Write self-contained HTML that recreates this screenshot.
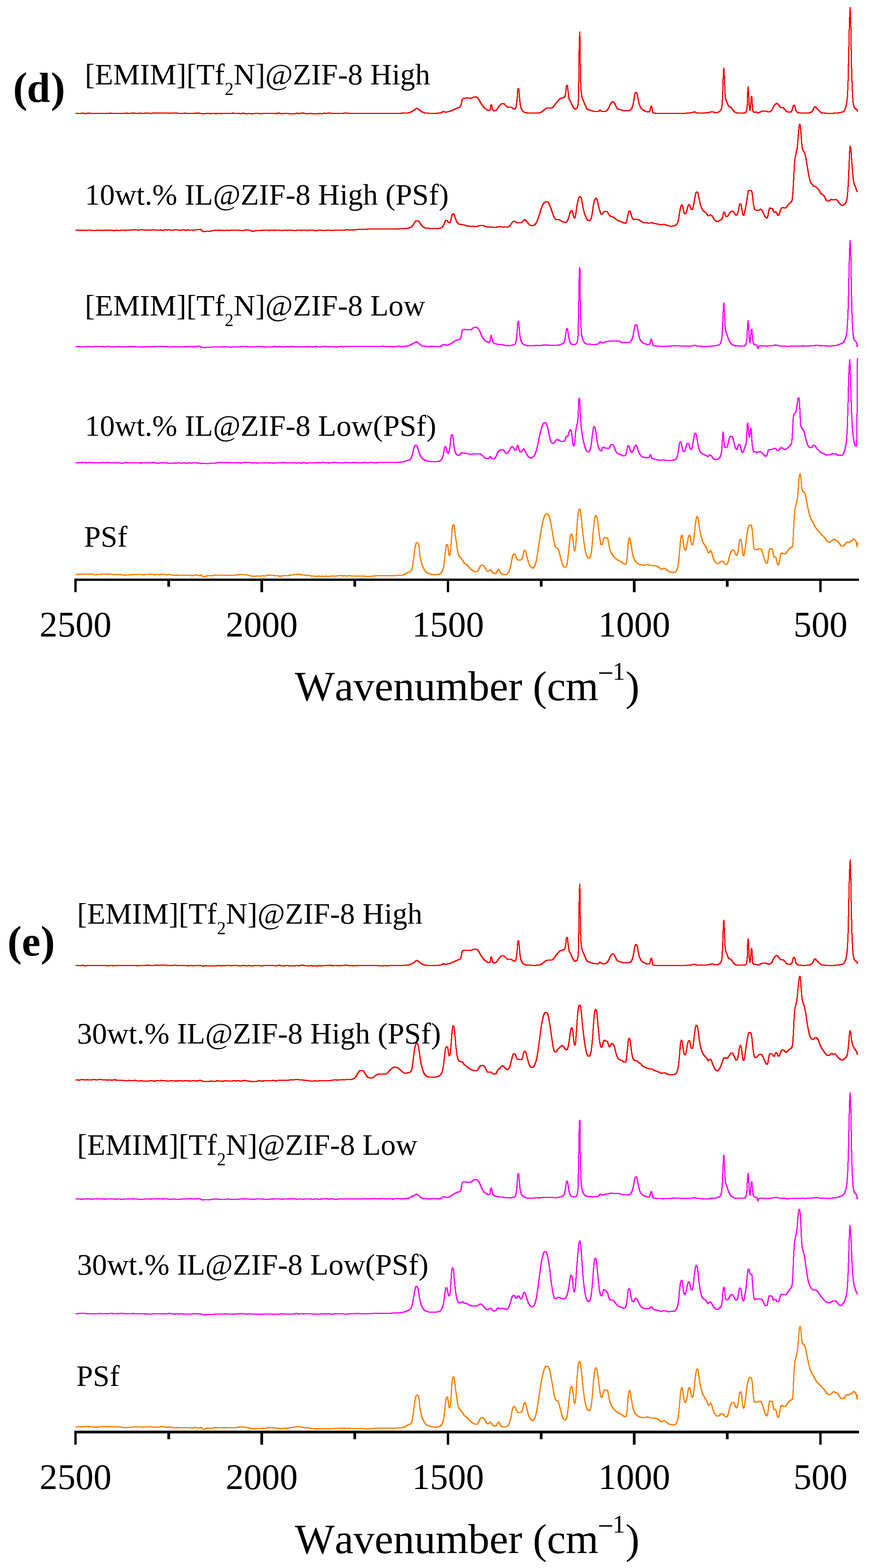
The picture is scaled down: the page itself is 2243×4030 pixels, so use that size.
<!DOCTYPE html>
<html><head><meta charset="utf-8"><title>Raman spectra</title>
<style>html,body{margin:0;padding:0;background:#fff;overflow:hidden}svg{display:block}text{font-family:"Liberation Serif",serif;fill:#000;font-kerning:none}
.r{stroke:#ff0000;filter:drop-shadow(1px 0 0 #ff0000) drop-shadow(-1px 0 0 #ff0000) drop-shadow(0 1px 0 #ff0000) drop-shadow(0 -1px 0 #ff0000)}
.m{stroke:#ff00ff;filter:drop-shadow(1px 0 0 #ff00ff) drop-shadow(-1px 0 0 #ff00ff) drop-shadow(0 1px 0 #ff00ff) drop-shadow(0 -1px 0 #ff00ff)}
.o{stroke:#ff8000;filter:drop-shadow(1px 0 0 #ff8000) drop-shadow(-1px 0 0 #ff8000) drop-shadow(0 1px 0 #ff8000) drop-shadow(0 -1px 0 #ff8000)}</style>
</head><body>
<svg width="2243" height="4030" viewBox="0 0 2243 4030">
<rect width="2243" height="4030" fill="#fff"/>
<g fill="none" stroke-width="1" stroke-linejoin="round" shape-rendering="crispEdges">
<path d="M195,291.8l1,-0.1 1,-0.1 1,0 1,-0.2 1,0 1,0 1,0 1,-0.1 1,0 1,0 1,0.1 1,0 1,0 1,-0.1 1,-0.2 1,-0.3 1,-0.1 1,0.2 1,0.2 1,0.3 1,0.3 1,0.3 1,0 1,0.1 1,0 1,-0.2 1,-0.2 1,-0.3 1,-0.2 1,-0.2 1,-0.1 1,-0.1 1,0.1 1,0.1 1,0 1,0.2 1,0.2 1,0.1 1,0.1 1,0.1 1,0.1 1,-0.1 1,-0.1 1,0.1 1,-0.1 1,-0.1 1,-0.1 1,0 1,-0.1 1,-0.1 1,-0.1 1,0 1,0 1,-0.1 1,0.1 1,0.1 1,0 1,0.1 1,0.1 1,0 1,0.1 1,0.1 1,0 1,0 1,0.1 1,-0.1 1,-0.1 1,-0.1 1,-0.1 1,-0.1 1,-0.1 1,0.1 1,0 1,-0.1 1,0.1 1,0.2 1,0.1 1,0.1 1,0.2 1,0.1 1,0 1,0 1,-0.1 1,-0.2 1,-0.2 1,-0.2 1,-0.2 1,0 1,0 1,0 1,0.2 1,0.3 1,0.2 1,0.1 1,0 1,0 1,-0.1 1,-0.2 1,-0.1 1,0.1 1,-0.1 1,0.1 1,0.1 1,0 1,0 1,-0.1 1,0 1,0 1,0 1,-0.2 1,0 1,0.1 1,-0.2 1,0 1,0.2 1,0 1,-0.2 1,0 1,0.1 1,-0.2 1,0 1,0.1 1,0.1 1,-0.1 1,0 1,-0.1 1,-0.1 1,-0.2 1,0 1,0.1 1,0 1,0.2 1,0.2 1,0.1 1,0.1 1,0 1,-0.1 1,0 1,-0.1 1,-0.1 1,-0.1 1,-0.1 1,-0.1 1,0 1,0 1,0 1,0.1 1,-0.1 1,0 1,-0.1 1,0.1 1,0.2 1,0.1 1,0.2 1,0.3 1,0.1 1,0 1,0.1 1,-0.2 1,-0.2 1,-0.2 1,-0.2 1,-0.1 1,0 1,-0.1 1,-0.1 1,0.1 1,0.1 1,0.1 1,0.2 1,0.3 1,0.1 1,0 1,0 1,0 1,-0.3 1,-0.4 1,-0.2 1,0 1,-0.1 1,0 1,0.2 1,0 1,-0.1 1,-0.2 1,0.1 1,0 1,0.2 1,0.3 1,0.2 1,0.1 1,0.1 1,-0.1 1,-0.3 1,0 1,-0.2 1,-0.2 1,0 1,0.1 1,0 1,-0.1 1,0 1,-0.1 1,-0.1 1,-0.1 1,0 1,-0.1 1,0.1 1,0.1 1,0.1 1,0.1 1,0.1 1,0 1,-0.1 1,-0.1 1,-0.1 1,-0.2 1,0 1,0.1 1,0 1,0.1 1,0 1,0.1 1,-0.1 1,0 1,0.1 1,-0.1 1,0 1,0.1 1,0 1,-0.1 1,0.1 1,0.1 1,0 1,0 1,0.2 1,-0.1 1,-0.1 1,0.1 1,0.1 1,0 1,0.1 1,0 1,-0.1 1,0 1,0 1,0 1,0 1,0 1,0 1,-0.1 1,-0.1 1,-0.1 1,-0.2 1,0 1,0.1 1,0.1 1,0.1 1,0.2 1,0 1,0 1,0.1 1,0 1,0 1,0.3 1,-0.1 1,0 1,0 1,0 1,-0.2 1,0.2 1,0.1 1,-0.1 1,0 1,0.1 1,-0.2 1,0 1,-0.2 1,0 1,-0.1 1,0.2 1,0.1 1,0.3 1,0.1 1,0.1 1,0.1 1,0 1,0 1,0 1,0 1,-0.2 1,-0.2 1,-0.1 1,-0.1 1,0.1 1,0.1 1,0.2 1,0.2 1,0.2 1,0 1,0 1,-0.2 1,-0.1 1,-0.3 1,-0.2 1,-0.2 1,-0.1 1,0 1,0.1 1,0 1,0.2 1,-0.1 1,0 1,-0.2 1,0 1,-0.1 1,0 1,0.2 1,0.2 1,0.3 1,0.2 1,0.1 1,0 1,0.1 1,0.3 1,0.4 1,0.3 1,0.1 1,-0.1 1,-0.3 1,-0.4 1,-0.3 1,-0.1 1,-0.2 1,0.1 1,0.1 1,0.1 1,0 1,-0.1 1,0 1,0 1,0 1,0 1,0.2 1,0.1 1,0 1,-0.1 1,0 1,-0.1 1,0 1,0 1,0 1,0.1 1,0 1,-0.1 1,0.1 1,0 1,0.1 1,-0.1 1,0 1,0.1 1,-0.1 1,-0.4 1,0 1,-0.1 1,-0.2 1,0 1,0.3 1,0.1 1,0.1 1,0.2 1,0.1 1,0 1,-0.2 1,0 1,-0.1 1,-0.1 1,0 1,0.1 1,0 1,0 1,0 1,-0.1 1,-0.2 1,-0.2 1,-0.1 1,-0.1 1,0 1,0 1,0 1,0.1 1,0 1,0 1,0.2 1,0.2 1,0.1 1,0.1 1,0 1,-0.1 1,-0.2 1,-0.3 1,-0.3 1,0 1,0 1,0.1 1,0.2 1,0.4 1,0 1,0.1 1,0 1,0 1,-0.1 1,0 1,0.1 1,0 1,0 1,0 1,0.1 1,0 1,0.1 1,0.1 1,0.1 1,-0.1 1,0.1 1,-0.2 1,-0.2 1,-0.3 1,-0.1 1,-0.2 1,-0.2 1,0.1 1,0.2 1,0.3 1,0.3 1,0.2 1,0.1 1,0 1,0.1 1,0 1,0.1 1,0 1,-0.2 1,-0.2 1,-0.3 1,-0.1 1,-0.1 1,0.2 1,0.3 1,0.3 1,0.2 1,0.3 1,0 1,-0.2 1,-0.1 1,-0.2 1,-0.3 1,-0.2 1,-0.1 1,-0.1 1,-0.1 1,0 1,-0.1 1,-0.1 1,0 1,0 1,0.2 1,0.1 1,0.1 1,0.1 1,0 1,0 1,0.1 1,0.2 1,0.3 1,0.1 1,0.2 1,-0.1 1,-0.2 1,-0.3 1,-0.3 1,-0.2 1,-0.1 1,0.1 1,0.1 1,0 1,-0.1 1,-0.1 1,-0.2 1,-0.1 1,0 1,0 1,0 1,0.1 1,-0.1 1,-0.1 1,0.1 1,0.2 1,0 1,0.2 1,0.1 1,-0.1 1,-0.2 1,0 1,0 1,-0.1 1,0.1 1,0.2 1,0.1 1,0.1 1,0 1,0 1,0.1 1,0.1 1,0 1,0.2 1,0.1 1,-0.4 1,-0.2 1,-0.3 1,-0.5 1,-0.2 1,0 1,0.1 1,0.2 1,0.4 1,0.3 1,0.3 1,0.3 1,0.2 1,0 1,0 1,-0.1 1,-0.1 1,-0.2 1,-0.1 1,0 1,0 1,-0.1 1,-0.1 1,-0.1 1,-0.1 1,-0.3 1,0 1,0.2 1,0.1 1,0.3 1,0.3 1,0 1,0 1,0 1,0 1,-0.1 1,0.1 1,0.1 1,0 1,0 1,-0.1 1,-0.1 1,0.1 1,-0.1 1,0.1 1,0.2 1,0 1,-0.2 1,-0.2 1,-0.4 1,-0.4 1,-0.1 1,0 1,0.3 1,0.3 1,0.3 1,0.1 1,0.1 1,-0.3 1,-0.3 1,-0.2 1,-0.3 1,-0.4 1,0 1,0 1,-0.2 1,0.2 1,0.1 1,0.1 1,0.3 1,0.2 1,0.2 1,0.2 1,0.1 1,0.1 1,0.2 1,0.3 1,0.2 1,0.1 1,0 1,-0.1 1,-0.3 1,-0.3 1,-0.1 1,-0.1 1,0 1,-0.1 1,0 1,0.1 1,0.2 1,0.1 1,0.3 1,0.2 1,0.2 1,-0.1 1,0 1,-0.2 1,-0.3 1,-0.1 1,0.1 1,0.1 1,0.2 1,0.4 1,0 1,-0.3 1,-0.2 1,-0.2 1,-0.4 1,-0.1 1,0 1,0 1,0 1,0.2 1,0.1 1,0.2 1,0.1 1,-0.1 1,-0.2 1,-0.3 1,-0.4 1,-0.3 1,-0.1 1,0 1,0.2 1,0.2 1,0.1 1,0 1,-0.1 1,-0.2 1,0 1,-0.1 1,0 1,0 1,0 1,-0.2 1,0 1,-0.1 1,0.1 1,0.2 1,0.3 1,0.3 1,0.3 1,0 1,0 1,-0.2 1,-0.3 1,-0.1 1,0 1,0 1,0.2 1,0.1 1,0 1,0.1 1,-0.1 1,0 1,0 1,0.1 1,0 1,0.2 1,0 1,-0.1 1,-0.3 1,-0.1 1,-0.2 1,-0.1 1,0.1 1,0.3 1,0.1 1,0.1 1,-0.1 1,-0.2 1,-0.3 1,-0.2 1,-0.3 1,-0.1 1,-0.1 1,-0.1 1,0 1,0.1 1,0.1 1,0.2 1,0.2 1,0.2 1,0.2 1,0.2 1,0.2 1,0.1 1,0.1 1,-0.1 1,-0.2 1,-0.1 1,-0.1 1,0.1 1,0.2 1,0.1 1,0.1 1,0 1,-0.1 1,-0.2 1,-0.2 1,-0.1 1,0.1 1,0.1 1,0.1 1,0.2 1,0 1,-0.1 1,-0.1 1,-0.1 1,-0.1 1,0 1,0 1,-0.1 1,0 1,-0.1 1,0.1 1,0 1,0.1 1,0.1 1,0.1 1,0.1 1,0 1,-0.1 1,-0.1 1,0 1,0 1,0.1 1,0 1,0 1,0 1,0 1,-0.1 1,0 1,0 1,0 1,0 1,0 1,0.1 1,0 1,0 1,0.1 1,0 1,0 1,0 1,0 1,0 1,-0.1 1,0 1,-0.1 1,0 1,-0.1 1,0 1,0 1,0.1 1,0.1 1,0 1,0.1 1,0 1,0 1,0 1,0 1,0 1,0.1 1,0 1,0 1,0 1,0 1,0 1,0 1,0 1,0 1,0 1,0 1,0 1,-0.1 1,0 1,0 1,0 1,0 1,0.1 1,0 1,0 1,0 1,0 1,0 1,-0.1 1,0 1,0 1,0 1,0 1,0 1,0 1,0 1,0 1,-0.1 1,0 1,0 1,0 1,0 1,0 1,-0.1 1,0 1,0 1,0 1,0 1,-0.1 1,0 1,0 1,0 1,0 1,-0.1 1,0 1,0 1,0 1,-0.1 1,0 1,0 1,-0.1 1,0 1,0 1,-0.1 1,0 1,0 1,-0.1 1,0 1,0 1,-0.1 1,0 1,-0.1 1,0 1,-0.1 1,0 1,-0.1 1,-0.1 1,-0.1 1,-0.1 1,-0.1 1,-0.1 1,-0.1 1,-0.2 1,-0.2 1,-0.4 1,-0.4 1,-0.5 1,-0.4 1,-0.6 1,-0.5 1,-0.5 1,-0.5 1,-0.6 1,-0.7 1,-0.7 1,-0.6 1,-0.7 1,-0.7 1,-0.8 1,-1 1,-0.8 1,-0.7 0.9,-0.2 1.1,0.3 1,0.6 1,0.9 1,0.8 1,0.9 1,0.7 1,0.7 1,0.8 1,0.8 1,0.8 1,0.7 1,0.6 1,0.5 1,0.4 1,0.5 1,0.4 1,0.5 1,0.3 1,0.4 1,0.3 1,0.2 1,0.2 1,0.1 1,0 1,0.1 1,0.1 1,0.1 1,0 1,0.1 1,0 1,0.1 1,0.1 1,0 1,0 1,0.1 1,0 1,0 1,0.1 1,0 1,0 1,0 1,0 1,0 1,0 1,0 1,0 1,0 1,-0.1 1,0 1,-0.1 1,0 1,-0.1 1,-0.1 1,0 1,-0.1 1,-0.1 1,-0.1 1,-0.1 1,-0.2 1,-0.1 1,-0.1 1,-0.2 1,-0.3 1,-0.6 1,-0.8 1,-0.9 1,-0.6 1,-0.4 1,0.2 1,0.5 1,0.6 1,0.4 1,0.1 1,0 1,-0.1 1,-0.1 1,-0.2 1,-0.2 1,-0.1 1,-0.2 1,-0.2 1,-0.2 1,-0.3 1,-0.3 1,-0.3 1,-0.4 1,-0.4 1,-0.4 1,-0.4 1,-0.5 1,-0.4 1,-0.4 1,-0.5 1,-0.4 1,-0.4 1,-0.5 1,-0.4 1,-0.5 1,-0.4 1,-0.5 1,-0.5 1,-0.4 1,-0.5 1,-0.4 1,-0.4 1,-0.4 1,-0.3 1,-0.3 1,-0.4 1,-0.4 1,-0.6 1,-1.3 1,-2.3 1,-3 1,-5.3 1,-6.2 1,-2.1 1,-0.9 1,-0.7 1,-0.5 1,-0.2 1,-0.1 1,-0.1 1,0 1,-0.1 1,-0.1 1,0 1,-0.1 1,0 1,0 1,0 1,0 1,0.1 1,0.1 1,0.1 1,0.1 1,0.1 1,0.1 1,-0.1 1,-0.2 1,-0.4 1,-0.4 1,-0.5 1,-0.5 1,-0.4 1,-0.2 1,-0.2 1,-0.2 1,-0.2 1,-0.2 1,0 1,0 1,0.3 1,0.5 1,0.7 1,0.8 1,1 1,1.5 1,1.6 1,1.7 1,1.7 1,1.7 1,1.9 1,1.9 1,1.7 1,1.6 1,1.5 1,1.3 1,1.4 1,1.2 1,1.2 1,1.2 1,1 1,1 1,0.8 1,0.8 1,0.9 1,0.8 1,0.7 1,0.7 1,0.6 1,0.5 1,0.2 0.8,0.1 1.2,0 1,-0.2 1,-0.2 1,-0.4 1,-3.7 1,-7.8 1,-1.7 1,0 1,5.1 1,6.4 1,1.6 1,1.1 1,0.8 1,0.4 0.5,0.1 0.5,0 1,-0.2 1,-0.4 1,-0.4 1,-0.6 1,-0.6 1,-0.7 1,-1.1 1,-1.5 1,-1.7 1,-1.7 1,-1.6 1,-1.4 1,-1.1 1,-1.1 1,-1.1 1,-1 1,-0.9 1,-0.7 1,-0.5 1,-0.2 1,0 1,0 1,0 1,0 1,0.2 1,0.9 1,1.2 1,1.3 1,1 1,1 1,1 1,0.9 1,0.8 1,0.4 1,0.1 1,0 1,0 1,0 1,0 1,0 1,0 1,0 1,0.2 1,0.4 1,0.6 1,0.6 1,0.7 1,0.6 1,0.6 1,0.7 1,0.6 1.2,0.3 0.8,-0.4 1,-1.3 1,-1.9 1,-2.7 1,-5.8 1,-8.2 1,-9.7 1,-14.9 1,-7.8 1,0 1,0.7 1,10.8 1,11.8 1,10.3 1,8.7 1,4.5 1,3.3 1,2.5 1,1.8 1,1.5 1,1.3 1,1.2 1,0.9 1,0.8 1,0.5 1,0.3 1,0.3 1,0.3 1,0.3 1,0.2 1,0.2 1,0.1 1,0.2 1,0.1 1,0 1,0.1 1,0 1,0 1,0.1 1,0 1,0 1,0 1,0 1,0.1 1,0 1,0 1,0 1,0 1,0 1,0 1,0 1,0 1,0 1,0 1,0 1,0 1,-0.1 1,0 1,-0.1 1,-0.1 1,-0.1 1,-0.1 1,-0.1 1,-0.2 1,-0.1 1,-0.3 1,-0.5 1,-0.5 1,-0.7 1,-0.7 1,-0.8 1,-0.7 1,-0.7 1,-0.7 1,-0.8 1,-0.9 1,-0.9 1,-0.9 1,-0.9 1,-0.7 1,-0.6 1,-0.3 1,-0.2 1,-0.1 1,-0.2 1,0 1,-0.1 1,-0.1 1,0 1,-0.1 1,0 1,-0.1 1,-0.1 1,-0.1 1,-0.1 1,-0.1 1,-0.2 1,-0.5 1,-0.8 1,-1.2 1,-1.4 1,-1.6 1,-1.5 1,-1.4 1,-1.2 1,-1.2 1,-1.2 1,-1.3 1,-1.2 1,-1.2 1,-1.1 1,-1.1 1,-1.2 1,-1.2 1,-1.1 1,-1 1,-0.8 1,-0.4 1,-0.4 1,-0.3 1,-0.2 1,-0.2 1,-0.2 1,-0.3 1,-0.4 1,-0.4 1,-0.5 1,-0.6 1,-1 1,-2.4 1,-5.4 1,-7 1,-10.7 1,-3.7 1,-0.4 0.4,0 0.6,2.2 1,9.1 1,8.2 1,8.4 1,6 1,2.7 1,1.8 1,1.6 1,1.8 1,2.2 1,2.5 1,2.5 1,2.4 1,2.1 1,1.6 1,1.5 1,1.5 1,1.3 1,1.1 1,0.6 0.6,0.1 0.4,0 1,-0.2 1,-0.5 1,-0.6 1,-0.8 1,-1.5 1,-3 1,-4.6 1,-11.7 1,-47.1 1,-81.6 1.3,-46.1 0.7,12.9 1,71.7 1,45.9 1,19.6 1,9.5 1,5.9 1,3.8 1,2.9 1,2.3 1,2.2 1,2.4 1,2.4 1,2.4 1,2.3 1,2.2 1,2.3 1,2.4 1,2.1 1,1.6 1,0.8 1,0.6 1,0.5 1,0.5 1,0.4 1,0.3 1,0.4 1,0.3 1,0.3 1,0.3 1,0.3 1,0.3 1,0.3 1,0.3 1,0.3 1,0.3 1,0.2 1,0.2 1,0.2 1,0.1 1,0.2 1,0.1 1,0.1 1,0 1,0.1 1,0.1 1,0.1 1,0 1,0 1,-0.1 1,-1.1 1,-1.7 1,-1.3 0.5,-0.2 0.5,0.2 1,0.9 1,1.1 1,0.8 1,0.4 1,0.3 1,0.3 1,0.2 1,0.2 1,0 1,0 1,-0.2 1,-0.3 1,-0.4 1,-0.4 1,-0.6 1,-0.5 1,-0.7 1,-0.7 1,-1.2 1,-1.6 1,-1.8 1,-1.8 1,-2 1,-2.4 1,-2.4 1,-2.3 1,-1.7 1,-1.2 1,-1.1 1,-1 1,-0.8 1,-0.5 0.9,-0.1 1.1,0.5 1,1 1,1.4 1,1.4 1,1.8 1,2.2 1,2.3 1,1.9 1,1.6 1,1.6 1,1.4 1,1 1,0.6 1,0.5 1,0.4 1,0.3 1,0.3 1,0.3 1,0.3 1,0.2 1,0.3 1,0.3 1,0.3 1,0.3 1,0.3 1,0.3 1,0.2 1,0.2 1,0.1 1,0.1 1,0 1,0 1,0 1,0 1,0 1,0 1,0 1,0 1,0 1,-0.1 1,-0.3 1,-0.4 1,-0.5 1,-0.6 1,-0.7 1,-0.8 1,-1.1 1,-1.6 1,-2.1 1,-2.6 1,-3.2 1,-4.9 1,-5.6 1,-5.6 1,-6.5 1,-5.3 1,-2.6 1,-1.9 1.3,-1.1 0.7,0.4 1,1.4 1,2.1 1,3.5 1,6.2 1,6.1 1,4.7 1,4.2 1,3.4 1,2.6 1,2.3 1,1.9 1,1.6 1,1.2 1,1.1 1,0.9 1,0.9 1,0.7 1,0.7 1,0.6 1,0.5 1,0.5 1,0.5 1,0.5 1,0.4 1,0.4 1,0.4 1,0.3 1,0.2 1,0.2 1,0 1,-0.1 1,-0.3 1,-0.5 1,-0.7 1,-1.9 1,-5.4 1,-3.9 1,-2 0.6,-0.4 0.4,0.6 1,3.9 1,5.1 1,6.2 1,1.8 1,0.3 1,0.2 1,0.1 1,0.2 1,0.1 1,0.1 1,0.1 1,0.1 1,0 1,0.1 1,0 1,0.1 1,0 1,0 1,0 1,0 1,0.1 1,0 1,0 1,0 1,0 1,0 1,0.1 1,0 1,0 1,0 1,0 1,0 1,0 1,0 1,0.1 1,0 1,0 1,0 1,0 1,0 1,0 1,0 1,0 1,0 1,0 1,0 1,0 1,0 1,0 1,0 1,0 1,0 1,0 1,0 1,0 1,0 1,0 1,0 1,0 1,0 1,0 1,-0.1 1,0 1,0 1,0 1,0 1,0 1,0 1,0 1,-0.1 1,0 1,0 1,0 1,0 1,0 1,-0.1 1,0 1,0 1,0 1,0 1,-0.1 1,0 1,0 1,-0.1 1,0 1,-0.1 1,0 1,-0.1 1,0 1,-0.1 1,-0.1 1,0 1,-0.1 1,-0.1 1,-0.1 1,-0.1 1,-0.1 1,-0.1 1,0 1,-0.1 1,-0.2 1,-0.1 1,-0.2 1,-0.3 1,-0.3 1,-0.3 1,-0.2 1,-0.3 1,-0.2 1,-0.1 1,0 1,0.2 1,0.4 1,0.5 1,0.5 1,0.4 1,0.4 1,0.2 1,0 1,0 1,0 1,0 1,0 1,0 1,0 1,0 1,0 1,-0.1 1,0 1,0 1,0 1,-0.1 1,0 1,0 1,-0.1 1,0 1,0 1,-0.1 1,0 1,-0.1 1,0 1,-0.1 1,0 1,-0.1 1,-0.1 1,-0.1 1,-0.2 1,-0.3 1,-0.3 1,-0.4 1,-0.3 1,-0.3 1,-0.2 1,-0.2 1,-0.1 1,0 1,0.2 1,0.2 1,0.3 1,0.3 1,0.3 1,0.4 1,0.3 1,0.2 1,0.2 1.2,0.1 0.8,-0.1 1,-0.1 1,-0.3 1,-0.3 1,-0.5 1,-0.5 1,-0.6 1,-0.6 1,-0.7 1,-0.8 1,-1 1,-1.4 1,-2 1,-2.7 1,-7.3 1,-14.4 1,-21.5 1,-32.4 1,-21.3 0.6,-5.8 0.4,2 1,17 1,25.9 1,21.4 1,10.1 1,4.2 1,2.5 1,2 1,2.1 1,2.7 1,2.9 1,2.6 1,1.9 1,0.8 1,0.4 1,0.2 1,0.3 1,0.3 1,0.8 1,1.2 1,1.5 1,1.6 1,1.4 1,1.3 1,1.4 1,1.3 1,1.2 1,1 1,0.7 1,0.5 1,0.4 1,0.4 1,0.3 1,0.2 1,0.2 1,0.2 1,0 1,0 1,0 1,0 1,0 1,0 1,0 1,0 1,0 1,0 1,0 1,0 1,0 1,0 1,0 1,0 1,-0.1 1,-0.1 1,-0.4 1,-0.5 1,-0.7 1,-0.9 1,-1.8 1,-5.8 1,-10.5 1,-33 1.3,-13.5 0.7,6.6 1,19.7 1,23 1,8.8 1,2.4 1,-6.5 1,-12.2 1,-14.4 1.3,-2.7 0.7,4.9 1,16.2 1,14.6 1,2.7 1,1.8 1,0.8 0.5,0 0.5,0 1,-0.1 1,-0.3 1,-0.2 1,-0.2 1,-0.1 1,0.4 1,0.7 1,0.7 1,0.6 1,0.1 1,-0.2 1,-0.4 1,-0.6 1,-0.6 1,-0.6 1,-0.5 1,-0.4 1,-0.5 1,-0.4 1,-0.5 1,-0.3 1,-0.2 1,-0.1 1,0 1,0.1 1,0 1,0 1,0.1 1,0.1 1,0 1,0.2 1,0.3 1,0.6 1,0.6 1,0.5 1,0.3 0.5,0 0.5,0 1,-0.1 1,-0.3 1,-0.4 1,-0.6 1,-0.6 1,-0.7 1,-0.8 1,-1.1 1,-1.9 1,-2.3 1,-2.4 1,-1.9 1,-1.7 1,-1.7 1,-1.5 1,-1.3 1,-0.8 1,-0.8 1,-0.6 1,-0.5 1.2,-0.2 0.8,0.2 1,0.9 1,1.2 1,1.3 1,1.2 1,1.4 1,1.5 1,1.4 1,0.9 1,0.3 1,0.1 1,0.1 1,0 1,0.1 1,0.1 1,0.2 1,0.7 1,1.1 1,1.3 1,1.2 1,1 1,1.3 1,1.2 1,1.2 1,0.9 1,0.7 1,0.2 1,0.2 1,0.2 1,0.1 1,0.2 1,0 1,0.1 1,0 1,-0.1 1,-0.6 1,-1 1,-1.2 1,-1.5 1,-3.4 1,-4.3 1,-2.9 1,-1.7 1.3,-1.2 0.7,0.5 1,2 1,2.7 1,4.3 1,4.5 1,1.9 1,1.1 1,0.8 1,0.7 1,0.5 1,0.3 1,0.2 1,0.2 1,0.1 1,0.2 1,0.1 1,0.1 1,0.1 1,0.1 1,0.1 1,0.1 1,0 1,0.1 1,0 1,0 1,0 1,0 1,0 1,0 1,-0.1 1,0 1,-0.1 1,0 1,-0.1 1,-0.1 1,0 1,-0.1 1,-0.1 1,-0.1 1,-0.3 1,-0.3 1,-0.4 1,-0.5 1,-0.5 1,-0.7 1,-0.8 1,-0.8 1,-1.2 1,-2.2 1,-2.6 1,-2.2 1,-1.5 1,-1.5 1.1,-0.6 0.9,0.3 1,0.9 1,1.2 1,1.2 1,1.1 1,1.1 1,1.1 1,1.1 1,1 1,0.8 1,0.9 1,0.9 1,1 1,1 1,0.9 1,0.6 1,0.5 1,0.4 1,0.2 1,0.2 1,0.1 1,0 1,-0.1 1,0 1,0 1,0 1,0.1 1,0.3 1,0.2 1,0.2 1,0.2 1,0.2 1,-0.1 1,-0.1 1,-0.1 1,-0.2 1,-0.1 1,0.2 1,0.1 1,0.2 1,0 1,0 1,-0.1 1,-0.2 1,-0.1 1,0 1,-0.2 1,-0.1 1,0 1,-0.1 1,-0.1 1,0 1,0 1,-0.2 1,0 1,0 1,0 1,-0.2 1,0 1,-0.2 1,-0.2 1,-0.2 1,0 1,-0.2 1,-0.2 1,-0.3 1,-0.3 1,-0.3 1,-0.2 1,-0.3 1,-0.3 1,-0.3 1,-0.4 1,-1 1,-1.2 1,-1.8 1,-2.2 1,-2.4 1,-2.9 1,-4.2 1,-5.5 1,-7 1,-10 1,-16.2 1,-23.4 1,-42.8 1,-45 1,-44.1 1,-32.4 1.3,-25 0.7,11.3 1,36.2 1,59.4 1,47.3 1,35.5 1,24.6 1,18.2 1,10.1 1,6.8 1,4 1,2.4 1,1.8 1,1.2 1,1 1,0.8 1,0.3 1,0.5 1,1.2 1,2.8 0.2,0.8" stroke="#ff0000" stroke-width="3"/><g class="r"><path d="M195,291.8l1,-0.1 1,-0.1 1,0 1,-0.2 1,0 1,0 1,0 1,-0.1 1,0 1,0 1,0.1 1,0 1,0 1,-0.1 1,-0.2 1,-0.3 1,-0.1 1,0.2 1,0.2 1,0.3 1,0.3 1,0.3 1,0 1,0.1 1,0 1,-0.2 1,-0.2 1,-0.3 1,-0.2 1,-0.2 1,-0.1 1,-0.1 1,0.1 1,0.1 1,0 1,0.2 1,0.2 1,0.1 1,0.1 1,0.1 1,0.1 1,-0.1 1,-0.1 1,0.1 1,-0.1 1,-0.1 1,-0.1 1,0 1,-0.1 1,-0.1 1,-0.1 1,0 1,0 1,-0.1 1,0.1 1,0.1 1,0 1,0.1 1,0.1 1,0 1,0.1 1,0.1 1,0 1,0 1,0.1 1,-0.1 1,-0.1 1,-0.1 1,-0.1 1,-0.1 1,-0.1 1,0.1 1,0 1,-0.1 1,0.1 1,0.2 1,0.1 1,0.1 1,0.2 1,0.1 1,0 1,0 1,-0.1 1,-0.2 1,-0.2 1,-0.2 1,-0.2 1,0 1,0 1,0 1,0.2 1,0.3 1,0.2 1,0.1 1,0 1,0 1,-0.1 1,-0.2 1,-0.1 1,0.1 1,-0.1 1,0.1 1,0.1 1,0 1,0 1,-0.1 1,0 1,0 1,0 1,-0.2 1,0 1,0.1 1,-0.2 1,0 1,0.2 1,0 1,-0.2 1,0 1,0.1 1,-0.2 1,0 1,0.1 1,0.1 1,-0.1 1,0 1,-0.1 1,-0.1 1,-0.2 1,0 1,0.1 1,0 1,0.2 1,0.2 1,0.1 1,0.1 1,0 1,-0.1 1,0 1,-0.1 1,-0.1 1,-0.1 1,-0.1 1,-0.1 1,0 1,0 1,0 1,0.1 1,-0.1 1,0 1,-0.1 1,0.1 1,0.2 1,0.1 1,0.2 1,0.3 1,0.1 1,0 1,0.1 1,-0.2 1,-0.2 1,-0.2 1,-0.2 1,-0.1 1,0 1,-0.1 1,-0.1 1,0.1 1,0.1 1,0.1 1,0.2 1,0.3 1,0.1 1,0 1,0 1,0 1,-0.3 1,-0.4 1,-0.2 1,0 1,-0.1 1,0 1,0.2 1,0 1,-0.1 1,-0.2 1,0.1 1,0 1,0.2 1,0.3 1,0.2 1,0.1 1,0.1 1,-0.1 1,-0.3 1,0 1,-0.2 1,-0.2 1,0 1,0.1 1,0 1,-0.1 1,0 1,-0.1 1,-0.1 1,-0.1 1,0 1,-0.1 1,0.1 1,0.1 1,0.1 1,0.1 1,0.1 1,0 1,-0.1 1,-0.1 1,-0.1 1,-0.2 1,0 1,0.1 1,0 1,0.1 1,0 1,0.1 1,-0.1 1,0 1,0.1 1,-0.1 1,0 1,0.1 1,0 1,-0.1 1,0.1 1,0.1 1,0 1,0 1,0.2 1,-0.1 1,-0.1 1,0.1 1,0.1 1,0 1,0.1 1,0 1,-0.1 1,0 1,0 1,0 1,0 1,0 1,0 1,-0.1 1,-0.1 1,-0.1 1,-0.2 1,0 1,0.1 1,0.1 1,0.1 1,0.2 1,0 1,0 1,0.1 1,0 1,0 1,0.3 1,-0.1 1,0 1,0 1,0 1,-0.2 1,0.2 1,0.1 1,-0.1 1,0 1,0.1 1,-0.2 1,0 1,-0.2 1,0 1,-0.1 1,0.2 1,0.1 1,0.3 1,0.1 1,0.1 1,0.1 1,0 1,0 1,0 1,0 1,-0.2 1,-0.2 1,-0.1 1,-0.1 1,0.1 1,0.1 1,0.2 1,0.2 1,0.2 1,0 1,0 1,-0.2 1,-0.1 1,-0.3 1,-0.2 1,-0.2 1,-0.1 1,0 1,0.1 1,0 1,0.2 1,-0.1 1,0 1,-0.2 1,0 1,-0.1 1,0 1,0.2 1,0.2 1,0.3 1,0.2 1,0.1 1,0 1,0.1 1,0.3 1,0.4 1,0.3 1,0.1 1,-0.1 1,-0.3 1,-0.4 1,-0.3 1,-0.1 1,-0.2 1,0.1 1,0.1 1,0.1 1,0 1,-0.1 1,0 1,0 1,0 1,0 1,0.2 1,0.1 1,0 1,-0.1 1,0 1,-0.1 1,0 1,0 1,0 1,0.1 1,0 1,-0.1 1,0.1 1,0 1,0.1 1,-0.1 1,0 1,0.1 1,-0.1 1,-0.4 1,0 1,-0.1 1,-0.2 1,0 1,0.3 1,0.1 1,0.1 1,0.2 1,0.1 1,0 1,-0.2 1,0 1,-0.1 1,-0.1 1,0 1,0.1 1,0 1,0 1,0 1,-0.1 1,-0.2 1,-0.2 1,-0.1 1,-0.1 1,0 1,0 1,0 1,0.1 1,0 1,0 1,0.2 1,0.2 1,0.1 1,0.1 1,0 1,-0.1 1,-0.2 1,-0.3 1,-0.3 1,0 1,0 1,0.1 1,0.2 1,0.4 1,0 1,0.1 1,0 1,0 1,-0.1 1,0 1,0.1 1,0 1,0 1,0 1,0.1 1,0 1,0.1 1,0.1 1,0.1 1,-0.1 1,0.1 1,-0.2 1,-0.2 1,-0.3 1,-0.1 1,-0.2 1,-0.2 1,0.1 1,0.2 1,0.3 1,0.3 1,0.2 1,0.1 1,0 1,0.1 1,0 1,0.1 1,0 1,-0.2 1,-0.2 1,-0.3 1,-0.1 1,-0.1 1,0.2 1,0.3 1,0.3 1,0.2 1,0.3 1,0 1,-0.2 1,-0.1 1,-0.2 1,-0.3 1,-0.2 1,-0.1 1,-0.1 1,-0.1 1,0 1,-0.1 1,-0.1 1,0 1,0 1,0.2 1,0.1 1,0.1 1,0.1 1,0 1,0 1,0.1 1,0.2 1,0.3 1,0.1 1,0.2 1,-0.1 1,-0.2 1,-0.3 1,-0.3 1,-0.2 1,-0.1 1,0.1 1,0.1 1,0 1,-0.1 1,-0.1 1,-0.2 1,-0.1 1,0 1,0 1,0 1,0.1 1,-0.1 1,-0.1 1,0.1 1,0.2 1,0 1,0.2 1,0.1 1,-0.1 1,-0.2 1,0 1,0 1,-0.1 1,0.1 1,0.2 1,0.1 1,0.1 1,0 1,0 1,0.1 1,0.1 1,0 1,0.2 1,0.1 1,-0.4 1,-0.2 1,-0.3 1,-0.5 1,-0.2 1,0 1,0.1 1,0.2 1,0.4 1,0.3 1,0.3 1,0.3 1,0.2 1,0 1,0 1,-0.1 1,-0.1 1,-0.2 1,-0.1 1,0 1,0 1,-0.1 1,-0.1 1,-0.1 1,-0.1 1,-0.3 1,0 1,0.2 1,0.1 1,0.3 1,0.3 1,0 1,0 1,0 1,0 1,-0.1 1,0.1 1,0.1 1,0 1,0 1,-0.1 1,-0.1 1,0.1 1,-0.1 1,0.1 1,0.2 1,0 1,-0.2 1,-0.2 1,-0.4 1,-0.4 1,-0.1 1,0 1,0.3 1,0.3 1,0.3 1,0.1 1,0.1 1,-0.3 1,-0.3 1,-0.2 1,-0.3 1,-0.4 1,0 1,0 1,-0.2 1,0.2 1,0.1 1,0.1 1,0.3 1,0.2 1,0.2 1,0.2 1,0.1 1,0.1 1,0.2 1,0.3 1,0.2 1,0.1 1,0 1,-0.1 1,-0.3 1,-0.3 1,-0.1 1,-0.1 1,0 1,-0.1 1,0 1,0.1 1,0.2 1,0.1 1,0.3 1,0.2 1,0.2 1,-0.1 1,0 1,-0.2 1,-0.3 1,-0.1 1,0.1 1,0.1 1,0.2 1,0.4 1,0 1,-0.3 1,-0.2 1,-0.2 1,-0.4 1,-0.1 1,0 1,0 1,0 1,0.2 1,0.1 1,0.2 1,0.1 1,-0.1 1,-0.2 1,-0.3 1,-0.4 1,-0.3 1,-0.1 1,0 1,0.2 1,0.2 1,0.1 1,0 1,-0.1 1,-0.2 1,0 1,-0.1 1,0 1,0 1,0 1,-0.2 1,0 1,-0.1 1,0.1 1,0.2 1,0.3 1,0.3 1,0.3 1,0 1,0 1,-0.2 1,-0.3 1,-0.1 1,0 1,0 1,0.2 1,0.1 1,0 1,0.1 1,-0.1 1,0 1,0 1,0.1 1,0 1,0.2 1,0 1,-0.1 1,-0.3 1,-0.1 1,-0.2 1,-0.1 1,0.1 1,0.3 1,0.1 1,0.1 1,-0.1 1,-0.2 1,-0.3 1,-0.2 1,-0.3 1,-0.1 1,-0.1 1,-0.1 1,0 1,0.1 1,0.1 1,0.2 1,0.2 1,0.2 1,0.2 1,0.2 1,0.2 1,0.1 1,0.1 1,-0.1 1,-0.2 1,-0.1 1,-0.1 1,0.1 1,0.2 1,0.1 1,0.1 1,0 1,-0.1 1,-0.2 1,-0.2 1,-0.1 1,0.1 1,0.1 1,0.1 1,0.2 1,0 1,-0.1 1,-0.1 1,-0.1 1,-0.1 1,0 1,0 1,-0.1 1,0 1,-0.1 1,0.1 1,0 1,0.1 1,0.1 1,0.1 1,0.1 1,0 1,-0.1 1,-0.1 1,0 1,0 1,0.1 1,0 1,0 1,0 1,0 1,-0.1 1,0 1,0 1,0 1,0 1,0 1,0.1 1,0 1,0 1,0.1 1,0 1,0 1,0 1,0 1,0 1,-0.1 1,0 1,-0.1 1,0 1,-0.1 1,0 1,0 1,0.1 1,0.1 1,0 1,0.1 1,0 1,0 1,0 1,0 1,0 1,0.1 1,0 1,0 1,0 1,0 1,0 1,0 1,0 1,0 1,0 1,0 1,0 1,-0.1 1,0 1,0 1,0 1,0 1,0.1 1,0 1,0 1,0 1,0 1,0 1,-0.1 1,0 1,0 1,0 1,0 1,0 1,0 1,0 1,0 1,-0.1 1,0 1,0 1,0 1,0 1,0 1,-0.1 1,0 1,0 1,0 1,0 1,-0.1 1,0 1,0 1,0 1,0 1,-0.1 1,0 1,0 1,0 1,-0.1 1,0 1,0 1,-0.1 1,0 1,0 1,-0.1 1,0 1,0 1,-0.1 1,0 1,0 1,-0.1 1,0 1,-0.1 1,0 1,-0.1 1,0 1,-0.1 1,-0.1 1,-0.1 1,-0.1 1,-0.1 1,-0.1 1,-0.1 1,-0.2 1,-0.2 1,-0.4 1,-0.4 1,-0.5 1,-0.4 1,-0.6 1,-0.5 1,-0.5 1,-0.5 1,-0.6 1,-0.7 1,-0.7 1,-0.6 1,-0.7 1,-0.7 1,-0.8 1,-1 1,-0.8 1,-0.7 0.9,-0.2 1.1,0.3 1,0.6 1,0.9 1,0.8 1,0.9 1,0.7 1,0.7 1,0.8 1,0.8 1,0.8 1,0.7 1,0.6 1,0.5 1,0.4 1,0.5 1,0.4 1,0.5 1,0.3 1,0.4 1,0.3 1,0.2 1,0.2 1,0.1 1,0 1,0.1 1,0.1 1,0.1 1,0 1,0.1 1,0 1,0.1 1,0.1 1,0 1,0 1,0.1 1,0 1,0 1,0.1 1,0 1,0 1,0 1,0 1,0 1,0 1,0 1,0 1,0 1,-0.1 1,0 1,-0.1 1,0 1,-0.1 1,-0.1 1,0 1,-0.1 1,-0.1 1,-0.1 1,-0.1 1,-0.2 1,-0.1 1,-0.1 1,-0.2 1,-0.3 1,-0.6 1,-0.8 1,-0.9 1,-0.6 1,-0.4 1,0.2 1,0.5 1,0.6 1,0.4 1,0.1 1,0 1,-0.1 1,-0.1 1,-0.2 1,-0.2 1,-0.1 1,-0.2 1,-0.2 1,-0.2 1,-0.3 1,-0.3 1,-0.3 1,-0.4 1,-0.4 1,-0.4 1,-0.4 1,-0.5 1,-0.4 1,-0.4 1,-0.5 1,-0.4 1,-0.4 1,-0.5 1,-0.4 1,-0.5 1,-0.4 1,-0.5 1,-0.5 1,-0.4 1,-0.5 1,-0.4 1,-0.4 1,-0.4 1,-0.3 1,-0.3 1,-0.4 1,-0.4 1,-0.6 1,-1.3 1,-2.3 1,-3 1,-5.3 1,-6.2 1,-2.1 1,-0.9 1,-0.7 1,-0.5 1,-0.2 1,-0.1 1,-0.1 1,0 1,-0.1 1,-0.1 1,0 1,-0.1 1,0 1,0 1,0 1,0 1,0.1 1,0.1 1,0.1 1,0.1 1,0.1 1,0.1 1,-0.1 1,-0.2 1,-0.4 1,-0.4 1,-0.5 1,-0.5 1,-0.4 1,-0.2 1,-0.2 1,-0.2 1,-0.2 1,-0.2 1,0 1,0 1,0.3 1,0.5 1,0.7 1,0.8 1,1 1,1.5 1,1.6 1,1.7 1,1.7 1,1.7 1,1.9 1,1.9 1,1.7 1,1.6 1,1.5 1,1.3 1,1.4 1,1.2 1,1.2 1,1.2 1,1 1,1 1,0.8 1,0.8 1,0.9 1,0.8 1,0.7 1,0.7 1,0.6 1,0.5 1,0.2 0.8,0.1 1.2,0 1,-0.2 1,-0.2 1,-0.4 1,-3.7 1,-7.8 1,-1.7 1,0 1,5.1 1,6.4 1,1.6 1,1.1 1,0.8 1,0.4 0.5,0.1 0.5,0 1,-0.2 1,-0.4 1,-0.4 1,-0.6 1,-0.6 1,-0.7 1,-1.1 1,-1.5 1,-1.7 1,-1.7 1,-1.6 1,-1.4 1,-1.1 1,-1.1 1,-1.1 1,-1 1,-0.9 1,-0.7 1,-0.5 1,-0.2 1,0 1,0 1,0 1,0 1,0.2 1,0.9 1,1.2 1,1.3 1,1 1,1 1,1 1,0.9 1,0.8 1,0.4 1,0.1 1,0 1,0 1,0 1,0 1,0 1,0 1,0 1,0.2 1,0.4 1,0.6 1,0.6 1,0.7 1,0.6 1,0.6 1,0.7 1,0.6 1.2,0.3 0.8,-0.4 1,-1.3 1,-1.9 1,-2.7 1,-5.8 1,-8.2 1,-9.7 1,-14.9 1,-7.8 1,0 1,0.7 1,10.8 1,11.8 1,10.3 1,8.7 1,4.5 1,3.3 1,2.5 1,1.8 1,1.5 1,1.3 1,1.2 1,0.9 1,0.8 1,0.5 1,0.3 1,0.3 1,0.3 1,0.3 1,0.2 1,0.2 1,0.1 1,0.2 1,0.1 1,0 1,0.1 1,0 1,0 1,0.1 1,0 1,0 1,0 1,0 1,0.1 1,0 1,0 1,0 1,0 1,0 1,0 1,0 1,0 1,0 1,0 1,0 1,0 1,-0.1 1,0 1,-0.1 1,-0.1 1,-0.1 1,-0.1 1,-0.1 1,-0.2 1,-0.1 1,-0.3 1,-0.5 1,-0.5 1,-0.7 1,-0.7 1,-0.8 1,-0.7 1,-0.7 1,-0.7 1,-0.8 1,-0.9 1,-0.9 1,-0.9 1,-0.9 1,-0.7 1,-0.6 1,-0.3 1,-0.2 1,-0.1 1,-0.2 1,0 1,-0.1 1,-0.1 1,0 1,-0.1 1,0 1,-0.1 1,-0.1 1,-0.1 1,-0.1 1,-0.1 1,-0.2 1,-0.5 1,-0.8 1,-1.2 1,-1.4 1,-1.6 1,-1.5 1,-1.4 1,-1.2 1,-1.2 1,-1.2 1,-1.3 1,-1.2 1,-1.2 1,-1.1 1,-1.1 1,-1.2 1,-1.2 1,-1.1 1,-1 1,-0.8 1,-0.4 1,-0.4 1,-0.3 1,-0.2 1,-0.2 1,-0.2 1,-0.3 1,-0.4 1,-0.4 1,-0.5 1,-0.6 1,-1 1,-2.4 1,-5.4 1,-7 1,-10.7 1,-3.7 1,-0.4 0.4,0 0.6,2.2 1,9.1 1,8.2 1,8.4 1,6 1,2.7 1,1.8 1,1.6 1,1.8 1,2.2 1,2.5 1,2.5 1,2.4 1,2.1 1,1.6 1,1.5 1,1.5 1,1.3 1,1.1 1,0.6 0.6,0.1 0.4,0 1,-0.2 1,-0.5 1,-0.6 1,-0.8 1,-1.5 1,-3 1,-4.6 1,-11.7 1,-47.1 1,-81.6 1.3,-46.1 0.7,12.9 1,71.7 1,45.9 1,19.6 1,9.5 1,5.9 1,3.8 1,2.9 1,2.3 1,2.2 1,2.4 1,2.4 1,2.4 1,2.3 1,2.2 1,2.3 1,2.4 1,2.1 1,1.6 1,0.8 1,0.6 1,0.5 1,0.5 1,0.4 1,0.3 1,0.4 1,0.3 1,0.3 1,0.3 1,0.3 1,0.3 1,0.3 1,0.3 1,0.3 1,0.3 1,0.2 1,0.2 1,0.2 1,0.1 1,0.2 1,0.1 1,0.1 1,0 1,0.1 1,0.1 1,0.1 1,0 1,0 1,-0.1 1,-1.1 1,-1.7 1,-1.3 0.5,-0.2 0.5,0.2 1,0.9 1,1.1 1,0.8 1,0.4 1,0.3 1,0.3 1,0.2 1,0.2 1,0 1,0 1,-0.2 1,-0.3 1,-0.4 1,-0.4 1,-0.6 1,-0.5 1,-0.7 1,-0.7 1,-1.2 1,-1.6 1,-1.8 1,-1.8 1,-2 1,-2.4 1,-2.4 1,-2.3 1,-1.7 1,-1.2 1,-1.1 1,-1 1,-0.8 1,-0.5 0.9,-0.1 1.1,0.5 1,1 1,1.4 1,1.4 1,1.8 1,2.2 1,2.3 1,1.9 1,1.6 1,1.6 1,1.4 1,1 1,0.6 1,0.5 1,0.4 1,0.3 1,0.3 1,0.3 1,0.3 1,0.2 1,0.3 1,0.3 1,0.3 1,0.3 1,0.3 1,0.3 1,0.2 1,0.2 1,0.1 1,0.1 1,0 1,0 1,0 1,0 1,0 1,0 1,0 1,0 1,0 1,-0.1 1,-0.3 1,-0.4 1,-0.5 1,-0.6 1,-0.7 1,-0.8 1,-1.1 1,-1.6 1,-2.1 1,-2.6 1,-3.2 1,-4.9 1,-5.6 1,-5.6 1,-6.5 1,-5.3 1,-2.6 1,-1.9 1.3,-1.1 0.7,0.4 1,1.4 1,2.1 1,3.5 1,6.2 1,6.1 1,4.7 1,4.2 1,3.4 1,2.6 1,2.3 1,1.9 1,1.6 1,1.2 1,1.1 1,0.9 1,0.9 1,0.7 1,0.7 1,0.6 1,0.5 1,0.5 1,0.5 1,0.5 1,0.4 1,0.4 1,0.4 1,0.3 1,0.2 1,0.2 1,0 1,-0.1 1,-0.3 1,-0.5 1,-0.7 1,-1.9 1,-5.4 1,-3.9 1,-2 0.6,-0.4 0.4,0.6 1,3.9 1,5.1 1,6.2 1,1.8 1,0.3 1,0.2 1,0.1 1,0.2 1,0.1 1,0.1 1,0.1 1,0.1 1,0 1,0.1 1,0 1,0.1 1,0 1,0 1,0 1,0 1,0.1 1,0 1,0 1,0 1,0 1,0 1,0.1 1,0 1,0 1,0 1,0 1,0 1,0 1,0 1,0.1 1,0 1,0 1,0 1,0 1,0 1,0 1,0 1,0 1,0 1,0 1,0 1,0 1,0 1,0 1,0 1,0 1,0 1,0 1,0 1,0 1,0 1,0 1,0 1,0 1,0 1,0 1,-0.1 1,0 1,0 1,0 1,0 1,0 1,0 1,0 1,-0.1 1,0 1,0 1,0 1,0 1,0 1,-0.1 1,0 1,0 1,0 1,0 1,-0.1 1,0 1,0 1,-0.1 1,0 1,-0.1 1,0 1,-0.1 1,0 1,-0.1 1,-0.1 1,0 1,-0.1 1,-0.1 1,-0.1 1,-0.1 1,-0.1 1,-0.1 1,0 1,-0.1 1,-0.2 1,-0.1 1,-0.2 1,-0.3 1,-0.3 1,-0.3 1,-0.2 1,-0.3 1,-0.2 1,-0.1 1,0 1,0.2 1,0.4 1,0.5 1,0.5 1,0.4 1,0.4 1,0.2 1,0 1,0 1,0 1,0 1,0 1,0 1,0 1,0 1,0 1,-0.1 1,0 1,0 1,0 1,-0.1 1,0 1,0 1,-0.1 1,0 1,0 1,-0.1 1,0 1,-0.1 1,0 1,-0.1 1,0 1,-0.1 1,-0.1 1,-0.1 1,-0.2 1,-0.3 1,-0.3 1,-0.4 1,-0.3 1,-0.3 1,-0.2 1,-0.2 1,-0.1 1,0 1,0.2 1,0.2 1,0.3 1,0.3 1,0.3 1,0.4 1,0.3 1,0.2 1,0.2 1.2,0.1 0.8,-0.1 1,-0.1 1,-0.3 1,-0.3 1,-0.5 1,-0.5 1,-0.6 1,-0.6 1,-0.7 1,-0.8 1,-1 1,-1.4 1,-2 1,-2.7 1,-7.3 1,-14.4 1,-21.5 1,-32.4 1,-21.3 0.6,-5.8 0.4,2 1,17 1,25.9 1,21.4 1,10.1 1,4.2 1,2.5 1,2 1,2.1 1,2.7 1,2.9 1,2.6 1,1.9 1,0.8 1,0.4 1,0.2 1,0.3 1,0.3 1,0.8 1,1.2 1,1.5 1,1.6 1,1.4 1,1.3 1,1.4 1,1.3 1,1.2 1,1 1,0.7 1,0.5 1,0.4 1,0.4 1,0.3 1,0.2 1,0.2 1,0.2 1,0 1,0 1,0 1,0 1,0 1,0 1,0 1,0 1,0 1,0 1,0 1,0 1,0 1,0 1,0 1,0 1,-0.1 1,-0.1 1,-0.4 1,-0.5 1,-0.7 1,-0.9 1,-1.8 1,-5.8 1,-10.5 1,-33 1.3,-13.5 0.7,6.6 1,19.7 1,23 1,8.8 1,2.4 1,-6.5 1,-12.2 1,-14.4 1.3,-2.7 0.7,4.9 1,16.2 1,14.6 1,2.7 1,1.8 1,0.8 0.5,0 0.5,0 1,-0.1 1,-0.3 1,-0.2 1,-0.2 1,-0.1 1,0.4 1,0.7 1,0.7 1,0.6 1,0.1 1,-0.2 1,-0.4 1,-0.6 1,-0.6 1,-0.6 1,-0.5 1,-0.4 1,-0.5 1,-0.4 1,-0.5 1,-0.3 1,-0.2 1,-0.1 1,0 1,0.1 1,0 1,0 1,0.1 1,0.1 1,0 1,0.2 1,0.3 1,0.6 1,0.6 1,0.5 1,0.3 0.5,0 0.5,0 1,-0.1 1,-0.3 1,-0.4 1,-0.6 1,-0.6 1,-0.7 1,-0.8 1,-1.1 1,-1.9 1,-2.3 1,-2.4 1,-1.9 1,-1.7 1,-1.7 1,-1.5 1,-1.3 1,-0.8 1,-0.8 1,-0.6 1,-0.5 1.2,-0.2 0.8,0.2 1,0.9 1,1.2 1,1.3 1,1.2 1,1.4 1,1.5 1,1.4 1,0.9 1,0.3 1,0.1 1,0.1 1,0 1,0.1 1,0.1 1,0.2 1,0.7 1,1.1 1,1.3 1,1.2 1,1 1,1.3 1,1.2 1,1.2 1,0.9 1,0.7 1,0.2 1,0.2 1,0.2 1,0.1 1,0.2 1,0 1,0.1 1,0 1,-0.1 1,-0.6 1,-1 1,-1.2 1,-1.5 1,-3.4 1,-4.3 1,-2.9 1,-1.7 1.3,-1.2 0.7,0.5 1,2 1,2.7 1,4.3 1,4.5 1,1.9 1,1.1 1,0.8 1,0.7 1,0.5 1,0.3 1,0.2 1,0.2 1,0.1 1,0.2 1,0.1 1,0.1 1,0.1 1,0.1 1,0.1 1,0.1 1,0 1,0.1 1,0 1,0 1,0 1,0 1,0 1,0 1,-0.1 1,0 1,-0.1 1,0 1,-0.1 1,-0.1 1,0 1,-0.1 1,-0.1 1,-0.1 1,-0.3 1,-0.3 1,-0.4 1,-0.5 1,-0.5 1,-0.7 1,-0.8 1,-0.8 1,-1.2 1,-2.2 1,-2.6 1,-2.2 1,-1.5 1,-1.5 1.1,-0.6 0.9,0.3 1,0.9 1,1.2 1,1.2 1,1.1 1,1.1 1,1.1 1,1.1 1,1 1,0.8 1,0.9 1,0.9 1,1 1,1 1,0.9 1,0.6 1,0.5 1,0.4 1,0.2 1,0.2 1,0.1 1,0 1,-0.1 1,0 1,0 1,0 1,0.1 1,0.3 1,0.2 1,0.2 1,0.2 1,0.2 1,-0.1 1,-0.1 1,-0.1 1,-0.2 1,-0.1 1,0.2 1,0.1 1,0.2 1,0 1,0 1,-0.1 1,-0.2 1,-0.1 1,0 1,-0.2 1,-0.1 1,0 1,-0.1 1,-0.1 1,0 1,0 1,-0.2 1,0 1,0 1,0 1,-0.2 1,0 1,-0.2 1,-0.2 1,-0.2 1,0 1,-0.2 1,-0.2 1,-0.3 1,-0.3 1,-0.3 1,-0.2 1,-0.3 1,-0.3 1,-0.3 1,-0.4 1,-1 1,-1.2 1,-1.8 1,-2.2 1,-2.4 1,-2.9 1,-4.2 1,-5.5 1,-7 1,-10 1,-16.2 1,-23.4 1,-42.8 1,-45 1,-44.1 1,-32.4 1.3,-25 0.7,11.3 1,36.2 1,59.4 1,47.3 1,35.5 1,24.6 1,18.2 1,10.1 1,6.8 1,4 1,2.4 1,1.8 1,1.2 1,1 1,0.8 1,0.3 1,0.5 1,1.2 1,2.8 0.2,0.8"/></g>
<path d="M195,591.9l1,-0.2 1,-0.1 1,-0.1 1,0 1,-0.1 1,0.1 1,0 1,0.1 1,0 1,0 1,0.1 1,0.1 1,0 1,0.2 1,0 1,-0.1 1,-0.2 1,-0.1 1,-0.3 1,-0.1 1,0.1 1,0.3 1,0.3 1,0.3 1,0.1 1,0 1,-0.2 1,-0.1 1,-0.1 1,-0.1 1,0 1,0 1,0.1 1,-0.2 1,0.1 1,0 1,0.1 1,0 1,0.1 1,0 1,0.1 1,0 1,0 1,0.2 1,0.3 1,0.1 1,0.1 1,0.1 1,-0.3 1,-0.3 1,-0.2 1,-0.1 1,-0.2 1,0 1,-0.2 1,-0.2 1,-0.2 1,0 1,0.1 1,0.4 1,0.2 1,0.3 1,-0.1 1,-0.1 1,-0.1 1,-0.1 1,0 1,0.1 1,0.3 1,0 1,0 1,-0.1 1,-0.1 1,-0.1 1,-0.1 1,-0.1 1,0.1 1,0 1,0.2 1,0.1 1,0 1,0 1,-0.1 1,-0.1 1,-0.2 1,-0.1 1,-0.1 1,-0.1 1,-0.2 1,0 1,0 1,0.2 1,0.4 1,0.4 1,0.4 1,0.3 1,0.2 1,-0.2 1,-0.2 1,-0.1 1,-0.4 1,-0.2 1,-0.2 1,-0.1 1,-0.1 1,0.3 1,0.1 1,0.1 1,0.2 1,0 1,-0.2 1,0 1,0 1,-0.1 1,-0.1 1,-0.1 1,-0.2 1,-0.2 1,-0.2 1,0 1,0.1 1,0.3 1,0.2 1,0.2 1,0 1,0.1 1,0 1,-0.1 1,-0.2 1,-0.2 1,-0.2 1,-0.2 1,-0.2 1,0 1,0 1,0.1 1,0.2 1,0 1,0.1 1,0 1,-0.1 1,-0.3 1,-0.1 1,-0.2 1,0.1 1,0.1 1,0.2 1,0 1,0.1 1,-0.2 1,-0.3 1,-0.2 1,-0.2 1,-0.1 1,0.1 1,0.3 1,0.3 1,0.1 1,0.2 1,0.1 1,-0.2 1,0 1,0 1,-0.1 1,-0.1 1,0 1,-0.1 1,-0.1 1,0 1,0 1,0.1 1,0 1,0.1 1,0 1,0.2 1,0.1 1,0.1 1,0 1,0 1,-0.2 1,-0.2 1,0.1 1,0.1 1,0.2 1,0 1,0.3 1,0 1,-0.2 1,-0.2 1,0 1,-0.2 1,0 1,0.1 1,0.1 1,-0.1 1,-0.1 1,-0.2 1,-0.1 1,-0.1 1,0.2 1,0.3 1,0.2 1,0.2 1,0 1,0.1 1,0 1,0 1,0 1,0.3 1,0 1,-0.1 1,0 1,-0.1 1,-0.3 1,-0.3 1,0 1,-0.1 1,-0.1 1,0.2 1,0.4 1,0.3 1,0.3 1,0.4 1,0 1,-0.3 1,-0.4 1,-0.4 1,-0.6 1,-0.2 1,-0.1 1,0 1,0.2 1,0.4 1,0.1 1,0 1,-0.1 1,-0.2 1,-0.1 1,0 1,0.1 1,0.2 1,0.1 1,-0.1 1,0 1,0 1,0 1,0.1 1,0.3 1,-0.1 1,-0.1 1,-0.2 1,-0.1 1,-0.2 1,-0.1 1,-0.1 1,-0.1 1,-0.1 1,-0.1 1,-0.1 1,0.1 1,0.2 1,0.4 1,0.3 1,0.4 1,0.3 1,0.1 1,0 1,0 1,-0.1 1,0 1,-0.3 1,-0.2 1,-0.2 1,-0.3 1,-0.5 1,-0.1 1,-0.1 1,0 1,0.3 1,0.5 1,0.4 1,0.4 1,0.4 1,-0.1 1,-0.2 1,-0.4 1,-0.4 1,-0.2 1,0 1,0.2 1,0.3 1,0.3 1,0.2 1,0.1 1,-0.1 1,-0.1 1,-0.1 1,-0.2 1,0 1,-0.1 1,0.1 1,-0.1 1,0 1,-0.2 1,-0.3 1,-0.4 1,-0.1 1,-0.1 1,0.1 1,0.2 1,0.2 1,-0.1 1,-0.2 1,-0.2 1,-0.3 1,-0.3 1,0 1,-0.1 1,-0.2 1,-0.1 1,0.4 1,0.9 1,1.2 1,1.4 1,1.1 1,0.5 1,0.1 1,0.1 1,0.1 1,0.1 1,-0.2 1,0 1,-0.3 1,-0.2 1,-0.2 1,0.2 1,0.1 1,0.2 1,0.1 1,0.1 1,-0.2 1,-0.3 1,-0.1 1,-0.1 1,-0.2 1,0 1,-0.1 1,-0.2 1,-0.4 1,-0.3 1,-0.4 1,-0.2 1,0 1,-0.1 1,0 1,0 1,-0.2 1,-0.4 1,-0.2 1,-0.3 1,-0.2 1,0.1 1,0.1 1,0.2 1,0.2 1,0.2 1,0.2 1,0 1,0 1,0 1,-0.2 1,-0.1 1,-0.1 1,0.1 1,0.1 1,0.2 1,0.2 1,0.2 1,0.1 1,0.1 1,0.1 1,0 1,-0.2 1,-0.1 1,-0.3 1,-0.3 1,-0.2 1,-0.1 1,0.1 1,0.3 1,0.1 1,0.1 1,0.1 1,-0.1 1,-0.3 1,-0.2 1,-0.1 1,-0.3 1,-0.2 1,0.1 1,0.1 1,0 1,0.3 1,0.2 1,-0.1 1,0.1 1,0 1,-0.1 1,0.1 1,0 1,-0.1 1,0 1,-0.1 1,-0.2 1,-0.1 1,0 1,0.2 1,0.2 1,0.3 1,0.2 1,0.3 1,-0.1 1,-0.1 1,0 1,0.1 1,0 1,0.1 1,0 1,0.1 1,0 1,-0.1 1,-0.1 1,-0.2 1,-0.4 1,-0.4 1,-0.4 1,-0.2 1,-0.1 1,0.2 1,0.1 1,0.3 1,0.1 1,0 1,-0.2 1,-0.1 1,0 1,0.2 1,0.4 1,0.8 1,0.8 1,0.6 1,0.4 1,0.3 1,-0.1 1,-0.1 1,-0.2 1,-0.4 1,-0.2 1,-0.3 1,-0.2 1,-0.1 1,0 1,-0.1 1,0 1,-0.1 1,-0.2 1,-0.2 1,-0.2 1,-0.1 1,0 1,0 1,0.2 1,0.1 1,0.1 1,0 1,-0.1 1,-0.3 1,-0.2 1,-0.3 1,-0.1 1,0 1,0.1 1,-0.1 1,0 1,0.1 1,-0.1 1,-0.2 1,0 1,-0.1 1,-0.2 1,0.1 1,0.2 1,0.1 1,0.2 1,0.3 1,0.3 1,0 1,0.1 1,0 1,-0.2 1,-0.2 1,-0.1 1,-0.2 1,-0.1 1,0.2 1,0.1 1,0.1 1,0.1 1,0.1 1,-0.1 1,-0.1 1,-0.2 1,-0.1 1,0.1 1,0 1,0.1 1,0.1 1,0 1,-0.1 1,-0.1 1,0 1,0 1,0.1 1,0.2 1,0.4 1,0.2 1,0.1 1,0.1 1,0 1,-0.2 1,-0.1 1,-0.2 1,-0.3 1,-0.3 1,-0.2 1,-0.2 1,-0.2 1,-0.1 1,0.1 1,0.2 1,0.4 1,0.2 1,0.3 1,0 1,-0.1 1,-0.2 1,-0.1 1,-0.2 1,-0.1 1,-0.1 1,-0.1 1,-0.2 1,0 1,0.1 1,0.2 1,0.3 1,0.3 1,0.2 1,0.2 1,0.2 1,0.1 1,0.2 1,0 1,0 1,-0.1 1,-0.3 1,-0.4 1,-0.3 1,-0.3 1,-0.2 1,0 1,0.1 1,0.2 1,0.2 1,0 1,0.1 1,0.1 1,0 1,0.1 1,0.1 1,-0.1 1,-0.2 1,-0.1 1,-0.2 1,-0.2 1,0.1 1,0.2 1,0 1,0.1 1,0.2 1,-0.1 1,0.2 1,0.2 1,0 1,0.1 1,0 1,-0.4 1,-0.1 1,-0.1 1,-0.2 1,-0.1 1,0.2 1,0 1,-0.2 1,0.1 1,0.1 1,-0.1 1,0.1 1,0.1 1,0.1 1,0.1 1,0.2 1,0.2 1,0.4 1,0.1 1,0.2 1,0 1,-0.3 1,-0.5 1,-0.1 1,-0.3 1,-0.2 1,0 1,0 1,-0.2 1,-0.2 1,0 1,0 1,0 1,0.1 1,0.2 1,0.2 1,0.1 1,0.2 1,0.1 1,-0.1 1,0 1,0 1,0 1,0 1,0 1,-0.1 1,-0.1 1,-0.1 1,-0.1 1,-0.1 1,0 1,0 1,0 1,0.1 1,0.1 1,0 1,0 1,0.2 1,0 1,0 1,0.2 1,0.2 1,-0.1 1,-0.1 1,-0.2 1,-0.4 1,-0.2 1,-0.1 1,-0.1 1,0.1 1,0.3 1,0.2 1,0 1,0 1,-0.1 1,-0.2 1,-0.1 1,0 1,0.1 1,0.1 1,0.1 1,0.1 1,0.2 1,-0.1 1,0 1,0 1,-0.1 1,-0.2 1,-0.2 1,-0.2 1,-0.2 1,0 1,0 1,0.2 1,0 1,0.1 1,0 1,-0.2 1,-0.3 1,-0.1 1,-0.2 1,-0.1 1,0.1 1,0.2 1,0.2 1,0.2 1,0.2 1,0.1 1,-0.1 1,0 1,-0.2 1,-0.2 1,-0.1 1,0 1,0.1 1,0.1 1,0.1 1,0.1 1,-0.1 1,-0.1 1,-0.4 1,-0.2 1,-0.1 1,-0.2 1,-0.1 1,0 1,-0.1 1,0 1,-0.1 1,0 1,-0.1 1,0 1,0 1,-0.1 1,-0.1 1,-0.1 1,-0.1 1,0.1 1,0 1,0.1 1,0.1 1,0 1,0 1,-0.1 1,0 1,-0.1 1,0 1,0 1,-0.1 1,-0.1 1,-0.1 1,-0.1 1,-0.1 1,0 1,0.1 1,-0.1 1,0 1,-0.1 1,-0.2 1,-0.1 1,0 1,0 1,0.1 1,0.1 1,0 1,0 1,0 1,-0.1 1,-0.1 1,0 1,0 1,-0.1 1,0.1 1,0 1,0.1 1,0 1,0 1,-0.1 1,0 1,-0.1 1,0 1,0 1,0 1,0 1,0 1,0 1,0 1,0 1,0 1,0 1,0 1,0 1,0 1,0 1,0 1,0.1 1,0 1,0 1,0 1,0 1,0 1,0 1,0 1,0 1,0 1,0 1,0 1,0 1,0 1,0 1,0 1,0 1,0 1,0 1,0 1,-0.1 1,0 1,0 1,0 1,0 1,0 1,0 1,-0.1 1,0 1,0 1,0 1,-0.1 1,0 1,0 1,0 1,-0.1 1,0 1,0 1,-0.1 1,0 1,0 1,-0.1 1,0 1,0 1,-0.1 1,0 1,0 1,-0.1 1,0 1,-0.1 1,0 1,-0.1 1,-0.1 1,0 1,-0.1 1,-0.1 1,-0.1 1,-0.1 1,-0.1 1,-0.1 1,-0.2 1,-0.2 1,-0.2 1,-0.2 1,-0.3 1,-0.3 1,-0.3 1,-0.3 1,-0.4 1,-0.5 1,-0.6 1,-0.9 1,-1.1 1,-1.2 1,-1.2 1,-1.3 1,-1.7 1,-1.9 1,-1.8 1,-1.4 1,-1.2 1,-1.2 1,-0.8 1,-0.2 1,0 1,0 1,0 1,0 1,0.5 1,1 1,1.3 1,1.2 1,1.5 1,1.7 1,1.6 1,1.4 1,1.3 1,1.2 1,1.1 1,1 1,0.8 1,0.6 1,0.5 1,0.4 1,0.5 1,0.3 1,0.4 1,0.3 1,0.2 1,0.2 1,0.1 1,0.1 1,0.1 1,0.1 1,0.1 1,0 1,0.1 1,0.1 1,0 1,0.1 1,0 1,0.1 1,0 1,0 1,0 1,0 1,0 1,0 1,0 1,0 1,0 1,0 1,-0.1 1,0 1,0 1,0 1,-0.1 1,0 1,0 1,-0.1 1,0 1,-0.2 1,-0.2 1,-0.2 1,-0.3 1,-0.3 1,-0.4 1,-0.4 1,-0.5 1,-0.7 1,-1.1 1,-1.3 1,-1.5 1,-1.7 1,-2.2 1,-2.9 1,-2.6 1,-1.8 1,-1.6 1,-1 1,-0.1 1,0.3 1,0.6 1,0.9 1,2 1,1.7 1,0.7 1,0.5 1.2,0.3 0.8,-0.7 1,-2.3 1,-3 1,-4 1,-5.3 1,-4.1 1,-2.2 1,-1.7 1,-0.7 1,0.4 1,1.1 1,1.5 1,2.5 1,3.4 1,3.1 1,2.7 1,2.6 1,2.4 1,1.8 1,1.4 1,1.2 1,1 1,0.9 1,0.7 1,0.5 1,0.2 1,0.2 1,0.2 1,0.1 1,0.1 1,0.1 1,0.1 1,0.1 1,0.1 1,0.2 1,0.2 1,0.3 1,0.3 1,0.3 1,0.4 1,0.3 1,0.3 1,0.3 1,0.3 1,0.1 1,0.2 1,0.2 1,0.1 1,0.2 1,0.1 1,0.2 1,0.1 1,0.1 1,0.1 1,0 1,0.1 1,0 1,0 1,0.1 1,0 1,0 1,0 1,0.1 1,0 1,0 1,0 1,0 1,0 1,0 1,0 1,0 1,-0.2 1,-0.4 1,-0.4 1,-0.5 1,-0.4 1,-0.3 1,-0.1 1,0 1,0 1,0 1,0 1,0 1,0 1,0 1,0.1 1,0.2 1,0.3 1,0.4 1,0.5 1,0.4 1,0.3 1,0.3 1,0.2 1,0.3 1,0.3 1,0.2 1,0.2 1,0.1 1,0 1,0 1,0 1,0 1,0 1,0 1,0 1,0 1,0 1,0 1,0.2 1,0.2 1,0.3 1,0.3 1,0.2 1,0.2 1,0.1 1,-0.1 1,-0.2 1,-0.3 1,-0.2 1,-0.3 1,-0.4 1,-0.4 1,-0.3 1,-0.3 1,-0.2 1,0.1 1,0 1,0.1 1,0.2 1,0.1 1,0.1 1,0.2 1,0.1 1,0 1,0.1 1,0 1,0 1,0.1 1,0 1,0 1,0 1,0 1,0.1 1,0 1,0 1,0 1,0 1,0 1,0 1,-0.3 1,-0.6 1,-0.7 1,-0.9 1,-0.9 1,-0.9 1,-1.4 1,-1.5 1,-1.6 1,-1.4 1,-1.2 1,-1.2 1,-1 1,-0.8 1,-0.2 1,0 1,0.2 1,0.2 1,0.3 1,0.7 1,0.9 1,0.8 1,0.4 1,0 1,0 1,0 1,0 1,0 1,0 1,0 1,0 1,0 1,0 1,0 1,0 1,-0.6 1,-1.2 1,-1.3 1,-1.2 1,-1.1 1,-1.2 1,-0.9 0.9,-0.4 1.1,0.3 1,0.9 1,1 1,0.9 1,1.2 1,1.3 1,1.3 1,1.1 1,1.2 1,1.1 1,1.2 1,1 1,0.8 1,0.6 1,0.5 1,0.5 1,0.4 1,0.3 1,0.2 1,0 1,-0.2 1,-0.3 1,-0.4 1,-0.6 1,-0.6 1,-0.7 1,-0.8 1,-1.1 1,-1.4 1,-1.8 1,-2 1,-2.2 1,-2.2 1,-2.6 1,-2.9 1,-3.2 1,-3.3 1,-3.2 1,-3 1,-3.2 1,-3.3 1,-3.2 1,-3 1,-2.6 1,-2.3 1,-2.2 1,-2 1,-1.9 1,-1.5 1,-1.2 1,-0.8 1,-0.7 1,-0.7 1,-0.5 1,-0.3 1,-0.2 1,0.1 1,0.3 1,0.6 1,0.6 1,0.9 1,1.5 1,2.2 1,2.6 1,2.5 1,2.4 1,2.7 1,2.8 1,2.9 1,2.9 1,2.7 1,2.9 1,3 1,2.9 1,2.6 1,1.9 1,1.5 1,1.4 1,1.1 1,0.8 1,0.2 1,0.1 1,0 1,0 1,0.1 1,0 1,0.1 1,0.1 1,0.3 1,0.5 1,0.6 1,0.6 1,0.6 1,0.7 1,0.5 1,0.5 1,0.4 1,0.5 1,0.5 1,0.4 1,0.5 1,0.3 1,0.2 1,0.1 1,-0.1 1,-0.4 1,-0.6 1,-0.8 1,-0.9 1,-1.4 1,-2.4 1,-2.9 1,-3.1 1,-3 1,-3.6 1,-3.8 1,-3.2 1,-2.1 1,-1.2 1,-1 0.8,-0.3 1.2,1.5 1,2.7 1,3.1 1,4.5 1,4.7 1,2.1 1,0.8 0.7,0.3 1.3,-3.4 1,-5 1,-6.1 1,-7.8 1,-7 1,-5.8 1,-5.5 1,-4.5 1,-3.3 1,-2.9 1,-2.4 1.3,-1.4 0.7,0.1 1,0.2 1,0.4 1,1.7 1,4.3 1,5 1,4.8 1,5.2 1,5.4 1,5 1,4.1 1,3.8 1,3.5 1,3.1 1,2.7 1,2.4 1,2.3 1,2.2 1,1.8 1,1.3 1,0.8 1,0.6 1,0.5 1,0.3 1,0.2 0.8,0.1 1.2,-0.7 1,-1.4 1,-1.9 1,-2.3 1,-3.9 1,-5.2 1,-5.8 1,-7.5 1,-7.4 1,-5.6 1,-4.9 1,-4.2 1,-2.8 1,-2 1,-1.6 1.2,-0.8 0.8,0.5 1,1.5 1,2.1 1,2.9 1,4.4 1,4.8 1,4.2 1,4.1 1,3.9 1,3.6 1,3 1,2.7 1,2.3 1,1 1,-0.1 1,-0.4 1,-0.4 1,-1.2 1,-1.7 1,-1.8 1,-1 1,-0.1 1,0 1,0 1,0 1,0 1,0 1,0 1,0.1 1,1.1 1,1.8 1,2 1,1.7 1,1.4 1,1.4 1,1.2 1,1 1,0.6 1,0.4 1,0.4 1,0.3 1,0.3 1,0.3 1,0.3 1,0.5 1,0.5 1,0.7 1,0.8 1,0.8 1,0.8 1,0.8 1,0.7 1,0.6 1,0.7 1,0.6 1,0.7 1,0.6 1,0.5 1,0.5 1,0.5 1,0.3 1,0.4 1,0.3 1,0.3 1,0.3 1,0.3 1,0.3 1,0.4 1,0.4 1,0.5 1,0.5 1,0.5 1,0.5 1,0.3 1,0.2 0.5,0 0.5,-0.1 1,-1 1,-1.8 1,-2.2 1,-3.3 1,-5.5 1,-5.6 1,-4.4 1,-4.1 1,-2.6 1,-0.6 1.2,-0.4 0.8,0.8 1,2.5 1,3.1 1,3.4 1,4.1 1,3 1,1.7 1,1.5 1,1.2 1,0.6 1,0.1 1,-0.1 1,-0.2 1,-0.1 1,-0.1 1,-0.1 1,0 1,0.1 1,0.1 1,0.2 1,0.2 1,0.2 1,0.3 1,0.5 1,0.6 1,0.7 1,0.7 1,0.8 1,0.6 1,0.6 1,0.5 1,0.6 1,0.6 1,0.6 1,0.4 1,0.3 1,0.2 1,0.1 1,0.1 1,0.1 1,0 1,0.1 1,0 1,0.1 1,0 1,0.1 1,0.1 1,0.2 1,0.1 1,0.1 1,0 1,0 1,-0.4 1,-0.4 1,-0.5 1,-0.1 1,0.2 1,0.5 1,0.5 1,0.5 1,0.2 1,0.2 1,0.2 1,0.2 1,0.1 1,0.2 1,0.1 1,0.1 1,0.2 1,0.2 1,0.2 1,0.2 1,0.3 1,0.2 1,0.2 1,0.2 1,0.2 1,0.2 1,0.1 1,0 1,0.1 1,-0.1 1,-0.1 1,-0.1 1,-0.1 1,-0.1 1,-0.1 1,0 1,0.1 1,0.2 1,0.3 1,0.4 1,0.5 1,0.4 1,0.4 1,0.4 1,0.2 1,0.2 1,0.2 1,0.2 1,0.2 1,0.2 1,0.2 1,0.1 1,0.1 1,0 1,0.1 1,0 1,-0.1 1,-0.1 1,-0.2 1,-0.1 1,-0.3 1,-0.2 1,-0.2 1,-0.3 1,-0.4 1,-0.5 1,-0.7 1,-0.8 1,-1.1 1,-1.3 1,-2.4 1,-3.6 1,-4.2 1,-4.9 1,-6.4 1,-6.3 1,-5.7 1,-5.6 1,-4.1 1,-2.5 1,-1.9 1.1,-0.9 0.9,1.3 1,3.1 1,3.6 1,4.8 1,5.4 1,3 1,1.1 1,0.6 0.8,0.2 1.2,-1.2 1,-2.3 1,-2.8 1,-3.4 1,-4.3 1,-4 1,-2.5 1,-2 1,-1.3 0.5,-0.2 0.5,0.3 1,1.9 1,2.6 1,2.6 1,3.3 1,2.3 0.4,0.2 0.6,0 1,-0.3 1,-0.4 1,-1.6 1,-4.5 1,-5.3 1,-5.1 1,-5.7 1,-5.6 1,-5.1 1,-4.8 1,-4.4 1,-2 1,-0.4 1,-0.2 0.6,0 0.4,0.3 1,2.5 1,4 1,4 1,5.1 1,5.6 1,5 1,3.8 1,3.4 1,3 1,2.7 1,2.2 1,2 1,1.8 1,1.5 1,1.3 1,1 1,0.9 1,0.7 1,0.7 1,0.7 1,0.8 1,0.9 1,1.3 1,1.6 1,1.7 1,1.5 1,1.1 1.1,0.5 0.9,-0.3 1,-0.6 1,-0.8 1,-0.7 1,-0.4 1,0.1 1,0.5 1,0.9 1,0.9 1,1.1 1,1.7 1,1.9 1,1.9 1,1.5 1,1.3 1,1.2 1,1.1 1,0.9 1,0.7 1,0.5 1,0.5 1,0.4 1,0.2 1,-0.1 1,-0.3 1,-0.5 1,-0.6 1,-0.7 1,-0.7 1,-0.5 1,-0.5 1,-0.5 1,-0.6 1,-0.8 1,-1 1,-2.3 1,-3.6 1,-4.8 1,-5.8 1,-0.5 1,0 1,0.2 1,4.2 1,4 1,1.5 1,1.1 1,0.4 1,-0.2 1,-0.8 1,-0.9 1,-1.1 1,-1.3 1,-1.7 1,-1.9 1,-1.7 1,-1.2 1,-1.2 1,-1.1 1,-0.9 1,-0.5 1,0.1 1,0.3 1,0.5 1,0.6 1,1 1,1.5 1,1.7 1,1.4 1,1.2 1,1.2 1,0.9 1.1,0.4 0.9,-0.6 1,-1.5 1,-2.2 1,-3.2 1,-4.9 1,-5.1 1,-4.7 1,-4.8 1,-2.3 1,0 1,0 1,1 1,5.7 1,6.2 1,7.5 1,5.5 1,2 1,1.2 0.6,0.2 0.4,-0.3 1,-3 1,-4.1 1,-4.2 1,-5 1,-5.3 1,-5.6 1,-6.1 1,-6.5 1,-6.4 1,-6.4 1,-7 1,-3.4 1,-0.5 1,-0.3 1,-0.1 1,0 1,0.1 1,0.3 1,0.5 1,0.7 1,2.6 1,7.2 1,7.9 1,9.8 1,7.7 1,5.3 1,4.2 1,2.5 1,1 1,0.8 1,0.3 1,0 1,0 1,0 1,0 1,0 1,0 1,0 1,0 1,-0.3 1,-0.6 1,-0.7 1,-0.5 1,0.1 1,0.6 1,1 1,1.2 1,1.5 1,2.2 1,2.4 1,2.3 1,2.1 1,2.1 1,2 1,1.6 1,1.1 1,0.8 1,0.7 1,0.5 0.5,0 0.5,-0.3 1,-2 1,-2.9 1,-5.3 1,-6.5 1,-4 1,-3.1 0.9,-1.2 1.1,0 1,0.2 1,0.2 1,0.3 1,0.5 1,0.6 1,0.9 1,1.7 1,3.3 1,2.7 0.4,0.4 0.6,0 1,-0.2 1,-0.3 1,-0.3 1,-0.1 1,0.5 1,1.5 1,1.7 1,1.9 1,2.2 1.3,1.4 0.7,-0.4 1,-1.8 1,-2.2 1,-2.6 1,-3.3 1,-3.2 1,-2.1 1,-1.9 1,-1.5 1,-0.9 1,-0.1 1,0 1,0 1,0.1 1,0.1 1,0.1 1,0.2 1,0.3 1,0.1 1,-0.5 1,-1 1,-1.3 1,-1.3 1,-1.2 1,-1.4 1,-1.5 1,-1.4 1,-1.2 1,-0.9 1,-0.9 1,-0.7 1,-0.9 1,-0.9 1,-0.9 1,-1.1 1,-2.2 1,-7.9 1,-11.1 1,-15.2 1,-18.1 1,-21.2 1,-16.2 1,-13 1,-8 1,-5.1 1,-4.3 1,-4.6 1,-4.3 1,-4.8 1,-7.3 1,-13.2 1,-13.7 1,-13.1 1,-8.4 1,-5.1 0.9,-1.7 1.1,4.1 1,7.4 1,12.3 1,14.1 1,12.5 1,9 1,4.1 1,2.9 1,2.2 1,1.7 1,1.2 1,1.5 1,2.7 1,4 1,4.6 1,5.2 1,6.1 1,6.3 1,6.1 1,6.2 1,6 1,5.5 1,5.3 1,4.8 1,4.3 1,4 1,3.4 1,2.3 1,1.6 1,1.3 1,1.1 1,1.2 1,1.4 1,1.6 1,1.1 1,0.2 1,0.1 1,0.2 1,0.1 1,0.3 1,0.6 1,1.1 1,1.2 1,1.2 1,1 1,0.9 1,0.9 1,1 1,1.1 1,1.5 1,2.1 1,2.3 1,2 1,1.4 1,0.8 1,0.6 1,0.6 1,0.6 1,0.6 1,0.8 1,0.8 1,1 1,1.3 1,1.6 1,2.4 1,2.3 1,2.1 1,1.4 1,1.1 1,0.8 1,0.4 1,0.2 1,0 1,0 1,0.1 1,-0.4 1,-1.1 1,-1.4 1,-1.2 1,-0.7 1,0.2 1,0.6 1,0.4 1,0.4 1,0.1 1,-0.1 1,0 1,-0.2 1,-0.2 1,-0.2 1,-0.3 1,-0.3 1,0 1,0.4 1,0.7 1,1.1 1,1.1 1,1.2 1,1.4 1,1.6 1,1.4 1,1.3 1,1 1,1.1 1,1 1,0.7 1,0.5 1,0.6 1,0.3 1,0.1 1,-0.2 1,-0.8 1,-1 1,-1.1 1,-0.6 1,-0.8 1,-1 1,-1.3 1,-1.8 1,-3 1,-4.4 1,-6.8 1,-11.2 1,-14.3 1,-18.3 1,-22.8 1,-24.2 1,-24.2 1,-11.9 0.6,-2.7 0.4,0.9 1,6.5 1,10.8 1,14.6 1,12.9 1,12.5 1,12.6 1,11.4 1,7 1,5.2 1,3.6 1,2.4 1,1.8 1,2.2 1,3.4 1,3.4 1,2.5 1,1.9 1,1.6 0.2,0.4" stroke="#ff0000" stroke-width="3"/><g class="r"><path d="M195,591.9l1,-0.2 1,-0.1 1,-0.1 1,0 1,-0.1 1,0.1 1,0 1,0.1 1,0 1,0 1,0.1 1,0.1 1,0 1,0.2 1,0 1,-0.1 1,-0.2 1,-0.1 1,-0.3 1,-0.1 1,0.1 1,0.3 1,0.3 1,0.3 1,0.1 1,0 1,-0.2 1,-0.1 1,-0.1 1,-0.1 1,0 1,0 1,0.1 1,-0.2 1,0.1 1,0 1,0.1 1,0 1,0.1 1,0 1,0.1 1,0 1,0 1,0.2 1,0.3 1,0.1 1,0.1 1,0.1 1,-0.3 1,-0.3 1,-0.2 1,-0.1 1,-0.2 1,0 1,-0.2 1,-0.2 1,-0.2 1,0 1,0.1 1,0.4 1,0.2 1,0.3 1,-0.1 1,-0.1 1,-0.1 1,-0.1 1,0 1,0.1 1,0.3 1,0 1,0 1,-0.1 1,-0.1 1,-0.1 1,-0.1 1,-0.1 1,0.1 1,0 1,0.2 1,0.1 1,0 1,0 1,-0.1 1,-0.1 1,-0.2 1,-0.1 1,-0.1 1,-0.1 1,-0.2 1,0 1,0 1,0.2 1,0.4 1,0.4 1,0.4 1,0.3 1,0.2 1,-0.2 1,-0.2 1,-0.1 1,-0.4 1,-0.2 1,-0.2 1,-0.1 1,-0.1 1,0.3 1,0.1 1,0.1 1,0.2 1,0 1,-0.2 1,0 1,0 1,-0.1 1,-0.1 1,-0.1 1,-0.2 1,-0.2 1,-0.2 1,0 1,0.1 1,0.3 1,0.2 1,0.2 1,0 1,0.1 1,0 1,-0.1 1,-0.2 1,-0.2 1,-0.2 1,-0.2 1,-0.2 1,0 1,0 1,0.1 1,0.2 1,0 1,0.1 1,0 1,-0.1 1,-0.3 1,-0.1 1,-0.2 1,0.1 1,0.1 1,0.2 1,0 1,0.1 1,-0.2 1,-0.3 1,-0.2 1,-0.2 1,-0.1 1,0.1 1,0.3 1,0.3 1,0.1 1,0.2 1,0.1 1,-0.2 1,0 1,0 1,-0.1 1,-0.1 1,0 1,-0.1 1,-0.1 1,0 1,0 1,0.1 1,0 1,0.1 1,0 1,0.2 1,0.1 1,0.1 1,0 1,0 1,-0.2 1,-0.2 1,0.1 1,0.1 1,0.2 1,0 1,0.3 1,0 1,-0.2 1,-0.2 1,0 1,-0.2 1,0 1,0.1 1,0.1 1,-0.1 1,-0.1 1,-0.2 1,-0.1 1,-0.1 1,0.2 1,0.3 1,0.2 1,0.2 1,0 1,0.1 1,0 1,0 1,0 1,0.3 1,0 1,-0.1 1,0 1,-0.1 1,-0.3 1,-0.3 1,0 1,-0.1 1,-0.1 1,0.2 1,0.4 1,0.3 1,0.3 1,0.4 1,0 1,-0.3 1,-0.4 1,-0.4 1,-0.6 1,-0.2 1,-0.1 1,0 1,0.2 1,0.4 1,0.1 1,0 1,-0.1 1,-0.2 1,-0.1 1,0 1,0.1 1,0.2 1,0.1 1,-0.1 1,0 1,0 1,0 1,0.1 1,0.3 1,-0.1 1,-0.1 1,-0.2 1,-0.1 1,-0.2 1,-0.1 1,-0.1 1,-0.1 1,-0.1 1,-0.1 1,-0.1 1,0.1 1,0.2 1,0.4 1,0.3 1,0.4 1,0.3 1,0.1 1,0 1,0 1,-0.1 1,0 1,-0.3 1,-0.2 1,-0.2 1,-0.3 1,-0.5 1,-0.1 1,-0.1 1,0 1,0.3 1,0.5 1,0.4 1,0.4 1,0.4 1,-0.1 1,-0.2 1,-0.4 1,-0.4 1,-0.2 1,0 1,0.2 1,0.3 1,0.3 1,0.2 1,0.1 1,-0.1 1,-0.1 1,-0.1 1,-0.2 1,0 1,-0.1 1,0.1 1,-0.1 1,0 1,-0.2 1,-0.3 1,-0.4 1,-0.1 1,-0.1 1,0.1 1,0.2 1,0.2 1,-0.1 1,-0.2 1,-0.2 1,-0.3 1,-0.3 1,0 1,-0.1 1,-0.2 1,-0.1 1,0.4 1,0.9 1,1.2 1,1.4 1,1.1 1,0.5 1,0.1 1,0.1 1,0.1 1,0.1 1,-0.2 1,0 1,-0.3 1,-0.2 1,-0.2 1,0.2 1,0.1 1,0.2 1,0.1 1,0.1 1,-0.2 1,-0.3 1,-0.1 1,-0.1 1,-0.2 1,0 1,-0.1 1,-0.2 1,-0.4 1,-0.3 1,-0.4 1,-0.2 1,0 1,-0.1 1,0 1,0 1,-0.2 1,-0.4 1,-0.2 1,-0.3 1,-0.2 1,0.1 1,0.1 1,0.2 1,0.2 1,0.2 1,0.2 1,0 1,0 1,0 1,-0.2 1,-0.1 1,-0.1 1,0.1 1,0.1 1,0.2 1,0.2 1,0.2 1,0.1 1,0.1 1,0.1 1,0 1,-0.2 1,-0.1 1,-0.3 1,-0.3 1,-0.2 1,-0.1 1,0.1 1,0.3 1,0.1 1,0.1 1,0.1 1,-0.1 1,-0.3 1,-0.2 1,-0.1 1,-0.3 1,-0.2 1,0.1 1,0.1 1,0 1,0.3 1,0.2 1,-0.1 1,0.1 1,0 1,-0.1 1,0.1 1,0 1,-0.1 1,0 1,-0.1 1,-0.2 1,-0.1 1,0 1,0.2 1,0.2 1,0.3 1,0.2 1,0.3 1,-0.1 1,-0.1 1,0 1,0.1 1,0 1,0.1 1,0 1,0.1 1,0 1,-0.1 1,-0.1 1,-0.2 1,-0.4 1,-0.4 1,-0.4 1,-0.2 1,-0.1 1,0.2 1,0.1 1,0.3 1,0.1 1,0 1,-0.2 1,-0.1 1,0 1,0.2 1,0.4 1,0.8 1,0.8 1,0.6 1,0.4 1,0.3 1,-0.1 1,-0.1 1,-0.2 1,-0.4 1,-0.2 1,-0.3 1,-0.2 1,-0.1 1,0 1,-0.1 1,0 1,-0.1 1,-0.2 1,-0.2 1,-0.2 1,-0.1 1,0 1,0 1,0.2 1,0.1 1,0.1 1,0 1,-0.1 1,-0.3 1,-0.2 1,-0.3 1,-0.1 1,0 1,0.1 1,-0.1 1,0 1,0.1 1,-0.1 1,-0.2 1,0 1,-0.1 1,-0.2 1,0.1 1,0.2 1,0.1 1,0.2 1,0.3 1,0.3 1,0 1,0.1 1,0 1,-0.2 1,-0.2 1,-0.1 1,-0.2 1,-0.1 1,0.2 1,0.1 1,0.1 1,0.1 1,0.1 1,-0.1 1,-0.1 1,-0.2 1,-0.1 1,0.1 1,0 1,0.1 1,0.1 1,0 1,-0.1 1,-0.1 1,0 1,0 1,0.1 1,0.2 1,0.4 1,0.2 1,0.1 1,0.1 1,0 1,-0.2 1,-0.1 1,-0.2 1,-0.3 1,-0.3 1,-0.2 1,-0.2 1,-0.2 1,-0.1 1,0.1 1,0.2 1,0.4 1,0.2 1,0.3 1,0 1,-0.1 1,-0.2 1,-0.1 1,-0.2 1,-0.1 1,-0.1 1,-0.1 1,-0.2 1,0 1,0.1 1,0.2 1,0.3 1,0.3 1,0.2 1,0.2 1,0.2 1,0.1 1,0.2 1,0 1,0 1,-0.1 1,-0.3 1,-0.4 1,-0.3 1,-0.3 1,-0.2 1,0 1,0.1 1,0.2 1,0.2 1,0 1,0.1 1,0.1 1,0 1,0.1 1,0.1 1,-0.1 1,-0.2 1,-0.1 1,-0.2 1,-0.2 1,0.1 1,0.2 1,0 1,0.1 1,0.2 1,-0.1 1,0.2 1,0.2 1,0 1,0.1 1,0 1,-0.4 1,-0.1 1,-0.1 1,-0.2 1,-0.1 1,0.2 1,0 1,-0.2 1,0.1 1,0.1 1,-0.1 1,0.1 1,0.1 1,0.1 1,0.1 1,0.2 1,0.2 1,0.4 1,0.1 1,0.2 1,0 1,-0.3 1,-0.5 1,-0.1 1,-0.3 1,-0.2 1,0 1,0 1,-0.2 1,-0.2 1,0 1,0 1,0 1,0.1 1,0.2 1,0.2 1,0.1 1,0.2 1,0.1 1,-0.1 1,0 1,0 1,0 1,0 1,0 1,-0.1 1,-0.1 1,-0.1 1,-0.1 1,-0.1 1,0 1,0 1,0 1,0.1 1,0.1 1,0 1,0 1,0.2 1,0 1,0 1,0.2 1,0.2 1,-0.1 1,-0.1 1,-0.2 1,-0.4 1,-0.2 1,-0.1 1,-0.1 1,0.1 1,0.3 1,0.2 1,0 1,0 1,-0.1 1,-0.2 1,-0.1 1,0 1,0.1 1,0.1 1,0.1 1,0.1 1,0.2 1,-0.1 1,0 1,0 1,-0.1 1,-0.2 1,-0.2 1,-0.2 1,-0.2 1,0 1,0 1,0.2 1,0 1,0.1 1,0 1,-0.2 1,-0.3 1,-0.1 1,-0.2 1,-0.1 1,0.1 1,0.2 1,0.2 1,0.2 1,0.2 1,0.1 1,-0.1 1,0 1,-0.2 1,-0.2 1,-0.1 1,0 1,0.1 1,0.1 1,0.1 1,0.1 1,-0.1 1,-0.1 1,-0.4 1,-0.2 1,-0.1 1,-0.2 1,-0.1 1,0 1,-0.1 1,0 1,-0.1 1,0 1,-0.1 1,0 1,0 1,-0.1 1,-0.1 1,-0.1 1,-0.1 1,0.1 1,0 1,0.1 1,0.1 1,0 1,0 1,-0.1 1,0 1,-0.1 1,0 1,0 1,-0.1 1,-0.1 1,-0.1 1,-0.1 1,-0.1 1,0 1,0.1 1,-0.1 1,0 1,-0.1 1,-0.2 1,-0.1 1,0 1,0 1,0.1 1,0.1 1,0 1,0 1,0 1,-0.1 1,-0.1 1,0 1,0 1,-0.1 1,0.1 1,0 1,0.1 1,0 1,0 1,-0.1 1,0 1,-0.1 1,0 1,0 1,0 1,0 1,0 1,0 1,0 1,0 1,0 1,0 1,0 1,0 1,0 1,0 1,0 1,0.1 1,0 1,0 1,0 1,0 1,0 1,0 1,0 1,0 1,0 1,0 1,0 1,0 1,0 1,0 1,0 1,0 1,0 1,0 1,0 1,-0.1 1,0 1,0 1,0 1,0 1,0 1,0 1,-0.1 1,0 1,0 1,0 1,-0.1 1,0 1,0 1,0 1,-0.1 1,0 1,0 1,-0.1 1,0 1,0 1,-0.1 1,0 1,0 1,-0.1 1,0 1,0 1,-0.1 1,0 1,-0.1 1,0 1,-0.1 1,-0.1 1,0 1,-0.1 1,-0.1 1,-0.1 1,-0.1 1,-0.1 1,-0.1 1,-0.2 1,-0.2 1,-0.2 1,-0.2 1,-0.3 1,-0.3 1,-0.3 1,-0.3 1,-0.4 1,-0.5 1,-0.6 1,-0.9 1,-1.1 1,-1.2 1,-1.2 1,-1.3 1,-1.7 1,-1.9 1,-1.8 1,-1.4 1,-1.2 1,-1.2 1,-0.8 1,-0.2 1,0 1,0 1,0 1,0 1,0.5 1,1 1,1.3 1,1.2 1,1.5 1,1.7 1,1.6 1,1.4 1,1.3 1,1.2 1,1.1 1,1 1,0.8 1,0.6 1,0.5 1,0.4 1,0.5 1,0.3 1,0.4 1,0.3 1,0.2 1,0.2 1,0.1 1,0.1 1,0.1 1,0.1 1,0.1 1,0 1,0.1 1,0.1 1,0 1,0.1 1,0 1,0.1 1,0 1,0 1,0 1,0 1,0 1,0 1,0 1,0 1,0 1,0 1,-0.1 1,0 1,0 1,0 1,-0.1 1,0 1,0 1,-0.1 1,0 1,-0.2 1,-0.2 1,-0.2 1,-0.3 1,-0.3 1,-0.4 1,-0.4 1,-0.5 1,-0.7 1,-1.1 1,-1.3 1,-1.5 1,-1.7 1,-2.2 1,-2.9 1,-2.6 1,-1.8 1,-1.6 1,-1 1,-0.1 1,0.3 1,0.6 1,0.9 1,2 1,1.7 1,0.7 1,0.5 1.2,0.3 0.8,-0.7 1,-2.3 1,-3 1,-4 1,-5.3 1,-4.1 1,-2.2 1,-1.7 1,-0.7 1,0.4 1,1.1 1,1.5 1,2.5 1,3.4 1,3.1 1,2.7 1,2.6 1,2.4 1,1.8 1,1.4 1,1.2 1,1 1,0.9 1,0.7 1,0.5 1,0.2 1,0.2 1,0.2 1,0.1 1,0.1 1,0.1 1,0.1 1,0.1 1,0.1 1,0.2 1,0.2 1,0.3 1,0.3 1,0.3 1,0.4 1,0.3 1,0.3 1,0.3 1,0.3 1,0.1 1,0.2 1,0.2 1,0.1 1,0.2 1,0.1 1,0.2 1,0.1 1,0.1 1,0.1 1,0 1,0.1 1,0 1,0 1,0.1 1,0 1,0 1,0 1,0.1 1,0 1,0 1,0 1,0 1,0 1,0 1,0 1,0 1,-0.2 1,-0.4 1,-0.4 1,-0.5 1,-0.4 1,-0.3 1,-0.1 1,0 1,0 1,0 1,0 1,0 1,0 1,0 1,0.1 1,0.2 1,0.3 1,0.4 1,0.5 1,0.4 1,0.3 1,0.3 1,0.2 1,0.3 1,0.3 1,0.2 1,0.2 1,0.1 1,0 1,0 1,0 1,0 1,0 1,0 1,0 1,0 1,0 1,0 1,0.2 1,0.2 1,0.3 1,0.3 1,0.2 1,0.2 1,0.1 1,-0.1 1,-0.2 1,-0.3 1,-0.2 1,-0.3 1,-0.4 1,-0.4 1,-0.3 1,-0.3 1,-0.2 1,0.1 1,0 1,0.1 1,0.2 1,0.1 1,0.1 1,0.2 1,0.1 1,0 1,0.1 1,0 1,0 1,0.1 1,0 1,0 1,0 1,0 1,0.1 1,0 1,0 1,0 1,0 1,0 1,0 1,-0.3 1,-0.6 1,-0.7 1,-0.9 1,-0.9 1,-0.9 1,-1.4 1,-1.5 1,-1.6 1,-1.4 1,-1.2 1,-1.2 1,-1 1,-0.8 1,-0.2 1,0 1,0.2 1,0.2 1,0.3 1,0.7 1,0.9 1,0.8 1,0.4 1,0 1,0 1,0 1,0 1,0 1,0 1,0 1,0 1,0 1,0 1,0 1,0 1,-0.6 1,-1.2 1,-1.3 1,-1.2 1,-1.1 1,-1.2 1,-0.9 0.9,-0.4 1.1,0.3 1,0.9 1,1 1,0.9 1,1.2 1,1.3 1,1.3 1,1.1 1,1.2 1,1.1 1,1.2 1,1 1,0.8 1,0.6 1,0.5 1,0.5 1,0.4 1,0.3 1,0.2 1,0 1,-0.2 1,-0.3 1,-0.4 1,-0.6 1,-0.6 1,-0.7 1,-0.8 1,-1.1 1,-1.4 1,-1.8 1,-2 1,-2.2 1,-2.2 1,-2.6 1,-2.9 1,-3.2 1,-3.3 1,-3.2 1,-3 1,-3.2 1,-3.3 1,-3.2 1,-3 1,-2.6 1,-2.3 1,-2.2 1,-2 1,-1.9 1,-1.5 1,-1.2 1,-0.8 1,-0.7 1,-0.7 1,-0.5 1,-0.3 1,-0.2 1,0.1 1,0.3 1,0.6 1,0.6 1,0.9 1,1.5 1,2.2 1,2.6 1,2.5 1,2.4 1,2.7 1,2.8 1,2.9 1,2.9 1,2.7 1,2.9 1,3 1,2.9 1,2.6 1,1.9 1,1.5 1,1.4 1,1.1 1,0.8 1,0.2 1,0.1 1,0 1,0 1,0.1 1,0 1,0.1 1,0.1 1,0.3 1,0.5 1,0.6 1,0.6 1,0.6 1,0.7 1,0.5 1,0.5 1,0.4 1,0.5 1,0.5 1,0.4 1,0.5 1,0.3 1,0.2 1,0.1 1,-0.1 1,-0.4 1,-0.6 1,-0.8 1,-0.9 1,-1.4 1,-2.4 1,-2.9 1,-3.1 1,-3 1,-3.6 1,-3.8 1,-3.2 1,-2.1 1,-1.2 1,-1 0.8,-0.3 1.2,1.5 1,2.7 1,3.1 1,4.5 1,4.7 1,2.1 1,0.8 0.7,0.3 1.3,-3.4 1,-5 1,-6.1 1,-7.8 1,-7 1,-5.8 1,-5.5 1,-4.5 1,-3.3 1,-2.9 1,-2.4 1.3,-1.4 0.7,0.1 1,0.2 1,0.4 1,1.7 1,4.3 1,5 1,4.8 1,5.2 1,5.4 1,5 1,4.1 1,3.8 1,3.5 1,3.1 1,2.7 1,2.4 1,2.3 1,2.2 1,1.8 1,1.3 1,0.8 1,0.6 1,0.5 1,0.3 1,0.2 0.8,0.1 1.2,-0.7 1,-1.4 1,-1.9 1,-2.3 1,-3.9 1,-5.2 1,-5.8 1,-7.5 1,-7.4 1,-5.6 1,-4.9 1,-4.2 1,-2.8 1,-2 1,-1.6 1.2,-0.8 0.8,0.5 1,1.5 1,2.1 1,2.9 1,4.4 1,4.8 1,4.2 1,4.1 1,3.9 1,3.6 1,3 1,2.7 1,2.3 1,1 1,-0.1 1,-0.4 1,-0.4 1,-1.2 1,-1.7 1,-1.8 1,-1 1,-0.1 1,0 1,0 1,0 1,0 1,0 1,0 1,0.1 1,1.1 1,1.8 1,2 1,1.7 1,1.4 1,1.4 1,1.2 1,1 1,0.6 1,0.4 1,0.4 1,0.3 1,0.3 1,0.3 1,0.3 1,0.5 1,0.5 1,0.7 1,0.8 1,0.8 1,0.8 1,0.8 1,0.7 1,0.6 1,0.7 1,0.6 1,0.7 1,0.6 1,0.5 1,0.5 1,0.5 1,0.3 1,0.4 1,0.3 1,0.3 1,0.3 1,0.3 1,0.3 1,0.4 1,0.4 1,0.5 1,0.5 1,0.5 1,0.5 1,0.3 1,0.2 0.5,0 0.5,-0.1 1,-1 1,-1.8 1,-2.2 1,-3.3 1,-5.5 1,-5.6 1,-4.4 1,-4.1 1,-2.6 1,-0.6 1.2,-0.4 0.8,0.8 1,2.5 1,3.1 1,3.4 1,4.1 1,3 1,1.7 1,1.5 1,1.2 1,0.6 1,0.1 1,-0.1 1,-0.2 1,-0.1 1,-0.1 1,-0.1 1,0 1,0.1 1,0.1 1,0.2 1,0.2 1,0.2 1,0.3 1,0.5 1,0.6 1,0.7 1,0.7 1,0.8 1,0.6 1,0.6 1,0.5 1,0.6 1,0.6 1,0.6 1,0.4 1,0.3 1,0.2 1,0.1 1,0.1 1,0.1 1,0 1,0.1 1,0 1,0.1 1,0 1,0.1 1,0.1 1,0.2 1,0.1 1,0.1 1,0 1,0 1,-0.4 1,-0.4 1,-0.5 1,-0.1 1,0.2 1,0.5 1,0.5 1,0.5 1,0.2 1,0.2 1,0.2 1,0.2 1,0.1 1,0.2 1,0.1 1,0.1 1,0.2 1,0.2 1,0.2 1,0.2 1,0.3 1,0.2 1,0.2 1,0.2 1,0.2 1,0.2 1,0.1 1,0 1,0.1 1,-0.1 1,-0.1 1,-0.1 1,-0.1 1,-0.1 1,-0.1 1,0 1,0.1 1,0.2 1,0.3 1,0.4 1,0.5 1,0.4 1,0.4 1,0.4 1,0.2 1,0.2 1,0.2 1,0.2 1,0.2 1,0.2 1,0.2 1,0.1 1,0.1 1,0 1,0.1 1,0 1,-0.1 1,-0.1 1,-0.2 1,-0.1 1,-0.3 1,-0.2 1,-0.2 1,-0.3 1,-0.4 1,-0.5 1,-0.7 1,-0.8 1,-1.1 1,-1.3 1,-2.4 1,-3.6 1,-4.2 1,-4.9 1,-6.4 1,-6.3 1,-5.7 1,-5.6 1,-4.1 1,-2.5 1,-1.9 1.1,-0.9 0.9,1.3 1,3.1 1,3.6 1,4.8 1,5.4 1,3 1,1.1 1,0.6 0.8,0.2 1.2,-1.2 1,-2.3 1,-2.8 1,-3.4 1,-4.3 1,-4 1,-2.5 1,-2 1,-1.3 0.5,-0.2 0.5,0.3 1,1.9 1,2.6 1,2.6 1,3.3 1,2.3 0.4,0.2 0.6,0 1,-0.3 1,-0.4 1,-1.6 1,-4.5 1,-5.3 1,-5.1 1,-5.7 1,-5.6 1,-5.1 1,-4.8 1,-4.4 1,-2 1,-0.4 1,-0.2 0.6,0 0.4,0.3 1,2.5 1,4 1,4 1,5.1 1,5.6 1,5 1,3.8 1,3.4 1,3 1,2.7 1,2.2 1,2 1,1.8 1,1.5 1,1.3 1,1 1,0.9 1,0.7 1,0.7 1,0.7 1,0.8 1,0.9 1,1.3 1,1.6 1,1.7 1,1.5 1,1.1 1.1,0.5 0.9,-0.3 1,-0.6 1,-0.8 1,-0.7 1,-0.4 1,0.1 1,0.5 1,0.9 1,0.9 1,1.1 1,1.7 1,1.9 1,1.9 1,1.5 1,1.3 1,1.2 1,1.1 1,0.9 1,0.7 1,0.5 1,0.5 1,0.4 1,0.2 1,-0.1 1,-0.3 1,-0.5 1,-0.6 1,-0.7 1,-0.7 1,-0.5 1,-0.5 1,-0.5 1,-0.6 1,-0.8 1,-1 1,-2.3 1,-3.6 1,-4.8 1,-5.8 1,-0.5 1,0 1,0.2 1,4.2 1,4 1,1.5 1,1.1 1,0.4 1,-0.2 1,-0.8 1,-0.9 1,-1.1 1,-1.3 1,-1.7 1,-1.9 1,-1.7 1,-1.2 1,-1.2 1,-1.1 1,-0.9 1,-0.5 1,0.1 1,0.3 1,0.5 1,0.6 1,1 1,1.5 1,1.7 1,1.4 1,1.2 1,1.2 1,0.9 1.1,0.4 0.9,-0.6 1,-1.5 1,-2.2 1,-3.2 1,-4.9 1,-5.1 1,-4.7 1,-4.8 1,-2.3 1,0 1,0 1,1 1,5.7 1,6.2 1,7.5 1,5.5 1,2 1,1.2 0.6,0.2 0.4,-0.3 1,-3 1,-4.1 1,-4.2 1,-5 1,-5.3 1,-5.6 1,-6.1 1,-6.5 1,-6.4 1,-6.4 1,-7 1,-3.4 1,-0.5 1,-0.3 1,-0.1 1,0 1,0.1 1,0.3 1,0.5 1,0.7 1,2.6 1,7.2 1,7.9 1,9.8 1,7.7 1,5.3 1,4.2 1,2.5 1,1 1,0.8 1,0.3 1,0 1,0 1,0 1,0 1,0 1,0 1,0 1,0 1,-0.3 1,-0.6 1,-0.7 1,-0.5 1,0.1 1,0.6 1,1 1,1.2 1,1.5 1,2.2 1,2.4 1,2.3 1,2.1 1,2.1 1,2 1,1.6 1,1.1 1,0.8 1,0.7 1,0.5 0.5,0 0.5,-0.3 1,-2 1,-2.9 1,-5.3 1,-6.5 1,-4 1,-3.1 0.9,-1.2 1.1,0 1,0.2 1,0.2 1,0.3 1,0.5 1,0.6 1,0.9 1,1.7 1,3.3 1,2.7 0.4,0.4 0.6,0 1,-0.2 1,-0.3 1,-0.3 1,-0.1 1,0.5 1,1.5 1,1.7 1,1.9 1,2.2 1.3,1.4 0.7,-0.4 1,-1.8 1,-2.2 1,-2.6 1,-3.3 1,-3.2 1,-2.1 1,-1.9 1,-1.5 1,-0.9 1,-0.1 1,0 1,0 1,0.1 1,0.1 1,0.1 1,0.2 1,0.3 1,0.1 1,-0.5 1,-1 1,-1.3 1,-1.3 1,-1.2 1,-1.4 1,-1.5 1,-1.4 1,-1.2 1,-0.9 1,-0.9 1,-0.7 1,-0.9 1,-0.9 1,-0.9 1,-1.1 1,-2.2 1,-7.9 1,-11.1 1,-15.2 1,-18.1 1,-21.2 1,-16.2 1,-13 1,-8 1,-5.1 1,-4.3 1,-4.6 1,-4.3 1,-4.8 1,-7.3 1,-13.2 1,-13.7 1,-13.1 1,-8.4 1,-5.1 0.9,-1.7 1.1,4.1 1,7.4 1,12.3 1,14.1 1,12.5 1,9 1,4.1 1,2.9 1,2.2 1,1.7 1,1.2 1,1.5 1,2.7 1,4 1,4.6 1,5.2 1,6.1 1,6.3 1,6.1 1,6.2 1,6 1,5.5 1,5.3 1,4.8 1,4.3 1,4 1,3.4 1,2.3 1,1.6 1,1.3 1,1.1 1,1.2 1,1.4 1,1.6 1,1.1 1,0.2 1,0.1 1,0.2 1,0.1 1,0.3 1,0.6 1,1.1 1,1.2 1,1.2 1,1 1,0.9 1,0.9 1,1 1,1.1 1,1.5 1,2.1 1,2.3 1,2 1,1.4 1,0.8 1,0.6 1,0.6 1,0.6 1,0.6 1,0.8 1,0.8 1,1 1,1.3 1,1.6 1,2.4 1,2.3 1,2.1 1,1.4 1,1.1 1,0.8 1,0.4 1,0.2 1,0 1,0 1,0.1 1,-0.4 1,-1.1 1,-1.4 1,-1.2 1,-0.7 1,0.2 1,0.6 1,0.4 1,0.4 1,0.1 1,-0.1 1,0 1,-0.2 1,-0.2 1,-0.2 1,-0.3 1,-0.3 1,0 1,0.4 1,0.7 1,1.1 1,1.1 1,1.2 1,1.4 1,1.6 1,1.4 1,1.3 1,1 1,1.1 1,1 1,0.7 1,0.5 1,0.6 1,0.3 1,0.1 1,-0.2 1,-0.8 1,-1 1,-1.1 1,-0.6 1,-0.8 1,-1 1,-1.3 1,-1.8 1,-3 1,-4.4 1,-6.8 1,-11.2 1,-14.3 1,-18.3 1,-22.8 1,-24.2 1,-24.2 1,-11.9 0.6,-2.7 0.4,0.9 1,6.5 1,10.8 1,14.6 1,12.9 1,12.5 1,12.6 1,11.4 1,7 1,5.2 1,3.6 1,2.4 1,1.8 1,2.2 1,3.4 1,3.4 1,2.5 1,1.9 1,1.6 0.2,0.4"/></g>
<path d="M195,891l1,0.3 1,-0.1 1,-0.1 1,-0.2 1,-0.2 1,-0.1 1,0.1 1,0.2 1,0.2 1,0.2 1,0.1 1,0 1,0.1 1,0 1,-0.1 1,0 1,0.1 1,0 1,-0.2 1,0 1,0 1,-0.2 1,0.1 1,0 1,-0.1 1,-0.1 1,-0.2 1,-0.3 1,0 1,-0.1 1,0 1,0.1 1,0.2 1,0 1,0.2 1,0.2 1,0.2 1,0.2 1,0 1,0 1,0 1,-0.2 1,-0.2 1,0 1,-0.2 1,-0.2 1,-0.1 1,-0.1 1,-0.1 1,0.1 1,0 1,-0.1 1,0 1,0 1,0.1 1,-0.1 1,0.1 1,0.1 1,0 1,0 1,0.1 1,0.1 1,0 1,0.1 1,0.1 1,0 1,-0.1 1,0.1 1,0 1,0 1,0.2 1,0.3 1,0 1,0.1 1,-0.1 1,-0.2 1,-0.3 1,-0.2 1,-0.2 1,0 1,0 1,0 1,0 1,0 1,0 1,0 1,0.1 1,0.2 1,0.2 1,0.1 1,0.1 1,0 1,-0.1 1,-0.1 1,0 1,-0.1 1,0.2 1,0.2 1,0.3 1,0.2 1,0.1 1,-0.1 1,-0.3 1,-0.5 1,-0.3 1,-0.2 1,0 1,-0.1 1,0.2 1,0 1,-0.1 1,0.1 1,0.2 1,0.2 1,0.2 1,0.4 1,0.1 1,0.1 1,0 1,0 1,-0.2 1,-0.2 1,-0.2 1,-0.1 1,-0.1 1,0.1 1,-0.1 1,0 1,-0.1 1,0 1,0 1,0.1 1,0.1 1,0 1,-0.2 1,-0.2 1,-0.1 1,0 1,0.1 1,0.2 1,0.1 1,0 1,-0.1 1,-0.2 1,-0.3 1,0 1,-0.1 1,0 1,0.1 1,0.1 1,0.2 1,0.1 1,0.2 1,0.1 1,0.2 1,0 1,-0.1 1,-0.2 1,0.1 1,0 1,0.2 1,0.2 1,0.2 1,0 1,0 1,-0.1 1,-0.1 1,-0.1 1,0.2 1,0.1 1,0.2 1,0 1,0 1,-0.3 1,-0.2 1,-0.2 1,0 1,-0.1 1,0.1 1,0 1,0 1,-0.2 1,-0.1 1,-0.3 1,-0.1 1,-0.1 1,0.2 1,0.2 1,0.4 1,0.2 1,0.1 1,0 1,-0.2 1,-0.3 1,-0.2 1,-0.3 1,0.1 1,0 1,0.2 1,0.1 1,0.1 1,-0.1 1,0 1,-0.1 1,-0.1 1,-0.1 1,0 1,-0.1 1,-0.1 1,-0.2 1,0 1,0 1,0.1 1,0.1 1,0.3 1,0 1,-0.1 1,0 1,-0.1 1,-0.1 1,0 1,-0.1 1,-0.1 1,0.1 1,0.2 1,0 1,0.1 1,0.1 1,0 1,-0.1 1,0.1 1,0.1 1,0 1,0.1 1,0.1 1,-0.1 1,0.1 1,0.1 1,0.2 1,0.1 1,0.1 1,0 1,0 1,0.1 1,-0.2 1,0 1,-0.1 1,0 1,-0.2 1,0 1,-0.2 1,0 1,-0.1 1,0.2 1,0.2 1,0.2 1,0.2 1,0.1 1,0 1,-0.1 1,0 1,0 1,-0.1 1,0 1,0.1 1,-0.1 1,0 1,0 1,0 1,-0.2 1,-0.1 1,-0.1 1,-0.1 1,-0.1 1,0.2 1,0.1 1,0 1,0 1,-0.1 1,-0.2 1,-0.1 1,0 1,0.1 1,0.2 1,0.2 1,0 1,-0.1 1,-0.2 1,-0.3 1,-0.4 1,-0.1 1,0 1,-0.2 1,0 1,0.2 1,0 1,0 1,0.3 1,0.4 1,0.1 1,0.1 1,0 1,-0.1 1,-0.2 1,-0.1 1,0.1 1,0.1 1,0 1,0.1 1,-0.2 1,-0.3 1,-0.3 1,-0.3 1,-0.3 1,-0.1 1,0 1,0.3 1,0.3 1,0.5 1,0.3 1,0.5 1,0.6 1,0.6 1,0.5 1,0.3 1,-0.2 1,-0.1 1,-0.2 1,-0.2 1,0.1 1,0.1 1,0 1,0 1,0 1,0 1,-0.1 1,0 1,0.1 1,-0.1 1,-0.1 1,0 1,0 1,-0.1 1,0.1 1,0 1,0 1,-0.3 1,-0.2 1,0 1,-0.2 1,0 1,-0.2 1,-0.1 1,-0.3 1,-0.2 1,-0.2 1,-0.1 1,0.1 1,0 1,0 1,0.1 1,0.1 1,0 1,0.1 1,0.2 1,0.2 1,0.1 1,0 1,0 1,-0.1 1,-0.1 1,-0.1 1,0 1,0.1 1,0.2 1,0.2 1,0 1,-0.1 1,-0.2 1,-0.2 1,-0.2 1,0 1,0 1,0 1,0 1,0 1,-0.1 1,-0.1 1,0 1,0 1,0 1,0 1,0.2 1,0.2 1,0.2 1,0.1 1,0.3 1,0.1 1,0 1,0 1,-0.1 1,-0.1 1,-0.1 1,-0.2 1,0 1,0 1,-0.1 1,-0.2 1,0.1 1,0 1,-0.1 1,0 1,0.1 1,0 1,-0.1 1,0.1 1,0.1 1,0 1,-0.1 1,-0.1 1,-0.2 1,-0.2 1,-0.3 1,-0.2 1,0 1,-0.1 1,0.1 1,0.2 1,0 1,-0.1 1,0 1,-0.2 1,0 1,-0.1 1,0 1,0.1 1,0.1 1,0.1 1,0.2 1,0.1 1,0.1 1,0 1,0 1,0 1,0.1 1,0.1 1,0.2 1,0.1 1,0.1 1,-0.1 1,0 1,-0.1 1,-0.1 1,-0.1 1,0 1,0.1 1,0.1 1,0.2 1,0.1 1,-0.1 1,-0.3 1,-0.3 1,-0.3 1,-0.2 1,-0.1 1,0 1,0 1,0.1 1,0.1 1,0 1,0 1,0.1 1,0 1,-0.1 1,-0.1 1,0 1,-0.1 1,0.1 1,0.2 1,0.2 1,0.2 1,0.4 1,0.3 1,0.2 1,0.2 1,-0.1 1,-0.1 1,-0.2 1,-0.2 1,-0.2 1,0 1,0 1,0.2 1,0 1,0 1,0 1,-0.1 1,-0.2 1,-0.1 1,-0.1 1,0 1,0 1,0.1 1,0.1 1,0 1,-0.1 1,-0.2 1,-0.1 1,-0.1 1,-0.2 1,0 1,0.1 1,0 1,0.1 1,0.1 1,0.1 1,0.2 1,0.1 1,-0.1 1,-0.1 1,-0.1 1,-0.2 1,-0.1 1,0 1,0.1 1,0.1 1,0.2 1,0.2 1,0.1 1,-0.1 1,0 1,0 1,-0.1 1,-0.1 1,0.1 1,0 1,0 1,-0.1 1,-0.1 1,-0.1 1,-0.1 1,-0.2 1,0 1,0 1,0.1 1,0.2 1,0.1 1,0.2 1,0.1 1,-0.1 1,-0.2 1,-0.2 1,-0.3 1,-0.5 1,-0.1 1,0.1 1,0.2 1,0.2 1,0.3 1,0.2 1,0.1 1,0.1 1,0.1 1,0 1,0 1,0.1 1,0.1 1,-0.1 1,0 1,-0.1 1,-0.2 1,-0.2 1,0.1 1,0 1,0.1 1,0.1 1,0 1,-0.1 1,0.1 1,-0.1 1,0.2 1,0.1 1,0.1 1,0 1,0 1,-0.1 1,-0.1 1,0 1,-0.1 1,0 1,-0.1 1,-0.1 1,-0.2 1,0 1,0.1 1,0.1 1,0 1,0.1 1,0 1,-0.2 1,-0.1 1,0.1 1,0.1 1,0.1 1,0.4 1,0.4 1,0.1 1,0 1,0 1,-0.3 1,-0.4 1,-0.3 1,-0.3 1,-0.2 1,-0.1 1,0.2 1,0.1 1,0.1 1,0.1 1,0.2 1,0 1,0.1 1,0.2 1,0.1 1,0 1,0 1,0 1,-0.1 1,0 1,-0.2 1,-0.1 1,-0.2 1,0 1,-0.1 1,0 1,0.1 1,0 1,-0.1 1,-0.1 1,-0.1 1,-0.3 1,-0.1 1,0.1 1,0 1,0.2 1,0.3 1,0.3 1,0.2 1,0.3 1,0 1,-0.2 1,-0.4 1,-0.4 1,-0.3 1,-0.1 1,0.1 1,0.3 1,0.4 1,0.2 1,0.1 1,-0.1 1,0 1,0 1,0.2 1,0.2 1,0.3 1,0.2 1,0.1 1,-0.1 1,-0.1 1,-0.3 1,-0.2 1,-0.2 1,-0.2 1,-0.2 1,-0.1 1,-0.1 1,-0.1 1,0.1 1,0 1,0.1 1,0 1,0.2 1,0 1,0.1 1,0 1,-0.1 1,-0.1 1,-0.1 1,-0.1 1,-0.1 1,0.1 1,0.1 1,0 1,0.1 1,0 1,-0.2 1,-0.2 1,-0.1 1,0 1,-0.1 1,0.1 1,0.1 1,0 1,-0.1 1,0.1 1,0.1 1,-0.1 1,0.1 1,0.2 1,0 1,0 1,0 1,-0.1 1,-0.1 1,0 1,-0.1 1,0 1,-0.1 1,0 1,0 1,0.1 1,0.1 1,0.1 1,0 1,0 1,-0.1 1,0 1,0 1,0.1 1,0 1,0 1,0 1,-0.1 1,0.1 1,-0.1 1,0 1,0 1,-0.2 1,-0.2 1,-0.2 1,0 1,0 1,0.2 1,0.3 1,0.2 1,0.2 1,0 1,-0.1 1,-0.2 1,-0.1 1,-0.2 1,0 1,0.3 1,0.2 1,0 1,0 1,-0.1 1,-0.2 1,-0.2 1,0 1,0 1,0.1 1,0.1 1,-0.1 1,-0.1 1,-0.1 1,0 1,0 1,0.1 1,0.1 1,0 1,0.1 1,-0.1 1,-0.1 1,0.1 1,0.1 1,-0.1 1,0.1 1,0.1 1,0 1,0 1,-0.1 1,-0.2 1,-0.2 1,-0.3 1,-0.3 1,-0.1 1,0.1 1,0.2 1,0.3 1,0.4 1,0.1 1,0.1 1,0.1 1,0.1 1,0 1,0.1 1,0.1 1,-0.1 1,-0.1 1,-0.2 1,-0.1 1,-0.2 1,-0.2 1,-0.1 1,0.1 1,0.1 1,0.2 1,0.2 1,0.3 1,0.3 1,0.2 1,0 1,0 1,-0.2 1,-0.3 1,-0.2 1,-0.2 1,-0.2 1,-0.3 1,0 1,0 1,0.1 1,0 1,0.1 1,-0.1 1,-0.2 1,-0.1 1,-0.1 1,0 1,0.1 1,0.3 1,0.2 1,0.2 1,0.3 1,0.2 1,0.1 1,-0.1 1,-0.1 1,-0.3 1,-0.2 1,-0.2 1,-0.1 1,-0.2 1,-0.1 1,-0.1 1,-0.1 1,-0.2 1,-0.1 1,-0.1 1,-0.1 1,-0.1 1,-0.1 1,-0.2 1,-0.3 1,-0.5 1,-0.6 1,-0.6 1,-0.4 1,-0.6 1,-0.5 1,-0.5 1,-0.5 1,-0.6 1,-0.5 1,-0.5 1,-0.4 1,-0.6 1,-0.4 1,-0.6 1,-0.6 1,-0.7 1,-0.6 1,-0.3 1,0.1 1,0.5 1,0.7 1,0.8 1,0.7 1,1 1,0.9 1,1.2 1,1.1 1,1 1,0.6 1,0.8 1,0.5 1,0.6 1,0.3 1,0.4 1,0.1 1,0 1,-0.1 1,-0.1 1,0 1,0 1,0.2 1,0.2 1,0.1 1,0.2 1,0.2 1,0 1,0.1 1,0.1 1,0.2 1,0 1,0.2 1,0.1 1,-0.1 1,-0.3 1,-0.3 1,-0.4 1,-0.3 1,0 1,0.1 1,0.1 1,0.3 1,0 1,0 1,0 1,0 1,-0.1 1,0.1 1,0.1 1,0.2 1,0.1 1,0.2 1,0.1 1,0.1 1,-0.1 1,0.1 1,-0.2 1,-0.1 1,-0.2 1,-0.3 1,-0.5 1,-0.4 1,-0.5 1,-0.5 1,-0.8 1,-0.9 1,-0.8 1,-0.5 1,-0.1 1,0.1 1,0.1 1,0.2 1,0.4 1,0.6 1,0.4 1,0.2 1,0 1,0 1,-0.2 1,-0.3 1,-0.3 1,-0.4 1,-0.3 1,-0.4 1,-0.5 1,-0.5 1,-0.6 1,-0.8 1,-0.6 1,-0.8 1,-0.6 1,-0.6 1,-0.8 1,-0.7 1,-0.6 1,-0.8 1,-0.6 1,-0.4 1,-0.4 1,-0.5 1,-0.4 1,-0.5 1,-0.5 1,-0.5 1,-0.3 1,-0.3 1,-0.1 1,-0.2 1,0 1,-0.4 1,-0.7 1,-1.3 1,-2.7 1,-3.6 1,-5.9 1,-6.7 1,-2.1 1,-1.1 1,-0.7 1,-0.5 1,-0.1 1,0 1,0 1,0.1 1,0.1 1,0.1 1,0.3 1,0.2 1,0.2 1,0.1 1,-0.1 1,-0.1 1,-0.1 1,-0.1 1,0 1,0.1 1,0 1,0.1 1,0 1,-0.3 1,-1.1 1,-1.4 1,-1 1,-0.7 1,-0.6 1,-0.4 1,-0.3 1,-0.3 1,-0.1 1,-0.2 1,-0.3 1,-0.1 1,-0.1 1,0.3 1,0.7 1,1 1,1 1,1.2 1,1.4 1,1.7 1,1.8 1,1.9 1,2.1 1,2.5 1,2.6 1,2.6 1,2.2 1,1.8 1,1.7 1,1.6 1,1.5 1,1.4 1,1.4 1,1.1 1,0.8 1,0.8 1,0.6 1,0.4 1,0.4 1,0.3 1,0.5 1,0.5 1,0.6 1,0.5 1,0.4 1,-0.1 1,-0.7 1,-2.1 1,-8.4 1,-4.5 1,-1.5 0.4,-0.2 0.6,1.4 1,5.8 1,4.5 1,3.8 1,1.8 1,1.2 1,0.7 1,0.6 1,0.5 1,0.3 1,0.2 1,0.2 1,0.3 1,0.1 1,0.3 1,0.3 1,0.2 1,0.3 1,0.3 1,0.2 1,0.1 1,0.1 1,0 1,-0.1 1,0 1,0.1 1,-0.1 1,0 1,0.2 1,0.2 1,0.1 1,0.3 1,0.4 1,0.2 1,0.2 1,0.3 1,0.3 1,0.1 1,0.1 1,0 1,-0.1 1,-0.1 1,-0.1 1,0.1 1,0.2 1,0.1 1,0.1 1,-0.1 1,-0.1 1,-0.2 1,-0.3 1,-0.1 1,-0.2 1,-0.2 1,-0.2 1,-0.2 1,-0.3 1,-0.2 1,-0.2 1,-0.3 1,-0.9 1,-1.7 1,-2.5 1,-3.5 1,-7.1 1,-9.7 1,-11.4 1,-16.4 1,-5.8 1,-0.6 0.4,-0.3 0.6,2.9 1,13.1 1,11 1,9.6 1,6.7 1,4.2 1,3.4 1,2.3 1,1.5 1,1.3 1,1.1 1,1 1,0.9 1,0.7 1,0.6 1,0.4 1,0.4 1,0.2 1,0.3 1,0.3 1,0.4 1,0.3 1,0.1 1,0.1 1,0.1 1,-0.2 1,0 1,0.1 1,0 1,0 1,0.1 1,0 1,-0.1 1,0 1,-0.1 1,-0.1 1,0 1,0.1 1,0 1,0 1,-0.1 1,-0.2 1,-0.2 1,-0.3 1,-0.2 1,-0.1 1,0 1,0.2 1,0.2 1,0.3 1,0.1 1,0.2 1,-0.1 1,-0.1 1,-0.1 1,-0.2 1,-0.2 1,-0.1 1,-0.1 1,-0.1 1,-0.1 1,-0.1 1,-0.1 1,-0.2 1,-0.2 1,-0.1 1,0.1 1,-0.1 1,0.2 1,0.1 1,0 1,0 1,-0.1 1,-0.1 1,0 1,0.1 1,0.1 1,0.1 1,0 1,0.1 1,-0.1 1,0 1,0.1 1,0.1 1,-0.1 1,-0.1 1,0 1,0 1,0 1,0 1,0.1 1,0.1 1,0.1 1,0.1 1,0.1 1,0 1,0 1,0 1,0 1,-0.2 1,-0.2 1,-0.3 1,-0.3 1,-0.3 1,-0.1 1,-0.1 1,-0.1 1,-0.2 1,-0.3 1,-0.4 1,-0.4 1,-0.6 1,-0.4 1,-0.4 1,-0.8 1,-1.2 1,-1.5 1,-2 1,-3.8 1,-5.2 1,-5.7 1,-7.6 1,-6.2 1,-3.3 1.1,-1.6 0.9,2.1 1,4.8 1,6.3 1,7.7 1,5.1 1,4.1 1,3.5 1,2.4 1,1.6 1,1.5 1,1 1,0.6 1,0.2 1,0 1,0 1,0 1,0.2 1,0.1 1,0 1,0.1 1,-0.3 1,-0.7 1,-0.8 1,-1.1 1,-1.3 1,-2.6 1,-5.2 1,-8.9 1,-35.2 1,-53.5 1,-60.1 0.7,-27.1 1.3,2.7 1,80.2 1,44.7 1,25.9 1,13.8 1,7.3 1,4.6 1,3.5 1,2.7 1,2.2 1,1.5 1,1.5 1,1.3 1,1 1,0.6 1,0.6 1,0.5 1,0.4 1,0.3 1,0.3 1,0 1,0 1,0 1,0 1,0 1,0.1 1,0 1,0.2 1,0.1 1,0.1 1,0.1 1,0.2 1,0.1 1,0 1,0 1,0 1,-0.2 1,0 1,-0.1 1,0 1,0 1,0 1,-0.1 1,-0.1 1,-0.2 1,-0.2 1,-0.2 1,-0.4 1,-0.7 1,-1.1 1,-1.1 1,-1.5 1,-1.4 1,0.2 1,1.1 1,0.9 1,0.5 1,0.4 1,0.2 1,-0.1 1,-0.4 1,-0.4 1,-0.5 1,-0.5 1,-0.4 1,-0.2 1,-0.2 1,-0.2 1,-0.2 1,-0.2 1,-0.2 1,-0.1 1,-0.1 1,-0.1 1,-0.2 1,-0.3 1,-0.2 1,-0.3 1,-0.2 1,-0.2 1,-0.1 1,0 1,0.1 1,0.1 1,0 1,0.2 1,0 1,0.1 1,0.1 1,0 1,0 1,0 1,0 1,0.1 1,0 1,0 1,0.1 1,0 1,-0.1 1,0 1,0 1,0 1,0.2 1,0.5 1,0.7 1,0.8 1,0.6 1,0.5 1,0 1,0 1,0 1,0.1 1,0 1,-0.1 1,-0.4 1,-0.2 1,0 1,0.1 1,0.2 1,0.3 1,0.3 1,0.2 1,0 1,0 1,-0.1 1,-0.3 1,-0.2 1,-0.2 1,-0.3 1,-0.4 1,-1 1,-1.4 1,-1.8 1,-1.9 1,-2.2 1,-2.8 1,-3.2 1,-4.5 1,-5.9 1,-5.7 1,-5 1,-4.7 1,-2.9 1,-1.2 1.3,-0.8 0.7,0.5 1,1.6 1,2.6 1,5.1 1,6.4 1,5 1,4.8 1,4.3 1,3.6 1,2.7 1,2.3 1,1.9 1,1.5 1,1.2 1,1 1,1 1,1 1,0.9 1,0.7 1,0.4 1,0.4 1,0.3 1,0.2 1,0.3 1,0.4 1,0.4 1,0.3 1,0.4 1,0.2 1,0.2 1,0.1 1,0.2 1,-0.1 1,-0.7 1,-1.4 1,-1.8 1,-3.6 1,-4.4 1,-1.8 0.8,-0.6 1.2,4.4 1,4.5 1,4.2 1,2.7 1,0.6 1,0.3 1,0.4 1,0.2 1,0.2 1,0.2 1,0 1,0.1 1,0.1 1,0 1,-0.1 1,0.1 1,0 1,-0.1 1,0.2 1,0.2 1,0 1,0.1 1,0.1 1,0 1,0 1,0 1,0.2 1,0.1 1,0 1,0.1 1,0 1,-0.1 1,0 1,0.1 1,-0.1 1,-0.1 1,-0.1 1,-0.2 1,-0.1 1,0 1,0 1,0.1 1,0.1 1,0 1,-0.1 1,-0.1 1,-0.1 1,-0.2 1,-0.1 1,0.1 1,-0.2 1,-0.2 1,-0.2 1,-0.3 1,-0.2 1,-0.1 1,0 1,0.2 1,0.2 1,0.3 1,0.1 1,0 1,-0.1 1,-0.1 1,-0.1 1,-0.1 1,0.1 1,0 1,0 1,0 1,0 1,0 1,0.2 1,0.2 1,0 1,0.2 1,0.2 1,0.1 1,0.2 1,0.1 1,-0.1 1,-0.1 1,-0.3 1,-0.2 1,-0.1 1,0 1,0.2 1,0.3 1,0.1 1,-0.1 1,0 1,-0.2 1,-0.1 1,-0.1 1,0 1,0.1 1,0.1 1,0 1,0 1,-0.1 1,-0.2 1,-0.1 1,-0.1 1,0 1,0 1,-0.1 1,-0.4 1,-0.5 1,-0.4 1,-0.3 1,0 1,0.3 1,0.6 1,0.4 1,0.3 1,0.1 1,0.1 1,0 1,0.2 1,0.1 1,0 1,0 1,0 1,0 1,0.1 1,0.2 1,0.1 1,0.3 1,0.1 1,0.1 1,0.2 1,0.1 1,0.2 1,0.1 1,0.1 1,0 1,-0.1 1,-0.1 1,-0.1 1,0 1,0.1 1,0 1,0.1 1,0 1,-0.1 1,-0.3 1,-0.1 1,-0.3 1,-0.2 1,-0.3 1,-0.2 1,-0.2 1,0 1,0 1,0.1 1,0 1,0 1,-0.2 1,-0.1 1,-0.1 1,0 1,0 1,-0.1 1,0 1,-0.3 1,-0.3 1,-0.3 1,-0.3 1,-0.3 1,-0.2 1,-0.1 1,-0.2 1,-0.3 1,-0.4 1,-0.9 1,-1.1 1,-1.4 1,-2.2 1,-3.5 1,-4.8 1,-8.5 1,-13.6 1,-23.4 1,-25.4 1,-18.7 0.6,-4.5 0.4,2.3 1,16.7 1,22.3 1,18.7 1,10.1 1,4.3 1,2.7 1,2.3 1,2.9 1,3.1 1,3.2 1,2.8 1,2.5 1,2.3 1,2.2 1,1.9 1,1.6 1,1.5 1,1.2 1,1 1,0.8 1,0.8 1,0.5 1,0.5 1,0.7 1,0.5 1,0.5 1,0.5 1,0.3 1,0.2 1,0 1,0 1,-0.1 1,-0.1 1,-0.1 1,0 1,0.1 1,0 1,0.2 1,0.1 1,0 1,0.1 1,0.1 1,-0.1 1,-0.1 1,0 1,0 1,-0.1 1,0 1,0 1,0 1,0 1,0 1,-0.5 1,-0.7 1,-1.1 1,-1.4 1,-2.5 1,-4.7 1,-7.4 1,-21.1 1,-15.3 1.3,-9.5 0.7,6.2 1,18 1,20.2 1,8.9 1,2.9 1,-7.5 1,-12 1,-12 1,-2.3 0.6,-0.4 0.4,1.7 1,11.7 1,12.4 1,7.1 1,2.9 1,1.9 1,1.2 1,0.5 1,0.1 1,0.1 1,0.1 1,0.2 1,0.2 1,1.1 1,4 1,2.7 0.7,0.9 1.3,-4.6 1,-0.7 1,-0.5 1,-0.4 1,-0.3 1,-0.3 1,-0.2 1,0 1,0.1 1,0.1 1,0.3 1,0.2 1,0.1 1,-0.1 1,0 1,-0.2 1,-0.2 1,0 1,0.2 1,0.1 1,0.3 1,0.3 1,0.2 1,0 1,-0.1 1,-0.2 1,-0.2 1,-0.4 1,-0.2 1,0 1,-0.2 1,0 1,0 1,-0.1 1,-0.2 1,-0.1 1,-0.1 1,-0.1 1,-0.1 1,-0.1 1,-0.3 1,-0.2 1,-0.3 1,-0.2 1,-0.1 1,0.1 1,0.1 1,0.2 1,0.3 1,0.3 1,0.3 1,0.3 1,0.4 1,0.1 1,0.2 1,0.1 1,-0.1 1,0 1,0 1,-0.1 1,0 1,0.2 1,0.1 1,0 1,0.1 1,0 1,-0.1 1,-0.1 1,0.1 1,0.1 1,0.3 1,0.3 1,0.3 1,0.2 1,0.1 1,0 1,0 1,-0.2 1,-0.3 1,-0.3 1,-0.2 1,-0.1 1,-0.1 1,0 1,0 1,0 1,0.1 1,0 1,0 1,-0.1 1,-0.1 1,-0.1 1,0 1,-0.1 1,0 1,0.1 1,0.2 1,0.1 1,0.1 1,0.2 1,0 1,-0.2 1,-0.2 1,-0.2 1,-0.1 1,0 1,0.1 1,0.2 1,0 1,-0.1 1,0 1,-0.1 1,-0.1 1,-0.2 1,0.1 1,-0.1 1,0.2 1,0.1 1,0.3 1,0.1 1,0.1 1,-0.1 1,-0.2 1,-0.1 1,-0.1 1,-0.1 1,0 1,0.1 1,0 1,-0.1 1,-0.1 1,0 1,-0.1 1,-0.1 1,-0.1 1,0 1,-0.1 1,0 1,-0.1 1,-0.1 1,-0.1 1,0 1,0 1,-0.1 1,0 1,-0.1 1,-0.2 1,-0.3 1,-0.2 1,-0.2 1,-0.1 1,0 1,0.3 1,0.3 1,0.3 1,0.3 1,0.4 1,0.1 1,0.2 1,0 1,0 1,-0.3 1,-0.2 1,-0.1 1,0 1,0 1,0.1 1,0.2 1,0.1 1,-0.1 1,0 1,-0.1 1,0 1,0 1,0.1 1,0.2 1,0.2 1,0.2 1,0.2 1,0.1 1,0 1,0.1 1,0 1,0 1,-0.1 1,-0.1 1,-0.3 1,-0.1 1,-0.4 1,-0.1 1,-0.2 1,-0.1 1,-0.2 1,0 1,-0.1 1,0 1,0.1 1,0.1 1,-0.1 1,0.1 1,-0.1 1,-0.4 1,-0.4 1,-0.4 1,-0.5 1,-0.4 1,-0.3 1,-0.4 1,-0.2 1,-0.3 1,-0.5 1,-0.4 1,-0.5 1,-0.6 1,-0.5 1,-0.6 1,-0.6 1,-0.6 1,-0.7 1,-1.2 1,-1.4 1,-1.9 1,-2.3 1,-2.7 1,-3 1,-4 1,-5.3 1,-7.8 1,-12.4 1,-16.4 1,-25 1,-33.8 1,-46.1 1,-44.3 1,-33 1.3,-21.1 0.7,9 1,30 1,59.1 1,50.1 1,39.2 1,24.6 1,17.7 1,11.3 1,8.4 1,4.3 1,1.9 1,1.1 1,0.9 1,1.1 1,1.1 1,1.3 1,2.2 1.2,9.1 0.8,-1.9 0.2,-1.1" stroke="#ff00ff" stroke-width="3"/><g class="m"><path d="M195,891l1,0.3 1,-0.1 1,-0.1 1,-0.2 1,-0.2 1,-0.1 1,0.1 1,0.2 1,0.2 1,0.2 1,0.1 1,0 1,0.1 1,0 1,-0.1 1,0 1,0.1 1,0 1,-0.2 1,0 1,0 1,-0.2 1,0.1 1,0 1,-0.1 1,-0.1 1,-0.2 1,-0.3 1,0 1,-0.1 1,0 1,0.1 1,0.2 1,0 1,0.2 1,0.2 1,0.2 1,0.2 1,0 1,0 1,0 1,-0.2 1,-0.2 1,0 1,-0.2 1,-0.2 1,-0.1 1,-0.1 1,-0.1 1,0.1 1,0 1,-0.1 1,0 1,0 1,0.1 1,-0.1 1,0.1 1,0.1 1,0 1,0 1,0.1 1,0.1 1,0 1,0.1 1,0.1 1,0 1,-0.1 1,0.1 1,0 1,0 1,0.2 1,0.3 1,0 1,0.1 1,-0.1 1,-0.2 1,-0.3 1,-0.2 1,-0.2 1,0 1,0 1,0 1,0 1,0 1,0 1,0 1,0.1 1,0.2 1,0.2 1,0.1 1,0.1 1,0 1,-0.1 1,-0.1 1,0 1,-0.1 1,0.2 1,0.2 1,0.3 1,0.2 1,0.1 1,-0.1 1,-0.3 1,-0.5 1,-0.3 1,-0.2 1,0 1,-0.1 1,0.2 1,0 1,-0.1 1,0.1 1,0.2 1,0.2 1,0.2 1,0.4 1,0.1 1,0.1 1,0 1,0 1,-0.2 1,-0.2 1,-0.2 1,-0.1 1,-0.1 1,0.1 1,-0.1 1,0 1,-0.1 1,0 1,0 1,0.1 1,0.1 1,0 1,-0.2 1,-0.2 1,-0.1 1,0 1,0.1 1,0.2 1,0.1 1,0 1,-0.1 1,-0.2 1,-0.3 1,0 1,-0.1 1,0 1,0.1 1,0.1 1,0.2 1,0.1 1,0.2 1,0.1 1,0.2 1,0 1,-0.1 1,-0.2 1,0.1 1,0 1,0.2 1,0.2 1,0.2 1,0 1,0 1,-0.1 1,-0.1 1,-0.1 1,0.2 1,0.1 1,0.2 1,0 1,0 1,-0.3 1,-0.2 1,-0.2 1,0 1,-0.1 1,0.1 1,0 1,0 1,-0.2 1,-0.1 1,-0.3 1,-0.1 1,-0.1 1,0.2 1,0.2 1,0.4 1,0.2 1,0.1 1,0 1,-0.2 1,-0.3 1,-0.2 1,-0.3 1,0.1 1,0 1,0.2 1,0.1 1,0.1 1,-0.1 1,0 1,-0.1 1,-0.1 1,-0.1 1,0 1,-0.1 1,-0.1 1,-0.2 1,0 1,0 1,0.1 1,0.1 1,0.3 1,0 1,-0.1 1,0 1,-0.1 1,-0.1 1,0 1,-0.1 1,-0.1 1,0.1 1,0.2 1,0 1,0.1 1,0.1 1,0 1,-0.1 1,0.1 1,0.1 1,0 1,0.1 1,0.1 1,-0.1 1,0.1 1,0.1 1,0.2 1,0.1 1,0.1 1,0 1,0 1,0.1 1,-0.2 1,0 1,-0.1 1,0 1,-0.2 1,0 1,-0.2 1,0 1,-0.1 1,0.2 1,0.2 1,0.2 1,0.2 1,0.1 1,0 1,-0.1 1,0 1,0 1,-0.1 1,0 1,0.1 1,-0.1 1,0 1,0 1,0 1,-0.2 1,-0.1 1,-0.1 1,-0.1 1,-0.1 1,0.2 1,0.1 1,0 1,0 1,-0.1 1,-0.2 1,-0.1 1,0 1,0.1 1,0.2 1,0.2 1,0 1,-0.1 1,-0.2 1,-0.3 1,-0.4 1,-0.1 1,0 1,-0.2 1,0 1,0.2 1,0 1,0 1,0.3 1,0.4 1,0.1 1,0.1 1,0 1,-0.1 1,-0.2 1,-0.1 1,0.1 1,0.1 1,0 1,0.1 1,-0.2 1,-0.3 1,-0.3 1,-0.3 1,-0.3 1,-0.1 1,0 1,0.3 1,0.3 1,0.5 1,0.3 1,0.5 1,0.6 1,0.6 1,0.5 1,0.3 1,-0.2 1,-0.1 1,-0.2 1,-0.2 1,0.1 1,0.1 1,0 1,0 1,0 1,0 1,-0.1 1,0 1,0.1 1,-0.1 1,-0.1 1,0 1,0 1,-0.1 1,0.1 1,0 1,0 1,-0.3 1,-0.2 1,0 1,-0.2 1,0 1,-0.2 1,-0.1 1,-0.3 1,-0.2 1,-0.2 1,-0.1 1,0.1 1,0 1,0 1,0.1 1,0.1 1,0 1,0.1 1,0.2 1,0.2 1,0.1 1,0 1,0 1,-0.1 1,-0.1 1,-0.1 1,0 1,0.1 1,0.2 1,0.2 1,0 1,-0.1 1,-0.2 1,-0.2 1,-0.2 1,0 1,0 1,0 1,0 1,0 1,-0.1 1,-0.1 1,0 1,0 1,0 1,0 1,0.2 1,0.2 1,0.2 1,0.1 1,0.3 1,0.1 1,0 1,0 1,-0.1 1,-0.1 1,-0.1 1,-0.2 1,0 1,0 1,-0.1 1,-0.2 1,0.1 1,0 1,-0.1 1,0 1,0.1 1,0 1,-0.1 1,0.1 1,0.1 1,0 1,-0.1 1,-0.1 1,-0.2 1,-0.2 1,-0.3 1,-0.2 1,0 1,-0.1 1,0.1 1,0.2 1,0 1,-0.1 1,0 1,-0.2 1,0 1,-0.1 1,0 1,0.1 1,0.1 1,0.1 1,0.2 1,0.1 1,0.1 1,0 1,0 1,0 1,0.1 1,0.1 1,0.2 1,0.1 1,0.1 1,-0.1 1,0 1,-0.1 1,-0.1 1,-0.1 1,0 1,0.1 1,0.1 1,0.2 1,0.1 1,-0.1 1,-0.3 1,-0.3 1,-0.3 1,-0.2 1,-0.1 1,0 1,0 1,0.1 1,0.1 1,0 1,0 1,0.1 1,0 1,-0.1 1,-0.1 1,0 1,-0.1 1,0.1 1,0.2 1,0.2 1,0.2 1,0.4 1,0.3 1,0.2 1,0.2 1,-0.1 1,-0.1 1,-0.2 1,-0.2 1,-0.2 1,0 1,0 1,0.2 1,0 1,0 1,0 1,-0.1 1,-0.2 1,-0.1 1,-0.1 1,0 1,0 1,0.1 1,0.1 1,0 1,-0.1 1,-0.2 1,-0.1 1,-0.1 1,-0.2 1,0 1,0.1 1,0 1,0.1 1,0.1 1,0.1 1,0.2 1,0.1 1,-0.1 1,-0.1 1,-0.1 1,-0.2 1,-0.1 1,0 1,0.1 1,0.1 1,0.2 1,0.2 1,0.1 1,-0.1 1,0 1,0 1,-0.1 1,-0.1 1,0.1 1,0 1,0 1,-0.1 1,-0.1 1,-0.1 1,-0.1 1,-0.2 1,0 1,0 1,0.1 1,0.2 1,0.1 1,0.2 1,0.1 1,-0.1 1,-0.2 1,-0.2 1,-0.3 1,-0.5 1,-0.1 1,0.1 1,0.2 1,0.2 1,0.3 1,0.2 1,0.1 1,0.1 1,0.1 1,0 1,0 1,0.1 1,0.1 1,-0.1 1,0 1,-0.1 1,-0.2 1,-0.2 1,0.1 1,0 1,0.1 1,0.1 1,0 1,-0.1 1,0.1 1,-0.1 1,0.2 1,0.1 1,0.1 1,0 1,0 1,-0.1 1,-0.1 1,0 1,-0.1 1,0 1,-0.1 1,-0.1 1,-0.2 1,0 1,0.1 1,0.1 1,0 1,0.1 1,0 1,-0.2 1,-0.1 1,0.1 1,0.1 1,0.1 1,0.4 1,0.4 1,0.1 1,0 1,0 1,-0.3 1,-0.4 1,-0.3 1,-0.3 1,-0.2 1,-0.1 1,0.2 1,0.1 1,0.1 1,0.1 1,0.2 1,0 1,0.1 1,0.2 1,0.1 1,0 1,0 1,0 1,-0.1 1,0 1,-0.2 1,-0.1 1,-0.2 1,0 1,-0.1 1,0 1,0.1 1,0 1,-0.1 1,-0.1 1,-0.1 1,-0.3 1,-0.1 1,0.1 1,0 1,0.2 1,0.3 1,0.3 1,0.2 1,0.3 1,0 1,-0.2 1,-0.4 1,-0.4 1,-0.3 1,-0.1 1,0.1 1,0.3 1,0.4 1,0.2 1,0.1 1,-0.1 1,0 1,0 1,0.2 1,0.2 1,0.3 1,0.2 1,0.1 1,-0.1 1,-0.1 1,-0.3 1,-0.2 1,-0.2 1,-0.2 1,-0.2 1,-0.1 1,-0.1 1,-0.1 1,0.1 1,0 1,0.1 1,0 1,0.2 1,0 1,0.1 1,0 1,-0.1 1,-0.1 1,-0.1 1,-0.1 1,-0.1 1,0.1 1,0.1 1,0 1,0.1 1,0 1,-0.2 1,-0.2 1,-0.1 1,0 1,-0.1 1,0.1 1,0.1 1,0 1,-0.1 1,0.1 1,0.1 1,-0.1 1,0.1 1,0.2 1,0 1,0 1,0 1,-0.1 1,-0.1 1,0 1,-0.1 1,0 1,-0.1 1,0 1,0 1,0.1 1,0.1 1,0.1 1,0 1,0 1,-0.1 1,0 1,0 1,0.1 1,0 1,0 1,0 1,-0.1 1,0.1 1,-0.1 1,0 1,0 1,-0.2 1,-0.2 1,-0.2 1,0 1,0 1,0.2 1,0.3 1,0.2 1,0.2 1,0 1,-0.1 1,-0.2 1,-0.1 1,-0.2 1,0 1,0.3 1,0.2 1,0 1,0 1,-0.1 1,-0.2 1,-0.2 1,0 1,0 1,0.1 1,0.1 1,-0.1 1,-0.1 1,-0.1 1,0 1,0 1,0.1 1,0.1 1,0 1,0.1 1,-0.1 1,-0.1 1,0.1 1,0.1 1,-0.1 1,0.1 1,0.1 1,0 1,0 1,-0.1 1,-0.2 1,-0.2 1,-0.3 1,-0.3 1,-0.1 1,0.1 1,0.2 1,0.3 1,0.4 1,0.1 1,0.1 1,0.1 1,0.1 1,0 1,0.1 1,0.1 1,-0.1 1,-0.1 1,-0.2 1,-0.1 1,-0.2 1,-0.2 1,-0.1 1,0.1 1,0.1 1,0.2 1,0.2 1,0.3 1,0.3 1,0.2 1,0 1,0 1,-0.2 1,-0.3 1,-0.2 1,-0.2 1,-0.2 1,-0.3 1,0 1,0 1,0.1 1,0 1,0.1 1,-0.1 1,-0.2 1,-0.1 1,-0.1 1,0 1,0.1 1,0.3 1,0.2 1,0.2 1,0.3 1,0.2 1,0.1 1,-0.1 1,-0.1 1,-0.3 1,-0.2 1,-0.2 1,-0.1 1,-0.2 1,-0.1 1,-0.1 1,-0.1 1,-0.2 1,-0.1 1,-0.1 1,-0.1 1,-0.1 1,-0.1 1,-0.2 1,-0.3 1,-0.5 1,-0.6 1,-0.6 1,-0.4 1,-0.6 1,-0.5 1,-0.5 1,-0.5 1,-0.6 1,-0.5 1,-0.5 1,-0.4 1,-0.6 1,-0.4 1,-0.6 1,-0.6 1,-0.7 1,-0.6 1,-0.3 1,0.1 1,0.5 1,0.7 1,0.8 1,0.7 1,1 1,0.9 1,1.2 1,1.1 1,1 1,0.6 1,0.8 1,0.5 1,0.6 1,0.3 1,0.4 1,0.1 1,0 1,-0.1 1,-0.1 1,0 1,0 1,0.2 1,0.2 1,0.1 1,0.2 1,0.2 1,0 1,0.1 1,0.1 1,0.2 1,0 1,0.2 1,0.1 1,-0.1 1,-0.3 1,-0.3 1,-0.4 1,-0.3 1,0 1,0.1 1,0.1 1,0.3 1,0 1,0 1,0 1,0 1,-0.1 1,0.1 1,0.1 1,0.2 1,0.1 1,0.2 1,0.1 1,0.1 1,-0.1 1,0.1 1,-0.2 1,-0.1 1,-0.2 1,-0.3 1,-0.5 1,-0.4 1,-0.5 1,-0.5 1,-0.8 1,-0.9 1,-0.8 1,-0.5 1,-0.1 1,0.1 1,0.1 1,0.2 1,0.4 1,0.6 1,0.4 1,0.2 1,0 1,0 1,-0.2 1,-0.3 1,-0.3 1,-0.4 1,-0.3 1,-0.4 1,-0.5 1,-0.5 1,-0.6 1,-0.8 1,-0.6 1,-0.8 1,-0.6 1,-0.6 1,-0.8 1,-0.7 1,-0.6 1,-0.8 1,-0.6 1,-0.4 1,-0.4 1,-0.5 1,-0.4 1,-0.5 1,-0.5 1,-0.5 1,-0.3 1,-0.3 1,-0.1 1,-0.2 1,0 1,-0.4 1,-0.7 1,-1.3 1,-2.7 1,-3.6 1,-5.9 1,-6.7 1,-2.1 1,-1.1 1,-0.7 1,-0.5 1,-0.1 1,0 1,0 1,0.1 1,0.1 1,0.1 1,0.3 1,0.2 1,0.2 1,0.1 1,-0.1 1,-0.1 1,-0.1 1,-0.1 1,0 1,0.1 1,0 1,0.1 1,0 1,-0.3 1,-1.1 1,-1.4 1,-1 1,-0.7 1,-0.6 1,-0.4 1,-0.3 1,-0.3 1,-0.1 1,-0.2 1,-0.3 1,-0.1 1,-0.1 1,0.3 1,0.7 1,1 1,1 1,1.2 1,1.4 1,1.7 1,1.8 1,1.9 1,2.1 1,2.5 1,2.6 1,2.6 1,2.2 1,1.8 1,1.7 1,1.6 1,1.5 1,1.4 1,1.4 1,1.1 1,0.8 1,0.8 1,0.6 1,0.4 1,0.4 1,0.3 1,0.5 1,0.5 1,0.6 1,0.5 1,0.4 1,-0.1 1,-0.7 1,-2.1 1,-8.4 1,-4.5 1,-1.5 0.4,-0.2 0.6,1.4 1,5.8 1,4.5 1,3.8 1,1.8 1,1.2 1,0.7 1,0.6 1,0.5 1,0.3 1,0.2 1,0.2 1,0.3 1,0.1 1,0.3 1,0.3 1,0.2 1,0.3 1,0.3 1,0.2 1,0.1 1,0.1 1,0 1,-0.1 1,0 1,0.1 1,-0.1 1,0 1,0.2 1,0.2 1,0.1 1,0.3 1,0.4 1,0.2 1,0.2 1,0.3 1,0.3 1,0.1 1,0.1 1,0 1,-0.1 1,-0.1 1,-0.1 1,0.1 1,0.2 1,0.1 1,0.1 1,-0.1 1,-0.1 1,-0.2 1,-0.3 1,-0.1 1,-0.2 1,-0.2 1,-0.2 1,-0.2 1,-0.3 1,-0.2 1,-0.2 1,-0.3 1,-0.9 1,-1.7 1,-2.5 1,-3.5 1,-7.1 1,-9.7 1,-11.4 1,-16.4 1,-5.8 1,-0.6 0.4,-0.3 0.6,2.9 1,13.1 1,11 1,9.6 1,6.7 1,4.2 1,3.4 1,2.3 1,1.5 1,1.3 1,1.1 1,1 1,0.9 1,0.7 1,0.6 1,0.4 1,0.4 1,0.2 1,0.3 1,0.3 1,0.4 1,0.3 1,0.1 1,0.1 1,0.1 1,-0.2 1,0 1,0.1 1,0 1,0 1,0.1 1,0 1,-0.1 1,0 1,-0.1 1,-0.1 1,0 1,0.1 1,0 1,0 1,-0.1 1,-0.2 1,-0.2 1,-0.3 1,-0.2 1,-0.1 1,0 1,0.2 1,0.2 1,0.3 1,0.1 1,0.2 1,-0.1 1,-0.1 1,-0.1 1,-0.2 1,-0.2 1,-0.1 1,-0.1 1,-0.1 1,-0.1 1,-0.1 1,-0.1 1,-0.2 1,-0.2 1,-0.1 1,0.1 1,-0.1 1,0.2 1,0.1 1,0 1,0 1,-0.1 1,-0.1 1,0 1,0.1 1,0.1 1,0.1 1,0 1,0.1 1,-0.1 1,0 1,0.1 1,0.1 1,-0.1 1,-0.1 1,0 1,0 1,0 1,0 1,0.1 1,0.1 1,0.1 1,0.1 1,0.1 1,0 1,0 1,0 1,0 1,-0.2 1,-0.2 1,-0.3 1,-0.3 1,-0.3 1,-0.1 1,-0.1 1,-0.1 1,-0.2 1,-0.3 1,-0.4 1,-0.4 1,-0.6 1,-0.4 1,-0.4 1,-0.8 1,-1.2 1,-1.5 1,-2 1,-3.8 1,-5.2 1,-5.7 1,-7.6 1,-6.2 1,-3.3 1.1,-1.6 0.9,2.1 1,4.8 1,6.3 1,7.7 1,5.1 1,4.1 1,3.5 1,2.4 1,1.6 1,1.5 1,1 1,0.6 1,0.2 1,0 1,0 1,0 1,0.2 1,0.1 1,0 1,0.1 1,-0.3 1,-0.7 1,-0.8 1,-1.1 1,-1.3 1,-2.6 1,-5.2 1,-8.9 1,-35.2 1,-53.5 1,-60.1 0.7,-27.1 1.3,2.7 1,80.2 1,44.7 1,25.9 1,13.8 1,7.3 1,4.6 1,3.5 1,2.7 1,2.2 1,1.5 1,1.5 1,1.3 1,1 1,0.6 1,0.6 1,0.5 1,0.4 1,0.3 1,0.3 1,0 1,0 1,0 1,0 1,0 1,0.1 1,0 1,0.2 1,0.1 1,0.1 1,0.1 1,0.2 1,0.1 1,0 1,0 1,0 1,-0.2 1,0 1,-0.1 1,0 1,0 1,0 1,-0.1 1,-0.1 1,-0.2 1,-0.2 1,-0.2 1,-0.4 1,-0.7 1,-1.1 1,-1.1 1,-1.5 1,-1.4 1,0.2 1,1.1 1,0.9 1,0.5 1,0.4 1,0.2 1,-0.1 1,-0.4 1,-0.4 1,-0.5 1,-0.5 1,-0.4 1,-0.2 1,-0.2 1,-0.2 1,-0.2 1,-0.2 1,-0.2 1,-0.1 1,-0.1 1,-0.1 1,-0.2 1,-0.3 1,-0.2 1,-0.3 1,-0.2 1,-0.2 1,-0.1 1,0 1,0.1 1,0.1 1,0 1,0.2 1,0 1,0.1 1,0.1 1,0 1,0 1,0 1,0 1,0.1 1,0 1,0 1,0.1 1,0 1,-0.1 1,0 1,0 1,0 1,0.2 1,0.5 1,0.7 1,0.8 1,0.6 1,0.5 1,0 1,0 1,0 1,0.1 1,0 1,-0.1 1,-0.4 1,-0.2 1,0 1,0.1 1,0.2 1,0.3 1,0.3 1,0.2 1,0 1,0 1,-0.1 1,-0.3 1,-0.2 1,-0.2 1,-0.3 1,-0.4 1,-1 1,-1.4 1,-1.8 1,-1.9 1,-2.2 1,-2.8 1,-3.2 1,-4.5 1,-5.9 1,-5.7 1,-5 1,-4.7 1,-2.9 1,-1.2 1.3,-0.8 0.7,0.5 1,1.6 1,2.6 1,5.1 1,6.4 1,5 1,4.8 1,4.3 1,3.6 1,2.7 1,2.3 1,1.9 1,1.5 1,1.2 1,1 1,1 1,1 1,0.9 1,0.7 1,0.4 1,0.4 1,0.3 1,0.2 1,0.3 1,0.4 1,0.4 1,0.3 1,0.4 1,0.2 1,0.2 1,0.1 1,0.2 1,-0.1 1,-0.7 1,-1.4 1,-1.8 1,-3.6 1,-4.4 1,-1.8 0.8,-0.6 1.2,4.4 1,4.5 1,4.2 1,2.7 1,0.6 1,0.3 1,0.4 1,0.2 1,0.2 1,0.2 1,0 1,0.1 1,0.1 1,0 1,-0.1 1,0.1 1,0 1,-0.1 1,0.2 1,0.2 1,0 1,0.1 1,0.1 1,0 1,0 1,0 1,0.2 1,0.1 1,0 1,0.1 1,0 1,-0.1 1,0 1,0.1 1,-0.1 1,-0.1 1,-0.1 1,-0.2 1,-0.1 1,0 1,0 1,0.1 1,0.1 1,0 1,-0.1 1,-0.1 1,-0.1 1,-0.2 1,-0.1 1,0.1 1,-0.2 1,-0.2 1,-0.2 1,-0.3 1,-0.2 1,-0.1 1,0 1,0.2 1,0.2 1,0.3 1,0.1 1,0 1,-0.1 1,-0.1 1,-0.1 1,-0.1 1,0.1 1,0 1,0 1,0 1,0 1,0 1,0.2 1,0.2 1,0 1,0.2 1,0.2 1,0.1 1,0.2 1,0.1 1,-0.1 1,-0.1 1,-0.3 1,-0.2 1,-0.1 1,0 1,0.2 1,0.3 1,0.1 1,-0.1 1,0 1,-0.2 1,-0.1 1,-0.1 1,0 1,0.1 1,0.1 1,0 1,0 1,-0.1 1,-0.2 1,-0.1 1,-0.1 1,0 1,0 1,-0.1 1,-0.4 1,-0.5 1,-0.4 1,-0.3 1,0 1,0.3 1,0.6 1,0.4 1,0.3 1,0.1 1,0.1 1,0 1,0.2 1,0.1 1,0 1,0 1,0 1,0 1,0.1 1,0.2 1,0.1 1,0.3 1,0.1 1,0.1 1,0.2 1,0.1 1,0.2 1,0.1 1,0.1 1,0 1,-0.1 1,-0.1 1,-0.1 1,0 1,0.1 1,0 1,0.1 1,0 1,-0.1 1,-0.3 1,-0.1 1,-0.3 1,-0.2 1,-0.3 1,-0.2 1,-0.2 1,0 1,0 1,0.1 1,0 1,0 1,-0.2 1,-0.1 1,-0.1 1,0 1,0 1,-0.1 1,0 1,-0.3 1,-0.3 1,-0.3 1,-0.3 1,-0.3 1,-0.2 1,-0.1 1,-0.2 1,-0.3 1,-0.4 1,-0.9 1,-1.1 1,-1.4 1,-2.2 1,-3.5 1,-4.8 1,-8.5 1,-13.6 1,-23.4 1,-25.4 1,-18.7 0.6,-4.5 0.4,2.3 1,16.7 1,22.3 1,18.7 1,10.1 1,4.3 1,2.7 1,2.3 1,2.9 1,3.1 1,3.2 1,2.8 1,2.5 1,2.3 1,2.2 1,1.9 1,1.6 1,1.5 1,1.2 1,1 1,0.8 1,0.8 1,0.5 1,0.5 1,0.7 1,0.5 1,0.5 1,0.5 1,0.3 1,0.2 1,0 1,0 1,-0.1 1,-0.1 1,-0.1 1,0 1,0.1 1,0 1,0.2 1,0.1 1,0 1,0.1 1,0.1 1,-0.1 1,-0.1 1,0 1,0 1,-0.1 1,0 1,0 1,0 1,0 1,0 1,-0.5 1,-0.7 1,-1.1 1,-1.4 1,-2.5 1,-4.7 1,-7.4 1,-21.1 1,-15.3 1.3,-9.5 0.7,6.2 1,18 1,20.2 1,8.9 1,2.9 1,-7.5 1,-12 1,-12 1,-2.3 0.6,-0.4 0.4,1.7 1,11.7 1,12.4 1,7.1 1,2.9 1,1.9 1,1.2 1,0.5 1,0.1 1,0.1 1,0.1 1,0.2 1,0.2 1,1.1 1,4 1,2.7 0.7,0.9 1.3,-4.6 1,-0.7 1,-0.5 1,-0.4 1,-0.3 1,-0.3 1,-0.2 1,0 1,0.1 1,0.1 1,0.3 1,0.2 1,0.1 1,-0.1 1,0 1,-0.2 1,-0.2 1,0 1,0.2 1,0.1 1,0.3 1,0.3 1,0.2 1,0 1,-0.1 1,-0.2 1,-0.2 1,-0.4 1,-0.2 1,0 1,-0.2 1,0 1,0 1,-0.1 1,-0.2 1,-0.1 1,-0.1 1,-0.1 1,-0.1 1,-0.1 1,-0.3 1,-0.2 1,-0.3 1,-0.2 1,-0.1 1,0.1 1,0.1 1,0.2 1,0.3 1,0.3 1,0.3 1,0.3 1,0.4 1,0.1 1,0.2 1,0.1 1,-0.1 1,0 1,0 1,-0.1 1,0 1,0.2 1,0.1 1,0 1,0.1 1,0 1,-0.1 1,-0.1 1,0.1 1,0.1 1,0.3 1,0.3 1,0.3 1,0.2 1,0.1 1,0 1,0 1,-0.2 1,-0.3 1,-0.3 1,-0.2 1,-0.1 1,-0.1 1,0 1,0 1,0 1,0.1 1,0 1,0 1,-0.1 1,-0.1 1,-0.1 1,0 1,-0.1 1,0 1,0.1 1,0.2 1,0.1 1,0.1 1,0.2 1,0 1,-0.2 1,-0.2 1,-0.2 1,-0.1 1,0 1,0.1 1,0.2 1,0 1,-0.1 1,0 1,-0.1 1,-0.1 1,-0.2 1,0.1 1,-0.1 1,0.2 1,0.1 1,0.3 1,0.1 1,0.1 1,-0.1 1,-0.2 1,-0.1 1,-0.1 1,-0.1 1,0 1,0.1 1,0 1,-0.1 1,-0.1 1,0 1,-0.1 1,-0.1 1,-0.1 1,0 1,-0.1 1,0 1,-0.1 1,-0.1 1,-0.1 1,0 1,0 1,-0.1 1,0 1,-0.1 1,-0.2 1,-0.3 1,-0.2 1,-0.2 1,-0.1 1,0 1,0.3 1,0.3 1,0.3 1,0.3 1,0.4 1,0.1 1,0.2 1,0 1,0 1,-0.3 1,-0.2 1,-0.1 1,0 1,0 1,0.1 1,0.2 1,0.1 1,-0.1 1,0 1,-0.1 1,0 1,0 1,0.1 1,0.2 1,0.2 1,0.2 1,0.2 1,0.1 1,0 1,0.1 1,0 1,0 1,-0.1 1,-0.1 1,-0.3 1,-0.1 1,-0.4 1,-0.1 1,-0.2 1,-0.1 1,-0.2 1,0 1,-0.1 1,0 1,0.1 1,0.1 1,-0.1 1,0.1 1,-0.1 1,-0.4 1,-0.4 1,-0.4 1,-0.5 1,-0.4 1,-0.3 1,-0.4 1,-0.2 1,-0.3 1,-0.5 1,-0.4 1,-0.5 1,-0.6 1,-0.5 1,-0.6 1,-0.6 1,-0.6 1,-0.7 1,-1.2 1,-1.4 1,-1.9 1,-2.3 1,-2.7 1,-3 1,-4 1,-5.3 1,-7.8 1,-12.4 1,-16.4 1,-25 1,-33.8 1,-46.1 1,-44.3 1,-33 1.3,-21.1 0.7,9 1,30 1,59.1 1,50.1 1,39.2 1,24.6 1,17.7 1,11.3 1,8.4 1,4.3 1,1.9 1,1.1 1,0.9 1,1.1 1,1.1 1,1.3 1,2.2 1.2,9.1 0.8,-1.9 0.2,-1.1"/></g>
<path d="M195,1188.9l1,0.3 1,0.2 1,0.2 1,0 1,0 1,-0.2 1,0 1,-0.3 1,-0.1 1,-0.1 1,-0.1 1,0 1,0.1 1,0.1 1,0 1,0.1 1,-0.2 1,-0.1 1,-0.1 1,-0.1 1,-0.1 1,0.1 1,0.2 1,0.2 1,0.3 1,0.1 1,0.1 1,-0.1 1,-0.1 1,-0.1 1,0 1,-0.1 1,0 1,-0.2 1,-0.1 1,0 1,0.1 1,0.1 1,0.3 1,0.1 1,-0.1 1,-0.1 1,0 1,-0.2 1,0 1,0.1 1,0.1 1,0 1,0.3 1,0 1,0.2 1,0.1 1,0 1,-0.1 1,0 1,-0.2 1,-0.2 1,-0.1 1,0 1,-0.1 1,0.1 1,0.2 1,0 1,0 1,0.1 1,-0.1 1,-0.3 1,-0.4 1,-0.2 1,-0.3 1,0.1 1,0.3 1,0.4 1,0.4 1,0.2 1,-0.1 1,-0.2 1,-0.4 1,-0.3 1,-0.4 1,-0.1 1,0.1 1,0.2 1,0.3 1,0.3 1,0.4 1,0.2 1,0.1 1,0 1,0 1,-0.1 1,0 1,0.1 1,0 1,0 1,0 1,-0.1 1,-0.2 1,0 1,-0.1 1,0.1 1,0 1,0.1 1,0 1,0 1,-0.1 1,0 1,-0.1 1,-0.2 1,0 1,0.1 1,0.4 1,0.2 1,0.3 1,0.3 1,0.2 1,-0.2 1,0 1,-0.1 1,-0.1 1,-0.2 1,0 1,-0.1 1,-0.2 1,-0.3 1,-0.3 1,-0.4 1,-0.2 1,-0.1 1,0.3 1,0.3 1,0.3 1,0.3 1,0 1,-0.1 1,-0.2 1,-0.1 1,-0.1 1,0 1,0.2 1,0.1 1,0 1,0 1,0 1,-0.1 1,-0.1 1,0 1,0 1,-0.1 1,0.1 1,-0.1 1,0.1 1,0.2 1,0.1 1,-0.1 1,0.1 1,-0.2 1,-0.2 1,0 1,0.1 1,0.1 1,0.1 1,0.3 1,0.2 1,0.2 1,0 1,0.1 1,-0.1 1,-0.2 1,-0.2 1,0 1,-0.2 1,-0.1 1,0 1,-0.1 1,-0.1 1,0.2 1,0 1,0 1,-0.1 1,0 1,-0.2 1,-0.1 1,0 1,0.1 1,0.1 1,0.3 1,0.2 1,0.1 1,0.1 1,-0.1 1,0 1,-0.1 1,-0.2 1,-0.2 1,-0.1 1,-0.3 1,-0.1 1,0 1,0 1,0.1 1,0.3 1,0.3 1,0.2 1,0.2 1,0.1 1,0.1 1,0 1,0.2 1,0.2 1,0.1 1,0 1,-0.1 1,-0.3 1,-0.4 1,-0.4 1,-0.2 1,0 1,0.1 1,0 1,0 1,0.1 1,-0.1 1,0.2 1,0.2 1,0 1,-0.1 1,0.1 1,-0.2 1,-0.1 1,0 1,0.2 1,0.2 1,0.2 1,0.1 1,0.1 1,-0.1 1,0 1,-0.1 1,0.1 1,0.1 1,0.2 1,0.1 1,0.1 1,-0.1 1,-0.1 1,-0.1 1,0 1,0 1,0.1 1,-0.1 1,-0.2 1,-0.1 1,-0.1 1,0 1,0.1 1,0.1 1,0.1 1,-0.2 1,-0.1 1,-0.2 1,-0.2 1,-0.1 1,0.2 1,0.1 1,0.2 1,0.1 1,0.1 1,-0.1 1,0 1,0 1,0.1 1,0.1 1,0 1,-0.1 1,-0.1 1,-0.1 1,-0.3 1,0 1,0.1 1,0.3 1,0.4 1,0.4 1,0.3 1,0 1,-0.3 1,-0.4 1,-0.3 1,-0.4 1,-0.2 1,0.1 1,0 1,0.1 1,0.2 1,0.3 1,0 1,-0.1 1,0 1,-0.2 1,-0.1 1,-0.1 1,-0.1 1,-0.1 1,0 1,-0.1 1,0 1,0 1,0.1 1,0.1 1,0.3 1,0.1 1,0.3 1,0.2 1,0.1 1,0 1,0.1 1,0.1 1,0 1,0.1 1,0.1 1,0 1,0 1,0 1,-0.1 1,-0.1 1,0 1,0 1,0 1,0.1 1,0.1 1,0 1,0.2 1,0.2 1,0.1 1,0 1,0.2 1,0 1,-0.1 1,0 1,-0.1 1,-0.2 1,-0.2 1,-0.1 1,-0.1 1,-0.2 1,-0.1 1,-0.1 1,-0.2 1,-0.1 1,0.1 1,-0.1 1,0 1,-0.1 1,0 1,-0.1 1,0 1,0.1 1,0 1,-0.1 1,-0.2 1,-0.2 1,-0.3 1,-0.2 1,0 1,0 1,0 1,-0.1 1,-0.1 1,-0.1 1,-0.2 1,0 1,0.2 1,0.1 1,0 1,0.1 1,-0.1 1,-0.4 1,-0.2 1,-0.1 1,0 1,0.1 1,0.4 1,0.3 1,0.3 1,0 1,0 1,0 1,-0.1 1,-0.2 1,-0.1 1,-0.1 1,0.1 1,0.2 1,0.3 1,0.2 1,0 1,0 1,-0.2 1,0 1,0 1,0.2 1,0.1 1,0 1,-0.1 1,-0.1 1,-0.1 1,0.1 1,-0.1 1,0.1 1,0.1 1,0 1,-0.2 1,-0.2 1,-0.2 1,0 1,-0.1 1,0.1 1,0.3 1,0.1 1,0.1 1,0.3 1,0.2 1,0 1,0 1,0 1,-0.3 1,-0.2 1,-0.2 1,-0.2 1,-0.1 1,-0.1 1,-0.1 1,-0.1 1,-0.1 1,0 1,0.1 1,0 1,0 1,0 1,-0.1 1,-0.2 1,0 1,-0.1 1,0 1,-0.1 1,0.2 1,0.1 1,0.3 1,0.2 1,0.2 1,0.1 1,0.3 1,0.1 1,0.1 1,0.2 1,0 1,-0.1 1,-0.2 1,-0.1 1,-0.1 1,0 1,0.1 1,0.2 1,0.3 1,0.1 1,0.1 1,0.1 1,-0.1 1,-0.3 1,-0.1 1,-0.3 1,-0.3 1,0 1,0.1 1,0.2 1,0.1 1,0.1 1,-0.1 1,0 1,-0.2 1,-0.1 1,-0.1 1,-0.1 1,-0.1 1,-0.1 1,0.1 1,0.1 1,0.1 1,0 1,0.1 1,-0.1 1,-0.1 1,0.1 1,0.2 1,0.2 1,0.3 1,0.1 1,0.1 1,0 1,-0.2 1,-0.2 1,-0.2 1,-0.1 1,0 1,0.2 1,0.2 1,0.4 1,0.3 1,0.2 1,-0.2 1,-0.2 1,-0.3 1,-0.3 1,-0.3 1,0 1,-0.1 1,0 1,0.1 1,-0.1 1,-0.1 1,-0.1 1,-0.1 1,0 1,0.1 1,0.1 1,0.1 1,0 1,-0.1 1,-0.1 1,-0.1 1,-0.2 1,0 1,-0.1 1,0.2 1,0 1,0.1 1,0 1,0.2 1,0.1 1,0.1 1,0 1,0 1,0 1,0 1,-0.1 1,-0.1 1,0.1 1,-0.1 1,-0.1 1,0.1 1,0 1,0 1,0.2 1,0.2 1,0.1 1,-0.1 1,0 1,-0.1 1,0 1,0 1,0 1,0 1,0.2 1,0 1,0.2 1,0 1,0.1 1,-0.1 1,-0.1 1,-0.3 1,-0.1 1,-0.1 1,-0.1 1,0 1,0.2 1,0.3 1,0.4 1,0.1 1,0.1 1,-0.2 1,-0.4 1,-0.4 1,-0.3 1,-0.2 1,0 1,0 1,0.2 1,0.1 1,0.3 1,0.4 1,0.3 1,0.1 1,0.3 1,-0.2 1,-0.2 1,-0.2 1,-0.2 1,-0.3 1,0 1,0 1,-0.1 1,0 1,0 1,-0.1 1,0 1,-0.2 1,0 1,-0.1 1,0.1 1,0.1 1,0.2 1,0.3 1,0.1 1,0.1 1,0 1,0.1 1,-0.1 1,0 1,-0.1 1,-0.1 1,-0.4 1,-0.2 1,-0.1 1,-0.2 1,0.2 1,0.1 1,0.2 1,-0.1 1,0 1,-0.2 1,-0.1 1,-0.1 1,0 1,0 1,0 1,-0.1 1,0.1 1,0.1 1,0.1 1,0.2 1,0.2 1,0.1 1,-0.1 1,0 1,-0.1 1,0.1 1,0.2 1,0.2 1,0.2 1,0 1,-0.1 1,-0.1 1,0 1,-0.1 1,0 1,0.1 1,-0.2 1,-0.2 1,-0.3 1,-0.3 1,-0.3 1,0 1,0.1 1,0.1 1,0.1 1,0.1 1,-0.1 1,-0.1 1,0.2 1,0.1 1,0.2 1,0.3 1,0.4 1,0 1,0.1 1,-0.1 1,-0.2 1,-0.2 1,-0.1 1,-0.1 1,-0.1 1,0.1 1,0.1 1,0.1 1,0 1,0 1,-0.1 1,-0.1 1,-0.2 1,-0.2 1,-0.2 1,-0.1 1,-0.2 1,0.1 1,0.3 1,0.3 1,0.3 1,0.3 1,0.2 1,0.1 1,-0.2 1,-0.1 1,-0.1 1,-0.2 1,-0.1 1,0 1,0 1,0 1,0 1,-0.1 1,0 1,-0.2 1,-0.1 1,-0.1 1,0 1,0 1,0.1 1,0.2 1,0.1 1,0 1,0.1 1,0 1,0 1,0 1,0 1,-0.1 1,0 1,-0.1 1,-0.1 1,0 1,0 1,0 1,0.2 1,0 1,0 1,0 1,0 1,-0.2 1,-0.1 1,-0.1 1,-0.1 1,0 1,0.1 1,0.1 1,0.1 1,0 1,0.1 1,0 1,-0.1 1,0 1,0 1,0.1 1,-0.1 1,0 1,0 1,-0.1 1,0 1,-0.1 1,0 1,0 1,0.1 1,0 1,0.1 1,0 1,0 1,0.1 1,-0.1 1,0 1,0 1,0 1,0.1 1,0 1,0 1,0 1,-0.1 1,-0.1 1,0 1,-0.1 1,0 1,0 1,0 1,0 1,0 1,0 1,0 1,0 1,0 1,0 1,0 1,0 1,0 1,0 1,0 1,0 1,0 1,0 1,0 1,0 1,0 1,0 1,0 1,0 1,0 1,0 1,-0.1 1,0 1,0 1,0 1,0 1,0 1,0 1,0 1,-0.1 1,0 1,0 1,0 1,-0.1 1,0 1,0 1,0 1,-0.1 1,0 1,0 1,-0.1 1,0 1,0 1,-0.1 1,0 1,-0.1 1,0 1,-0.1 1,-0.1 1,-0.1 1,-0.1 1,-0.1 1,-0.1 1,-0.1 1,-0.2 1,-0.1 1,-0.2 1,-0.1 1,-0.2 1,-0.2 1,-0.2 1,-0.3 1,-0.3 1,-0.3 1,-0.4 1,-0.4 1,-0.3 1,-0.4 1,-0.4 1,-0.3 1,-0.3 1,-0.2 1,-0.3 1,-0.4 1,-0.4 1,-0.5 1,-1 1,-1.9 1,-2.5 1,-2.8 1,-3 1,-3.9 1,-4.5 1,-4.4 1,-3.5 1,-3 1,-2.8 1,-2.1 1,-0.9 1,-0.3 1,-0.1 0.7,-0.1 1.3,1.7 1,2.7 1,2.9 1,2.8 1,3.1 1,3.3 1,3 1,2.5 1,2.3 1,2.1 1,1.9 1,1.6 1,1.4 1,1.3 1,1.2 1,1 1,0.9 1,0.7 1,0.6 1,0.6 1,0.5 1,0.5 1,0.4 1,0.3 1,0.4 1,0.3 1,0.2 1,0.3 1,0.2 1,0.3 1,0.2 1,0.2 1,0.2 1,0.1 1,0.2 1,0.1 1,0.1 1,0.1 1,0 1,0.1 1,0 1,0 1,0.1 1,0 1,0 1,0.1 1,0 1,0 1,0 1,0 1,0 1,-0.1 1,-0.1 1,-0.1 1,-0.2 1,-0.2 1,-0.3 1,-0.2 1,-0.3 1,-0.5 1,-0.6 1,-0.9 1,-1.1 1,-1.2 1,-1.3 1,-1.9 1,-2.5 1,-3.1 1,-3.4 1,-5 1,-6.5 1,-4.9 1,-2.7 1,-1.7 0.4,-0.2 0.6,0.6 1,2.6 1,3.1 1,4.3 1,3.1 1,2.3 1,1.4 0.4,0.2 0.6,-0.4 1,-1.9 1,-2.8 1,-4.9 1,-6.8 1,-9.7 1,-10.5 1,-6.2 1,-4.4 0.5,-0.7 0.5,0 1,0.5 1,1.6 1,6.5 1,7.6 1,8.8 1,7.5 1,5.6 1,4.5 1,3.1 1,2.1 1,1.7 1,1.3 1,0.9 1,0.5 1,0.4 1,0.4 1,0.3 1,0.2 1,0.1 1,-0.6 1,-1.6 1,-1.6 1,-1.2 1,-1.2 1,-0.6 1,0.1 1,0 1,0.1 1,0.1 1,0.1 1,0.1 1,0.1 1,0.1 1,0.2 1,0.1 1,0.2 1,0.3 1,0.2 1,0.2 1,0.2 1,0.3 1,0.2 1,0.4 1,0.3 1,0.3 1,0.2 1,0.1 1,-0.1 1,0 1,-0.1 1,-0.2 1,-0.1 1,-0.1 1,-0.1 1,-0.2 1,0 1,-0.1 1,-0.1 1,-0.1 1,-0.1 1,-0.1 1,0 1,-0.1 1,0 1,0 1,0 1,0.1 1,0 1,0.1 1,0.1 1,0.2 1,0.1 1,0.3 1,0.5 1,0.7 1,0.7 1,0.8 1,0.7 1,0.8 1,1 1,1 1,0.9 1,0.9 1,0.8 1,0.9 1,0.8 1,0.7 1,0.2 1,0 1,0 1,0 1,0 1,0 1,0 1,-0.8 1,-1.3 1,-1.1 1,-1.3 1,-0.8 1,1.1 1,2 1,1.3 1,1.2 1,0.6 1,0 1,0 1,0 1,0 1,-0.2 1,-0.8 1,-1.3 1,-1.6 1,-1.6 1,-2.2 1,-2.6 1,-2.7 1,-2.1 1,-1.5 1,-1.3 1,-1.1 1,-1 1,-0.8 1,-0.9 1,-0.8 1,-0.6 1,-0.4 1,-0.1 1,-0.1 1,0 1,0 1,0.1 1,0.6 1,1 1,1.2 1,1.1 1,1.3 1,1.4 1,1.4 1,0.8 1,0.4 1,0.2 1.1,0.1 0.9,-0.4 1,-1.2 1,-1.6 1,-1.8 1,-1.6 1,-1.9 1,-2 1,-1.8 1,-1.5 1,-1.4 1,-1.3 1,-0.8 0.7,-0.3 1.3,0.6 1,0.9 1,1.2 1,1.5 1,2.2 1,1.7 1,0.6 1,0.5 1.1,0.2 0.9,-1.6 1,-3.5 1,-2.8 1,-2.9 1.1,-1.5 0.9,1.3 1,3.2 1,3.5 1,4.5 1,2.4 1,1 1,0.7 1.3,0.4 0.7,-0.3 1,-1.2 1,-1.6 1,-1.5 1,-1.2 1,-1.3 1,-0.9 0.6,-0.2 0.4,0.1 1,1.3 1,2 1,1.8 1,2 1,2.2 1,2.1 1,1.8 1,1.7 1,1.6 1,1.5 1,1.2 1,0.9 1,1 1,0.8 1,0.7 1,0.5 1,0.2 1,0 1,-0.2 1,-0.3 1,-0.5 1,-0.5 1,-0.5 1,-0.7 1,-1.1 1,-1.4 1,-1.5 1,-1.8 1,-1.9 1,-2.3 1,-2.9 1,-3.2 1,-3.6 1,-3.8 1,-4.5 1,-5 1,-4.9 1,-4.8 1,-4.8 1,-4.8 1,-4.7 1,-4.4 1,-4.1 1,-4 1,-3.8 1,-3.2 1,-2.7 1,-2.5 1,-2.3 1,-1.7 1,-1 1,-0.6 1,-0.4 1,-0.3 1,0 1,0.8 1,1.4 1,1.8 1,2.1 1,3 1,3.6 1,3.9 1,4.3 1,5.3 1,5.5 1,4.6 1,4.1 1,3.9 1,3.2 1,2.1 1,1.2 1,1.1 1,0.8 1,0.5 0.5,0 0.5,0 1,-0.5 1,-0.7 1,-0.9 1,-0.9 1,-1.3 1,-1.6 1,-1.5 1,-1.2 1,-0.5 1,-0.4 1,-0.3 1,-0.1 1,0.4 1,0.7 1,0.9 1,0.8 1,0.7 1,0.4 1,0.4 1,0.4 1,0.3 1,0.2 1,0.1 1,-0.1 1,0 1,0 1,-0.1 1,-0.1 1,-0.5 1,-1.6 1,-2 1,-3.6 1,-3.8 1,-0.8 1,-0.4 1,-0.4 1,-0.8 1,-0.9 1,-1.3 1,-2.9 1,-4.3 1,-3.2 1,-1.7 1,-1.3 0.9,-0.4 1.1,1.8 1,3.4 1,6.5 1,8.6 1,7.9 1,7.6 1,3.7 1,1.7 0.7,0.4 1.3,-5.2 1,-7.2 1,-12 1,-11.6 1,-7.4 1,-6 1,-4.8 1,-2.8 1,-2.9 1,-9.8 1,-21.1 1,-25 1,-6.4 0.5,-0.8 0.5,2.9 1,14.3 1,23.3 1,17.7 1,12.7 1,9.4 1,7.7 1,6.5 1,5.8 1,5.2 1,4.7 1,4.3 1,4.3 1,3.9 1,3.4 1,2.8 1,2.4 1,2.1 1,1.8 1,1.3 1,0.6 1,0.6 1,0.5 1,0.2 0.8,0.1 1.2,-0.9 1,-1.9 1,-2.4 1,-3 1,-5 1,-6.3 1,-7.1 1,-9 1,-8.9 1,-7.4 1,-7 1,-4.3 1,-1.3 1,-0.7 0.4,-0.1 0.6,0.5 1,2.7 1,3.7 1,6.9 1,8.2 1,7.2 1,6.9 1,6.2 1,5 1,4.5 1,3.3 1,1.8 1,1.2 1,1.1 1,1.5 1,1.4 1,0.2 1,-0.7 1,-1.2 1,-3.5 1,-2.8 1,-1 1,-0.4 1,0.4 1,0.9 1,0.8 1,0.2 1,0 1,-0.1 1,-0.1 1,0 1,0.2 1,0.6 1,0.8 1,0.6 1,0 1,-0.9 1,-1.3 1,-1.5 1,-2.3 1,-2.1 1,-1.3 1,-1 1,-0.6 1,0 1,0.2 1,0.3 1,0.4 1,1.3 1,2.1 1,2.4 1,2.2 1,2.5 1,2.6 1,2.4 1,1.9 1,1.5 1,1.4 1,1.1 1,0.8 1,0.5 1,0.4 1,0.3 1,0.2 1,0.2 1,0.3 1,0.5 1,0.7 1,0.7 1,0.7 1,0.7 1,0.3 1,0.2 1,0.2 1,0.1 1,0.1 1,0 1,0.1 1,-0.5 1,-1.4 1,-1.9 1,-2.7 1,-5.4 1,-5.8 1,-3.9 1,-3.4 0.8,-1.1 1.2,0.6 1,1.2 1,2.2 1,3.6 1,3.1 1,2.1 1,2.1 1,1.6 1.2,0.8 0.8,-0.4 1,-1.1 1,-1.7 1,-1.8 1,-2.7 1,-3.4 1,-3.1 1,-1.9 1,-1.6 1,-1 0.4,-0.1 0.6,0.2 1,1.1 1,1.6 1,2.1 1,3.1 1,3.6 1,3.1 1,2.4 1,2.3 1,2 1,1.7 1,1.4 1,1.3 1,1.2 1,1.1 1,0.8 1,0.7 1,0.5 1,0.4 1,0.3 1,0.4 1,0.2 1,0.2 1,0.2 1,0.1 1,0 1,0.1 1,0 1,0.1 1,0 1,0 1,0 1,0 1,-0.1 1,-1.2 1,-1.7 1,-2 1,-2.6 0.5,-0.6 0.5,0.6 1,3.1 1,3.2 1,3 1,0.7 1,0.4 1,0.2 1,0.2 1,0.1 1,0.2 1,0.3 1,0.2 1,0.3 1,0.3 1,0.2 1,0.3 1,0.2 1,0.2 1,0.1 1,0.1 1,0.1 1,0.1 1,0.1 1,0.1 1,0 1,0.1 1,0 1,0 1,-0.1 1,0 1,-0.2 1,-0.1 1,-0.1 1,-0.1 1,0 1,0.1 1,0.2 1,0.3 1,0.4 1,0.3 1,0.3 1,0.2 1,0 1,0 1,0 1,0 1,0 1,0 1,0 1,0 1,0 1,-0.1 1,0 1,-0.1 1,-0.2 1,-0.2 1,-0.2 1,-0.2 1,-0.3 1,-0.2 1,-0.3 1,-0.2 1,-0.4 1,-0.4 1,-0.5 1,-0.7 1,-1.4 1,-2.3 1,-2.9 1,-3.5 1,-5.8 1,-6.8 1,-6.2 1,-6.6 1,-4.9 1,-1.9 1,-1.3 0.5,-0.2 0.5,0.3 1,1.8 1,2.7 1,4.8 1,5.8 1,3.9 1,3.2 1,2.2 0.4,0.2 0.6,0 1,-0.4 1,-0.5 1,-1 1,-3.2 1,-4.4 1,-3.6 1,-3.7 1,-2.9 1,-1.2 1,-0.6 1,-0.4 0.5,0 0.5,0.5 1,2.8 1,3.1 1,3.9 1,3.5 1,1.4 1,0.7 0.8,0.2 1.2,-1.7 1,-2.9 1,-3.7 1,-5.6 1,-6.2 1,-5.9 1,-6.4 1,-4.9 1,-2.5 1,-1.8 0.6,-0.3 0.4,0.1 1,1.5 1,2.3 1,4.3 1,6.3 1,6 1,6 1,5.9 1,5 1,3.5 1,2.8 1,2.5 1,1.9 1,1.3 1,1 1,0.9 1,0.7 1,0.6 1,0.6 1,0.6 1,0.5 1,0.5 1,0.4 1,0.4 1,0.4 1,0.4 1,0.5 1,0.5 1,0.6 1,0.7 1,0.6 1,0.5 1.2,0.3 0.8,-0.4 1,-1 1,-1.3 1,-1.1 1.1,-0.5 0.9,0.2 1,0.8 1,1.1 1,1.1 1,1.1 1,1.4 1,1.5 1,1.3 1,1.1 1,0.6 1,0.6 1,0.5 1,0.4 1,0.3 1,0 1,-0.1 1,-0.1 1,-0.2 1,-0.3 1,-0.3 1,-0.3 1,-0.5 1,-0.8 1,-1.1 1,-1.3 1,-1.5 1,-1.9 1,-2.8 1,-4.4 1,-6.2 1,-13.3 1,-16 1,-13.9 0.8,-5.1 1.2,10.3 1,13.6 1,10.5 1,2.8 1,1.3 1,0.1 1,0 1,0 1,0 1,-0.6 1,-2.6 1,-3.7 1,-3.7 1,-4 1,-4.8 1,-4.3 1,-2.5 1,-0.9 1,-0.8 1,-0.4 1,-0.1 1,0.4 1,0.8 1,1.1 1,2.4 1,3.7 1,4.2 1,3.9 1,4.1 1,4.4 1,3.6 1,2 1,1.6 1,1.1 1.3,0.7 0.7,-1 1,-3.2 1,-3.6 1,-2.1 1,-1.8 1,-1.2 0.5,-0.1 0.5,0.3 1,1.7 1,2.4 1,3.7 1,4.7 1,3.8 1,2.5 1,1.9 0.5,0.3 0.5,-0.2 1,-1.3 1,-1.9 1,-2.1 1,-2.6 1,-3.1 1,-3.3 1,-2.9 1,-2.8 1,-3.9 1,-9.5 1,-18.5 1,-20.9 1,-2.5 0.4,-0.2 0.6,4.7 1,14.3 1,10.4 1,4.6 1,1.5 1,-7.7 1,-9.4 1.1,-6 0.9,5 1,11.7 1,17.5 1,10.6 1,7.4 1,4.2 1,3.2 1,1.9 0.5,0.3 0.5,-0.1 1,-0.1 1,-0.3 1,-0.1 1,0.1 1,1.2 1,1.2 1,0.1 1,-0.8 1,-1 1,-0.8 1,-0.1 1,-0.1 1,-0.1 1,-0.1 1,0 1,0.2 1,0.5 1,0.7 1,0.7 1,0.8 1,1 1,1.2 1,1.3 1,1.2 1,1 1,1.2 1,1 1,0.8 1,0.2 1,-0.3 1,-0.6 1,-0.8 1,-2.5 1,-3.8 1,-3.7 1,-3.8 1,-1 1,-0.2 1,-0.1 1,-0.1 1,-0.1 1,-0.2 1,-0.2 1,-0.2 1,-0.3 1,-0.2 1,-0.4 1,-0.3 1,-0.6 1,-0.6 1,-0.5 1,-0.2 1,0.1 1,0.5 1,0.6 1,1.1 1,1.6 1,1.2 1,0.4 1,0.3 1,0.3 1.2,0 0.8,-0.5 1,-1.8 1,-2 1,-1.3 1,-0.8 1,-0.7 1,-0.5 1,0 1,0.3 1,0.7 1,0.7 1,0.6 1,0.9 1,0.8 1,0.8 1,0.4 1,-0.1 1,-0.4 1,-0.5 1,-0.6 1,-0.7 1,-0.7 1,-0.8 1,-1 1,-0.9 1,-0.9 1,-1 1,-0.9 1,-1 1,-1.1 1,-1.2 1,-1.3 1,-1.7 1,-2.8 1,-8.5 1,-15.6 1,-21 1,-15.7 1,-8.4 1,-4.6 1,-1.3 1,-0.6 1,-0.5 1,-1.4 1,-3.2 1,-4.2 1,-5.5 1,-7.4 1,-7.4 1,-8 1,-2.2 1,-0.3 0.7,-0.1 1.3,10 1,18.3 1,22.7 1,17.8 1,5.4 1,2.2 1,1.6 1,1.1 1,1.1 1,1.4 1,1.7 1,2.2 1,2.6 1,3.8 1,4.4 1,4.1 1,4 1,3.9 1,3.6 1,3.1 1,3 1,2.7 1,2.1 1,1.5 1,1.3 1,1.2 1,0.8 1,0.3 1,0 1,0 1,-0.1 1,-0.3 1,-0.3 1,-1 1,-1.6 1,-1.6 1,-1 0.4,-0.1 0.6,0.1 1,0.2 1,0.5 1,0.6 1,0.9 1,1.6 1,1.9 1,1.6 1,1.3 1,1.2 1,1.1 1,1 1,0.9 1,1 1,1 1,1 1,1 1,1 1,0.9 1,0.7 1,0.5 1,0.4 1,0.3 1,0.3 1,0.2 1,0.4 1,0.4 1,0.3 1,0.5 1,0.7 1,0.8 1,0.8 1,0.6 1,0.2 1,0 1,-0.3 1,-0.5 1,-0.5 1,-0.4 1,-0.2 1,0 1,0 1,0.1 1,0 1,-0.2 1,-0.2 1,-0.3 1,-0.8 1,-1 1,-0.1 1,0.4 1,0.4 1,0.3 1,0.1 1,0.1 1,-0.2 1,0 1,0.1 1,0.4 1,0.5 1,0.6 1,1.2 1,1.1 1,0.2 1,-0.4 1,-0.3 1,-0.4 1,-0.2 1,0.2 1,0.3 1,0.3 1,0.4 1,0.2 1,-0.6 1,-1.2 1,-1.6 1,-1.8 1,-1.9 1,-2.4 1,-3.1 1,-3.5 1,-4.2 1,-4.9 1,-6.3 1,-8.5 1,-14.3 1,-19.2 1,-28 1,-34.5 1,-42.1 1,-31.7 1,-21.4 1,-13.1 0.4,-1.6 0.6,9 1,28.3 1,35.6 1,34.3 1,29.8 1,20.1 1,15.6 1,12.1 1,9.7 1,7.7 1,6.5 1,4.8 1,3.9 1,2.9 1,0.8 1,0.3 1.1,0.3 0.9,-13.1 1,-68.3 1,-137.3 0.2,-7.1" stroke="#ff00ff" stroke-width="3"/><g class="m"><path d="M195,1188.9l1,0.3 1,0.2 1,0.2 1,0 1,0 1,-0.2 1,0 1,-0.3 1,-0.1 1,-0.1 1,-0.1 1,0 1,0.1 1,0.1 1,0 1,0.1 1,-0.2 1,-0.1 1,-0.1 1,-0.1 1,-0.1 1,0.1 1,0.2 1,0.2 1,0.3 1,0.1 1,0.1 1,-0.1 1,-0.1 1,-0.1 1,0 1,-0.1 1,0 1,-0.2 1,-0.1 1,0 1,0.1 1,0.1 1,0.3 1,0.1 1,-0.1 1,-0.1 1,0 1,-0.2 1,0 1,0.1 1,0.1 1,0 1,0.3 1,0 1,0.2 1,0.1 1,0 1,-0.1 1,0 1,-0.2 1,-0.2 1,-0.1 1,0 1,-0.1 1,0.1 1,0.2 1,0 1,0 1,0.1 1,-0.1 1,-0.3 1,-0.4 1,-0.2 1,-0.3 1,0.1 1,0.3 1,0.4 1,0.4 1,0.2 1,-0.1 1,-0.2 1,-0.4 1,-0.3 1,-0.4 1,-0.1 1,0.1 1,0.2 1,0.3 1,0.3 1,0.4 1,0.2 1,0.1 1,0 1,0 1,-0.1 1,0 1,0.1 1,0 1,0 1,0 1,-0.1 1,-0.2 1,0 1,-0.1 1,0.1 1,0 1,0.1 1,0 1,0 1,-0.1 1,0 1,-0.1 1,-0.2 1,0 1,0.1 1,0.4 1,0.2 1,0.3 1,0.3 1,0.2 1,-0.2 1,0 1,-0.1 1,-0.1 1,-0.2 1,0 1,-0.1 1,-0.2 1,-0.3 1,-0.3 1,-0.4 1,-0.2 1,-0.1 1,0.3 1,0.3 1,0.3 1,0.3 1,0 1,-0.1 1,-0.2 1,-0.1 1,-0.1 1,0 1,0.2 1,0.1 1,0 1,0 1,0 1,-0.1 1,-0.1 1,0 1,0 1,-0.1 1,0.1 1,-0.1 1,0.1 1,0.2 1,0.1 1,-0.1 1,0.1 1,-0.2 1,-0.2 1,0 1,0.1 1,0.1 1,0.1 1,0.3 1,0.2 1,0.2 1,0 1,0.1 1,-0.1 1,-0.2 1,-0.2 1,0 1,-0.2 1,-0.1 1,0 1,-0.1 1,-0.1 1,0.2 1,0 1,0 1,-0.1 1,0 1,-0.2 1,-0.1 1,0 1,0.1 1,0.1 1,0.3 1,0.2 1,0.1 1,0.1 1,-0.1 1,0 1,-0.1 1,-0.2 1,-0.2 1,-0.1 1,-0.3 1,-0.1 1,0 1,0 1,0.1 1,0.3 1,0.3 1,0.2 1,0.2 1,0.1 1,0.1 1,0 1,0.2 1,0.2 1,0.1 1,0 1,-0.1 1,-0.3 1,-0.4 1,-0.4 1,-0.2 1,0 1,0.1 1,0 1,0 1,0.1 1,-0.1 1,0.2 1,0.2 1,0 1,-0.1 1,0.1 1,-0.2 1,-0.1 1,0 1,0.2 1,0.2 1,0.2 1,0.1 1,0.1 1,-0.1 1,0 1,-0.1 1,0.1 1,0.1 1,0.2 1,0.1 1,0.1 1,-0.1 1,-0.1 1,-0.1 1,0 1,0 1,0.1 1,-0.1 1,-0.2 1,-0.1 1,-0.1 1,0 1,0.1 1,0.1 1,0.1 1,-0.2 1,-0.1 1,-0.2 1,-0.2 1,-0.1 1,0.2 1,0.1 1,0.2 1,0.1 1,0.1 1,-0.1 1,0 1,0 1,0.1 1,0.1 1,0 1,-0.1 1,-0.1 1,-0.1 1,-0.3 1,0 1,0.1 1,0.3 1,0.4 1,0.4 1,0.3 1,0 1,-0.3 1,-0.4 1,-0.3 1,-0.4 1,-0.2 1,0.1 1,0 1,0.1 1,0.2 1,0.3 1,0 1,-0.1 1,0 1,-0.2 1,-0.1 1,-0.1 1,-0.1 1,-0.1 1,0 1,-0.1 1,0 1,0 1,0.1 1,0.1 1,0.3 1,0.1 1,0.3 1,0.2 1,0.1 1,0 1,0.1 1,0.1 1,0 1,0.1 1,0.1 1,0 1,0 1,0 1,-0.1 1,-0.1 1,0 1,0 1,0 1,0.1 1,0.1 1,0 1,0.2 1,0.2 1,0.1 1,0 1,0.2 1,0 1,-0.1 1,0 1,-0.1 1,-0.2 1,-0.2 1,-0.1 1,-0.1 1,-0.2 1,-0.1 1,-0.1 1,-0.2 1,-0.1 1,0.1 1,-0.1 1,0 1,-0.1 1,0 1,-0.1 1,0 1,0.1 1,0 1,-0.1 1,-0.2 1,-0.2 1,-0.3 1,-0.2 1,0 1,0 1,0 1,-0.1 1,-0.1 1,-0.1 1,-0.2 1,0 1,0.2 1,0.1 1,0 1,0.1 1,-0.1 1,-0.4 1,-0.2 1,-0.1 1,0 1,0.1 1,0.4 1,0.3 1,0.3 1,0 1,0 1,0 1,-0.1 1,-0.2 1,-0.1 1,-0.1 1,0.1 1,0.2 1,0.3 1,0.2 1,0 1,0 1,-0.2 1,0 1,0 1,0.2 1,0.1 1,0 1,-0.1 1,-0.1 1,-0.1 1,0.1 1,-0.1 1,0.1 1,0.1 1,0 1,-0.2 1,-0.2 1,-0.2 1,0 1,-0.1 1,0.1 1,0.3 1,0.1 1,0.1 1,0.3 1,0.2 1,0 1,0 1,0 1,-0.3 1,-0.2 1,-0.2 1,-0.2 1,-0.1 1,-0.1 1,-0.1 1,-0.1 1,-0.1 1,0 1,0.1 1,0 1,0 1,0 1,-0.1 1,-0.2 1,0 1,-0.1 1,0 1,-0.1 1,0.2 1,0.1 1,0.3 1,0.2 1,0.2 1,0.1 1,0.3 1,0.1 1,0.1 1,0.2 1,0 1,-0.1 1,-0.2 1,-0.1 1,-0.1 1,0 1,0.1 1,0.2 1,0.3 1,0.1 1,0.1 1,0.1 1,-0.1 1,-0.3 1,-0.1 1,-0.3 1,-0.3 1,0 1,0.1 1,0.2 1,0.1 1,0.1 1,-0.1 1,0 1,-0.2 1,-0.1 1,-0.1 1,-0.1 1,-0.1 1,-0.1 1,0.1 1,0.1 1,0.1 1,0 1,0.1 1,-0.1 1,-0.1 1,0.1 1,0.2 1,0.2 1,0.3 1,0.1 1,0.1 1,0 1,-0.2 1,-0.2 1,-0.2 1,-0.1 1,0 1,0.2 1,0.2 1,0.4 1,0.3 1,0.2 1,-0.2 1,-0.2 1,-0.3 1,-0.3 1,-0.3 1,0 1,-0.1 1,0 1,0.1 1,-0.1 1,-0.1 1,-0.1 1,-0.1 1,0 1,0.1 1,0.1 1,0.1 1,0 1,-0.1 1,-0.1 1,-0.1 1,-0.2 1,0 1,-0.1 1,0.2 1,0 1,0.1 1,0 1,0.2 1,0.1 1,0.1 1,0 1,0 1,0 1,0 1,-0.1 1,-0.1 1,0.1 1,-0.1 1,-0.1 1,0.1 1,0 1,0 1,0.2 1,0.2 1,0.1 1,-0.1 1,0 1,-0.1 1,0 1,0 1,0 1,0 1,0.2 1,0 1,0.2 1,0 1,0.1 1,-0.1 1,-0.1 1,-0.3 1,-0.1 1,-0.1 1,-0.1 1,0 1,0.2 1,0.3 1,0.4 1,0.1 1,0.1 1,-0.2 1,-0.4 1,-0.4 1,-0.3 1,-0.2 1,0 1,0 1,0.2 1,0.1 1,0.3 1,0.4 1,0.3 1,0.1 1,0.3 1,-0.2 1,-0.2 1,-0.2 1,-0.2 1,-0.3 1,0 1,0 1,-0.1 1,0 1,0 1,-0.1 1,0 1,-0.2 1,0 1,-0.1 1,0.1 1,0.1 1,0.2 1,0.3 1,0.1 1,0.1 1,0 1,0.1 1,-0.1 1,0 1,-0.1 1,-0.1 1,-0.4 1,-0.2 1,-0.1 1,-0.2 1,0.2 1,0.1 1,0.2 1,-0.1 1,0 1,-0.2 1,-0.1 1,-0.1 1,0 1,0 1,0 1,-0.1 1,0.1 1,0.1 1,0.1 1,0.2 1,0.2 1,0.1 1,-0.1 1,0 1,-0.1 1,0.1 1,0.2 1,0.2 1,0.2 1,0 1,-0.1 1,-0.1 1,0 1,-0.1 1,0 1,0.1 1,-0.2 1,-0.2 1,-0.3 1,-0.3 1,-0.3 1,0 1,0.1 1,0.1 1,0.1 1,0.1 1,-0.1 1,-0.1 1,0.2 1,0.1 1,0.2 1,0.3 1,0.4 1,0 1,0.1 1,-0.1 1,-0.2 1,-0.2 1,-0.1 1,-0.1 1,-0.1 1,0.1 1,0.1 1,0.1 1,0 1,0 1,-0.1 1,-0.1 1,-0.2 1,-0.2 1,-0.2 1,-0.1 1,-0.2 1,0.1 1,0.3 1,0.3 1,0.3 1,0.3 1,0.2 1,0.1 1,-0.2 1,-0.1 1,-0.1 1,-0.2 1,-0.1 1,0 1,0 1,0 1,0 1,-0.1 1,0 1,-0.2 1,-0.1 1,-0.1 1,0 1,0 1,0.1 1,0.2 1,0.1 1,0 1,0.1 1,0 1,0 1,0 1,0 1,-0.1 1,0 1,-0.1 1,-0.1 1,0 1,0 1,0 1,0.2 1,0 1,0 1,0 1,0 1,-0.2 1,-0.1 1,-0.1 1,-0.1 1,0 1,0.1 1,0.1 1,0.1 1,0 1,0.1 1,0 1,-0.1 1,0 1,0 1,0.1 1,-0.1 1,0 1,0 1,-0.1 1,0 1,-0.1 1,0 1,0 1,0.1 1,0 1,0.1 1,0 1,0 1,0.1 1,-0.1 1,0 1,0 1,0 1,0.1 1,0 1,0 1,0 1,-0.1 1,-0.1 1,0 1,-0.1 1,0 1,0 1,0 1,0 1,0 1,0 1,0 1,0 1,0 1,0 1,0 1,0 1,0 1,0 1,0 1,0 1,0 1,0 1,0 1,0 1,0 1,0 1,0 1,0 1,0 1,0 1,-0.1 1,0 1,0 1,0 1,0 1,0 1,0 1,0 1,-0.1 1,0 1,0 1,0 1,-0.1 1,0 1,0 1,0 1,-0.1 1,0 1,0 1,-0.1 1,0 1,0 1,-0.1 1,0 1,-0.1 1,0 1,-0.1 1,-0.1 1,-0.1 1,-0.1 1,-0.1 1,-0.1 1,-0.1 1,-0.2 1,-0.1 1,-0.2 1,-0.1 1,-0.2 1,-0.2 1,-0.2 1,-0.3 1,-0.3 1,-0.3 1,-0.4 1,-0.4 1,-0.3 1,-0.4 1,-0.4 1,-0.3 1,-0.3 1,-0.2 1,-0.3 1,-0.4 1,-0.4 1,-0.5 1,-1 1,-1.9 1,-2.5 1,-2.8 1,-3 1,-3.9 1,-4.5 1,-4.4 1,-3.5 1,-3 1,-2.8 1,-2.1 1,-0.9 1,-0.3 1,-0.1 0.7,-0.1 1.3,1.7 1,2.7 1,2.9 1,2.8 1,3.1 1,3.3 1,3 1,2.5 1,2.3 1,2.1 1,1.9 1,1.6 1,1.4 1,1.3 1,1.2 1,1 1,0.9 1,0.7 1,0.6 1,0.6 1,0.5 1,0.5 1,0.4 1,0.3 1,0.4 1,0.3 1,0.2 1,0.3 1,0.2 1,0.3 1,0.2 1,0.2 1,0.2 1,0.1 1,0.2 1,0.1 1,0.1 1,0.1 1,0 1,0.1 1,0 1,0 1,0.1 1,0 1,0 1,0.1 1,0 1,0 1,0 1,0 1,0 1,-0.1 1,-0.1 1,-0.1 1,-0.2 1,-0.2 1,-0.3 1,-0.2 1,-0.3 1,-0.5 1,-0.6 1,-0.9 1,-1.1 1,-1.2 1,-1.3 1,-1.9 1,-2.5 1,-3.1 1,-3.4 1,-5 1,-6.5 1,-4.9 1,-2.7 1,-1.7 0.4,-0.2 0.6,0.6 1,2.6 1,3.1 1,4.3 1,3.1 1,2.3 1,1.4 0.4,0.2 0.6,-0.4 1,-1.9 1,-2.8 1,-4.9 1,-6.8 1,-9.7 1,-10.5 1,-6.2 1,-4.4 0.5,-0.7 0.5,0 1,0.5 1,1.6 1,6.5 1,7.6 1,8.8 1,7.5 1,5.6 1,4.5 1,3.1 1,2.1 1,1.7 1,1.3 1,0.9 1,0.5 1,0.4 1,0.4 1,0.3 1,0.2 1,0.1 1,-0.6 1,-1.6 1,-1.6 1,-1.2 1,-1.2 1,-0.6 1,0.1 1,0 1,0.1 1,0.1 1,0.1 1,0.1 1,0.1 1,0.1 1,0.2 1,0.1 1,0.2 1,0.3 1,0.2 1,0.2 1,0.2 1,0.3 1,0.2 1,0.4 1,0.3 1,0.3 1,0.2 1,0.1 1,-0.1 1,0 1,-0.1 1,-0.2 1,-0.1 1,-0.1 1,-0.1 1,-0.2 1,0 1,-0.1 1,-0.1 1,-0.1 1,-0.1 1,-0.1 1,0 1,-0.1 1,0 1,0 1,0 1,0.1 1,0 1,0.1 1,0.1 1,0.2 1,0.1 1,0.3 1,0.5 1,0.7 1,0.7 1,0.8 1,0.7 1,0.8 1,1 1,1 1,0.9 1,0.9 1,0.8 1,0.9 1,0.8 1,0.7 1,0.2 1,0 1,0 1,0 1,0 1,0 1,0 1,-0.8 1,-1.3 1,-1.1 1,-1.3 1,-0.8 1,1.1 1,2 1,1.3 1,1.2 1,0.6 1,0 1,0 1,0 1,0 1,-0.2 1,-0.8 1,-1.3 1,-1.6 1,-1.6 1,-2.2 1,-2.6 1,-2.7 1,-2.1 1,-1.5 1,-1.3 1,-1.1 1,-1 1,-0.8 1,-0.9 1,-0.8 1,-0.6 1,-0.4 1,-0.1 1,-0.1 1,0 1,0 1,0.1 1,0.6 1,1 1,1.2 1,1.1 1,1.3 1,1.4 1,1.4 1,0.8 1,0.4 1,0.2 1.1,0.1 0.9,-0.4 1,-1.2 1,-1.6 1,-1.8 1,-1.6 1,-1.9 1,-2 1,-1.8 1,-1.5 1,-1.4 1,-1.3 1,-0.8 0.7,-0.3 1.3,0.6 1,0.9 1,1.2 1,1.5 1,2.2 1,1.7 1,0.6 1,0.5 1.1,0.2 0.9,-1.6 1,-3.5 1,-2.8 1,-2.9 1.1,-1.5 0.9,1.3 1,3.2 1,3.5 1,4.5 1,2.4 1,1 1,0.7 1.3,0.4 0.7,-0.3 1,-1.2 1,-1.6 1,-1.5 1,-1.2 1,-1.3 1,-0.9 0.6,-0.2 0.4,0.1 1,1.3 1,2 1,1.8 1,2 1,2.2 1,2.1 1,1.8 1,1.7 1,1.6 1,1.5 1,1.2 1,0.9 1,1 1,0.8 1,0.7 1,0.5 1,0.2 1,0 1,-0.2 1,-0.3 1,-0.5 1,-0.5 1,-0.5 1,-0.7 1,-1.1 1,-1.4 1,-1.5 1,-1.8 1,-1.9 1,-2.3 1,-2.9 1,-3.2 1,-3.6 1,-3.8 1,-4.5 1,-5 1,-4.9 1,-4.8 1,-4.8 1,-4.8 1,-4.7 1,-4.4 1,-4.1 1,-4 1,-3.8 1,-3.2 1,-2.7 1,-2.5 1,-2.3 1,-1.7 1,-1 1,-0.6 1,-0.4 1,-0.3 1,0 1,0.8 1,1.4 1,1.8 1,2.1 1,3 1,3.6 1,3.9 1,4.3 1,5.3 1,5.5 1,4.6 1,4.1 1,3.9 1,3.2 1,2.1 1,1.2 1,1.1 1,0.8 1,0.5 0.5,0 0.5,0 1,-0.5 1,-0.7 1,-0.9 1,-0.9 1,-1.3 1,-1.6 1,-1.5 1,-1.2 1,-0.5 1,-0.4 1,-0.3 1,-0.1 1,0.4 1,0.7 1,0.9 1,0.8 1,0.7 1,0.4 1,0.4 1,0.4 1,0.3 1,0.2 1,0.1 1,-0.1 1,0 1,0 1,-0.1 1,-0.1 1,-0.5 1,-1.6 1,-2 1,-3.6 1,-3.8 1,-0.8 1,-0.4 1,-0.4 1,-0.8 1,-0.9 1,-1.3 1,-2.9 1,-4.3 1,-3.2 1,-1.7 1,-1.3 0.9,-0.4 1.1,1.8 1,3.4 1,6.5 1,8.6 1,7.9 1,7.6 1,3.7 1,1.7 0.7,0.4 1.3,-5.2 1,-7.2 1,-12 1,-11.6 1,-7.4 1,-6 1,-4.8 1,-2.8 1,-2.9 1,-9.8 1,-21.1 1,-25 1,-6.4 0.5,-0.8 0.5,2.9 1,14.3 1,23.3 1,17.7 1,12.7 1,9.4 1,7.7 1,6.5 1,5.8 1,5.2 1,4.7 1,4.3 1,4.3 1,3.9 1,3.4 1,2.8 1,2.4 1,2.1 1,1.8 1,1.3 1,0.6 1,0.6 1,0.5 1,0.2 0.8,0.1 1.2,-0.9 1,-1.9 1,-2.4 1,-3 1,-5 1,-6.3 1,-7.1 1,-9 1,-8.9 1,-7.4 1,-7 1,-4.3 1,-1.3 1,-0.7 0.4,-0.1 0.6,0.5 1,2.7 1,3.7 1,6.9 1,8.2 1,7.2 1,6.9 1,6.2 1,5 1,4.5 1,3.3 1,1.8 1,1.2 1,1.1 1,1.5 1,1.4 1,0.2 1,-0.7 1,-1.2 1,-3.5 1,-2.8 1,-1 1,-0.4 1,0.4 1,0.9 1,0.8 1,0.2 1,0 1,-0.1 1,-0.1 1,0 1,0.2 1,0.6 1,0.8 1,0.6 1,0 1,-0.9 1,-1.3 1,-1.5 1,-2.3 1,-2.1 1,-1.3 1,-1 1,-0.6 1,0 1,0.2 1,0.3 1,0.4 1,1.3 1,2.1 1,2.4 1,2.2 1,2.5 1,2.6 1,2.4 1,1.9 1,1.5 1,1.4 1,1.1 1,0.8 1,0.5 1,0.4 1,0.3 1,0.2 1,0.2 1,0.3 1,0.5 1,0.7 1,0.7 1,0.7 1,0.7 1,0.3 1,0.2 1,0.2 1,0.1 1,0.1 1,0 1,0.1 1,-0.5 1,-1.4 1,-1.9 1,-2.7 1,-5.4 1,-5.8 1,-3.9 1,-3.4 0.8,-1.1 1.2,0.6 1,1.2 1,2.2 1,3.6 1,3.1 1,2.1 1,2.1 1,1.6 1.2,0.8 0.8,-0.4 1,-1.1 1,-1.7 1,-1.8 1,-2.7 1,-3.4 1,-3.1 1,-1.9 1,-1.6 1,-1 0.4,-0.1 0.6,0.2 1,1.1 1,1.6 1,2.1 1,3.1 1,3.6 1,3.1 1,2.4 1,2.3 1,2 1,1.7 1,1.4 1,1.3 1,1.2 1,1.1 1,0.8 1,0.7 1,0.5 1,0.4 1,0.3 1,0.4 1,0.2 1,0.2 1,0.2 1,0.1 1,0 1,0.1 1,0 1,0.1 1,0 1,0 1,0 1,0 1,-0.1 1,-1.2 1,-1.7 1,-2 1,-2.6 0.5,-0.6 0.5,0.6 1,3.1 1,3.2 1,3 1,0.7 1,0.4 1,0.2 1,0.2 1,0.1 1,0.2 1,0.3 1,0.2 1,0.3 1,0.3 1,0.2 1,0.3 1,0.2 1,0.2 1,0.1 1,0.1 1,0.1 1,0.1 1,0.1 1,0.1 1,0 1,0.1 1,0 1,0 1,-0.1 1,0 1,-0.2 1,-0.1 1,-0.1 1,-0.1 1,0 1,0.1 1,0.2 1,0.3 1,0.4 1,0.3 1,0.3 1,0.2 1,0 1,0 1,0 1,0 1,0 1,0 1,0 1,0 1,0 1,-0.1 1,0 1,-0.1 1,-0.2 1,-0.2 1,-0.2 1,-0.2 1,-0.3 1,-0.2 1,-0.3 1,-0.2 1,-0.4 1,-0.4 1,-0.5 1,-0.7 1,-1.4 1,-2.3 1,-2.9 1,-3.5 1,-5.8 1,-6.8 1,-6.2 1,-6.6 1,-4.9 1,-1.9 1,-1.3 0.5,-0.2 0.5,0.3 1,1.8 1,2.7 1,4.8 1,5.8 1,3.9 1,3.2 1,2.2 0.4,0.2 0.6,0 1,-0.4 1,-0.5 1,-1 1,-3.2 1,-4.4 1,-3.6 1,-3.7 1,-2.9 1,-1.2 1,-0.6 1,-0.4 0.5,0 0.5,0.5 1,2.8 1,3.1 1,3.9 1,3.5 1,1.4 1,0.7 0.8,0.2 1.2,-1.7 1,-2.9 1,-3.7 1,-5.6 1,-6.2 1,-5.9 1,-6.4 1,-4.9 1,-2.5 1,-1.8 0.6,-0.3 0.4,0.1 1,1.5 1,2.3 1,4.3 1,6.3 1,6 1,6 1,5.9 1,5 1,3.5 1,2.8 1,2.5 1,1.9 1,1.3 1,1 1,0.9 1,0.7 1,0.6 1,0.6 1,0.6 1,0.5 1,0.5 1,0.4 1,0.4 1,0.4 1,0.4 1,0.5 1,0.5 1,0.6 1,0.7 1,0.6 1,0.5 1.2,0.3 0.8,-0.4 1,-1 1,-1.3 1,-1.1 1.1,-0.5 0.9,0.2 1,0.8 1,1.1 1,1.1 1,1.1 1,1.4 1,1.5 1,1.3 1,1.1 1,0.6 1,0.6 1,0.5 1,0.4 1,0.3 1,0 1,-0.1 1,-0.1 1,-0.2 1,-0.3 1,-0.3 1,-0.3 1,-0.5 1,-0.8 1,-1.1 1,-1.3 1,-1.5 1,-1.9 1,-2.8 1,-4.4 1,-6.2 1,-13.3 1,-16 1,-13.9 0.8,-5.1 1.2,10.3 1,13.6 1,10.5 1,2.8 1,1.3 1,0.1 1,0 1,0 1,0 1,-0.6 1,-2.6 1,-3.7 1,-3.7 1,-4 1,-4.8 1,-4.3 1,-2.5 1,-0.9 1,-0.8 1,-0.4 1,-0.1 1,0.4 1,0.8 1,1.1 1,2.4 1,3.7 1,4.2 1,3.9 1,4.1 1,4.4 1,3.6 1,2 1,1.6 1,1.1 1.3,0.7 0.7,-1 1,-3.2 1,-3.6 1,-2.1 1,-1.8 1,-1.2 0.5,-0.1 0.5,0.3 1,1.7 1,2.4 1,3.7 1,4.7 1,3.8 1,2.5 1,1.9 0.5,0.3 0.5,-0.2 1,-1.3 1,-1.9 1,-2.1 1,-2.6 1,-3.1 1,-3.3 1,-2.9 1,-2.8 1,-3.9 1,-9.5 1,-18.5 1,-20.9 1,-2.5 0.4,-0.2 0.6,4.7 1,14.3 1,10.4 1,4.6 1,1.5 1,-7.7 1,-9.4 1.1,-6 0.9,5 1,11.7 1,17.5 1,10.6 1,7.4 1,4.2 1,3.2 1,1.9 0.5,0.3 0.5,-0.1 1,-0.1 1,-0.3 1,-0.1 1,0.1 1,1.2 1,1.2 1,0.1 1,-0.8 1,-1 1,-0.8 1,-0.1 1,-0.1 1,-0.1 1,-0.1 1,0 1,0.2 1,0.5 1,0.7 1,0.7 1,0.8 1,1 1,1.2 1,1.3 1,1.2 1,1 1,1.2 1,1 1,0.8 1,0.2 1,-0.3 1,-0.6 1,-0.8 1,-2.5 1,-3.8 1,-3.7 1,-3.8 1,-1 1,-0.2 1,-0.1 1,-0.1 1,-0.1 1,-0.2 1,-0.2 1,-0.2 1,-0.3 1,-0.2 1,-0.4 1,-0.3 1,-0.6 1,-0.6 1,-0.5 1,-0.2 1,0.1 1,0.5 1,0.6 1,1.1 1,1.6 1,1.2 1,0.4 1,0.3 1,0.3 1.2,0 0.8,-0.5 1,-1.8 1,-2 1,-1.3 1,-0.8 1,-0.7 1,-0.5 1,0 1,0.3 1,0.7 1,0.7 1,0.6 1,0.9 1,0.8 1,0.8 1,0.4 1,-0.1 1,-0.4 1,-0.5 1,-0.6 1,-0.7 1,-0.7 1,-0.8 1,-1 1,-0.9 1,-0.9 1,-1 1,-0.9 1,-1 1,-1.1 1,-1.2 1,-1.3 1,-1.7 1,-2.8 1,-8.5 1,-15.6 1,-21 1,-15.7 1,-8.4 1,-4.6 1,-1.3 1,-0.6 1,-0.5 1,-1.4 1,-3.2 1,-4.2 1,-5.5 1,-7.4 1,-7.4 1,-8 1,-2.2 1,-0.3 0.7,-0.1 1.3,10 1,18.3 1,22.7 1,17.8 1,5.4 1,2.2 1,1.6 1,1.1 1,1.1 1,1.4 1,1.7 1,2.2 1,2.6 1,3.8 1,4.4 1,4.1 1,4 1,3.9 1,3.6 1,3.1 1,3 1,2.7 1,2.1 1,1.5 1,1.3 1,1.2 1,0.8 1,0.3 1,0 1,0 1,-0.1 1,-0.3 1,-0.3 1,-1 1,-1.6 1,-1.6 1,-1 0.4,-0.1 0.6,0.1 1,0.2 1,0.5 1,0.6 1,0.9 1,1.6 1,1.9 1,1.6 1,1.3 1,1.2 1,1.1 1,1 1,0.9 1,1 1,1 1,1 1,1 1,1 1,0.9 1,0.7 1,0.5 1,0.4 1,0.3 1,0.3 1,0.2 1,0.4 1,0.4 1,0.3 1,0.5 1,0.7 1,0.8 1,0.8 1,0.6 1,0.2 1,0 1,-0.3 1,-0.5 1,-0.5 1,-0.4 1,-0.2 1,0 1,0 1,0.1 1,0 1,-0.2 1,-0.2 1,-0.3 1,-0.8 1,-1 1,-0.1 1,0.4 1,0.4 1,0.3 1,0.1 1,0.1 1,-0.2 1,0 1,0.1 1,0.4 1,0.5 1,0.6 1,1.2 1,1.1 1,0.2 1,-0.4 1,-0.3 1,-0.4 1,-0.2 1,0.2 1,0.3 1,0.3 1,0.4 1,0.2 1,-0.6 1,-1.2 1,-1.6 1,-1.8 1,-1.9 1,-2.4 1,-3.1 1,-3.5 1,-4.2 1,-4.9 1,-6.3 1,-8.5 1,-14.3 1,-19.2 1,-28 1,-34.5 1,-42.1 1,-31.7 1,-21.4 1,-13.1 0.4,-1.6 0.6,9 1,28.3 1,35.6 1,34.3 1,29.8 1,20.1 1,15.6 1,12.1 1,9.7 1,7.7 1,6.5 1,4.8 1,3.9 1,2.9 1,0.8 1,0.3 1.1,0.3 0.9,-13.1 1,-68.3 1,-137.3 0.2,-7.1"/></g>
<path d="M195,1476.5l1,0 1,0 1,-0.2 1,-0.1 1,-0.1 1,-0.2 1,-0.2 1,0 1,-0.1 1,0 1,0.1 1,0.2 1,0.2 1,0.1 1,0 1,-0.1 1,-0.1 1,-0.2 1,-0.1 1,-0.1 1,0 1,0 1,0.1 1,0 1,-0.1 1,-0.1 1,0 1,0 1,0.1 1,0.2 1,0.1 1,0.1 1,0 1,-0.1 1,-0.1 1,-0.1 1,-0.1 1,0.1 1,0 1,0.1 1,0.1 1,0.1 1,-0.1 1,0.2 1,0 1,0.2 1,0.2 1,0.5 1,0.2 1,0.2 1,0 1,-0.1 1,-0.3 1,-0.2 1,-0.2 1,0 1,-0.1 1,0 1,0 1,-0.1 1,-0.1 1,0 1,0 1,-0.2 1,-0.2 1,0 1,-0.2 1,-0.1 1,0 1,0.1 1,0 1,-0.1 1,0 1,0 1,-0.1 1,0.1 1,0.1 1,0 1,0.2 1,0.2 1,0 1,0 1,0 1,-0.3 1,-0.2 1,0 1,0 1,0 1,0.2 1,0 1,0.1 1,0 1,0.1 1,0.2 1,0.1 1,0.3 1,0.2 1,-0.1 1,-0.1 1,0.1 1,-0.1 1,-0.2 1,-0.1 1,-0.1 1,-0.2 1,0 1,0 1,0.3 1,0.2 1,0.2 1,0.2 1,0 1,-0.2 1,-0.1 1,0 1,0 1,0.1 1,0.3 1,0.2 1,0.3 1,0.3 1,0.2 1,0.2 1,0.1 1,0.1 1,0.1 1,0 1,-0.2 1,-0.2 1,-0.2 1,-0.1 1,0 1,0 1,0.1 1,0.1 1,-0.1 1,0 1,0 1,-0.1 1,-0.3 1,-0.1 1,-0.2 1,-0.3 1,0 1,0.1 1,0 1,-0.1 1,0 1,0 1,0 1,-0.1 1,0.1 1,0.1 1,-0.2 1,-0.2 1,-0.2 1,-0.1 1,0 1,0 1,0.2 1,0.4 1,0 1,-0.1 1,-0.1 1,-0.1 1,-0.4 1,0 1,0 1,0.2 1,0.2 1,0.3 1,0.1 1,0.3 1,0 1,-0.2 1,-0.2 1,0 1,-0.3 1,-0.1 1,0.1 1,0 1,0 1,0.1 1,0 1,0 1,-0.1 1,0 1,-0.2 1,-0.3 1,-0.2 1,-0.1 1,-0.1 1,-0.1 1,0.2 1,0.2 1,0.2 1,0 1,0.3 1,0.1 1,0.1 1,0.2 1,0.3 1,0.1 1,-0.1 1,-0.2 1,-0.2 1,-0.3 1,-0.1 1,-0.1 1,0.2 1,0.3 1,0.3 1,0 1,0 1,-0.1 1,-0.3 1,-0.3 1,-0.4 1,-0.1 1,-0.1 1,-0.2 1,0.1 1,0.2 1,0.1 1,0.1 1,0.2 1,0.1 1,0.1 1,0.2 1,0.1 1,0.1 1,0.2 1,0.1 1,0 1,-0.1 1,-0.1 1,-0.1 1,-0.1 1,0 1,-0.1 1,0 1,0 1,0.2 1,0.1 1,0.2 1,0.3 1,0.3 1,0.3 1,0.2 1,0.2 1,0 1,-0.1 1,-0.2 1,0 1,0 1,-0.2 1,0.1 1,0 1,-0.1 1,-0.1 1,0.2 1,0.2 1,0.1 1,0.1 1,0.2 1,0 1,-0.1 1,-0.2 1,0 1,-0.1 1,0.1 1,0.1 1,0 1,0 1,0 1,-0.1 1,-0.1 1,0 1,0.1 1,0.1 1,0 1,0 1,0 1,0 1,0 1,0 1,0.1 1,0.1 1,0 1,0.1 1,0.1 1,-0.1 1,0.1 1,0 1,0 1,0.1 1,0.2 1,0.2 1,0 1,0 1,-0.2 1,-0.4 1,-0.5 1,-0.3 1,-0.3 1,-0.2 1,0 1,0 1,0.2 1,0.2 1,0.3 1,0.6 1,0.3 1,0.1 1,0.1 1,-0.1 1,-0.3 1,-0.4 1,-0.3 1,-0.2 1,-0.1 1,0.1 1,0.3 1,1.3 1,1.5 1,0.8 1,0.1 1,0.2 1,0.2 1,0 1,0 1,-0.2 1,-0.4 1,-0.6 1,-0.5 1,-0.5 1,-0.4 1,-0.3 1,-0.2 1,0 1,-0.1 1,0.1 1,0 1,-0.1 1,0 1,-0.1 1,0 1,0 1,0.1 1,0.1 1,0 1,-0.1 1,-0.1 1,-0.1 1,-0.3 1,-0.3 1,-0.3 1,-0.3 1,-0.1 1,0.1 1,0.3 1,0.4 1,0.2 1,0.1 1,0 1,-0.2 1,-0.2 1,0 1,0 1,0.1 1,0.1 1,0 1,-0.2 1,-0.1 1,-0.1 1,0.1 1,0.1 1,0.3 1,0.2 1,0.1 1,0 1,0 1,-0.1 1,-0.2 1,-0.1 1,-0.1 1,-0.2 1,0 1,-0.1 1,-0.1 1,0 1,0.3 1,0 1,0.1 1,0.3 1,0 1,-0.1 1,0.1 1,-0.1 1,0 1,0 1,0 1,0 1,0 1,-0.1 1,0 1,0 1,0 1,0 1,-0.1 1,-0.1 1,-0.3 1,-0.3 1,-0.4 1,-0.2 1,-0.1 1,-0.1 1,-0.1 1,0.2 1,-0.1 1,-0.1 1,-0.2 1,0 1,-0.1 1,-0.2 1,0 1,0.1 1,0 1,0.1 1,0.1 1,0.2 1,0.2 1,0.1 1,0.1 1,0 1,0 1,0 1,0.2 1,0.2 1,0.3 1,0.2 1,0.3 1,0.1 1,0.1 1,0.2 1,0.4 1,0.2 1,0.3 1,0.3 1,0.3 1,0 1,0.1 1,0.2 1,0.1 1,0.2 1,0.1 1,0.1 1,0 1,0 1,-0.2 1,-0.2 1,-0.1 1,-0.2 1,0.1 1,0.2 1,0.1 1,0 1,-0.1 1,-0.1 1,-0.2 1,-0.2 1,0 1,0 1,0.1 1,0.1 1,0.1 1,0 1,-0.1 1,-0.2 1,-0.2 1,-0.2 1,0 1,0.2 1,0.1 1,0.1 1,-0.1 1,-0.2 1,-0.4 1,-0.3 1,-0.4 1,-0.4 1,-0.3 1,-0.1 1,-0.1 1,-0.2 1,0.3 1,0.2 1,0.1 1,0.1 1,0.1 1,0 1,0.1 1,0 1,0 1,0 1,0.2 1,-0.1 1,0.1 1,0.2 1,0.2 1,0 1,0.1 1,0 1,-0.1 1,-0.1 1,0.1 1,0.1 1,0 1,0.3 1,0.3 1,0.4 1,0.4 1,0.4 1,0.1 1,0 1,-0.2 1,-0.3 1,-0.3 1,-0.2 1,-0.3 1,-0.2 1,-0.2 1,-0.1 1,0 1,0 1,0 1,0.2 1,0 1,0.2 1,0.1 1,0 1,0 1,-0.1 1,-0.1 1,-0.1 1,-0.1 1,-0.3 1,-0.3 1,-0.3 1,-0.4 1,-0.4 1,-0.2 1,-0.2 1,-0.2 1,-0.1 1,0 1,0.1 1,0 1,-0.1 1,-0.1 1,-0.2 1,-0.2 1,-0.1 1,-0.1 1,0 1,0 1,-0.2 1,-0.4 1,-0.2 1,-0.2 1,-0.2 1,-0.1 1,0.2 1,0.1 1,0.3 1,0.3 1,0.3 1,0.2 1,0.4 1,0.2 1,0.2 1,0.1 1,0.2 1,0 1,0.1 1,0.1 1,0.2 1,0.2 1,0.3 1,0.3 1,0.1 1,0.1 1,-0.1 1,-0.2 1,-0.2 1,-0.1 1,0 1,0.3 1,0.2 1,0.2 1,0.4 1,0.2 1,0.1 1,0.3 1,0.3 1,0.2 1,0.1 1,0 1,-0.3 1,-0.2 1,-0.3 1,0 1,0.2 1,0.3 1,0.4 1,0.4 1,0.2 1,0.1 1,-0.2 1,-0.1 1,-0.2 1,-0.3 1,-0.1 1,0.2 1,0 1,0 1,0.3 1,0.2 1,-0.2 1,0 1,0.1 1,-0.3 1,-0.1 1,0.2 1,0.2 1,0.1 1,0 1,0 1,-0.3 1,-0.4 1,-0.2 1,0.1 1,0 1,0.3 1,0.3 1,0.1 1,0 1,-0.1 1,0 1,0 1,-0.1 1,0 1,0 1,-0.3 1,-0.3 1,-0.1 1,-0.2 1,0 1,0.2 1,0 1,0 1,0 1,-0.1 1,0 1,0.1 1,0.1 1,0.1 1,0 1,-0.2 1,-0.1 1,-0.1 1,-0.3 1,-0.1 1,0 1,-0.1 1,-0.1 1,-0.2 1,-0.1 1,-0.2 1,-0.1 1,0.1 1,0.3 1,0.1 1,0.3 1,0.2 1,0.1 1,-0.1 1,-0.1 1,-0.1 1,0 1,0.1 1,0.2 1,0 1,0.2 1,0 1,-0.1 1,-0.1 1,-0.1 1,-0.3 1,0 1,0 1,0 1,0.1 1,0.1 1,0.1 1,0.1 1,0.1 1,0 1,-0.1 1,0.1 1,0 1,0.1 1,0 1,0 1,0 1,-0.1 1,0 1,0 1,0 1,0.1 1,0 1,0 1,0.1 1,0 1,0 1,0 1,0.1 1,0.1 1,0.1 1,0.1 1,0.1 1,0 1,0 1,-0.1 1,0 1,0 1,0 1,0 1,0 1,0.1 1,0.1 1,0 1,0.2 1,0 1,0.1 1,0 1,0 1,-0.1 1,0 1,0 1,0 1,0 1,-0.1 1,0.1 1,0 1,0 1,-0.1 1,0 1,-0.1 1,-0.1 1,0 1,0 1,-0.1 1,-0.1 1,-0.2 1,-0.1 1,-0.2 1,-0.2 1,-0.1 1,0 1,0 1,0 1,0 1,0 1,0 1,0 1,0 1,-0.1 1,-0.1 1,0 1,-0.1 1,0 1,0 1,0 1,0 1,0 1,0 1,-0.1 1,0 1,0 1,0 1,0 1,0 1,0 1,0 1,0 1,0 1,0 1,0 1,-0.1 1,0 1,0 1,0 1,0 1,0 1,0 1,-0.1 1,0 1,0 1,0 1,0 1,0 1,-0.1 1,0 1,0 1,0 1,-0.1 1,0 1,0 1,0 1,-0.1 1,0 1,0 1,0 1,-0.1 1,0 1,0 1,-0.1 1,0 1,-0.1 1,0 1,-0.1 1,0 1,-0.1 1,-0.1 1,-0.1 1,-0.1 1,-0.2 1,-0.1 1,-0.2 1,-0.3 1,-0.2 1,-0.3 1,-0.3 1,-0.3 1,-0.5 1,-0.7 1,-0.7 1,-0.7 1,-0.8 1,-0.7 1,-0.5 1,-0.4 1,-0.4 1,-0.3 1,-0.3 1,-0.4 1,-0.4 1,-0.6 1,-0.7 1,-1.1 1,-1.5 1,-1.9 1,-2.7 1,-5.5 1,-7.1 1,-7.2 1,-8.2 1,-8.3 1,-7.5 1,-7.3 1,-6 1,-4 1,-3.4 1.3,-2.1 0.7,0.1 1,0.1 1,0.3 1,0.9 1,2.4 1,3.7 1,5.2 1,12.2 1,8.3 1,5.1 1,4.4 1,4.5 1,4.7 1,4.2 1,3.3 1,2.4 1,2.1 1,1.9 1,1.6 1,1.7 1,1.7 1,1.6 1,1.4 1,1.3 1,0.9 1,0.7 1,0.7 1,0.5 1,0.5 1,0.4 1,0.4 1,0.3 1,0.4 1,0.3 1,0.3 1,0.4 1,0.3 1,0.2 1,0.3 1,0.2 1,0.1 1,0.1 1,0.1 1,0.1 1,0.1 1,0.1 1,0 1,0.1 1,0 1,0 1,0 1,-0.1 1,-0.1 1,-0.1 1,-0.2 1,-0.2 1,-0.2 1,-0.3 1,-0.3 1,-0.4 1,-0.6 1,-0.9 1,-1 1,-1.1 1,-1.3 1,-1.7 1,-2.3 1,-2.8 1,-3.5 1,-5.1 1,-7.4 1,-8 1,-9 1,-9.8 1,-8.1 1,-6.8 1,-4.8 1,-1.1 1,-0.4 0.4,0 0.6,1.5 1,6.1 1,6.9 1,8.2 1,3.6 1,1.8 0.5,0.3 0.5,-0.7 1,-4.8 1,-8 1,-15.3 1,-15.6 1,-16.1 1,-9.7 1,-6 1,-2.8 1,-0.5 1.1,-0.1 0.9,3.4 1,7.4 1,8.3 1,9.3 1,7.4 1,6 1,6.4 1,7.9 1,7.4 1,5.6 1,4.9 1,3.4 1,2.1 1,1.6 1,1.3 1,1.2 1,1.2 1,1.3 1,1.2 1,1.2 1,1.2 1,1.3 1,1.3 1,1.7 1,1.9 1,1.9 1,1.4 1,0.9 1,0.7 1,0.6 1,0.6 1,0.5 1,0.7 1,0.9 1,1.1 1,1.1 1,1.2 1,1.2 1,1.1 1,1 1,1 1,1 1,0.9 1,1 1,0.8 1,0.8 1,0.7 1,0.7 1,0.7 1,0.6 1,0.6 1,0.4 1,0.4 1,0.3 1,0.3 1,0.2 1,0.2 1,0.1 1,0 1,-0.4 1,-1.1 1,-1.4 1,-1.4 1,-1.9 1,-2.4 1,-2.4 1,-1.8 1,-1.6 1,-1.4 1,-1 1,-0.2 1,0 1,0 1,0 1,0 1,0.6 1,1.2 1,1.3 1,1.3 1,1.6 1,1.8 1,1.8 1,1.6 1,1.6 1,1.6 1,1 1,0.1 1,-0.3 1,-0.4 1,-0.6 1,-0.7 1,-1.1 1,-0.6 1,0.2 1,0.9 1,1 1,1.2 1,1.5 1,1.5 1,1 1,0.7 1,0.6 1,0.5 1,0.4 1,0.1 1,-0.1 1,-0.3 1,-0.4 1,-0.5 1,-1.1 1,-2.3 1,-2.2 1,-1.5 1,-1.2 1.2,-0.6 0.8,0.5 1,1.8 1,1.9 1,1.8 1,1.9 1,1.7 1,0.9 1,0.7 1,0.5 1,0.5 1,0.3 1,0 1,0 1,0 1,0 1,0 1,0 1,0 1,0 1,-0.1 1,-0.4 1,-0.8 1,-0.9 1,-1.1 1,-1.3 1,-1.5 1,-2.2 1,-2.7 1,-3 1,-3.4 1,-4.4 1,-5 1,-4.9 1,-5.5 1,-5.6 1,-4.3 1,-2.6 1,-2 1.1,-1 0.9,0.2 1,0.4 1,0.6 1,1.4 1,2.7 1,2.8 1,2.1 1,2 1,1.8 1,1.1 1,0.3 1,0.2 1,0.1 1,0.1 1,0 1,0 1,-0.1 1,-0.3 1,-0.4 1,-0.5 1,-1.6 1,-2.5 1,-3.1 1,-3.9 1,-5.4 1,-4.3 1,-1.9 1,-1.2 0.5,-0.2 0.5,0.2 1,1.9 1,2.6 1,3.6 1,4.6 1,4.5 1,3.9 1,3.6 1,3.5 1,3.1 1,2.7 1,2.4 1,2.3 1,1.9 1,1.4 1,1 1,1 1,0.8 1,0.6 1,0.3 0.5,0 0.5,0 1,-0.6 1,-1 1,-1.2 1,-1.5 1,-1.6 1,-2.4 1,-3.1 1,-3.5 1,-3.9 1,-5 1,-6.1 1,-6.6 1,-6.6 1,-6.4 1,-6.8 1,-6.8 1,-6.7 1,-6.4 1,-6.3 1,-6.1 1,-5.9 1,-5.6 1,-5.5 1,-5.4 1,-5.1 1,-4.4 1,-3.8 1,-3.6 1,-3.3 1,-2.6 1,-1.8 1,-1.4 1,-1.3 1,-0.9 1,-0.5 1,0.1 1,0.3 1,0.5 1,0.6 1,1.2 1,1.9 1,2.4 1,3.1 1,4.1 1,4.7 1,4.9 1,4.9 1,5.3 1,5.5 1,5.7 1,6.2 1,6.5 1,6.3 1,5.4 1,5 1,4.5 1,3.5 1,2.2 1,1.7 1,1.2 1,0.6 1,0.4 1,0.3 1,0.5 1,0.8 1,2.4 1,3.4 1,3.4 1,3.8 1,4.3 1,4.2 1,3.9 1,3.7 1,3.7 1,3.4 1,2.9 1,2.3 1,2.2 1,1.7 1,1.1 1,0.4 1,0.4 1,0.1 0.7,0.1 1.3,-1 1,-1.8 1,-2.4 1,-3.9 1,-6.9 1,-8.2 1,-8.1 1,-9.2 1,-9.3 1,-8.9 1,-9 1,-7.3 1,-4.7 1,-3.7 0.9,-1.4 1.1,0.9 1,2.1 1,4.1 1,7.6 1,8.4 1,10.4 1,7 1,2.4 1,1 1,-3.6 1,-8 1,-12.5 1,-16.8 1,-14.8 1,-14 1,-12.3 1,-10.7 1,-8.5 1,-3.6 1,-2.1 0.7,-0.6 1.3,1.2 1,2.2 1,4.4 1,9.7 1,10 1,10.2 1,10.2 1,9.5 1,8.8 1,8.4 1,7.7 1,7 1,6.8 1,6 1,4.9 1,4.3 1,3.9 1,3.3 1,2.4 1,1.6 1,1.4 1,1.2 1,0.7 0.8,0.2 1.2,-0.4 1,-0.8 1,-1 1,-1.6 1,-3.8 1,-5.5 1,-6.7 1,-9.7 1,-11.2 1,-11.4 1,-12.8 1,-12 1,-10 1,-9.2 1,-6.7 1,-3.6 1,-2.5 0.9,-1 1.1,1 1,2 1,3 1,5.9 1,7.3 1,7.4 1,8.3 1,8.1 1,7.7 1,7.4 1,6.1 1,5.2 1,4.4 1,1.8 1,-0.2 1,-0.5 1,-1.7 1,-4.5 1,-4.4 1,-4 1,-2.9 1,-0.3 1,0 1,0 1,0 1,0 1,0.2 1,0.2 1,0.5 1,0.5 1,2.8 1,6 1,5.9 1,5 1,5.1 1,4.3 1,3 1,2.4 1,2 1,1.7 1,1.6 1,1.6 1,1.6 1,1.6 1,1.4 1,1.4 1,1.2 1,1.1 1,0.9 1,1 1,0.8 1,0.8 1,0.8 1,0.7 1,0.7 1,0.7 1,0.6 1,0.6 1,0.5 1,0.5 1,0.5 1,0.5 1,0.5 1,0.5 1,0.6 1,0.6 1,0.8 1,0.8 1,0.7 1,0.8 1,0.7 1,0.5 1,0.4 1,0.3 1,0.2 1,0.2 0.4,0 0.6,-0.5 1,-2.5 1,-3.9 1,-7 1,-12.7 1,-12.4 1,-13.1 1,-8.9 1,-4.1 1.3,-2.6 0.7,0.9 1,3.2 1,4.1 1,5.7 1,6.7 1,6.2 1,6.5 1,6.2 1,4.9 1,3.5 1,3.1 1,2.5 1,2.2 1,1.8 1,1.5 1,1.4 1,1.3 1,1.1 1,1 1,0.8 1,0.7 1,0.7 1,0.6 1,0.6 1,0.5 1,0.5 1,0.4 1,0.3 1,0.2 1,0.2 1,0.2 1,0.1 1,0.1 1,0.1 1,0.1 1,0.1 1,0 1,0 1,-0.1 1,-0.1 1,-0.3 1,-0.3 1,-0.3 1,-0.3 1,-0.2 1,-0.1 1,0 1,0.2 1,0.3 1,0.4 1,0.4 1,0.5 1,0.5 1,0.3 1,0.3 1,0 1,0.1 1,0.1 1,0 1,0 1,0.1 1,0 1,0 1,0.1 1,0 1,0.1 1,0.1 1,0.1 1,0.3 1,0.3 1,0.4 1,0.5 1,0.5 1,0.6 1,0.6 1,0.9 1,0.9 1,1 1,0.7 1,0.8 1,0.6 1,0.6 1,0.3 1,-0.2 1,-0.7 1,-0.8 1,-0.6 1,-0.1 1,0 1,0 1,0 1,0.3 1,0.7 1,1 1,1.1 1,1 1,0.7 1,0.8 1,0.7 1,0.7 1,0.6 1,0.5 1,0.5 1,0.3 1,0.2 1,0.3 1,0.2 1,0.2 1,0.2 1,0.1 1,0.1 1,0.1 1,0 1,-0.1 1,-0.2 1,-0.3 1,-0.3 1,-0.4 1,-0.6 1,-1.2 1,-1.7 1,-2.2 1,-2.5 1,-3.8 1,-5.2 1,-6.1 1,-7.8 1,-10.3 1,-11 1,-11.2 1,-12.1 1,-8.8 1,-4.8 1,-3.6 1.1,-1.6 0.9,1.8 1,4.3 1,5.6 1,8.6 1,7.9 1,4.6 1,3.7 1.3,2.2 0.7,-0.4 1,-1.5 1,-2.1 1,-3.4 1,-5.3 1,-5.8 1,-5.9 1,-6.3 1,-4.4 1,-2.3 1,-1.5 0.4,-0.1 0.6,0.7 1,3.2 1,4.1 1,6.1 1,6 1,3 1,2.1 0.7,0.6 1.3,-2.2 1,-3.7 1,-5.3 1,-8.9 1,-9.8 1,-8.8 1,-8.9 1,-8.1 1,-7.3 1,-6.2 1,-2.4 1,-1.3 0.9,-0.3 1.1,2.7 1,4.9 1,5.6 1,7.4 1,7.3 1,6 1,5.4 1,4.9 1,4.5 1,4 1,3.7 1,3.4 1,3 1,2.4 1,2 1,1.8 1,1.7 1,1.5 1,1.5 1,1.6 1,1.7 1,1.8 1,1.9 1,1.9 1,2.1 1,3.2 1,3.6 1.1,1.9 0.9,-0.3 1,-0.9 1,-1.1 1,-1.6 1,-1.8 0.6,-0.5 0.4,0.1 1,1.6 1,2.5 1,2.7 1,3.5 1,4 1,3.5 1,2.7 1,2.3 1,2.1 1,1.8 1,1.5 1,1.4 1,1.4 1,1.2 1,1 1,0.6 0.6,0.1 0.4,0 1,-0.2 1,-0.3 1,-0.4 1,-0.5 1,-0.5 1,-0.9 1,-1.3 1,-1.2 1,-0.8 1,-0.1 1,0 1,0 1,0 1,0.1 1,0.7 1,1.1 1,1.3 1,1.3 1,0.9 1,0.9 1,0.9 1,0.7 1,0.4 0.4,0 0.6,-0.2 1,-1 1,-1.8 1,-2.2 1,-2.5 1,-3.6 1,-4.3 1,-3.9 1,-3.5 1,-3.5 1,-3.3 1,-2.7 1,-1.8 1,-1.4 1,-1.2 1,-0.8 0.8,-0.3 1.2,0.4 1,0.6 1,1 1,1.4 1,3.1 1,3.4 1,1.9 1,1.3 1,0.9 0.7,0.3 1.3,-1.7 1,-2.8 1,-3.6 1,-6.6 1,-7.8 1,-7.4 1,-7.2 1,-2.8 1,-0.8 1,-0.4 0.5,0 0.5,0.9 1,5.4 1,7.3 1,11.6 1,9.7 1,4.1 1,2.8 0.6,0.5 0.4,-0.4 1,-3.1 1,-4.5 1,-5.9 1,-7.8 1,-7.9 1,-8.3 1,-8.3 1,-7.4 1,-6.4 1,-5.8 1,-4.3 1,-3.1 1,-2.8 1,-2 1,-0.8 1,0 1,0 1,0 1,0.1 1,2.7 1,4.7 1,7.9 1,12.1 1,11.4 1,11.5 1,6.7 1,3.1 1,2 1,0.6 1,0.2 1,0.2 1,0.1 1,0 1,0 1,-0.1 1,-0.6 1,-0.7 1,-0.5 1,-0.2 1,0 1,0 1,0 1,0 1,0.2 1,1.3 1,2 1,2.3 1,2.6 1,3.6 1,3.9 1,3.6 1,3.2 1,3.2 1,3 1,2.6 1,1.8 1,1.5 1,1.3 1,0.8 0.5,0.2 0.5,-0.4 1,-3 1,-4.4 1,-8.2 1,-10.1 1,-6 1,-4.2 0.9,-1.7 1.1,0.1 1,0.3 1,0.3 1,0.3 1,0.2 1,0.3 1,0.8 1,6.5 1,6.4 1,4.2 1.1,2.2 0.9,-0.2 1,-0.2 1.2,-0.2 0.8,1.1 1,3 1,3.4 1,4.6 1,4.5 1,2.3 1,1.4 1.2,0.7 0.8,-1.7 1,-4.8 1,-5.4 1,-6.2 1,-6.3 1,-3.3 1,-1.7 1,-1.2 0.8,-0.3 1.2,0.5 1,0.9 1,0.9 1,0.4 1,0 1,-0.1 1,-0.1 1,-0.2 1,-0.2 1,-0.7 1,-1.1 1,-1.4 1,-1.5 1,-1.3 1,-1.5 1,-1.7 1,-1.6 1,-1.4 1,-1.1 1,-0.7 1,-0.5 1,-0.5 1,-0.5 1,-0.6 1,-0.8 1,-0.9 1,-1.5 1,-6.2 1,-15.2 1,-22.8 1,-20.2 1,-16.6 1,-9.6 1,-6.6 1,-5.1 1,-3.7 1,-3.7 1,-4.6 1,-5.2 1,-6.3 1,-8.6 1,-13.5 1,-13.1 1,-12.9 1,-7.8 1,-2.6 1.1,-1.2 0.9,3.8 1,8.4 1,12.3 1,11.3 1,4.5 1,2.9 1,1.5 1,0.8 1,0.6 1,0.8 1,1.5 1,2.4 1,3 1,3.6 1,5.1 1,5.5 1,5.1 1,5.1 1,5 1,4.8 1,4.9 1,4.6 1,4 1,3.5 1,3.3 1,2.9 1,2.7 1,2.2 1,1.9 1,1.7 1,1.6 1,1.7 1,1.8 1,2 1,2.1 1,2.2 1,2 1,1.8 1,1.7 1,1.5 1,1.4 1,1.3 1,1.2 1,1.3 1,1.1 1,1 1,1 1,1.1 1,0.9 1,1 1,1.2 1,1.2 1,1.2 1,1.3 1,1.2 1,1.2 1,1.1 1,1 1,1 1,1 1,1 1,0.9 1,1.1 1,1.4 1,1.6 1,1.6 1,1.6 1,1.1 1,1.1 1,0.8 1,0.8 1,0.5 1,0.4 1,0.3 1,0.1 1,0 1,-0.3 1,-0.5 1,-0.8 1,-1 1,-1 1,-1 1,-0.8 1,-0.9 1,-0.8 1,-0.6 0.9,0.1 1.1,0.5 1,0.6 1,0.9 1,0.8 1,0.2 1,0.3 1,0.3 1,0.5 1,0.7 1,1.1 1,1.7 1,1.6 1,1.5 1,1.3 1,1.3 1,1.3 1,1.4 1,1.1 1,0.3 1,0.3 1,0.2 1,-0.1 1,0 1,-0.4 1,-0.8 1,-0.9 1,-1 1,-1.3 1,-1.8 1,-1.6 1,-1.2 1,-0.7 1,-0.6 1,-0.2 1,0.5 1,0.7 1,0.3 1,-0.1 1,-0.5 1,-1 1,-0.9 1,-0.5 1,-0.5 1,-0.4 1,-0.4 1,-0.6 1,-0.9 1,-1.3 1,-1.3 1,-0.8 1,-0.2 1,0.4 1,1.1 1,1.1 1,1.2 1,1.8 1,2.7 1,6.2 0.9,4.6 1.1,-7.2 0.2,-2.6" stroke="#ff8000" stroke-width="3"/><g class="o"><path d="M195,1476.5l1,0 1,0 1,-0.2 1,-0.1 1,-0.1 1,-0.2 1,-0.2 1,0 1,-0.1 1,0 1,0.1 1,0.2 1,0.2 1,0.1 1,0 1,-0.1 1,-0.1 1,-0.2 1,-0.1 1,-0.1 1,0 1,0 1,0.1 1,0 1,-0.1 1,-0.1 1,0 1,0 1,0.1 1,0.2 1,0.1 1,0.1 1,0 1,-0.1 1,-0.1 1,-0.1 1,-0.1 1,0.1 1,0 1,0.1 1,0.1 1,0.1 1,-0.1 1,0.2 1,0 1,0.2 1,0.2 1,0.5 1,0.2 1,0.2 1,0 1,-0.1 1,-0.3 1,-0.2 1,-0.2 1,0 1,-0.1 1,0 1,0 1,-0.1 1,-0.1 1,0 1,0 1,-0.2 1,-0.2 1,0 1,-0.2 1,-0.1 1,0 1,0.1 1,0 1,-0.1 1,0 1,0 1,-0.1 1,0.1 1,0.1 1,0 1,0.2 1,0.2 1,0 1,0 1,0 1,-0.3 1,-0.2 1,0 1,0 1,0 1,0.2 1,0 1,0.1 1,0 1,0.1 1,0.2 1,0.1 1,0.3 1,0.2 1,-0.1 1,-0.1 1,0.1 1,-0.1 1,-0.2 1,-0.1 1,-0.1 1,-0.2 1,0 1,0 1,0.3 1,0.2 1,0.2 1,0.2 1,0 1,-0.2 1,-0.1 1,0 1,0 1,0.1 1,0.3 1,0.2 1,0.3 1,0.3 1,0.2 1,0.2 1,0.1 1,0.1 1,0.1 1,0 1,-0.2 1,-0.2 1,-0.2 1,-0.1 1,0 1,0 1,0.1 1,0.1 1,-0.1 1,0 1,0 1,-0.1 1,-0.3 1,-0.1 1,-0.2 1,-0.3 1,0 1,0.1 1,0 1,-0.1 1,0 1,0 1,0 1,-0.1 1,0.1 1,0.1 1,-0.2 1,-0.2 1,-0.2 1,-0.1 1,0 1,0 1,0.2 1,0.4 1,0 1,-0.1 1,-0.1 1,-0.1 1,-0.4 1,0 1,0 1,0.2 1,0.2 1,0.3 1,0.1 1,0.3 1,0 1,-0.2 1,-0.2 1,0 1,-0.3 1,-0.1 1,0.1 1,0 1,0 1,0.1 1,0 1,0 1,-0.1 1,0 1,-0.2 1,-0.3 1,-0.2 1,-0.1 1,-0.1 1,-0.1 1,0.2 1,0.2 1,0.2 1,0 1,0.3 1,0.1 1,0.1 1,0.2 1,0.3 1,0.1 1,-0.1 1,-0.2 1,-0.2 1,-0.3 1,-0.1 1,-0.1 1,0.2 1,0.3 1,0.3 1,0 1,0 1,-0.1 1,-0.3 1,-0.3 1,-0.4 1,-0.1 1,-0.1 1,-0.2 1,0.1 1,0.2 1,0.1 1,0.1 1,0.2 1,0.1 1,0.1 1,0.2 1,0.1 1,0.1 1,0.2 1,0.1 1,0 1,-0.1 1,-0.1 1,-0.1 1,-0.1 1,0 1,-0.1 1,0 1,0 1,0.2 1,0.1 1,0.2 1,0.3 1,0.3 1,0.3 1,0.2 1,0.2 1,0 1,-0.1 1,-0.2 1,0 1,0 1,-0.2 1,0.1 1,0 1,-0.1 1,-0.1 1,0.2 1,0.2 1,0.1 1,0.1 1,0.2 1,0 1,-0.1 1,-0.2 1,0 1,-0.1 1,0.1 1,0.1 1,0 1,0 1,0 1,-0.1 1,-0.1 1,0 1,0.1 1,0.1 1,0 1,0 1,0 1,0 1,0 1,0 1,0.1 1,0.1 1,0 1,0.1 1,0.1 1,-0.1 1,0.1 1,0 1,0 1,0.1 1,0.2 1,0.2 1,0 1,0 1,-0.2 1,-0.4 1,-0.5 1,-0.3 1,-0.3 1,-0.2 1,0 1,0 1,0.2 1,0.2 1,0.3 1,0.6 1,0.3 1,0.1 1,0.1 1,-0.1 1,-0.3 1,-0.4 1,-0.3 1,-0.2 1,-0.1 1,0.1 1,0.3 1,1.3 1,1.5 1,0.8 1,0.1 1,0.2 1,0.2 1,0 1,0 1,-0.2 1,-0.4 1,-0.6 1,-0.5 1,-0.5 1,-0.4 1,-0.3 1,-0.2 1,0 1,-0.1 1,0.1 1,0 1,-0.1 1,0 1,-0.1 1,0 1,0 1,0.1 1,0.1 1,0 1,-0.1 1,-0.1 1,-0.1 1,-0.3 1,-0.3 1,-0.3 1,-0.3 1,-0.1 1,0.1 1,0.3 1,0.4 1,0.2 1,0.1 1,0 1,-0.2 1,-0.2 1,0 1,0 1,0.1 1,0.1 1,0 1,-0.2 1,-0.1 1,-0.1 1,0.1 1,0.1 1,0.3 1,0.2 1,0.1 1,0 1,0 1,-0.1 1,-0.2 1,-0.1 1,-0.1 1,-0.2 1,0 1,-0.1 1,-0.1 1,0 1,0.3 1,0 1,0.1 1,0.3 1,0 1,-0.1 1,0.1 1,-0.1 1,0 1,0 1,0 1,0 1,0 1,-0.1 1,0 1,0 1,0 1,0 1,-0.1 1,-0.1 1,-0.3 1,-0.3 1,-0.4 1,-0.2 1,-0.1 1,-0.1 1,-0.1 1,0.2 1,-0.1 1,-0.1 1,-0.2 1,0 1,-0.1 1,-0.2 1,0 1,0.1 1,0 1,0.1 1,0.1 1,0.2 1,0.2 1,0.1 1,0.1 1,0 1,0 1,0 1,0.2 1,0.2 1,0.3 1,0.2 1,0.3 1,0.1 1,0.1 1,0.2 1,0.4 1,0.2 1,0.3 1,0.3 1,0.3 1,0 1,0.1 1,0.2 1,0.1 1,0.2 1,0.1 1,0.1 1,0 1,0 1,-0.2 1,-0.2 1,-0.1 1,-0.2 1,0.1 1,0.2 1,0.1 1,0 1,-0.1 1,-0.1 1,-0.2 1,-0.2 1,0 1,0 1,0.1 1,0.1 1,0.1 1,0 1,-0.1 1,-0.2 1,-0.2 1,-0.2 1,0 1,0.2 1,0.1 1,0.1 1,-0.1 1,-0.2 1,-0.4 1,-0.3 1,-0.4 1,-0.4 1,-0.3 1,-0.1 1,-0.1 1,-0.2 1,0.3 1,0.2 1,0.1 1,0.1 1,0.1 1,0 1,0.1 1,0 1,0 1,0 1,0.2 1,-0.1 1,0.1 1,0.2 1,0.2 1,0 1,0.1 1,0 1,-0.1 1,-0.1 1,0.1 1,0.1 1,0 1,0.3 1,0.3 1,0.4 1,0.4 1,0.4 1,0.1 1,0 1,-0.2 1,-0.3 1,-0.3 1,-0.2 1,-0.3 1,-0.2 1,-0.2 1,-0.1 1,0 1,0 1,0 1,0.2 1,0 1,0.2 1,0.1 1,0 1,0 1,-0.1 1,-0.1 1,-0.1 1,-0.1 1,-0.3 1,-0.3 1,-0.3 1,-0.4 1,-0.4 1,-0.2 1,-0.2 1,-0.2 1,-0.1 1,0 1,0.1 1,0 1,-0.1 1,-0.1 1,-0.2 1,-0.2 1,-0.1 1,-0.1 1,0 1,0 1,-0.2 1,-0.4 1,-0.2 1,-0.2 1,-0.2 1,-0.1 1,0.2 1,0.1 1,0.3 1,0.3 1,0.3 1,0.2 1,0.4 1,0.2 1,0.2 1,0.1 1,0.2 1,0 1,0.1 1,0.1 1,0.2 1,0.2 1,0.3 1,0.3 1,0.1 1,0.1 1,-0.1 1,-0.2 1,-0.2 1,-0.1 1,0 1,0.3 1,0.2 1,0.2 1,0.4 1,0.2 1,0.1 1,0.3 1,0.3 1,0.2 1,0.1 1,0 1,-0.3 1,-0.2 1,-0.3 1,0 1,0.2 1,0.3 1,0.4 1,0.4 1,0.2 1,0.1 1,-0.2 1,-0.1 1,-0.2 1,-0.3 1,-0.1 1,0.2 1,0 1,0 1,0.3 1,0.2 1,-0.2 1,0 1,0.1 1,-0.3 1,-0.1 1,0.2 1,0.2 1,0.1 1,0 1,0 1,-0.3 1,-0.4 1,-0.2 1,0.1 1,0 1,0.3 1,0.3 1,0.1 1,0 1,-0.1 1,0 1,0 1,-0.1 1,0 1,0 1,-0.3 1,-0.3 1,-0.1 1,-0.2 1,0 1,0.2 1,0 1,0 1,0 1,-0.1 1,0 1,0.1 1,0.1 1,0.1 1,0 1,-0.2 1,-0.1 1,-0.1 1,-0.3 1,-0.1 1,0 1,-0.1 1,-0.1 1,-0.2 1,-0.1 1,-0.2 1,-0.1 1,0.1 1,0.3 1,0.1 1,0.3 1,0.2 1,0.1 1,-0.1 1,-0.1 1,-0.1 1,0 1,0.1 1,0.2 1,0 1,0.2 1,0 1,-0.1 1,-0.1 1,-0.1 1,-0.3 1,0 1,0 1,0 1,0.1 1,0.1 1,0.1 1,0.1 1,0.1 1,0 1,-0.1 1,0.1 1,0 1,0.1 1,0 1,0 1,0 1,-0.1 1,0 1,0 1,0 1,0.1 1,0 1,0 1,0.1 1,0 1,0 1,0 1,0.1 1,0.1 1,0.1 1,0.1 1,0.1 1,0 1,0 1,-0.1 1,0 1,0 1,0 1,0 1,0 1,0.1 1,0.1 1,0 1,0.2 1,0 1,0.1 1,0 1,0 1,-0.1 1,0 1,0 1,0 1,0 1,-0.1 1,0.1 1,0 1,0 1,-0.1 1,0 1,-0.1 1,-0.1 1,0 1,0 1,-0.1 1,-0.1 1,-0.2 1,-0.1 1,-0.2 1,-0.2 1,-0.1 1,0 1,0 1,0 1,0 1,0 1,0 1,0 1,0 1,-0.1 1,-0.1 1,0 1,-0.1 1,0 1,0 1,0 1,0 1,0 1,0 1,-0.1 1,0 1,0 1,0 1,0 1,0 1,0 1,0 1,0 1,0 1,0 1,0 1,-0.1 1,0 1,0 1,0 1,0 1,0 1,0 1,-0.1 1,0 1,0 1,0 1,0 1,0 1,-0.1 1,0 1,0 1,0 1,-0.1 1,0 1,0 1,0 1,-0.1 1,0 1,0 1,0 1,-0.1 1,0 1,0 1,-0.1 1,0 1,-0.1 1,0 1,-0.1 1,0 1,-0.1 1,-0.1 1,-0.1 1,-0.1 1,-0.2 1,-0.1 1,-0.2 1,-0.3 1,-0.2 1,-0.3 1,-0.3 1,-0.3 1,-0.5 1,-0.7 1,-0.7 1,-0.7 1,-0.8 1,-0.7 1,-0.5 1,-0.4 1,-0.4 1,-0.3 1,-0.3 1,-0.4 1,-0.4 1,-0.6 1,-0.7 1,-1.1 1,-1.5 1,-1.9 1,-2.7 1,-5.5 1,-7.1 1,-7.2 1,-8.2 1,-8.3 1,-7.5 1,-7.3 1,-6 1,-4 1,-3.4 1.3,-2.1 0.7,0.1 1,0.1 1,0.3 1,0.9 1,2.4 1,3.7 1,5.2 1,12.2 1,8.3 1,5.1 1,4.4 1,4.5 1,4.7 1,4.2 1,3.3 1,2.4 1,2.1 1,1.9 1,1.6 1,1.7 1,1.7 1,1.6 1,1.4 1,1.3 1,0.9 1,0.7 1,0.7 1,0.5 1,0.5 1,0.4 1,0.4 1,0.3 1,0.4 1,0.3 1,0.3 1,0.4 1,0.3 1,0.2 1,0.3 1,0.2 1,0.1 1,0.1 1,0.1 1,0.1 1,0.1 1,0.1 1,0 1,0.1 1,0 1,0 1,0 1,-0.1 1,-0.1 1,-0.1 1,-0.2 1,-0.2 1,-0.2 1,-0.3 1,-0.3 1,-0.4 1,-0.6 1,-0.9 1,-1 1,-1.1 1,-1.3 1,-1.7 1,-2.3 1,-2.8 1,-3.5 1,-5.1 1,-7.4 1,-8 1,-9 1,-9.8 1,-8.1 1,-6.8 1,-4.8 1,-1.1 1,-0.4 0.4,0 0.6,1.5 1,6.1 1,6.9 1,8.2 1,3.6 1,1.8 0.5,0.3 0.5,-0.7 1,-4.8 1,-8 1,-15.3 1,-15.6 1,-16.1 1,-9.7 1,-6 1,-2.8 1,-0.5 1.1,-0.1 0.9,3.4 1,7.4 1,8.3 1,9.3 1,7.4 1,6 1,6.4 1,7.9 1,7.4 1,5.6 1,4.9 1,3.4 1,2.1 1,1.6 1,1.3 1,1.2 1,1.2 1,1.3 1,1.2 1,1.2 1,1.2 1,1.3 1,1.3 1,1.7 1,1.9 1,1.9 1,1.4 1,0.9 1,0.7 1,0.6 1,0.6 1,0.5 1,0.7 1,0.9 1,1.1 1,1.1 1,1.2 1,1.2 1,1.1 1,1 1,1 1,1 1,0.9 1,1 1,0.8 1,0.8 1,0.7 1,0.7 1,0.7 1,0.6 1,0.6 1,0.4 1,0.4 1,0.3 1,0.3 1,0.2 1,0.2 1,0.1 1,0 1,-0.4 1,-1.1 1,-1.4 1,-1.4 1,-1.9 1,-2.4 1,-2.4 1,-1.8 1,-1.6 1,-1.4 1,-1 1,-0.2 1,0 1,0 1,0 1,0 1,0.6 1,1.2 1,1.3 1,1.3 1,1.6 1,1.8 1,1.8 1,1.6 1,1.6 1,1.6 1,1 1,0.1 1,-0.3 1,-0.4 1,-0.6 1,-0.7 1,-1.1 1,-0.6 1,0.2 1,0.9 1,1 1,1.2 1,1.5 1,1.5 1,1 1,0.7 1,0.6 1,0.5 1,0.4 1,0.1 1,-0.1 1,-0.3 1,-0.4 1,-0.5 1,-1.1 1,-2.3 1,-2.2 1,-1.5 1,-1.2 1.2,-0.6 0.8,0.5 1,1.8 1,1.9 1,1.8 1,1.9 1,1.7 1,0.9 1,0.7 1,0.5 1,0.5 1,0.3 1,0 1,0 1,0 1,0 1,0 1,0 1,0 1,0 1,-0.1 1,-0.4 1,-0.8 1,-0.9 1,-1.1 1,-1.3 1,-1.5 1,-2.2 1,-2.7 1,-3 1,-3.4 1,-4.4 1,-5 1,-4.9 1,-5.5 1,-5.6 1,-4.3 1,-2.6 1,-2 1.1,-1 0.9,0.2 1,0.4 1,0.6 1,1.4 1,2.7 1,2.8 1,2.1 1,2 1,1.8 1,1.1 1,0.3 1,0.2 1,0.1 1,0.1 1,0 1,0 1,-0.1 1,-0.3 1,-0.4 1,-0.5 1,-1.6 1,-2.5 1,-3.1 1,-3.9 1,-5.4 1,-4.3 1,-1.9 1,-1.2 0.5,-0.2 0.5,0.2 1,1.9 1,2.6 1,3.6 1,4.6 1,4.5 1,3.9 1,3.6 1,3.5 1,3.1 1,2.7 1,2.4 1,2.3 1,1.9 1,1.4 1,1 1,1 1,0.8 1,0.6 1,0.3 0.5,0 0.5,0 1,-0.6 1,-1 1,-1.2 1,-1.5 1,-1.6 1,-2.4 1,-3.1 1,-3.5 1,-3.9 1,-5 1,-6.1 1,-6.6 1,-6.6 1,-6.4 1,-6.8 1,-6.8 1,-6.7 1,-6.4 1,-6.3 1,-6.1 1,-5.9 1,-5.6 1,-5.5 1,-5.4 1,-5.1 1,-4.4 1,-3.8 1,-3.6 1,-3.3 1,-2.6 1,-1.8 1,-1.4 1,-1.3 1,-0.9 1,-0.5 1,0.1 1,0.3 1,0.5 1,0.6 1,1.2 1,1.9 1,2.4 1,3.1 1,4.1 1,4.7 1,4.9 1,4.9 1,5.3 1,5.5 1,5.7 1,6.2 1,6.5 1,6.3 1,5.4 1,5 1,4.5 1,3.5 1,2.2 1,1.7 1,1.2 1,0.6 1,0.4 1,0.3 1,0.5 1,0.8 1,2.4 1,3.4 1,3.4 1,3.8 1,4.3 1,4.2 1,3.9 1,3.7 1,3.7 1,3.4 1,2.9 1,2.3 1,2.2 1,1.7 1,1.1 1,0.4 1,0.4 1,0.1 0.7,0.1 1.3,-1 1,-1.8 1,-2.4 1,-3.9 1,-6.9 1,-8.2 1,-8.1 1,-9.2 1,-9.3 1,-8.9 1,-9 1,-7.3 1,-4.7 1,-3.7 0.9,-1.4 1.1,0.9 1,2.1 1,4.1 1,7.6 1,8.4 1,10.4 1,7 1,2.4 1,1 1,-3.6 1,-8 1,-12.5 1,-16.8 1,-14.8 1,-14 1,-12.3 1,-10.7 1,-8.5 1,-3.6 1,-2.1 0.7,-0.6 1.3,1.2 1,2.2 1,4.4 1,9.7 1,10 1,10.2 1,10.2 1,9.5 1,8.8 1,8.4 1,7.7 1,7 1,6.8 1,6 1,4.9 1,4.3 1,3.9 1,3.3 1,2.4 1,1.6 1,1.4 1,1.2 1,0.7 0.8,0.2 1.2,-0.4 1,-0.8 1,-1 1,-1.6 1,-3.8 1,-5.5 1,-6.7 1,-9.7 1,-11.2 1,-11.4 1,-12.8 1,-12 1,-10 1,-9.2 1,-6.7 1,-3.6 1,-2.5 0.9,-1 1.1,1 1,2 1,3 1,5.9 1,7.3 1,7.4 1,8.3 1,8.1 1,7.7 1,7.4 1,6.1 1,5.2 1,4.4 1,1.8 1,-0.2 1,-0.5 1,-1.7 1,-4.5 1,-4.4 1,-4 1,-2.9 1,-0.3 1,0 1,0 1,0 1,0 1,0.2 1,0.2 1,0.5 1,0.5 1,2.8 1,6 1,5.9 1,5 1,5.1 1,4.3 1,3 1,2.4 1,2 1,1.7 1,1.6 1,1.6 1,1.6 1,1.6 1,1.4 1,1.4 1,1.2 1,1.1 1,0.9 1,1 1,0.8 1,0.8 1,0.8 1,0.7 1,0.7 1,0.7 1,0.6 1,0.6 1,0.5 1,0.5 1,0.5 1,0.5 1,0.5 1,0.5 1,0.6 1,0.6 1,0.8 1,0.8 1,0.7 1,0.8 1,0.7 1,0.5 1,0.4 1,0.3 1,0.2 1,0.2 0.4,0 0.6,-0.5 1,-2.5 1,-3.9 1,-7 1,-12.7 1,-12.4 1,-13.1 1,-8.9 1,-4.1 1.3,-2.6 0.7,0.9 1,3.2 1,4.1 1,5.7 1,6.7 1,6.2 1,6.5 1,6.2 1,4.9 1,3.5 1,3.1 1,2.5 1,2.2 1,1.8 1,1.5 1,1.4 1,1.3 1,1.1 1,1 1,0.8 1,0.7 1,0.7 1,0.6 1,0.6 1,0.5 1,0.5 1,0.4 1,0.3 1,0.2 1,0.2 1,0.2 1,0.1 1,0.1 1,0.1 1,0.1 1,0.1 1,0 1,0 1,-0.1 1,-0.1 1,-0.3 1,-0.3 1,-0.3 1,-0.3 1,-0.2 1,-0.1 1,0 1,0.2 1,0.3 1,0.4 1,0.4 1,0.5 1,0.5 1,0.3 1,0.3 1,0 1,0.1 1,0.1 1,0 1,0 1,0.1 1,0 1,0 1,0.1 1,0 1,0.1 1,0.1 1,0.1 1,0.3 1,0.3 1,0.4 1,0.5 1,0.5 1,0.6 1,0.6 1,0.9 1,0.9 1,1 1,0.7 1,0.8 1,0.6 1,0.6 1,0.3 1,-0.2 1,-0.7 1,-0.8 1,-0.6 1,-0.1 1,0 1,0 1,0 1,0.3 1,0.7 1,1 1,1.1 1,1 1,0.7 1,0.8 1,0.7 1,0.7 1,0.6 1,0.5 1,0.5 1,0.3 1,0.2 1,0.3 1,0.2 1,0.2 1,0.2 1,0.1 1,0.1 1,0.1 1,0 1,-0.1 1,-0.2 1,-0.3 1,-0.3 1,-0.4 1,-0.6 1,-1.2 1,-1.7 1,-2.2 1,-2.5 1,-3.8 1,-5.2 1,-6.1 1,-7.8 1,-10.3 1,-11 1,-11.2 1,-12.1 1,-8.8 1,-4.8 1,-3.6 1.1,-1.6 0.9,1.8 1,4.3 1,5.6 1,8.6 1,7.9 1,4.6 1,3.7 1.3,2.2 0.7,-0.4 1,-1.5 1,-2.1 1,-3.4 1,-5.3 1,-5.8 1,-5.9 1,-6.3 1,-4.4 1,-2.3 1,-1.5 0.4,-0.1 0.6,0.7 1,3.2 1,4.1 1,6.1 1,6 1,3 1,2.1 0.7,0.6 1.3,-2.2 1,-3.7 1,-5.3 1,-8.9 1,-9.8 1,-8.8 1,-8.9 1,-8.1 1,-7.3 1,-6.2 1,-2.4 1,-1.3 0.9,-0.3 1.1,2.7 1,4.9 1,5.6 1,7.4 1,7.3 1,6 1,5.4 1,4.9 1,4.5 1,4 1,3.7 1,3.4 1,3 1,2.4 1,2 1,1.8 1,1.7 1,1.5 1,1.5 1,1.6 1,1.7 1,1.8 1,1.9 1,1.9 1,2.1 1,3.2 1,3.6 1.1,1.9 0.9,-0.3 1,-0.9 1,-1.1 1,-1.6 1,-1.8 0.6,-0.5 0.4,0.1 1,1.6 1,2.5 1,2.7 1,3.5 1,4 1,3.5 1,2.7 1,2.3 1,2.1 1,1.8 1,1.5 1,1.4 1,1.4 1,1.2 1,1 1,0.6 0.6,0.1 0.4,0 1,-0.2 1,-0.3 1,-0.4 1,-0.5 1,-0.5 1,-0.9 1,-1.3 1,-1.2 1,-0.8 1,-0.1 1,0 1,0 1,0 1,0.1 1,0.7 1,1.1 1,1.3 1,1.3 1,0.9 1,0.9 1,0.9 1,0.7 1,0.4 0.4,0 0.6,-0.2 1,-1 1,-1.8 1,-2.2 1,-2.5 1,-3.6 1,-4.3 1,-3.9 1,-3.5 1,-3.5 1,-3.3 1,-2.7 1,-1.8 1,-1.4 1,-1.2 1,-0.8 0.8,-0.3 1.2,0.4 1,0.6 1,1 1,1.4 1,3.1 1,3.4 1,1.9 1,1.3 1,0.9 0.7,0.3 1.3,-1.7 1,-2.8 1,-3.6 1,-6.6 1,-7.8 1,-7.4 1,-7.2 1,-2.8 1,-0.8 1,-0.4 0.5,0 0.5,0.9 1,5.4 1,7.3 1,11.6 1,9.7 1,4.1 1,2.8 0.6,0.5 0.4,-0.4 1,-3.1 1,-4.5 1,-5.9 1,-7.8 1,-7.9 1,-8.3 1,-8.3 1,-7.4 1,-6.4 1,-5.8 1,-4.3 1,-3.1 1,-2.8 1,-2 1,-0.8 1,0 1,0 1,0 1,0.1 1,2.7 1,4.7 1,7.9 1,12.1 1,11.4 1,11.5 1,6.7 1,3.1 1,2 1,0.6 1,0.2 1,0.2 1,0.1 1,0 1,0 1,-0.1 1,-0.6 1,-0.7 1,-0.5 1,-0.2 1,0 1,0 1,0 1,0 1,0.2 1,1.3 1,2 1,2.3 1,2.6 1,3.6 1,3.9 1,3.6 1,3.2 1,3.2 1,3 1,2.6 1,1.8 1,1.5 1,1.3 1,0.8 0.5,0.2 0.5,-0.4 1,-3 1,-4.4 1,-8.2 1,-10.1 1,-6 1,-4.2 0.9,-1.7 1.1,0.1 1,0.3 1,0.3 1,0.3 1,0.2 1,0.3 1,0.8 1,6.5 1,6.4 1,4.2 1.1,2.2 0.9,-0.2 1,-0.2 1.2,-0.2 0.8,1.1 1,3 1,3.4 1,4.6 1,4.5 1,2.3 1,1.4 1.2,0.7 0.8,-1.7 1,-4.8 1,-5.4 1,-6.2 1,-6.3 1,-3.3 1,-1.7 1,-1.2 0.8,-0.3 1.2,0.5 1,0.9 1,0.9 1,0.4 1,0 1,-0.1 1,-0.1 1,-0.2 1,-0.2 1,-0.7 1,-1.1 1,-1.4 1,-1.5 1,-1.3 1,-1.5 1,-1.7 1,-1.6 1,-1.4 1,-1.1 1,-0.7 1,-0.5 1,-0.5 1,-0.5 1,-0.6 1,-0.8 1,-0.9 1,-1.5 1,-6.2 1,-15.2 1,-22.8 1,-20.2 1,-16.6 1,-9.6 1,-6.6 1,-5.1 1,-3.7 1,-3.7 1,-4.6 1,-5.2 1,-6.3 1,-8.6 1,-13.5 1,-13.1 1,-12.9 1,-7.8 1,-2.6 1.1,-1.2 0.9,3.8 1,8.4 1,12.3 1,11.3 1,4.5 1,2.9 1,1.5 1,0.8 1,0.6 1,0.8 1,1.5 1,2.4 1,3 1,3.6 1,5.1 1,5.5 1,5.1 1,5.1 1,5 1,4.8 1,4.9 1,4.6 1,4 1,3.5 1,3.3 1,2.9 1,2.7 1,2.2 1,1.9 1,1.7 1,1.6 1,1.7 1,1.8 1,2 1,2.1 1,2.2 1,2 1,1.8 1,1.7 1,1.5 1,1.4 1,1.3 1,1.2 1,1.3 1,1.1 1,1 1,1 1,1.1 1,0.9 1,1 1,1.2 1,1.2 1,1.2 1,1.3 1,1.2 1,1.2 1,1.1 1,1 1,1 1,1 1,1 1,0.9 1,1.1 1,1.4 1,1.6 1,1.6 1,1.6 1,1.1 1,1.1 1,0.8 1,0.8 1,0.5 1,0.4 1,0.3 1,0.1 1,0 1,-0.3 1,-0.5 1,-0.8 1,-1 1,-1 1,-1 1,-0.8 1,-0.9 1,-0.8 1,-0.6 0.9,0.1 1.1,0.5 1,0.6 1,0.9 1,0.8 1,0.2 1,0.3 1,0.3 1,0.5 1,0.7 1,1.1 1,1.7 1,1.6 1,1.5 1,1.3 1,1.3 1,1.3 1,1.4 1,1.1 1,0.3 1,0.3 1,0.2 1,-0.1 1,0 1,-0.4 1,-0.8 1,-0.9 1,-1 1,-1.3 1,-1.8 1,-1.6 1,-1.2 1,-0.7 1,-0.6 1,-0.2 1,0.5 1,0.7 1,0.3 1,-0.1 1,-0.5 1,-1 1,-0.9 1,-0.5 1,-0.5 1,-0.4 1,-0.4 1,-0.6 1,-0.9 1,-1.3 1,-1.3 1,-0.8 1,-0.2 1,0.4 1,1.1 1,1.1 1,1.2 1,1.8 1,2.7 1,6.2 0.9,4.6 1.1,-7.2 0.2,-2.6"/></g>
<path d="M195,2482l1,-0.1 1,-0.1 1,0 1,-0.2 1,0 1,0 1,0 1,-0.1 1,0 1,0 1,0.1 1,0 1,0 1,-0.1 1,-0.2 1,-0.3 1,-0.1 1,0.2 1,0.2 1,0.3 1,0.3 1,0.3 1,0 1,0.1 1,0 1,-0.2 1,-0.2 1,-0.3 1,-0.2 1,-0.2 1,-0.1 1,-0.1 1,0.1 1,0.1 1,0 1,0.2 1,0.2 1,0.1 1,0.1 1,0.1 1,0.1 1,-0.1 1,-0.1 1,0.1 1,-0.1 1,-0.1 1,-0.1 1,0 1,-0.1 1,-0.1 1,-0.1 1,0 1,0 1,-0.1 1,0.1 1,0.1 1,0 1,0.1 1,0.2 1,-0.1 1,0.1 1,0.1 1,0 1,0 1,0.1 1,-0.1 1,-0.1 1,-0.1 1,-0.1 1,-0.1 1,-0.1 1,0.1 1,0 1,-0.1 1,0.1 1,0.2 1,0.1 1,0.1 1,0.2 1,0.1 1,0 1,0 1,-0.1 1,-0.2 1,-0.2 1,-0.2 1,-0.2 1,0 1,0 1,0 1,0.2 1,0.3 1,0.2 1,0.1 1,0.1 1,-0.1 1,-0.1 1,-0.2 1,-0.1 1,0.1 1,-0.1 1,0.1 1,0.1 1,0 1,0 1,-0.1 1,0 1,0 1,0 1,-0.2 1,0 1,0.1 1,-0.2 1,0 1,0.2 1,0 1,-0.2 1,0 1,0.1 1,-0.2 1,0 1,0.1 1,0.1 1,-0.1 1,0 1,-0.1 1,-0.1 1,-0.2 1,0 1,0.1 1,0 1,0.2 1,0.2 1,0.1 1,0.1 1,0 1,-0.1 1,0 1,-0.1 1,0 1,-0.2 1,-0.1 1,-0.1 1,0 1,0 1,0 1,0.1 1,-0.1 1,0 1,-0.1 1,0.1 1,0.2 1,0.1 1,0.2 1,0.3 1,0.1 1,0 1,0.1 1,-0.2 1,-0.2 1,-0.2 1,-0.2 1,-0.1 1,0 1,-0.1 1,-0.1 1,0.1 1,0.1 1,0.1 1,0.2 1,0.3 1,0.1 1,0 1,0 1,0 1,-0.3 1,-0.4 1,-0.2 1,0 1,-0.1 1,0 1,0.2 1,0 1,-0.1 1,-0.2 1,0.1 1,0 1,0.2 1,0.3 1,0.2 1,0.1 1,0.1 1,0 1,-0.3 1,-0.1 1,-0.2 1,-0.2 1,0 1,0.1 1,0 1,-0.1 1,0 1,-0.1 1,-0.1 1,-0.1 1,0 1,-0.1 1,0.1 1,0.1 1,0.1 1,0.1 1,0.1 1,0 1,-0.1 1,-0.1 1,-0.1 1,-0.2 1,0 1,0.1 1,0 1,0.1 1,0.1 1,0 1,-0.1 1,0 1,0.1 1,-0.1 1,0 1,0.1 1,0 1,-0.1 1,0.1 1,0.1 1,0 1,0 1,0.2 1,-0.1 1,-0.1 1,0.1 1,0.1 1,0 1,0.1 1,0 1,-0.1 1,0 1,0 1,0 1,0 1,0 1,0 1,-0.1 1,-0.1 1,-0.1 1,-0.2 1,0 1,0.1 1,0.1 1,0.1 1,0.2 1,0 1,0 1,0.1 1,0 1,0 1,0.3 1,-0.1 1,0 1,0 1,0 1,-0.2 1,0.2 1,0.1 1,-0.1 1,0 1,0.1 1,-0.2 1,0 1,-0.2 1,0 1,-0.1 1,0.2 1,0.1 1,0.3 1,0.1 1,0.1 1,0.1 1,0 1,0 1,0 1,0 1,-0.2 1,-0.2 1,-0.1 1,-0.1 1,0.1 1,0.1 1,0.2 1,0.2 1,0.2 1,0 1,0 1,-0.2 1,-0.1 1,-0.3 1,-0.2 1,-0.2 1,-0.1 1,0 1,0.1 1,0 1,0.2 1,-0.1 1,0 1,-0.2 1,0 1,-0.1 1,0 1,0.2 1,0.2 1,0.3 1,0.2 1,0.1 1,0 1,0.1 1,0.3 1,0.4 1,0.3 1,0.2 1,-0.2 1,-0.3 1,-0.4 1,-0.3 1,-0.1 1,-0.2 1,0.1 1,0.1 1,0.1 1,0 1,-0.1 1,0 1,0 1,0 1,0 1,0.2 1,0.1 1,0 1,-0.1 1,0 1,-0.1 1,0 1,0 1,0 1,0.1 1,0 1,-0.1 1,0.1 1,0 1,0.1 1,-0.1 1,0 1,0.1 1,-0.1 1,-0.4 1,0 1,-0.1 1,-0.2 1,0 1,0.3 1,0.1 1,0.1 1,0.2 1,0.1 1,0 1,-0.2 1,0 1,-0.1 1,-0.1 1,0 1,0.1 1,0.1 1,-0.1 1,0 1,-0.1 1,-0.2 1,-0.2 1,-0.1 1,-0.1 1,0 1,0 1,0 1,0.1 1,0 1,0 1,0.2 1,0.2 1,0.1 1,0.1 1,0 1,-0.1 1,-0.2 1,-0.3 1,-0.3 1,0 1,0 1,0.1 1,0.2 1,0.4 1,0.1 1,0 1,0 1,0 1,0 1,-0.1 1,0.1 1,0 1,0 1,0 1,0.1 1,0 1,0.1 1,0.1 1,0.1 1,-0.1 1,0.1 1,-0.2 1,-0.2 1,-0.3 1,-0.1 1,-0.2 1,-0.2 1,0.1 1,0.2 1,0.3 1,0.3 1,0.2 1,0.1 1,0 1,0.1 1,0 1,0.1 1,0 1,-0.2 1,-0.2 1,-0.3 1,-0.1 1,-0.1 1,0.2 1,0.3 1,0.3 1,0.2 1,0.3 1,0 1,-0.2 1,-0.1 1,-0.2 1,-0.3 1,-0.2 1,-0.1 1,-0.1 1,-0.1 1,0 1,-0.1 1,-0.1 1,0 1,0 1,0.2 1,0.1 1,0.1 1,0.1 1,0 1,0 1,0.1 1,0.2 1,0.3 1,0.1 1,0.2 1,-0.1 1,-0.2 1,-0.3 1,-0.3 1,-0.2 1,-0.1 1,0.1 1,0.1 1,0 1,-0.1 1,-0.1 1,-0.2 1,-0.1 1,0 1,0 1,0 1,0.1 1,-0.1 1,-0.1 1,0.1 1,0.2 1,0 1,0.2 1,0.1 1,-0.1 1,-0.2 1,0 1,0 1,-0.1 1,0.1 1,0.2 1,0.1 1,0.1 1,0 1,0 1,0.1 1,0.1 1,0 1,0.2 1,0.1 1,-0.4 1,-0.2 1,-0.3 1,-0.5 1,-0.2 1,0 1,0.1 1,0.2 1,0.4 1,0.3 1,0.3 1,0.3 1,0.2 1,0 1,0 1,-0.1 1,-0.1 1,-0.2 1,-0.1 1,0 1,0 1,-0.1 1,-0.1 1,-0.1 1,-0.1 1,-0.3 1,0 1,0.2 1,0.1 1,0.3 1,0.3 1,0 1,0 1,0 1,0 1,-0.1 1,0.1 1,0.1 1,0 1,0 1,-0.1 1,-0.1 1,0.1 1,-0.1 1,0.1 1,0.2 1,0 1,-0.2 1,-0.2 1,-0.4 1,-0.4 1,-0.1 1,0 1,0.3 1,0.3 1,0.3 1,0.1 1,0.1 1,-0.3 1,-0.3 1,-0.2 1,-0.3 1,-0.4 1,0 1,0 1,-0.2 1,0.2 1,0.1 1,0.1 1,0.3 1,0.2 1,0.2 1,0.2 1,0.1 1,0.1 1,0.2 1,0.3 1,0.2 1,0.1 1,0 1,-0.1 1,-0.3 1,-0.3 1,-0.1 1,-0.1 1,0 1,-0.1 1,0 1,0.1 1,0.2 1,0.1 1,0.3 1,0.2 1,0.2 1,0 1,-0.1 1,-0.2 1,-0.3 1,-0.1 1,0.1 1,0.1 1,0.2 1,0.4 1,0 1,-0.3 1,-0.2 1,-0.2 1,-0.4 1,-0.1 1,0 1,0 1,0 1,0.2 1,0.1 1,0.2 1,0.1 1,-0.1 1,-0.2 1,-0.3 1,-0.4 1,-0.3 1,-0.1 1,0 1,0.2 1,0.2 1,0.1 1,0 1,-0.1 1,-0.2 1,0 1,-0.1 1,0 1,0 1,0 1,-0.2 1,0 1,-0.1 1,0.1 1,0.2 1,0.3 1,0.3 1,0.3 1,0 1,0 1,-0.2 1,-0.3 1,-0.1 1,0 1,0 1,0.2 1,0.1 1,0 1,0.1 1,-0.1 1,0 1,0 1,0.1 1,0 1,0.2 1,0 1,-0.1 1,-0.3 1,-0.1 1,-0.2 1,-0.1 1,0.1 1,0.3 1,0.1 1,0.1 1,-0.1 1,-0.2 1,-0.3 1,-0.2 1,-0.3 1,-0.1 1,-0.1 1,-0.1 1,0 1,0.1 1,0.1 1,0.2 1,0.2 1,0.2 1,0.2 1,0.3 1,0.1 1,0.2 1,0 1,-0.1 1,-0.2 1,-0.1 1,-0.1 1,0.1 1,0.2 1,0.1 1,0.1 1,0 1,-0.1 1,-0.2 1,-0.2 1,-0.1 1,0.1 1,0.1 1,0.1 1,0.2 1,0 1,-0.1 1,-0.1 1,-0.1 1,-0.1 1,0 1,0 1,-0.1 1,0 1,-0.1 1,0.1 1,0 1,0.1 1,0.1 1,0.1 1,0.1 1,0 1,-0.1 1,-0.1 1,0 1,0 1,0.1 1,0 1,0 1,0 1,0 1,-0.1 1,0 1,0 1,0 1,0 1,0 1,0.1 1,0 1,0 1,0.1 1,0 1,0 1,0 1,0 1,0 1,-0.1 1,0 1,-0.1 1,0 1,-0.1 1,0 1,0 1,0.1 1,0.1 1,0 1,0.1 1,0 1,0 1,0 1,0 1,0 1,0.1 1,0 1,0 1,0 1,0 1,0 1,0 1,0 1,0 1,0 1,0 1,0 1,-0.1 1,0 1,0 1,0 1,0 1,0.1 1,0 1,0 1,0 1,0 1,0 1,0 1,-0.1 1,0 1,0 1,0 1,0 1,0 1,0 1,0 1,-0.1 1,0 1,0 1,0 1,0 1,0 1,-0.1 1,0 1,0 1,0 1,0 1,-0.1 1,0 1,0 1,0 1,0 1,-0.1 1,0 1,0 1,0 1,-0.1 1,0 1,0 1,-0.1 1,0 1,0 1,-0.1 1,0 1,0 1,-0.1 1,0 1,0 1,-0.1 1,0 1,-0.1 1,0 1,-0.1 1,0 1,-0.1 1,-0.1 1,-0.1 1,-0.1 1,-0.1 1,-0.1 1,-0.1 1,-0.2 1,-0.2 1,-0.4 1,-0.4 1,-0.5 1,-0.4 1,-0.6 1,-0.5 1,-0.5 1,-0.5 1,-0.6 1,-0.7 1,-0.7 1,-0.6 1,-0.7 1,-0.7 1,-0.8 1,-1 1,-0.8 1,-0.7 0.9,-0.2 1.1,0.3 1,0.6 1,0.9 1,0.8 1,0.8 1,0.8 1,0.7 1,0.8 1,0.8 1,0.8 1,0.7 1,0.6 1,0.5 1,0.4 1,0.5 1,0.4 1,0.5 1,0.3 1,0.4 1,0.3 1,0.2 1,0.2 1,0.1 1,0 1,0.1 1,0.1 1,0.1 1,0 1,0.1 1,0.1 1,0 1,0.1 1,0 1,0 1,0.1 1,0 1,0 1,0.1 1,0 1,0 1,0 1,0 1,0 1,0 1,0 1,0 1,0 1,-0.1 1,0 1,-0.1 1,0 1,-0.1 1,-0.1 1,0 1,-0.1 1,-0.1 1,-0.1 1,-0.1 1,-0.2 1,-0.1 1,-0.1 1,-0.2 1,-0.3 1,-0.6 1,-0.8 1,-0.9 1,-0.6 1,-0.4 1,0.2 1,0.5 1,0.6 1,0.4 1,0.1 1,0 1,-0.1 1,-0.1 1,-0.2 1,-0.2 1,-0.1 1,-0.2 1,-0.2 1,-0.2 1,-0.3 1,-0.3 1,-0.3 1,-0.4 1,-0.4 1,-0.4 1,-0.4 1,-0.5 1,-0.4 1,-0.4 1,-0.5 1,-0.4 1,-0.4 1,-0.5 1,-0.4 1,-0.5 1,-0.4 1,-0.5 1,-0.5 1,-0.4 1,-0.5 1,-0.4 1,-0.5 1,-0.3 1,-0.3 1,-0.3 1,-0.4 1,-0.4 1,-0.7 1,-1.2 1,-2.3 1,-3 1,-5.3 1,-6.3 1,-2 1,-1 1,-0.6 1,-0.5 1,-0.2 1,-0.1 1,-0.1 1,-0.1 1,0 1,-0.1 1,-0.1 1,0 1,0 1,0 1,0 1,0 1,0.1 1,0.1 1,0.1 1,0.1 1,0.1 1,0 1,0 1,-0.2 1,-0.4 1,-0.4 1,-0.5 1,-0.5 1,-0.4 1,-0.3 1,-0.2 1,-0.2 1,-0.1 1,-0.2 1,-0.1 1,0.1 1,0.3 1,0.5 1,0.7 1,0.8 1,1 1,1.5 1,1.6 1,1.7 1,1.6 1,1.8 1,1.9 1,1.9 1,1.7 1,1.6 1,1.4 1,1.4 1,1.4 1,1.2 1,1.2 1,1.2 1,1 1,1 1,0.8 1,0.8 1,0.9 1,0.8 1,0.7 1,0.7 1,0.6 1,0.5 1,0.2 0.8,0.1 1.2,0 1,-0.2 1,-0.2 1,-0.4 1,-3.7 1,-7.8 1,-1.8 1,0 1,5.2 1,6.4 1,1.6 1,1.1 1,0.8 1,0.4 0.5,0.1 0.5,-0.1 1,-0.1 1,-0.4 1,-0.4 1,-0.6 1,-0.6 1,-0.7 1,-1.2 1,-1.4 1,-1.7 1,-1.7 1,-1.6 1,-1.4 1,-1.1 1,-1.1 1,-1.1 1,-1 1,-0.9 1,-0.7 1,-0.5 1,-0.2 1,0 1,0 1,0 1,0 1,0.2 1,0.9 1,1.2 1,1.3 1,1 1,1 1,1 1,0.9 1,0.8 1,0.4 1,0.1 1,0 1,0 1,0 1,0 1,0 1,0 1,0 1,0.2 1,0.4 1,0.6 1,0.6 1,0.7 1,0.6 1,0.6 1,0.7 1,0.6 1.2,0.3 0.8,-0.4 1,-1.3 1,-1.9 1,-2.7 1,-5.8 1,-8.2 1,-9.8 1,-14.8 1,-7.9 1,0 1,0.8 1,10.8 1,11.8 1,10.3 1,8.6 1,4.6 1,3.3 1,2.4 1,1.9 1,1.5 1,1.3 1,1.2 1,0.9 1,0.8 1,0.5 1,0.3 1,0.3 1,0.3 1,0.3 1,0.2 1,0.2 1,0.1 1,0.2 1,0.1 1,0 1,0.1 1,0 1,0 1,0.1 1,0 1,0 1,0 1,0 1,0.1 1,0 1,0 1,0 1,0 1,0 1,0 1,0 1,0 1,0 1,0 1,0 1,0 1,-0.1 1,0 1,-0.1 1,-0.1 1,-0.1 1,-0.1 1,-0.1 1,-0.2 1,-0.1 1,-0.3 1,-0.5 1,-0.5 1,-0.7 1,-0.7 1,-0.8 1,-0.7 1,-0.7 1,-0.7 1,-0.8 1,-0.9 1,-0.9 1,-0.9 1,-0.9 1,-0.7 1,-0.6 1,-0.3 1,-0.2 1,-0.1 1,-0.2 1,-0.1 1,0 1,-0.1 1,0 1,-0.1 1,0 1,-0.1 1,-0.1 1,-0.1 1,-0.1 1,-0.1 1,-0.2 1,-0.5 1,-0.8 1,-1.2 1,-1.5 1,-1.5 1,-1.5 1,-1.4 1,-1.2 1,-1.2 1,-1.3 1,-1.2 1,-1.2 1,-1.2 1,-1.2 1,-1.1 1,-1.1 1,-1.2 1,-1.1 1,-1 1,-0.8 1,-0.5 1,-0.3 1,-0.3 1,-0.2 1,-0.2 1,-0.2 1,-0.3 1,-0.4 1,-0.4 1,-0.5 1,-0.7 1,-1 1,-2.4 1,-5.3 1,-7 1,-10.8 1,-3.7 1,-0.3 0.4,-0.1 0.6,2.2 1,9.1 1,8.3 1,8.4 1,6 1,2.7 1,1.8 1,1.5 1,1.9 1,2.2 1,2.5 1,2.5 1,2.4 1,2.1 1,1.6 1,1.5 1,1.5 1,1.3 1,1.1 1,0.6 0.6,0.1 0.4,0 1,-0.2 1,-0.5 1,-0.6 1,-0.8 1,-1.5 1,-3 1,-4.6 1,-11.7 1,-47.1 1,-81.7 1.3,-46.1 0.7,12.9 1,71.7 1,45.9 1,19.6 1,9.6 1,5.9 1,3.8 1,2.8 1,2.4 1,2.2 1,2.4 1,2.4 1,2.4 1,2.3 1,2.2 1,2.3 1,2.4 1,2.1 1,1.5 1,0.9 1,0.6 1,0.5 1,0.5 1,0.4 1,0.3 1,0.3 1,0.4 1,0.3 1,0.3 1,0.3 1,0.3 1,0.3 1,0.3 1,0.3 1,0.3 1,0.2 1,0.2 1,0.2 1,0.1 1,0.2 1,0.1 1,0.1 1,0 1,0.1 1,0.1 1,0.1 1,0 1,0 1,-0.1 1,-1.1 1,-1.7 1,-1.3 0.5,-0.2 0.5,0.2 1,0.9 1,1.1 1,0.8 1,0.4 1,0.3 1,0.3 1,0.2 1,0.2 1,0 1,-0.1 1,-0.1 1,-0.3 1,-0.4 1,-0.4 1,-0.6 1,-0.5 1,-0.7 1,-0.7 1,-1.2 1,-1.6 1,-1.8 1,-1.8 1,-2 1,-2.4 1,-2.4 1,-2.3 1,-1.7 1,-1.2 1,-1.1 1,-1 1,-0.8 1,-0.5 0.9,-0.2 1.1,0.5 1,1.1 1,1.3 1,1.4 1,1.9 1,2.2 1,2.2 1,2 1,1.6 1,1.6 1,1.4 1,1 1,0.6 1,0.5 1,0.4 1,0.3 1,0.3 1,0.3 1,0.3 1,0.2 1,0.3 1,0.3 1,0.3 1,0.3 1,0.3 1,0.3 1,0.2 1,0.2 1,0.1 1,0.1 1,0 1,0 1,0 1,0 1,0 1,0 1,0 1,0 1,0 1,-0.1 1,-0.3 1,-0.4 1,-0.5 1,-0.6 1,-0.7 1,-0.8 1,-1.1 1,-1.6 1,-2.2 1,-2.5 1,-3.2 1,-4.9 1,-5.6 1,-5.7 1,-6.4 1,-5.3 1,-2.6 1,-1.9 1.3,-1.1 0.7,0.3 1,1.4 1,2.1 1,3.6 1,6.2 1,6.1 1,4.6 1,4.3 1,3.4 1,2.6 1,2.3 1,1.9 1,1.6 1,1.2 1,1.1 1,0.9 1,0.9 1,0.7 1,0.7 1,0.6 1,0.5 1,0.5 1,0.5 1,0.4 1,0.5 1,0.4 1,0.4 1,0.3 1,0.2 1,0.2 1,0 1,-0.1 1,-0.3 1,-0.5 1,-0.7 1,-1.9 1,-5.4 1,-3.9 1,-2 0.6,-0.4 0.4,0.6 1,3.9 1,5.1 1,6.2 1,1.8 1,0.3 1,0.2 1,0.1 1,0.2 1,0.1 1,0.1 1,0.1 1,0.1 1,0 1,0.1 1,0 1,0.1 1,0 1,0 1,0 1,0 1,0.1 1,0 1,0 1,0 1,0 1,0 1,0.1 1,0 1,0 1,0 1,0 1,0 1,0 1,0 1,0.1 1,0 1,0 1,0 1,0 1,0 1,0 1,0 1,0 1,0 1,0 1,0 1,0 1,0 1,0 1,0 1,0 1,0 1,0 1,0 1,0 1,0 1,0 1,0 1,0 1,0 1,0 1,-0.1 1,0 1,0 1,0 1,0 1,0 1,0 1,0 1,-0.1 1,0 1,0 1,0 1,0 1,0 1,-0.1 1,0 1,0 1,0 1,0 1,-0.1 1,0 1,0 1,-0.1 1,0 1,-0.1 1,0 1,-0.1 1,0 1,-0.1 1,-0.1 1,0 1,-0.1 1,-0.1 1,-0.1 1,-0.1 1,-0.1 1,-0.1 1,0 1,-0.1 1,-0.2 1,-0.1 1,-0.2 1,-0.3 1,-0.3 1,-0.3 1,-0.2 1,-0.3 1,-0.2 1,-0.1 1,0 1,0.2 1,0.4 1,0.5 1,0.5 1,0.4 1,0.4 1,0.2 1,0 1,0 1,0 1,0 1,0 1,0 1,0 1,0 1,0 1,-0.1 1,0 1,0 1,0 1,-0.1 1,0 1,0 1,-0.1 1,0 1,0 1,-0.1 1,0 1,-0.1 1,0 1,-0.1 1,0 1,-0.1 1,-0.1 1,-0.1 1,-0.2 1,-0.3 1,-0.3 1,-0.4 1,-0.3 1,-0.3 1,-0.2 1,-0.2 1,-0.1 1,0 1,0.2 1,0.2 1,0.3 1,0.3 1,0.3 1,0.4 1,0.3 1,0.2 1,0.2 1.2,0.1 0.8,-0.1 1,-0.1 1,-0.3 1,-0.3 1,-0.5 1,-0.5 1,-0.6 1,-0.6 1,-0.7 1,-0.8 1,-1 1,-1.4 1,-2 1,-2.7 1,-7.3 1,-14.4 1,-21.6 1,-32.4 1,-21.3 0.6,-5.8 0.4,2 1,17.1 1,25.9 1,21.4 1,10.1 1,4.1 1,2.6 1,1.9 1,2.2 1,2.7 1,2.9 1,2.6 1,1.9 1,0.8 1,0.4 1,0.2 1,0.3 1,0.3 1,0.7 1,1.3 1,1.5 1,1.6 1,1.4 1,1.3 1,1.4 1,1.3 1,1.2 1,1 1,0.7 1,0.5 1,0.4 1,0.4 1,0.3 1,0.2 1,0.2 1,0.2 1,0 1,0 1,0 1,0 1,0 1,0 1,0 1,0 1,0 1,0 1,0 1,0 1,0 1,0 1,0 1,0 1,-0.1 1,-0.1 1,-0.4 1,-0.5 1,-0.7 1,-0.9 1,-1.9 1,-5.7 1,-10.5 1,-33 1.3,-13.6 0.7,6.7 1,19.7 1,23 1,8.8 1,2.4 1,-6.5 1,-12.2 1,-14.4 1.3,-2.8 0.7,5 1,16.2 1,14.6 1,2.7 1,1.7 1,0.9 0.5,0 0.5,0 1,-0.1 1,-0.3 1,-0.2 1,-0.2 1,-0.1 1,0.4 1,0.7 1,0.7 1,0.6 1,0.1 1,-0.2 1,-0.4 1,-0.6 1,-0.6 1,-0.6 1,-0.5 1,-0.4 1,-0.5 1,-0.4 1,-0.5 1,-0.3 1,-0.2 1,-0.1 1,0 1,0.1 1,0 1,0 1,0.1 1,0 1,0.1 1,0.2 1,0.3 1,0.6 1,0.6 1,0.5 1,0.3 0.5,0 0.5,0 1,-0.1 1,-0.3 1,-0.4 1,-0.6 1,-0.6 1,-0.7 1,-0.8 1,-1.1 1,-1.9 1,-2.3 1,-2.4 1,-1.9 1,-1.8 1,-1.6 1,-1.6 1,-1.2 1,-0.8 1,-0.8 1,-0.6 1,-0.5 1.2,-0.2 0.8,0.2 1,0.9 1,1.2 1,1.3 1,1.2 1,1.4 1,1.5 1,1.4 1,0.9 1,0.3 1,0.1 1,0 1,0.1 1,0.1 1,0.1 1,0.2 1,0.7 1,1.1 1,1.3 1,1.2 1,1 1,1.2 1,1.3 1,1.2 1,0.9 1,0.7 1,0.2 1,0.2 1,0.2 1,0.1 1,0.2 1,0 1,0.1 1,0 1,-0.1 1,-0.6 1,-1 1,-1.2 1,-1.5 1,-3.4 1,-4.4 1,-2.8 1,-1.8 1.3,-1.1 0.7,0.5 1,2 1,2.7 1,4.3 1,4.5 1,1.9 1,1.1 1,0.8 1,0.7 1,0.5 1,0.3 1,0.2 1,0.2 1,0.1 1,0.2 1,0.1 1,0.1 1,0.1 1,0.1 1,0.1 1,0.1 1,0 1,0.1 1,0 1,0 1,0 1,0 1,0 1,0 1,-0.1 1,0 1,-0.1 1,0 1,-0.1 1,-0.1 1,0 1,-0.1 1,-0.1 1,-0.1 1,-0.3 1,-0.3 1,-0.4 1,-0.5 1,-0.5 1,-0.7 1,-0.8 1,-0.8 1,-1.2 1,-2.2 1,-2.6 1,-2.2 1,-1.6 1,-1.4 1.1,-0.6 0.9,0.3 1,0.9 1,1.2 1,1.2 1,1.1 1,1.1 1,1.1 1,1.1 1,1 1,0.8 1,0.9 1,0.9 1,1 1,1 1,0.9 1,0.6 1,0.5 1,0.4 1,0.2 1,0.2 1,0.1 1,0 1,-0.1 1,0 1,0 1,0 1,0.1 1,0.3 1,0.3 1,0.1 1,0.2 1,0.2 1,-0.1 1,-0.1 1,-0.1 1,-0.2 1,-0.1 1,0.2 1,0.1 1,0.2 1,0 1,0 1,-0.1 1,-0.2 1,-0.1 1,0 1,-0.2 1,-0.1 1,0 1,-0.1 1,-0.1 1,0 1,0 1,-0.2 1,0 1,0 1,0 1,-0.2 1,0 1,-0.2 1,-0.2 1,-0.2 1,0 1,-0.2 1,-0.2 1,-0.3 1,-0.3 1,-0.3 1,-0.2 1,-0.3 1,-0.3 1,-0.3 1,-0.4 1,-1 1,-1.2 1,-1.8 1,-2.2 1,-2.4 1,-2.9 1,-4.2 1,-5.5 1,-7.1 1,-9.9 1,-16.3 1,-23.4 1,-42.8 1,-45 1,-44.2 1,-32.4 1.3,-24.9 0.7,11.2 1,36.3 1,59.4 1,47.3 1,35.6 1,24.5 1,18.2 1,10.2 1,6.8 1,4 1,2.4 1,1.8 1,1.2 1,1 1,0.8 1,0.3 1,0.5 1,1.2 1,2.8 0.2,0.8" stroke="#ff0000" stroke-width="3"/><g class="r"><path d="M195,2482l1,-0.1 1,-0.1 1,0 1,-0.2 1,0 1,0 1,0 1,-0.1 1,0 1,0 1,0.1 1,0 1,0 1,-0.1 1,-0.2 1,-0.3 1,-0.1 1,0.2 1,0.2 1,0.3 1,0.3 1,0.3 1,0 1,0.1 1,0 1,-0.2 1,-0.2 1,-0.3 1,-0.2 1,-0.2 1,-0.1 1,-0.1 1,0.1 1,0.1 1,0 1,0.2 1,0.2 1,0.1 1,0.1 1,0.1 1,0.1 1,-0.1 1,-0.1 1,0.1 1,-0.1 1,-0.1 1,-0.1 1,0 1,-0.1 1,-0.1 1,-0.1 1,0 1,0 1,-0.1 1,0.1 1,0.1 1,0 1,0.1 1,0.2 1,-0.1 1,0.1 1,0.1 1,0 1,0 1,0.1 1,-0.1 1,-0.1 1,-0.1 1,-0.1 1,-0.1 1,-0.1 1,0.1 1,0 1,-0.1 1,0.1 1,0.2 1,0.1 1,0.1 1,0.2 1,0.1 1,0 1,0 1,-0.1 1,-0.2 1,-0.2 1,-0.2 1,-0.2 1,0 1,0 1,0 1,0.2 1,0.3 1,0.2 1,0.1 1,0.1 1,-0.1 1,-0.1 1,-0.2 1,-0.1 1,0.1 1,-0.1 1,0.1 1,0.1 1,0 1,0 1,-0.1 1,0 1,0 1,0 1,-0.2 1,0 1,0.1 1,-0.2 1,0 1,0.2 1,0 1,-0.2 1,0 1,0.1 1,-0.2 1,0 1,0.1 1,0.1 1,-0.1 1,0 1,-0.1 1,-0.1 1,-0.2 1,0 1,0.1 1,0 1,0.2 1,0.2 1,0.1 1,0.1 1,0 1,-0.1 1,0 1,-0.1 1,0 1,-0.2 1,-0.1 1,-0.1 1,0 1,0 1,0 1,0.1 1,-0.1 1,0 1,-0.1 1,0.1 1,0.2 1,0.1 1,0.2 1,0.3 1,0.1 1,0 1,0.1 1,-0.2 1,-0.2 1,-0.2 1,-0.2 1,-0.1 1,0 1,-0.1 1,-0.1 1,0.1 1,0.1 1,0.1 1,0.2 1,0.3 1,0.1 1,0 1,0 1,0 1,-0.3 1,-0.4 1,-0.2 1,0 1,-0.1 1,0 1,0.2 1,0 1,-0.1 1,-0.2 1,0.1 1,0 1,0.2 1,0.3 1,0.2 1,0.1 1,0.1 1,0 1,-0.3 1,-0.1 1,-0.2 1,-0.2 1,0 1,0.1 1,0 1,-0.1 1,0 1,-0.1 1,-0.1 1,-0.1 1,0 1,-0.1 1,0.1 1,0.1 1,0.1 1,0.1 1,0.1 1,0 1,-0.1 1,-0.1 1,-0.1 1,-0.2 1,0 1,0.1 1,0 1,0.1 1,0.1 1,0 1,-0.1 1,0 1,0.1 1,-0.1 1,0 1,0.1 1,0 1,-0.1 1,0.1 1,0.1 1,0 1,0 1,0.2 1,-0.1 1,-0.1 1,0.1 1,0.1 1,0 1,0.1 1,0 1,-0.1 1,0 1,0 1,0 1,0 1,0 1,0 1,-0.1 1,-0.1 1,-0.1 1,-0.2 1,0 1,0.1 1,0.1 1,0.1 1,0.2 1,0 1,0 1,0.1 1,0 1,0 1,0.3 1,-0.1 1,0 1,0 1,0 1,-0.2 1,0.2 1,0.1 1,-0.1 1,0 1,0.1 1,-0.2 1,0 1,-0.2 1,0 1,-0.1 1,0.2 1,0.1 1,0.3 1,0.1 1,0.1 1,0.1 1,0 1,0 1,0 1,0 1,-0.2 1,-0.2 1,-0.1 1,-0.1 1,0.1 1,0.1 1,0.2 1,0.2 1,0.2 1,0 1,0 1,-0.2 1,-0.1 1,-0.3 1,-0.2 1,-0.2 1,-0.1 1,0 1,0.1 1,0 1,0.2 1,-0.1 1,0 1,-0.2 1,0 1,-0.1 1,0 1,0.2 1,0.2 1,0.3 1,0.2 1,0.1 1,0 1,0.1 1,0.3 1,0.4 1,0.3 1,0.2 1,-0.2 1,-0.3 1,-0.4 1,-0.3 1,-0.1 1,-0.2 1,0.1 1,0.1 1,0.1 1,0 1,-0.1 1,0 1,0 1,0 1,0 1,0.2 1,0.1 1,0 1,-0.1 1,0 1,-0.1 1,0 1,0 1,0 1,0.1 1,0 1,-0.1 1,0.1 1,0 1,0.1 1,-0.1 1,0 1,0.1 1,-0.1 1,-0.4 1,0 1,-0.1 1,-0.2 1,0 1,0.3 1,0.1 1,0.1 1,0.2 1,0.1 1,0 1,-0.2 1,0 1,-0.1 1,-0.1 1,0 1,0.1 1,0.1 1,-0.1 1,0 1,-0.1 1,-0.2 1,-0.2 1,-0.1 1,-0.1 1,0 1,0 1,0 1,0.1 1,0 1,0 1,0.2 1,0.2 1,0.1 1,0.1 1,0 1,-0.1 1,-0.2 1,-0.3 1,-0.3 1,0 1,0 1,0.1 1,0.2 1,0.4 1,0.1 1,0 1,0 1,0 1,0 1,-0.1 1,0.1 1,0 1,0 1,0 1,0.1 1,0 1,0.1 1,0.1 1,0.1 1,-0.1 1,0.1 1,-0.2 1,-0.2 1,-0.3 1,-0.1 1,-0.2 1,-0.2 1,0.1 1,0.2 1,0.3 1,0.3 1,0.2 1,0.1 1,0 1,0.1 1,0 1,0.1 1,0 1,-0.2 1,-0.2 1,-0.3 1,-0.1 1,-0.1 1,0.2 1,0.3 1,0.3 1,0.2 1,0.3 1,0 1,-0.2 1,-0.1 1,-0.2 1,-0.3 1,-0.2 1,-0.1 1,-0.1 1,-0.1 1,0 1,-0.1 1,-0.1 1,0 1,0 1,0.2 1,0.1 1,0.1 1,0.1 1,0 1,0 1,0.1 1,0.2 1,0.3 1,0.1 1,0.2 1,-0.1 1,-0.2 1,-0.3 1,-0.3 1,-0.2 1,-0.1 1,0.1 1,0.1 1,0 1,-0.1 1,-0.1 1,-0.2 1,-0.1 1,0 1,0 1,0 1,0.1 1,-0.1 1,-0.1 1,0.1 1,0.2 1,0 1,0.2 1,0.1 1,-0.1 1,-0.2 1,0 1,0 1,-0.1 1,0.1 1,0.2 1,0.1 1,0.1 1,0 1,0 1,0.1 1,0.1 1,0 1,0.2 1,0.1 1,-0.4 1,-0.2 1,-0.3 1,-0.5 1,-0.2 1,0 1,0.1 1,0.2 1,0.4 1,0.3 1,0.3 1,0.3 1,0.2 1,0 1,0 1,-0.1 1,-0.1 1,-0.2 1,-0.1 1,0 1,0 1,-0.1 1,-0.1 1,-0.1 1,-0.1 1,-0.3 1,0 1,0.2 1,0.1 1,0.3 1,0.3 1,0 1,0 1,0 1,0 1,-0.1 1,0.1 1,0.1 1,0 1,0 1,-0.1 1,-0.1 1,0.1 1,-0.1 1,0.1 1,0.2 1,0 1,-0.2 1,-0.2 1,-0.4 1,-0.4 1,-0.1 1,0 1,0.3 1,0.3 1,0.3 1,0.1 1,0.1 1,-0.3 1,-0.3 1,-0.2 1,-0.3 1,-0.4 1,0 1,0 1,-0.2 1,0.2 1,0.1 1,0.1 1,0.3 1,0.2 1,0.2 1,0.2 1,0.1 1,0.1 1,0.2 1,0.3 1,0.2 1,0.1 1,0 1,-0.1 1,-0.3 1,-0.3 1,-0.1 1,-0.1 1,0 1,-0.1 1,0 1,0.1 1,0.2 1,0.1 1,0.3 1,0.2 1,0.2 1,0 1,-0.1 1,-0.2 1,-0.3 1,-0.1 1,0.1 1,0.1 1,0.2 1,0.4 1,0 1,-0.3 1,-0.2 1,-0.2 1,-0.4 1,-0.1 1,0 1,0 1,0 1,0.2 1,0.1 1,0.2 1,0.1 1,-0.1 1,-0.2 1,-0.3 1,-0.4 1,-0.3 1,-0.1 1,0 1,0.2 1,0.2 1,0.1 1,0 1,-0.1 1,-0.2 1,0 1,-0.1 1,0 1,0 1,0 1,-0.2 1,0 1,-0.1 1,0.1 1,0.2 1,0.3 1,0.3 1,0.3 1,0 1,0 1,-0.2 1,-0.3 1,-0.1 1,0 1,0 1,0.2 1,0.1 1,0 1,0.1 1,-0.1 1,0 1,0 1,0.1 1,0 1,0.2 1,0 1,-0.1 1,-0.3 1,-0.1 1,-0.2 1,-0.1 1,0.1 1,0.3 1,0.1 1,0.1 1,-0.1 1,-0.2 1,-0.3 1,-0.2 1,-0.3 1,-0.1 1,-0.1 1,-0.1 1,0 1,0.1 1,0.1 1,0.2 1,0.2 1,0.2 1,0.2 1,0.3 1,0.1 1,0.2 1,0 1,-0.1 1,-0.2 1,-0.1 1,-0.1 1,0.1 1,0.2 1,0.1 1,0.1 1,0 1,-0.1 1,-0.2 1,-0.2 1,-0.1 1,0.1 1,0.1 1,0.1 1,0.2 1,0 1,-0.1 1,-0.1 1,-0.1 1,-0.1 1,0 1,0 1,-0.1 1,0 1,-0.1 1,0.1 1,0 1,0.1 1,0.1 1,0.1 1,0.1 1,0 1,-0.1 1,-0.1 1,0 1,0 1,0.1 1,0 1,0 1,0 1,0 1,-0.1 1,0 1,0 1,0 1,0 1,0 1,0.1 1,0 1,0 1,0.1 1,0 1,0 1,0 1,0 1,0 1,-0.1 1,0 1,-0.1 1,0 1,-0.1 1,0 1,0 1,0.1 1,0.1 1,0 1,0.1 1,0 1,0 1,0 1,0 1,0 1,0.1 1,0 1,0 1,0 1,0 1,0 1,0 1,0 1,0 1,0 1,0 1,0 1,-0.1 1,0 1,0 1,0 1,0 1,0.1 1,0 1,0 1,0 1,0 1,0 1,0 1,-0.1 1,0 1,0 1,0 1,0 1,0 1,0 1,0 1,-0.1 1,0 1,0 1,0 1,0 1,0 1,-0.1 1,0 1,0 1,0 1,0 1,-0.1 1,0 1,0 1,0 1,0 1,-0.1 1,0 1,0 1,0 1,-0.1 1,0 1,0 1,-0.1 1,0 1,0 1,-0.1 1,0 1,0 1,-0.1 1,0 1,0 1,-0.1 1,0 1,-0.1 1,0 1,-0.1 1,0 1,-0.1 1,-0.1 1,-0.1 1,-0.1 1,-0.1 1,-0.1 1,-0.1 1,-0.2 1,-0.2 1,-0.4 1,-0.4 1,-0.5 1,-0.4 1,-0.6 1,-0.5 1,-0.5 1,-0.5 1,-0.6 1,-0.7 1,-0.7 1,-0.6 1,-0.7 1,-0.7 1,-0.8 1,-1 1,-0.8 1,-0.7 0.9,-0.2 1.1,0.3 1,0.6 1,0.9 1,0.8 1,0.8 1,0.8 1,0.7 1,0.8 1,0.8 1,0.8 1,0.7 1,0.6 1,0.5 1,0.4 1,0.5 1,0.4 1,0.5 1,0.3 1,0.4 1,0.3 1,0.2 1,0.2 1,0.1 1,0 1,0.1 1,0.1 1,0.1 1,0 1,0.1 1,0.1 1,0 1,0.1 1,0 1,0 1,0.1 1,0 1,0 1,0.1 1,0 1,0 1,0 1,0 1,0 1,0 1,0 1,0 1,0 1,-0.1 1,0 1,-0.1 1,0 1,-0.1 1,-0.1 1,0 1,-0.1 1,-0.1 1,-0.1 1,-0.1 1,-0.2 1,-0.1 1,-0.1 1,-0.2 1,-0.3 1,-0.6 1,-0.8 1,-0.9 1,-0.6 1,-0.4 1,0.2 1,0.5 1,0.6 1,0.4 1,0.1 1,0 1,-0.1 1,-0.1 1,-0.2 1,-0.2 1,-0.1 1,-0.2 1,-0.2 1,-0.2 1,-0.3 1,-0.3 1,-0.3 1,-0.4 1,-0.4 1,-0.4 1,-0.4 1,-0.5 1,-0.4 1,-0.4 1,-0.5 1,-0.4 1,-0.4 1,-0.5 1,-0.4 1,-0.5 1,-0.4 1,-0.5 1,-0.5 1,-0.4 1,-0.5 1,-0.4 1,-0.5 1,-0.3 1,-0.3 1,-0.3 1,-0.4 1,-0.4 1,-0.7 1,-1.2 1,-2.3 1,-3 1,-5.3 1,-6.3 1,-2 1,-1 1,-0.6 1,-0.5 1,-0.2 1,-0.1 1,-0.1 1,-0.1 1,0 1,-0.1 1,-0.1 1,0 1,0 1,0 1,0 1,0 1,0.1 1,0.1 1,0.1 1,0.1 1,0.1 1,0 1,0 1,-0.2 1,-0.4 1,-0.4 1,-0.5 1,-0.5 1,-0.4 1,-0.3 1,-0.2 1,-0.2 1,-0.1 1,-0.2 1,-0.1 1,0.1 1,0.3 1,0.5 1,0.7 1,0.8 1,1 1,1.5 1,1.6 1,1.7 1,1.6 1,1.8 1,1.9 1,1.9 1,1.7 1,1.6 1,1.4 1,1.4 1,1.4 1,1.2 1,1.2 1,1.2 1,1 1,1 1,0.8 1,0.8 1,0.9 1,0.8 1,0.7 1,0.7 1,0.6 1,0.5 1,0.2 0.8,0.1 1.2,0 1,-0.2 1,-0.2 1,-0.4 1,-3.7 1,-7.8 1,-1.8 1,0 1,5.2 1,6.4 1,1.6 1,1.1 1,0.8 1,0.4 0.5,0.1 0.5,-0.1 1,-0.1 1,-0.4 1,-0.4 1,-0.6 1,-0.6 1,-0.7 1,-1.2 1,-1.4 1,-1.7 1,-1.7 1,-1.6 1,-1.4 1,-1.1 1,-1.1 1,-1.1 1,-1 1,-0.9 1,-0.7 1,-0.5 1,-0.2 1,0 1,0 1,0 1,0 1,0.2 1,0.9 1,1.2 1,1.3 1,1 1,1 1,1 1,0.9 1,0.8 1,0.4 1,0.1 1,0 1,0 1,0 1,0 1,0 1,0 1,0 1,0.2 1,0.4 1,0.6 1,0.6 1,0.7 1,0.6 1,0.6 1,0.7 1,0.6 1.2,0.3 0.8,-0.4 1,-1.3 1,-1.9 1,-2.7 1,-5.8 1,-8.2 1,-9.8 1,-14.8 1,-7.9 1,0 1,0.8 1,10.8 1,11.8 1,10.3 1,8.6 1,4.6 1,3.3 1,2.4 1,1.9 1,1.5 1,1.3 1,1.2 1,0.9 1,0.8 1,0.5 1,0.3 1,0.3 1,0.3 1,0.3 1,0.2 1,0.2 1,0.1 1,0.2 1,0.1 1,0 1,0.1 1,0 1,0 1,0.1 1,0 1,0 1,0 1,0 1,0.1 1,0 1,0 1,0 1,0 1,0 1,0 1,0 1,0 1,0 1,0 1,0 1,0 1,-0.1 1,0 1,-0.1 1,-0.1 1,-0.1 1,-0.1 1,-0.1 1,-0.2 1,-0.1 1,-0.3 1,-0.5 1,-0.5 1,-0.7 1,-0.7 1,-0.8 1,-0.7 1,-0.7 1,-0.7 1,-0.8 1,-0.9 1,-0.9 1,-0.9 1,-0.9 1,-0.7 1,-0.6 1,-0.3 1,-0.2 1,-0.1 1,-0.2 1,-0.1 1,0 1,-0.1 1,0 1,-0.1 1,0 1,-0.1 1,-0.1 1,-0.1 1,-0.1 1,-0.1 1,-0.2 1,-0.5 1,-0.8 1,-1.2 1,-1.5 1,-1.5 1,-1.5 1,-1.4 1,-1.2 1,-1.2 1,-1.3 1,-1.2 1,-1.2 1,-1.2 1,-1.2 1,-1.1 1,-1.1 1,-1.2 1,-1.1 1,-1 1,-0.8 1,-0.5 1,-0.3 1,-0.3 1,-0.2 1,-0.2 1,-0.2 1,-0.3 1,-0.4 1,-0.4 1,-0.5 1,-0.7 1,-1 1,-2.4 1,-5.3 1,-7 1,-10.8 1,-3.7 1,-0.3 0.4,-0.1 0.6,2.2 1,9.1 1,8.3 1,8.4 1,6 1,2.7 1,1.8 1,1.5 1,1.9 1,2.2 1,2.5 1,2.5 1,2.4 1,2.1 1,1.6 1,1.5 1,1.5 1,1.3 1,1.1 1,0.6 0.6,0.1 0.4,0 1,-0.2 1,-0.5 1,-0.6 1,-0.8 1,-1.5 1,-3 1,-4.6 1,-11.7 1,-47.1 1,-81.7 1.3,-46.1 0.7,12.9 1,71.7 1,45.9 1,19.6 1,9.6 1,5.9 1,3.8 1,2.8 1,2.4 1,2.2 1,2.4 1,2.4 1,2.4 1,2.3 1,2.2 1,2.3 1,2.4 1,2.1 1,1.5 1,0.9 1,0.6 1,0.5 1,0.5 1,0.4 1,0.3 1,0.3 1,0.4 1,0.3 1,0.3 1,0.3 1,0.3 1,0.3 1,0.3 1,0.3 1,0.3 1,0.2 1,0.2 1,0.2 1,0.1 1,0.2 1,0.1 1,0.1 1,0 1,0.1 1,0.1 1,0.1 1,0 1,0 1,-0.1 1,-1.1 1,-1.7 1,-1.3 0.5,-0.2 0.5,0.2 1,0.9 1,1.1 1,0.8 1,0.4 1,0.3 1,0.3 1,0.2 1,0.2 1,0 1,-0.1 1,-0.1 1,-0.3 1,-0.4 1,-0.4 1,-0.6 1,-0.5 1,-0.7 1,-0.7 1,-1.2 1,-1.6 1,-1.8 1,-1.8 1,-2 1,-2.4 1,-2.4 1,-2.3 1,-1.7 1,-1.2 1,-1.1 1,-1 1,-0.8 1,-0.5 0.9,-0.2 1.1,0.5 1,1.1 1,1.3 1,1.4 1,1.9 1,2.2 1,2.2 1,2 1,1.6 1,1.6 1,1.4 1,1 1,0.6 1,0.5 1,0.4 1,0.3 1,0.3 1,0.3 1,0.3 1,0.2 1,0.3 1,0.3 1,0.3 1,0.3 1,0.3 1,0.3 1,0.2 1,0.2 1,0.1 1,0.1 1,0 1,0 1,0 1,0 1,0 1,0 1,0 1,0 1,0 1,-0.1 1,-0.3 1,-0.4 1,-0.5 1,-0.6 1,-0.7 1,-0.8 1,-1.1 1,-1.6 1,-2.2 1,-2.5 1,-3.2 1,-4.9 1,-5.6 1,-5.7 1,-6.4 1,-5.3 1,-2.6 1,-1.9 1.3,-1.1 0.7,0.3 1,1.4 1,2.1 1,3.6 1,6.2 1,6.1 1,4.6 1,4.3 1,3.4 1,2.6 1,2.3 1,1.9 1,1.6 1,1.2 1,1.1 1,0.9 1,0.9 1,0.7 1,0.7 1,0.6 1,0.5 1,0.5 1,0.5 1,0.4 1,0.5 1,0.4 1,0.4 1,0.3 1,0.2 1,0.2 1,0 1,-0.1 1,-0.3 1,-0.5 1,-0.7 1,-1.9 1,-5.4 1,-3.9 1,-2 0.6,-0.4 0.4,0.6 1,3.9 1,5.1 1,6.2 1,1.8 1,0.3 1,0.2 1,0.1 1,0.2 1,0.1 1,0.1 1,0.1 1,0.1 1,0 1,0.1 1,0 1,0.1 1,0 1,0 1,0 1,0 1,0.1 1,0 1,0 1,0 1,0 1,0 1,0.1 1,0 1,0 1,0 1,0 1,0 1,0 1,0 1,0.1 1,0 1,0 1,0 1,0 1,0 1,0 1,0 1,0 1,0 1,0 1,0 1,0 1,0 1,0 1,0 1,0 1,0 1,0 1,0 1,0 1,0 1,0 1,0 1,0 1,0 1,0 1,-0.1 1,0 1,0 1,0 1,0 1,0 1,0 1,0 1,-0.1 1,0 1,0 1,0 1,0 1,0 1,-0.1 1,0 1,0 1,0 1,0 1,-0.1 1,0 1,0 1,-0.1 1,0 1,-0.1 1,0 1,-0.1 1,0 1,-0.1 1,-0.1 1,0 1,-0.1 1,-0.1 1,-0.1 1,-0.1 1,-0.1 1,-0.1 1,0 1,-0.1 1,-0.2 1,-0.1 1,-0.2 1,-0.3 1,-0.3 1,-0.3 1,-0.2 1,-0.3 1,-0.2 1,-0.1 1,0 1,0.2 1,0.4 1,0.5 1,0.5 1,0.4 1,0.4 1,0.2 1,0 1,0 1,0 1,0 1,0 1,0 1,0 1,0 1,0 1,-0.1 1,0 1,0 1,0 1,-0.1 1,0 1,0 1,-0.1 1,0 1,0 1,-0.1 1,0 1,-0.1 1,0 1,-0.1 1,0 1,-0.1 1,-0.1 1,-0.1 1,-0.2 1,-0.3 1,-0.3 1,-0.4 1,-0.3 1,-0.3 1,-0.2 1,-0.2 1,-0.1 1,0 1,0.2 1,0.2 1,0.3 1,0.3 1,0.3 1,0.4 1,0.3 1,0.2 1,0.2 1.2,0.1 0.8,-0.1 1,-0.1 1,-0.3 1,-0.3 1,-0.5 1,-0.5 1,-0.6 1,-0.6 1,-0.7 1,-0.8 1,-1 1,-1.4 1,-2 1,-2.7 1,-7.3 1,-14.4 1,-21.6 1,-32.4 1,-21.3 0.6,-5.8 0.4,2 1,17.1 1,25.9 1,21.4 1,10.1 1,4.1 1,2.6 1,1.9 1,2.2 1,2.7 1,2.9 1,2.6 1,1.9 1,0.8 1,0.4 1,0.2 1,0.3 1,0.3 1,0.7 1,1.3 1,1.5 1,1.6 1,1.4 1,1.3 1,1.4 1,1.3 1,1.2 1,1 1,0.7 1,0.5 1,0.4 1,0.4 1,0.3 1,0.2 1,0.2 1,0.2 1,0 1,0 1,0 1,0 1,0 1,0 1,0 1,0 1,0 1,0 1,0 1,0 1,0 1,0 1,0 1,0 1,-0.1 1,-0.1 1,-0.4 1,-0.5 1,-0.7 1,-0.9 1,-1.9 1,-5.7 1,-10.5 1,-33 1.3,-13.6 0.7,6.7 1,19.7 1,23 1,8.8 1,2.4 1,-6.5 1,-12.2 1,-14.4 1.3,-2.8 0.7,5 1,16.2 1,14.6 1,2.7 1,1.7 1,0.9 0.5,0 0.5,0 1,-0.1 1,-0.3 1,-0.2 1,-0.2 1,-0.1 1,0.4 1,0.7 1,0.7 1,0.6 1,0.1 1,-0.2 1,-0.4 1,-0.6 1,-0.6 1,-0.6 1,-0.5 1,-0.4 1,-0.5 1,-0.4 1,-0.5 1,-0.3 1,-0.2 1,-0.1 1,0 1,0.1 1,0 1,0 1,0.1 1,0 1,0.1 1,0.2 1,0.3 1,0.6 1,0.6 1,0.5 1,0.3 0.5,0 0.5,0 1,-0.1 1,-0.3 1,-0.4 1,-0.6 1,-0.6 1,-0.7 1,-0.8 1,-1.1 1,-1.9 1,-2.3 1,-2.4 1,-1.9 1,-1.8 1,-1.6 1,-1.6 1,-1.2 1,-0.8 1,-0.8 1,-0.6 1,-0.5 1.2,-0.2 0.8,0.2 1,0.9 1,1.2 1,1.3 1,1.2 1,1.4 1,1.5 1,1.4 1,0.9 1,0.3 1,0.1 1,0 1,0.1 1,0.1 1,0.1 1,0.2 1,0.7 1,1.1 1,1.3 1,1.2 1,1 1,1.2 1,1.3 1,1.2 1,0.9 1,0.7 1,0.2 1,0.2 1,0.2 1,0.1 1,0.2 1,0 1,0.1 1,0 1,-0.1 1,-0.6 1,-1 1,-1.2 1,-1.5 1,-3.4 1,-4.4 1,-2.8 1,-1.8 1.3,-1.1 0.7,0.5 1,2 1,2.7 1,4.3 1,4.5 1,1.9 1,1.1 1,0.8 1,0.7 1,0.5 1,0.3 1,0.2 1,0.2 1,0.1 1,0.2 1,0.1 1,0.1 1,0.1 1,0.1 1,0.1 1,0.1 1,0 1,0.1 1,0 1,0 1,0 1,0 1,0 1,0 1,-0.1 1,0 1,-0.1 1,0 1,-0.1 1,-0.1 1,0 1,-0.1 1,-0.1 1,-0.1 1,-0.3 1,-0.3 1,-0.4 1,-0.5 1,-0.5 1,-0.7 1,-0.8 1,-0.8 1,-1.2 1,-2.2 1,-2.6 1,-2.2 1,-1.6 1,-1.4 1.1,-0.6 0.9,0.3 1,0.9 1,1.2 1,1.2 1,1.1 1,1.1 1,1.1 1,1.1 1,1 1,0.8 1,0.9 1,0.9 1,1 1,1 1,0.9 1,0.6 1,0.5 1,0.4 1,0.2 1,0.2 1,0.1 1,0 1,-0.1 1,0 1,0 1,0 1,0.1 1,0.3 1,0.3 1,0.1 1,0.2 1,0.2 1,-0.1 1,-0.1 1,-0.1 1,-0.2 1,-0.1 1,0.2 1,0.1 1,0.2 1,0 1,0 1,-0.1 1,-0.2 1,-0.1 1,0 1,-0.2 1,-0.1 1,0 1,-0.1 1,-0.1 1,0 1,0 1,-0.2 1,0 1,0 1,0 1,-0.2 1,0 1,-0.2 1,-0.2 1,-0.2 1,0 1,-0.2 1,-0.2 1,-0.3 1,-0.3 1,-0.3 1,-0.2 1,-0.3 1,-0.3 1,-0.3 1,-0.4 1,-1 1,-1.2 1,-1.8 1,-2.2 1,-2.4 1,-2.9 1,-4.2 1,-5.5 1,-7.1 1,-9.9 1,-16.3 1,-23.4 1,-42.8 1,-45 1,-44.2 1,-32.4 1.3,-24.9 0.7,11.2 1,36.3 1,59.4 1,47.3 1,35.6 1,24.5 1,18.2 1,10.2 1,6.8 1,4 1,2.4 1,1.8 1,1.2 1,1 1,0.8 1,0.3 1,0.5 1,1.2 1,2.8 0.2,0.8"/></g>
<path d="M195,2776.1l1,-0.3 1,-0.3 1,-0.2 1,-0.1 1,0.3 1,0.2 1,0.3 1,0.2 1,0 1,-0.3 1,-0.1 1,-0.5 1,-0.4 1,-0.2 1,-0.1 1,-0.2 1,0.1 1,0.3 1,0.1 1,0.3 1,0.2 1,0.2 1,0 1,-0.1 1,-0.1 1,-0.1 1,-0.2 1,-0.1 1,0 1,0.1 1,0 1,0.1 1,0.2 1,0 1,0.1 1,0.1 1,0 1,-0.2 1,0 1,-0.1 1,-0.2 1,0 1,-0.1 1,-0.3 1,-0.1 1,-0.2 1,-0.1 1,0.2 1,0.3 1,0.2 1,0.3 1,0.2 1,0 1,0 1,-0.1 1,-0.3 1,-0.1 1,-0.2 1,0 1,0 1,0 1,-0.1 1,0.2 1,-0.1 1,0.1 1,0 1,0.2 1,-0.1 1,0.1 1,0.1 1,0.1 1,-0.1 1,0.1 1,0.1 1,-0.1 1,0 1,0.2 1,0.1 1,0.1 1,0.1 1,0.2 1,0.1 1,0 1,-0.3 1,0 1,-0.2 1,-0.2 1,0.1 1,0.2 1,0.2 1,0.3 1,0.2 1,-0.1 1,-0.1 1,-0.2 1,-0.6 1,-0.3 1,-0.1 1,-0.2 1,-0.1 1,0.3 1,0.4 1,0.3 1,0.6 1,0.3 1,0.1 1,0 1,-0.1 1,-0.2 1,0 1,0.1 1,0.3 1,0.1 1,0.1 1,-0.1 1,-0.1 1,-0.3 1,-0.1 1,0.1 1,0.1 1,0.2 1,0.3 1,0.2 1,0.1 1,0 1,0.1 1,0 1,0.2 1,0 1,0.1 1,0 1,-0.1 1,-0.2 1,-0.2 1,-0.2 1,-0.2 1,0 1,0.1 1,0 1,0.2 1,0.3 1,0.1 1,0.1 1,0.2 1,-0.2 1,-0.2 1,-0.1 1,-0.3 1,-0.4 1,-0.1 1,0 1,0.1 1,0.1 1,0.2 1,0.1 1,0.2 1,0 1,0.3 1,0.2 1,0.3 1,0.3 1,0.2 1,0 1,-0.2 1,-0.1 1,-0.2 1,-0.2 1,0 1,-0.1 1,0 1,0.2 1,0.2 1,0.2 1,0.1 1,0 1,0 1,0.1 1,-0.2 1,0.1 1,0.1 1,-0.1 1,0 1,0.1 1,0 1,-0.1 1,-0.1 1,-0.2 1,-0.3 1,-0.3 1,-0.1 1,0 1,-0.1 1,0 1,-0.1 1,0.1 1,0 1,0.2 1,0.3 1,0.5 1,0.4 1,0.2 1,0 1,-0.2 1,-0.4 1,-0.4 1,-0.2 1,-0.1 1,-0.1 1,0.1 1,0.2 1,-0.1 1,-0.1 1,0 1,-0.2 1,-0.3 1,-0.1 1,-0.1 1,-0.1 1,0.2 1,0.2 1,0.2 1,0.1 1,0.1 1,-0.1 1,0.1 1,0 1,0 1,0.1 1,0 1,0 1,0.1 1,0.1 1,0 1,0.2 1,0.1 1,0.1 1,0.2 1,0.1 1,-0.1 1,-0.1 1,-0.3 1,-0.3 1,-0.2 1,-0.1 1,0 1,0.1 1,0.1 1,0 1,0.1 1,0.1 1,0.2 1,0.1 1,0.1 1,0 1,-0.1 1,-0.3 1,-0.1 1,0 1,0.1 1,0 1,0.1 1,0 1,-0.1 1,-0.1 1,-0.1 1,-0.1 1,0 1,-0.1 1,0 1,0.1 1,0.1 1,0.1 1,0.2 1,0.1 1,0.1 1,0 1,0 1,-0.2 1,-0.3 1,-0.3 1,-0.3 1,-0.1 1,0.1 1,0.2 1,0.3 1,0.4 1,0.1 1,0 1,-0.1 1,-0.1 1,-0.1 1,0.1 1,0.2 1,0.1 1,0.1 1,0.1 1,-0.2 1,-0.3 1,-0.2 1,-0.2 1,-0.2 1,-0.1 1,0.1 1,0 1,0.1 1,0.3 1,0.3 1,0.2 1,0.1 1,0.1 1,-0.2 1,-0.2 1,-0.2 1,-0.2 1,-0.3 1,-0.1 1,-0.2 1,-0.2 1,-0.1 1,0.1 1,0.1 1,0.1 1,0.4 1,0.6 1,0.6 1,0.5 1,0.6 1,0.1 1,-0.2 1,-0.1 1,0 1,0 1,0 1,0.1 1,0 1,-0.1 1,-0.1 1,-0.2 1,-0.1 1,0.1 1,0 1,0 1,0 1,-0.2 1,-0.4 1,-0.1 1,-0.1 1,-0.1 1,0.1 1,0.3 1,0.1 1,0.1 1,0.2 1,0.2 1,-0.1 1,0.2 1,0.1 1,-0.3 1,-0.3 1,-0.3 1,-0.4 1,-0.3 1,-0.1 1,0 1,0 1,0.1 1,0 1,0.2 1,0 1,0.1 1,0 1,-0.1 1,0 1,0.1 1,0.1 1,0.2 1,0.3 1,0.2 1,-0.2 1,-0.3 1,-0.2 1,-0.3 1,-0.4 1,-0.1 1,0.1 1,-0.1 1,0.2 1,0.3 1,-0.1 1,0.1 1,0.1 1,0 1,-0.1 1,0.2 1,0.1 1,-0.1 1,0 1,0 1,0 1,0 1,0 1,-0.2 1,-0.3 1,-0.2 1,-0.2 1,-0.1 1,0.2 1,0.2 1,0.3 1,0.2 1,0 1,-0.1 1,-0.1 1,-0.2 1,-0.2 1,-0.1 1,0.1 1,0.1 1,0.2 1,0.2 1,0.1 1,0 1,0.1 1,0 1,0.1 1,-0.1 1,-0.1 1,-0.1 1,-0.3 1,-0.3 1,-0.3 1,-0.1 1,-0.2 1,0 1,0.2 1,0.2 1,0.2 1,0.3 1,0.1 1,0.1 1,0.1 1,0 1,0.2 1,0.3 1,0.1 1,0 1,0.2 1,0.2 1,0 1,0.2 1,0.4 1,0.2 1,0 1,0.2 1,-0.1 1,-0.1 1,-0.2 1,0.1 1,0 1,0 1,0 1,-0.1 1,-0.1 1,-0.2 1,-0.2 1,-0.2 1,-0.3 1,-0.2 1,-0.4 1,-0.2 1,-0.2 1,-0.2 1,0 1,0.3 1,0.2 1,0.4 1,0.4 1,0.3 1,-0.2 1,-0.2 1,-0.4 1,-0.5 1,-0.4 1,-0.1 1,0.1 1,0.2 1,0 1,0.1 1,-0.1 1,-0.2 1,-0.1 1,0 1,0 1,0.1 1,0.2 1,0 1,0.2 1,0 1,0.1 1,0 1,-0.1 1,-0.2 1,-0.2 1,-0.2 1,-0.2 1,-0.2 1,0 1,0.1 1,0.1 1,0.3 1,0.3 1,0.3 1,0.1 1,0.1 1,-0.1 1,-0.3 1,-0.2 1,-0.4 1,-0.3 1,-0.3 1,-0.1 1,-0.2 1,-0.1 1,0 1,0 1,0 1,0 1,0.1 1,-0.2 1,0.1 1,0.1 1,0.2 1,0 1,0.2 1,0 1,0 1,0 1,-0.1 1,-0.1 1,0 1,0.1 1,0 1,0 1,0.1 1,-0.1 1,-0.2 1,-0.2 1,-0.1 1,-0.1 1,-0.1 1,-0.1 1,-0.1 1,-0.3 1,-0.2 1,-0.1 1,-0.1 1,0.1 1,0.2 1,0.1 1,0.1 1,-0.1 1,-0.2 1,-0.3 1,-0.3 1,-0.3 1,0.1 1,0.1 1,0 1,0.2 1,0.2 1,0 1,0.1 1,0.1 1,0 1,0 1,0 1,0 1,0.1 1,0.2 1,0.1 1,0.2 1,0.1 1,0.1 1,0.1 1,0.3 1,0.3 1,0.1 1,0.2 1,0 1,-0.1 1,-0.1 1,0.1 1,0 1,0.2 1,0.3 1,0.2 1,0.2 1,0.2 1,0.1 1,0.1 1,0.2 1,0.2 1,0.2 1,0.1 1,0 1,0 1,-0.1 1,-0.1 1,-0.2 1,-0.1 1,-0.2 1,0 1,-0.1 1,0 1,0.1 1,0.1 1,0 1,0.2 1,0.1 1,0 1,0 1,-0.2 1,-0.2 1,-0.2 1,-0.3 1,-0.1 1,0.1 1,0.1 1,0.2 1,0.1 1,0 1,-0.1 1,-0.1 1,-0.2 1,-0.1 1,-0.1 1,0.1 1,0.1 1,0.1 1,-0.1 1,0 1,-0.1 1,-0.3 1,-0.1 1,0.1 1,0.1 1,0.1 1,0.1 1,-0.1 1,-0.1 1,-0.1 1,-0.1 1,0 1,0.1 1,0 1,-0.2 1,-0.1 1,-0.3 1,-0.3 1,-0.1 1,-0.1 1,-0.1 1,-0.2 1,0 1,-0.1 1,0 1,0.1 1,0.2 1,0 1,0.1 1,0 1,-0.1 1,-0.2 1,-0.1 1,-0.1 1,-0.1 1,0 1,0 1,0.1 1,0 1,-0.1 1,-0.3 1,-0.1 1,-0.2 1,0 1,0.1 1,0.2 1,0 1,0 1,0 1,0 1,-0.1 1,-0.1 1,-0.1 1,-0.2 1,-0.1 1,-0.2 1,0 1,0 1,0.1 1,0.1 1,0.1 1,0 1,-0.2 1,0 1,-0.1 1,0 1,-0.1 1,-0.1 1,-0.3 1,-0.3 1,-0.4 1,-0.5 1,-0.5 1,-0.6 1,-0.7 1,-0.9 1,-1 1,-1.2 1,-1.3 1,-1.3 1,-1.7 1,-1.9 1,-2 1,-2 1,-1.7 1,-1.3 1,-1.2 1,-1.2 1,-0.7 1,-0.2 1,0 1,0 1,0.1 1,-0.1 1,-0.1 1,0.1 1,0.8 1,1.2 1,1.4 1,1.5 1,1.4 1,1.7 1,1.7 1,1.7 1,1.6 1,1.2 1,1 1,1 1,0.9 1,0.8 1,0.6 1,0.4 1,0.2 1,0.2 1,0.1 1,0 1,0 1,-0.1 1,-0.2 1,-0.1 1,-0.3 1,-0.3 1,-0.4 1,-0.4 1,-0.7 1,-1 1,-1.1 1,-1 1,-0.9 1,-0.7 1,-0.6 1,-0.6 1,-0.5 1,-0.4 1,-0.3 1,-0.2 1,-0.1 1,-0.1 1,-0.1 1,0 1,-0.1 1,0 1,0 1,0 1,0 1,0.1 1,0.1 1,0.1 1,0.1 1,0.1 1,0 1,0 1,-0.1 1,-0.2 1,-0.3 1,-0.3 1,-0.4 1,-0.5 1,-0.8 1,-1.1 1,-1.1 1,-1.2 1,-1.1 1,-1.1 1,-1 1,-1 1,-1 1,-1 1,-0.9 1,-1 1,-0.9 1,-0.9 1,-0.8 1,-0.5 1,-0.2 1,-0.2 1,-0.2 1,-0.2 1,-0.1 1,0 1,0 1,0.1 1,0.4 1,0.4 1,0.5 1,0.5 1,0.6 1,0.7 1,0.7 1,0.8 1,0.8 1,0.9 1,0.9 1,1 1,1.1 1,1 1,0.9 1,0.7 1,0.7 1,0.7 1,0.7 1,0.7 1,0.6 1,0.4 1,0.2 1,0.1 1,-0.2 1,-0.3 1,-0.4 1,-0.4 1,-0.4 1,-0.2 1,-0.2 1,-0.1 1,-0.2 1,-0.2 1,-0.2 1,-0.5 1,-1.1 1,-1.5 1,-2 1,-3.2 1,-5.2 1,-6.1 1,-7.1 1,-8.5 1,-8.2 1,-7.8 1,-7.5 1,-5.6 1,-3.9 1,-3.1 1,-1.6 1,-0.7 1,-0.5 0.8,-0.2 1.2,1.3 1,2.4 1,3.2 1,5.8 1,7.5 1,7 1,7.2 1,7 1,6.1 1,4.9 1,4.3 1,3.9 1,3.5 1,3.2 1,3.2 1,2.8 1,2.5 1,1.9 1,1.5 1,1.4 1,1.2 1,1.1 1,0.7 1,0.6 1,0.4 1,0.4 1,0.4 1,0.3 1,0.3 1,0.2 1,0.1 1,0.1 1,0 1,0 1,0 1,0 1,0 1,0 1,0 1,0 1,0 1,0 1,0 1,0 1,0 1,0 1,-0.1 1,-0.2 1,-0.1 1,-0.2 1,-0.3 1,-0.2 1,-0.3 1,-0.3 1,-0.5 1,-0.6 1,-0.8 1,-0.8 1,-0.9 1,-1 1,-1.2 1,-1.5 1,-1.9 1,-2.5 1,-3.7 1,-4.6 1,-5.4 1,-7.2 1,-8.7 1,-8.4 1,-9.5 1,-8.6 1,-4.4 1,-2.4 1,-1.5 0.7,-0.4 1.3,0.8 1,1.3 1,5.2 1,7.6 1,4.7 1,3.2 0.4,0.4 0.6,-0.4 1,-2.2 1,-3.7 1,-9.9 1,-12.8 1,-13.2 1,-14 1,-9.6 1,-7.3 1.1,-3.7 0.9,0.4 1,1 1,4.8 1,9.8 1,10.1 1,11.7 1,11.3 1,9.2 1,8.6 1,7.4 1,5.3 1,3.9 1,3.2 1,2.2 1,1 1,0.7 1,0.6 1,0.5 1,0.4 1,0.3 1,0.3 1,0.2 1,0.2 1,0.3 1,0.4 1,1.3 1,2 1,1.9 1,1.1 1,0.7 1,0.6 1,0.6 1,0.7 1,0.8 1,1 1,0.9 1,1 1,0.9 1,0.7 1,0.7 1,0.7 1,0.6 1,0.7 1,0.6 1,0.5 1,0.5 1,0.5 1,0.5 1,0.3 1,0.4 1,0.3 1,0.3 1,0.3 1,0.2 1,0 1,0 1,0 1,-0.1 1,-0.1 1,-0.2 1,-0.1 1,-0.2 1,-0.5 1,-1.3 1,-1.8 1,-1.8 1,-1.5 1,-1.5 1,-1.5 1,-1.2 1,-0.7 1,-0.2 1,-0.2 1,-0.1 1,-0.1 1,0 1,0 1,0.2 1,0.7 1,1 1,1.1 1,1.3 1,1.9 1,2.3 1,2.2 1,1.9 1,2 1,1.8 1.3,1.1 0.7,0 1,-0.3 1,-0.4 1,-0.1 1,0 1,0 1,0 1,0 1,0.5 1,1.1 1,1.2 1,1 1,0.6 1,0.6 1,0.4 1,0.3 1,0.1 1,-0.2 1,-0.3 1,-0.5 1,-0.6 1,-0.7 1,-1.7 1,-2.4 1,-2.5 1,-1.8 1,-1.1 1,-0.8 1,-0.8 1,-0.8 1,-1 1,-1.2 1,-1.2 1,-1.2 1,-0.9 1,-0.8 1,-0.8 1,-0.5 1,-0.1 1,0.6 1,1 1,1.1 1,1.1 1,1.3 1,1.4 1,1.2 1,0.7 1,0.7 1,0.6 1,0.4 1,0.1 1,-0.3 1,-0.9 1,-1.2 1,-1.4 1,-1.8 1,-3 1,-3.6 1,-4 1,-3.7 1,-4.1 1,-4.2 1,-3.7 1,-3 1,-2.8 1,-2.3 1.1,-1 0.9,0.1 1,0.3 1,0.5 1,1.4 1,2.6 1,2.6 1,2.6 1,2.5 1,1.2 1,0.3 1,0.2 1,0.2 1,0.1 1,0.2 1,0.2 1,0.2 1,0.1 1,0.2 1.1,0 0.9,-0.4 1,-1.4 1,-2 1,-2.6 1,-5 1,-5.2 1,-2.7 1,-1.7 1,-1.1 0.5,-0.1 0.5,0.2 1,1.3 1,2 1,2.7 1,3.9 1,4.3 1,3.9 1,4 1,4 1,3.4 1,2.8 1,2.6 1,2.3 1,1.7 1,1.1 1,0.9 1,0.7 1,0.5 1,0.1 1,-0.2 1,-0.5 1,-0.7 1,-0.9 1,-1.1 1,-1.8 1,-2.4 1,-2.6 1,-2.8 1,-3.3 1,-3.7 1,-4.3 1,-5 1,-6.1 1,-6.5 1,-6.6 1,-7 1,-7.2 1,-7.9 1,-8.2 1,-7.9 1,-7.4 1,-7.1 1,-6.5 1,-6 1,-5.6 1,-4.7 1,-4.3 1,-3.8 1,-2.9 1,-2.3 1,-2 1,-1.4 1,-0.5 1,-0.3 1,-0.2 1,0 1,0.5 1,1.5 1,2.1 1,2.6 1,3.9 1,4.7 1,5.1 1,6 1,6.4 1,6.7 1,7 1,7.2 1,7.1 1,7.1 1,6.8 1,6.7 1,6.4 1,5 1,3.8 1,3.1 1,1.3 1,0.3 1,0.2 1,0.1 0.5,0 0.5,-0.2 1,-1.2 1,-1.8 1,-2 1,-1.4 1,-1.2 1,-1 1,-1 1,-0.9 1,-0.9 1,-1 1,-1.1 1,-1.1 1,-0.9 1,-0.4 1,0 1,0.2 1,0.2 1,0.3 1,0.6 1,1.6 1,2.1 1,1.9 1,1.4 1,1.3 1,0.9 0.8,0.3 1.2,-0.5 1,-1 1,-1.4 1,-2.3 1,-4.4 1,-5.4 1,-5.8 1,-7.1 1,-7.5 1,-6.9 1,-7.5 1,-4.7 1,-1.4 1,-0.8 0.5,-0.1 0.5,0.7 1,4.2 1,5.8 1,10.2 1,10.8 1,7.9 1.2,5.5 0.8,-0.6 1,-2.2 1,-6.1 1,-13 1,-13.5 1,-15.3 1,-14.5 1,-12 1,-10.8 1,-7 1,-4.6 1,-3 0.5,-0.5 0.5,0.1 1,0.4 1,0.9 1,3.7 1,8.4 1,9.2 1,10.9 1,11.8 1,10.2 1,8.9 1,8.2 1,7.7 1,7.6 1,7.5 1,6.9 1,5.9 1,5.3 1,5.1 1,4.2 1,2.8 1,1.8 1,1.6 1,1.2 1,0.7 0.8,0.2 1.2,-0.5 1,-1.2 1,-1.7 1,-2.1 1,-3.7 1,-5.7 1,-7 1,-8.7 1,-11.3 1,-12.4 1,-14.3 1,-15.4 1,-12.7 1,-11 1,-7.2 1,-3.4 1,-2.1 0.7,-0.5 1.3,2.2 1,3.8 1,6.1 1,10.7 1,11.5 1,11.2 1,11.5 1,10.1 1,9.4 1,8.3 1,5.3 1,3.6 1,2.7 1,1.1 1,-0.5 1,-1.5 1,-1.9 1,-4.4 1,-5.5 1,-2.3 1,-1 1,-0.7 1,0.1 1,0.9 1,1 1,0.3 1,0 1,0 1,0 1,1.1 1,3.5 1,3.7 1,2.6 1,2.5 1.1,1.2 0.9,-0.7 1,-2 1,-2.2 1,-1.3 1,-1.1 1,-0.9 1,-0.5 0.4,-0.1 0.6,0.2 1,0.8 1,1.3 1,1.7 1,2.4 1,3.8 1,4.4 1,3.9 1,3.8 1,3.6 1,3.3 1,2.7 1,2.5 1,2.2 1,1.8 1,1.2 1,0.8 1,0.7 1,0.5 1,0.5 1,0.4 1,0.4 1,0.3 1,0.3 1,0.3 1,0.6 1,1.1 1,1.2 1,0.9 1,0.2 1,0 1,0 1,0 1,0 1,-1.7 1,-5.2 1,-7.6 1,-8.8 1,-8.8 1,-9.5 1,-10.8 1,-5.2 1,-2.4 1,-0.9 1,2.2 1,4.8 1,6.1 1,8.4 1,8 1,6.8 1,6.3 1,4.6 1,3.5 1,2.7 1,1.5 1,0.8 1,0.5 1,0.5 1,0.3 1,0.3 1,0.1 1,0.2 1,0.2 1,0.3 1,0.8 1,1.1 1,1.1 1,0.9 1,0.8 1,0.6 1,0.6 1,0.7 1,0.8 1,1 1,1.1 1,1.1 1,1 1,0.9 1,0.8 1,0.8 1,0.7 1,0.6 1,0.6 1,0.5 1,0.4 1,0.4 1,0.4 1,0.3 1,0.3 1,0.3 1,0.3 1,0.4 1,0.3 1,0.3 1,0.3 1,0.2 1,0.1 1,0.1 1,0.1 1,0 1,0.1 1,0.2 1,0.3 1,0.5 1,0.6 1,0.6 1,0.6 1,0.5 1,0.4 1,0.4 1,0.4 1,0.4 1,0.4 1,0.4 1,0.4 1,0.3 1,0.4 1,0.4 1,0.4 1,0.4 1,0.5 1,0.5 1,0.6 1,0.6 1,0.4 1,0.3 1,0 1,-0.2 1,-0.4 1,-0.3 1,-0.2 1,0 1,0 1,0 1,0 1,0.1 1,0.6 1,0.8 1,0.7 1,0.5 1,0.4 1,0.4 1,0.4 1,0.2 1,0.2 1,0.1 1,0.1 1,0.1 1,0 1,0 1,0.1 1,0 1,0 1,0 1,-0.1 1,0 1,-0.1 1,-0.1 1,-0.1 1,-0.2 1,-0.2 1,-0.6 1,-0.9 1,-1 1,-1.3 1,-1.8 1,-2.6 1,-3.3 1,-4.5 1,-6.5 1,-7.8 1,-10.1 1,-12.1 1,-11.2 1,-11.1 1,-7.2 1,-4.6 0.8,-1.6 1.2,1.7 1,3.1 1,6.9 1,8.6 1,6.8 1,6 1,2.8 1,1.6 0.9,0.5 1.1,-1.3 1,-2.8 1,-3.5 1,-5.6 1,-6.2 1,-5.1 1,-5.1 1,-3.8 1,-1.6 1,-1 1.3,-0.6 0.7,1.2 1,4.4 1,5 1,6 1,2.7 1,0.9 1.1,0.3 0.9,-1.2 1,-3.1 1,-4.6 1,-8.2 1,-8.8 1,-8.5 1,-8.7 1,-6.8 1,-5.3 1,-3.6 1,-0.5 1,-0.1 0.7,0 1.3,3.2 1,4.9 1,6 1,8.7 1,8.6 1,6.8 1,6.2 1,5.6 1,4.6 1,4.1 1,3.5 1,3 1,2.7 1,2.3 1,2 1,1.8 1,1.6 1,1.3 1,1.1 1,1.1 1,1 1,1.2 1,1.1 1,1.2 1,1.2 1,1.4 1,1.8 1,1.9 1.3,1.1 0.7,-0.6 1,-1.8 1,-1.3 1,-0.1 1,0 1,0 1,0.6 1,2.6 1,3.3 1,2.6 1,2.5 1,2.5 1,2.4 1,2.4 1,2.3 1,2.1 1,1.6 1,1.4 1,1.3 1,0.8 1,0.4 1,0.3 1,0.2 1,0 1,-0.6 1,-1.2 1,-1.3 1,-1.4 1,-1.5 1,-1.8 1,-2 1,-2.1 1,-2.4 1,-2.7 1,-2.9 1,-2.8 1,-2.9 1,-3.3 1,-2.8 1,-1.2 1,-0.4 1,-0.3 1,0 1,0.8 1,1 1,0.5 1,-0.2 1,-0.5 1,-0.7 1,-0.9 1,-1.3 1,-1.6 1,-1.7 1,-1.5 1,-1.6 1,-1.6 1,-1.4 1,-0.7 1,-0.4 1,-0.4 1.2,-0.1 0.8,0.4 1,1.4 1,1.9 1,1.8 1,2.3 1,2.5 1,2.4 1,2.1 1,2.2 1,1.5 0.4,0.2 0.6,-0.1 1,-0.6 1,-0.9 1,-2 1,-4.6 1,-5.5 1,-5.9 1,-6.9 1,-5.5 1,-3.3 1,-2.4 0.6,-0.4 0.4,0.4 1,2.6 1,4.3 1,8.2 1,8.9 1,7.6 1,5.5 1,0.9 1,0.4 1,-2.5 1,-5.1 1,-6 1,-7.5 1,-7.2 1,-7.1 1,-6.9 1,-6.5 1,-6.4 1,-5.8 1,-4.3 1,-3.8 1,-2 1,-0.7 1,-0.4 1,0.1 1,0.7 1,1.1 1,2.1 1,4.2 1,6.2 1,11 1,9.5 1,8.3 1,7.1 1,6.8 1,4.9 1,1.6 1,1 1,0.4 1,-0.2 1,-0.6 1,-0.8 1,-0.8 1,-0.9 1,-1.1 1,-1.1 1,-0.9 1,-0.8 1,-0.8 1,-0.6 1,-0.2 1,0 1,0.2 1,0.2 1,0.5 1,1.3 1,1.7 1,1.7 1,2.1 1,2.5 1,2.5 1,2.4 1,2.6 1,2.4 1,1.9 1,1.7 1,1.4 1,0.5 1,-0.3 1,-0.7 1,-2.8 1,-6.1 1,-6.8 1,-5.9 1,-2.5 1,-1.5 1,-0.2 1,0 1,0 1,0 1,0 1,0.5 1,0.8 1,2.4 1,2.5 1,0.2 1,0 1,-0.2 1,-3.3 1,-3.5 1,-1.4 1,-1 1,0.1 1,1.2 1,1.7 1,2.6 1,2.4 1,0.6 1,0.3 0.7,0.1 1.3,-2.5 1,-2.9 1,-2.7 1,-2.7 1,-2 1,-1.7 1,-1.1 1,-0.2 1,0 1,0.1 1,0.1 1,0.7 1,1.1 1,1.1 1,1 1,1 1,0.7 1,0.1 1,-0.6 1,-1 1,-1 1,-1 1,-1.1 1,-1 1,-0.9 1,-0.7 1,-0.6 1,-0.6 1,-0.7 1,-0.7 1,-0.8 1,-1.1 1,-2.1 1,-4.7 1,-8.5 1,-13.8 1,-18.7 1,-22.7 1,-15.4 1,-10.4 1,-6.9 1,-4.4 1,-3.6 1,-4.5 1,-5.2 1,-6.6 1,-10 1,-10.5 1,-10.4 1,-9.1 1,-8 1,-5.3 1,-2.8 1,2.7 1,8.1 1,14.9 1,13.4 1,11.4 1,9.3 1,4.4 1,2.8 1,2.9 1,2.9 1,2.9 1,3.4 1,4.4 1,5.2 1,5.6 1,6.5 1,7 1,6.6 1,6.4 1,6.2 1,5.7 1,5.5 1,5.1 1,4.1 1,3.5 1,3 1,2.3 1,1.8 1,1.5 1,1.1 1,0.8 1,0.4 1,0.4 1,0.2 1,0.2 1,-0.7 1,-1.7 1,-1.5 1,-0.5 1,-0.4 1,-0.1 1,0.2 1,0.5 1,0.9 1,0.9 1,1.3 1,1.9 1,2.1 1,2.2 1,2.9 1,2.9 1,2.7 1,2.4 1,2.1 1,2 1,1.8 1,1.7 1,1.4 1,1.4 1,1.4 1,1.4 1,1.5 1,1.6 1,1.5 1,1.6 1,1.2 1,1 1,1.1 1,1 1,0.4 1,0.4 1,0.3 1,0.3 1,0.1 1,0 1,-0.7 1,-1 1,-1.1 1,-0.9 1,-1 1,-0.6 1,0.1 1,0.4 1,0.5 1,0.4 1,0.1 1,-0.2 1,-0.2 1,-0.4 1,-0.1 1,0.6 1,1 1,1.2 1,1.3 1,1.3 1,1.3 1,1.2 1,1.2 1,1.2 1,1.1 1,0.9 1,0.8 1,0.5 1,0.4 1,0.7 1,0.8 1,0.8 1,0.3 1,-0.1 1,-0.3 1,-0.6 1,-0.7 1,-0.8 1,-0.9 1,-1 1,-0.8 1,-0.8 1,-1 1,-1.3 1,-1.6 1,-2.1 1,-3 1,-5.4 1,-7.8 1,-10 1,-11.8 1,-12.5 1,-8.6 1.2,-4.3 0.8,1.4 1,4.8 1,10.1 1,6.9 1,5.6 1,4.3 1,3.6 1,2.8 1,2.2 1,1.9 1,1.6 1,1.6 1,1.2 1,1.3 1,1.6 1,1.9 1,2.2 1,2.4 1,3 0.2,0.6" stroke="#ff0000" stroke-width="3"/><g class="r"><path d="M195,2776.1l1,-0.3 1,-0.3 1,-0.2 1,-0.1 1,0.3 1,0.2 1,0.3 1,0.2 1,0 1,-0.3 1,-0.1 1,-0.5 1,-0.4 1,-0.2 1,-0.1 1,-0.2 1,0.1 1,0.3 1,0.1 1,0.3 1,0.2 1,0.2 1,0 1,-0.1 1,-0.1 1,-0.1 1,-0.2 1,-0.1 1,0 1,0.1 1,0 1,0.1 1,0.2 1,0 1,0.1 1,0.1 1,0 1,-0.2 1,0 1,-0.1 1,-0.2 1,0 1,-0.1 1,-0.3 1,-0.1 1,-0.2 1,-0.1 1,0.2 1,0.3 1,0.2 1,0.3 1,0.2 1,0 1,0 1,-0.1 1,-0.3 1,-0.1 1,-0.2 1,0 1,0 1,0 1,-0.1 1,0.2 1,-0.1 1,0.1 1,0 1,0.2 1,-0.1 1,0.1 1,0.1 1,0.1 1,-0.1 1,0.1 1,0.1 1,-0.1 1,0 1,0.2 1,0.1 1,0.1 1,0.1 1,0.2 1,0.1 1,0 1,-0.3 1,0 1,-0.2 1,-0.2 1,0.1 1,0.2 1,0.2 1,0.3 1,0.2 1,-0.1 1,-0.1 1,-0.2 1,-0.6 1,-0.3 1,-0.1 1,-0.2 1,-0.1 1,0.3 1,0.4 1,0.3 1,0.6 1,0.3 1,0.1 1,0 1,-0.1 1,-0.2 1,0 1,0.1 1,0.3 1,0.1 1,0.1 1,-0.1 1,-0.1 1,-0.3 1,-0.1 1,0.1 1,0.1 1,0.2 1,0.3 1,0.2 1,0.1 1,0 1,0.1 1,0 1,0.2 1,0 1,0.1 1,0 1,-0.1 1,-0.2 1,-0.2 1,-0.2 1,-0.2 1,0 1,0.1 1,0 1,0.2 1,0.3 1,0.1 1,0.1 1,0.2 1,-0.2 1,-0.2 1,-0.1 1,-0.3 1,-0.4 1,-0.1 1,0 1,0.1 1,0.1 1,0.2 1,0.1 1,0.2 1,0 1,0.3 1,0.2 1,0.3 1,0.3 1,0.2 1,0 1,-0.2 1,-0.1 1,-0.2 1,-0.2 1,0 1,-0.1 1,0 1,0.2 1,0.2 1,0.2 1,0.1 1,0 1,0 1,0.1 1,-0.2 1,0.1 1,0.1 1,-0.1 1,0 1,0.1 1,0 1,-0.1 1,-0.1 1,-0.2 1,-0.3 1,-0.3 1,-0.1 1,0 1,-0.1 1,0 1,-0.1 1,0.1 1,0 1,0.2 1,0.3 1,0.5 1,0.4 1,0.2 1,0 1,-0.2 1,-0.4 1,-0.4 1,-0.2 1,-0.1 1,-0.1 1,0.1 1,0.2 1,-0.1 1,-0.1 1,0 1,-0.2 1,-0.3 1,-0.1 1,-0.1 1,-0.1 1,0.2 1,0.2 1,0.2 1,0.1 1,0.1 1,-0.1 1,0.1 1,0 1,0 1,0.1 1,0 1,0 1,0.1 1,0.1 1,0 1,0.2 1,0.1 1,0.1 1,0.2 1,0.1 1,-0.1 1,-0.1 1,-0.3 1,-0.3 1,-0.2 1,-0.1 1,0 1,0.1 1,0.1 1,0 1,0.1 1,0.1 1,0.2 1,0.1 1,0.1 1,0 1,-0.1 1,-0.3 1,-0.1 1,0 1,0.1 1,0 1,0.1 1,0 1,-0.1 1,-0.1 1,-0.1 1,-0.1 1,0 1,-0.1 1,0 1,0.1 1,0.1 1,0.1 1,0.2 1,0.1 1,0.1 1,0 1,0 1,-0.2 1,-0.3 1,-0.3 1,-0.3 1,-0.1 1,0.1 1,0.2 1,0.3 1,0.4 1,0.1 1,0 1,-0.1 1,-0.1 1,-0.1 1,0.1 1,0.2 1,0.1 1,0.1 1,0.1 1,-0.2 1,-0.3 1,-0.2 1,-0.2 1,-0.2 1,-0.1 1,0.1 1,0 1,0.1 1,0.3 1,0.3 1,0.2 1,0.1 1,0.1 1,-0.2 1,-0.2 1,-0.2 1,-0.2 1,-0.3 1,-0.1 1,-0.2 1,-0.2 1,-0.1 1,0.1 1,0.1 1,0.1 1,0.4 1,0.6 1,0.6 1,0.5 1,0.6 1,0.1 1,-0.2 1,-0.1 1,0 1,0 1,0 1,0.1 1,0 1,-0.1 1,-0.1 1,-0.2 1,-0.1 1,0.1 1,0 1,0 1,0 1,-0.2 1,-0.4 1,-0.1 1,-0.1 1,-0.1 1,0.1 1,0.3 1,0.1 1,0.1 1,0.2 1,0.2 1,-0.1 1,0.2 1,0.1 1,-0.3 1,-0.3 1,-0.3 1,-0.4 1,-0.3 1,-0.1 1,0 1,0 1,0.1 1,0 1,0.2 1,0 1,0.1 1,0 1,-0.1 1,0 1,0.1 1,0.1 1,0.2 1,0.3 1,0.2 1,-0.2 1,-0.3 1,-0.2 1,-0.3 1,-0.4 1,-0.1 1,0.1 1,-0.1 1,0.2 1,0.3 1,-0.1 1,0.1 1,0.1 1,0 1,-0.1 1,0.2 1,0.1 1,-0.1 1,0 1,0 1,0 1,0 1,0 1,-0.2 1,-0.3 1,-0.2 1,-0.2 1,-0.1 1,0.2 1,0.2 1,0.3 1,0.2 1,0 1,-0.1 1,-0.1 1,-0.2 1,-0.2 1,-0.1 1,0.1 1,0.1 1,0.2 1,0.2 1,0.1 1,0 1,0.1 1,0 1,0.1 1,-0.1 1,-0.1 1,-0.1 1,-0.3 1,-0.3 1,-0.3 1,-0.1 1,-0.2 1,0 1,0.2 1,0.2 1,0.2 1,0.3 1,0.1 1,0.1 1,0.1 1,0 1,0.2 1,0.3 1,0.1 1,0 1,0.2 1,0.2 1,0 1,0.2 1,0.4 1,0.2 1,0 1,0.2 1,-0.1 1,-0.1 1,-0.2 1,0.1 1,0 1,0 1,0 1,-0.1 1,-0.1 1,-0.2 1,-0.2 1,-0.2 1,-0.3 1,-0.2 1,-0.4 1,-0.2 1,-0.2 1,-0.2 1,0 1,0.3 1,0.2 1,0.4 1,0.4 1,0.3 1,-0.2 1,-0.2 1,-0.4 1,-0.5 1,-0.4 1,-0.1 1,0.1 1,0.2 1,0 1,0.1 1,-0.1 1,-0.2 1,-0.1 1,0 1,0 1,0.1 1,0.2 1,0 1,0.2 1,0 1,0.1 1,0 1,-0.1 1,-0.2 1,-0.2 1,-0.2 1,-0.2 1,-0.2 1,0 1,0.1 1,0.1 1,0.3 1,0.3 1,0.3 1,0.1 1,0.1 1,-0.1 1,-0.3 1,-0.2 1,-0.4 1,-0.3 1,-0.3 1,-0.1 1,-0.2 1,-0.1 1,0 1,0 1,0 1,0 1,0.1 1,-0.2 1,0.1 1,0.1 1,0.2 1,0 1,0.2 1,0 1,0 1,0 1,-0.1 1,-0.1 1,0 1,0.1 1,0 1,0 1,0.1 1,-0.1 1,-0.2 1,-0.2 1,-0.1 1,-0.1 1,-0.1 1,-0.1 1,-0.1 1,-0.3 1,-0.2 1,-0.1 1,-0.1 1,0.1 1,0.2 1,0.1 1,0.1 1,-0.1 1,-0.2 1,-0.3 1,-0.3 1,-0.3 1,0.1 1,0.1 1,0 1,0.2 1,0.2 1,0 1,0.1 1,0.1 1,0 1,0 1,0 1,0 1,0.1 1,0.2 1,0.1 1,0.2 1,0.1 1,0.1 1,0.1 1,0.3 1,0.3 1,0.1 1,0.2 1,0 1,-0.1 1,-0.1 1,0.1 1,0 1,0.2 1,0.3 1,0.2 1,0.2 1,0.2 1,0.1 1,0.1 1,0.2 1,0.2 1,0.2 1,0.1 1,0 1,0 1,-0.1 1,-0.1 1,-0.2 1,-0.1 1,-0.2 1,0 1,-0.1 1,0 1,0.1 1,0.1 1,0 1,0.2 1,0.1 1,0 1,0 1,-0.2 1,-0.2 1,-0.2 1,-0.3 1,-0.1 1,0.1 1,0.1 1,0.2 1,0.1 1,0 1,-0.1 1,-0.1 1,-0.2 1,-0.1 1,-0.1 1,0.1 1,0.1 1,0.1 1,-0.1 1,0 1,-0.1 1,-0.3 1,-0.1 1,0.1 1,0.1 1,0.1 1,0.1 1,-0.1 1,-0.1 1,-0.1 1,-0.1 1,0 1,0.1 1,0 1,-0.2 1,-0.1 1,-0.3 1,-0.3 1,-0.1 1,-0.1 1,-0.1 1,-0.2 1,0 1,-0.1 1,0 1,0.1 1,0.2 1,0 1,0.1 1,0 1,-0.1 1,-0.2 1,-0.1 1,-0.1 1,-0.1 1,0 1,0 1,0.1 1,0 1,-0.1 1,-0.3 1,-0.1 1,-0.2 1,0 1,0.1 1,0.2 1,0 1,0 1,0 1,0 1,-0.1 1,-0.1 1,-0.1 1,-0.2 1,-0.1 1,-0.2 1,0 1,0 1,0.1 1,0.1 1,0.1 1,0 1,-0.2 1,0 1,-0.1 1,0 1,-0.1 1,-0.1 1,-0.3 1,-0.3 1,-0.4 1,-0.5 1,-0.5 1,-0.6 1,-0.7 1,-0.9 1,-1 1,-1.2 1,-1.3 1,-1.3 1,-1.7 1,-1.9 1,-2 1,-2 1,-1.7 1,-1.3 1,-1.2 1,-1.2 1,-0.7 1,-0.2 1,0 1,0 1,0.1 1,-0.1 1,-0.1 1,0.1 1,0.8 1,1.2 1,1.4 1,1.5 1,1.4 1,1.7 1,1.7 1,1.7 1,1.6 1,1.2 1,1 1,1 1,0.9 1,0.8 1,0.6 1,0.4 1,0.2 1,0.2 1,0.1 1,0 1,0 1,-0.1 1,-0.2 1,-0.1 1,-0.3 1,-0.3 1,-0.4 1,-0.4 1,-0.7 1,-1 1,-1.1 1,-1 1,-0.9 1,-0.7 1,-0.6 1,-0.6 1,-0.5 1,-0.4 1,-0.3 1,-0.2 1,-0.1 1,-0.1 1,-0.1 1,0 1,-0.1 1,0 1,0 1,0 1,0 1,0.1 1,0.1 1,0.1 1,0.1 1,0.1 1,0 1,0 1,-0.1 1,-0.2 1,-0.3 1,-0.3 1,-0.4 1,-0.5 1,-0.8 1,-1.1 1,-1.1 1,-1.2 1,-1.1 1,-1.1 1,-1 1,-1 1,-1 1,-1 1,-0.9 1,-1 1,-0.9 1,-0.9 1,-0.8 1,-0.5 1,-0.2 1,-0.2 1,-0.2 1,-0.2 1,-0.1 1,0 1,0 1,0.1 1,0.4 1,0.4 1,0.5 1,0.5 1,0.6 1,0.7 1,0.7 1,0.8 1,0.8 1,0.9 1,0.9 1,1 1,1.1 1,1 1,0.9 1,0.7 1,0.7 1,0.7 1,0.7 1,0.7 1,0.6 1,0.4 1,0.2 1,0.1 1,-0.2 1,-0.3 1,-0.4 1,-0.4 1,-0.4 1,-0.2 1,-0.2 1,-0.1 1,-0.2 1,-0.2 1,-0.2 1,-0.5 1,-1.1 1,-1.5 1,-2 1,-3.2 1,-5.2 1,-6.1 1,-7.1 1,-8.5 1,-8.2 1,-7.8 1,-7.5 1,-5.6 1,-3.9 1,-3.1 1,-1.6 1,-0.7 1,-0.5 0.8,-0.2 1.2,1.3 1,2.4 1,3.2 1,5.8 1,7.5 1,7 1,7.2 1,7 1,6.1 1,4.9 1,4.3 1,3.9 1,3.5 1,3.2 1,3.2 1,2.8 1,2.5 1,1.9 1,1.5 1,1.4 1,1.2 1,1.1 1,0.7 1,0.6 1,0.4 1,0.4 1,0.4 1,0.3 1,0.3 1,0.2 1,0.1 1,0.1 1,0 1,0 1,0 1,0 1,0 1,0 1,0 1,0 1,0 1,0 1,0 1,0 1,0 1,0 1,-0.1 1,-0.2 1,-0.1 1,-0.2 1,-0.3 1,-0.2 1,-0.3 1,-0.3 1,-0.5 1,-0.6 1,-0.8 1,-0.8 1,-0.9 1,-1 1,-1.2 1,-1.5 1,-1.9 1,-2.5 1,-3.7 1,-4.6 1,-5.4 1,-7.2 1,-8.7 1,-8.4 1,-9.5 1,-8.6 1,-4.4 1,-2.4 1,-1.5 0.7,-0.4 1.3,0.8 1,1.3 1,5.2 1,7.6 1,4.7 1,3.2 0.4,0.4 0.6,-0.4 1,-2.2 1,-3.7 1,-9.9 1,-12.8 1,-13.2 1,-14 1,-9.6 1,-7.3 1.1,-3.7 0.9,0.4 1,1 1,4.8 1,9.8 1,10.1 1,11.7 1,11.3 1,9.2 1,8.6 1,7.4 1,5.3 1,3.9 1,3.2 1,2.2 1,1 1,0.7 1,0.6 1,0.5 1,0.4 1,0.3 1,0.3 1,0.2 1,0.2 1,0.3 1,0.4 1,1.3 1,2 1,1.9 1,1.1 1,0.7 1,0.6 1,0.6 1,0.7 1,0.8 1,1 1,0.9 1,1 1,0.9 1,0.7 1,0.7 1,0.7 1,0.6 1,0.7 1,0.6 1,0.5 1,0.5 1,0.5 1,0.5 1,0.3 1,0.4 1,0.3 1,0.3 1,0.3 1,0.2 1,0 1,0 1,0 1,-0.1 1,-0.1 1,-0.2 1,-0.1 1,-0.2 1,-0.5 1,-1.3 1,-1.8 1,-1.8 1,-1.5 1,-1.5 1,-1.5 1,-1.2 1,-0.7 1,-0.2 1,-0.2 1,-0.1 1,-0.1 1,0 1,0 1,0.2 1,0.7 1,1 1,1.1 1,1.3 1,1.9 1,2.3 1,2.2 1,1.9 1,2 1,1.8 1.3,1.1 0.7,0 1,-0.3 1,-0.4 1,-0.1 1,0 1,0 1,0 1,0 1,0.5 1,1.1 1,1.2 1,1 1,0.6 1,0.6 1,0.4 1,0.3 1,0.1 1,-0.2 1,-0.3 1,-0.5 1,-0.6 1,-0.7 1,-1.7 1,-2.4 1,-2.5 1,-1.8 1,-1.1 1,-0.8 1,-0.8 1,-0.8 1,-1 1,-1.2 1,-1.2 1,-1.2 1,-0.9 1,-0.8 1,-0.8 1,-0.5 1,-0.1 1,0.6 1,1 1,1.1 1,1.1 1,1.3 1,1.4 1,1.2 1,0.7 1,0.7 1,0.6 1,0.4 1,0.1 1,-0.3 1,-0.9 1,-1.2 1,-1.4 1,-1.8 1,-3 1,-3.6 1,-4 1,-3.7 1,-4.1 1,-4.2 1,-3.7 1,-3 1,-2.8 1,-2.3 1.1,-1 0.9,0.1 1,0.3 1,0.5 1,1.4 1,2.6 1,2.6 1,2.6 1,2.5 1,1.2 1,0.3 1,0.2 1,0.2 1,0.1 1,0.2 1,0.2 1,0.2 1,0.1 1,0.2 1.1,0 0.9,-0.4 1,-1.4 1,-2 1,-2.6 1,-5 1,-5.2 1,-2.7 1,-1.7 1,-1.1 0.5,-0.1 0.5,0.2 1,1.3 1,2 1,2.7 1,3.9 1,4.3 1,3.9 1,4 1,4 1,3.4 1,2.8 1,2.6 1,2.3 1,1.7 1,1.1 1,0.9 1,0.7 1,0.5 1,0.1 1,-0.2 1,-0.5 1,-0.7 1,-0.9 1,-1.1 1,-1.8 1,-2.4 1,-2.6 1,-2.8 1,-3.3 1,-3.7 1,-4.3 1,-5 1,-6.1 1,-6.5 1,-6.6 1,-7 1,-7.2 1,-7.9 1,-8.2 1,-7.9 1,-7.4 1,-7.1 1,-6.5 1,-6 1,-5.6 1,-4.7 1,-4.3 1,-3.8 1,-2.9 1,-2.3 1,-2 1,-1.4 1,-0.5 1,-0.3 1,-0.2 1,0 1,0.5 1,1.5 1,2.1 1,2.6 1,3.9 1,4.7 1,5.1 1,6 1,6.4 1,6.7 1,7 1,7.2 1,7.1 1,7.1 1,6.8 1,6.7 1,6.4 1,5 1,3.8 1,3.1 1,1.3 1,0.3 1,0.2 1,0.1 0.5,0 0.5,-0.2 1,-1.2 1,-1.8 1,-2 1,-1.4 1,-1.2 1,-1 1,-1 1,-0.9 1,-0.9 1,-1 1,-1.1 1,-1.1 1,-0.9 1,-0.4 1,0 1,0.2 1,0.2 1,0.3 1,0.6 1,1.6 1,2.1 1,1.9 1,1.4 1,1.3 1,0.9 0.8,0.3 1.2,-0.5 1,-1 1,-1.4 1,-2.3 1,-4.4 1,-5.4 1,-5.8 1,-7.1 1,-7.5 1,-6.9 1,-7.5 1,-4.7 1,-1.4 1,-0.8 0.5,-0.1 0.5,0.7 1,4.2 1,5.8 1,10.2 1,10.8 1,7.9 1.2,5.5 0.8,-0.6 1,-2.2 1,-6.1 1,-13 1,-13.5 1,-15.3 1,-14.5 1,-12 1,-10.8 1,-7 1,-4.6 1,-3 0.5,-0.5 0.5,0.1 1,0.4 1,0.9 1,3.7 1,8.4 1,9.2 1,10.9 1,11.8 1,10.2 1,8.9 1,8.2 1,7.7 1,7.6 1,7.5 1,6.9 1,5.9 1,5.3 1,5.1 1,4.2 1,2.8 1,1.8 1,1.6 1,1.2 1,0.7 0.8,0.2 1.2,-0.5 1,-1.2 1,-1.7 1,-2.1 1,-3.7 1,-5.7 1,-7 1,-8.7 1,-11.3 1,-12.4 1,-14.3 1,-15.4 1,-12.7 1,-11 1,-7.2 1,-3.4 1,-2.1 0.7,-0.5 1.3,2.2 1,3.8 1,6.1 1,10.7 1,11.5 1,11.2 1,11.5 1,10.1 1,9.4 1,8.3 1,5.3 1,3.6 1,2.7 1,1.1 1,-0.5 1,-1.5 1,-1.9 1,-4.4 1,-5.5 1,-2.3 1,-1 1,-0.7 1,0.1 1,0.9 1,1 1,0.3 1,0 1,0 1,0 1,1.1 1,3.5 1,3.7 1,2.6 1,2.5 1.1,1.2 0.9,-0.7 1,-2 1,-2.2 1,-1.3 1,-1.1 1,-0.9 1,-0.5 0.4,-0.1 0.6,0.2 1,0.8 1,1.3 1,1.7 1,2.4 1,3.8 1,4.4 1,3.9 1,3.8 1,3.6 1,3.3 1,2.7 1,2.5 1,2.2 1,1.8 1,1.2 1,0.8 1,0.7 1,0.5 1,0.5 1,0.4 1,0.4 1,0.3 1,0.3 1,0.3 1,0.6 1,1.1 1,1.2 1,0.9 1,0.2 1,0 1,0 1,0 1,0 1,-1.7 1,-5.2 1,-7.6 1,-8.8 1,-8.8 1,-9.5 1,-10.8 1,-5.2 1,-2.4 1,-0.9 1,2.2 1,4.8 1,6.1 1,8.4 1,8 1,6.8 1,6.3 1,4.6 1,3.5 1,2.7 1,1.5 1,0.8 1,0.5 1,0.5 1,0.3 1,0.3 1,0.1 1,0.2 1,0.2 1,0.3 1,0.8 1,1.1 1,1.1 1,0.9 1,0.8 1,0.6 1,0.6 1,0.7 1,0.8 1,1 1,1.1 1,1.1 1,1 1,0.9 1,0.8 1,0.8 1,0.7 1,0.6 1,0.6 1,0.5 1,0.4 1,0.4 1,0.4 1,0.3 1,0.3 1,0.3 1,0.3 1,0.4 1,0.3 1,0.3 1,0.3 1,0.2 1,0.1 1,0.1 1,0.1 1,0 1,0.1 1,0.2 1,0.3 1,0.5 1,0.6 1,0.6 1,0.6 1,0.5 1,0.4 1,0.4 1,0.4 1,0.4 1,0.4 1,0.4 1,0.4 1,0.3 1,0.4 1,0.4 1,0.4 1,0.4 1,0.5 1,0.5 1,0.6 1,0.6 1,0.4 1,0.3 1,0 1,-0.2 1,-0.4 1,-0.3 1,-0.2 1,0 1,0 1,0 1,0 1,0.1 1,0.6 1,0.8 1,0.7 1,0.5 1,0.4 1,0.4 1,0.4 1,0.2 1,0.2 1,0.1 1,0.1 1,0.1 1,0 1,0 1,0.1 1,0 1,0 1,0 1,-0.1 1,0 1,-0.1 1,-0.1 1,-0.1 1,-0.2 1,-0.2 1,-0.6 1,-0.9 1,-1 1,-1.3 1,-1.8 1,-2.6 1,-3.3 1,-4.5 1,-6.5 1,-7.8 1,-10.1 1,-12.1 1,-11.2 1,-11.1 1,-7.2 1,-4.6 0.8,-1.6 1.2,1.7 1,3.1 1,6.9 1,8.6 1,6.8 1,6 1,2.8 1,1.6 0.9,0.5 1.1,-1.3 1,-2.8 1,-3.5 1,-5.6 1,-6.2 1,-5.1 1,-5.1 1,-3.8 1,-1.6 1,-1 1.3,-0.6 0.7,1.2 1,4.4 1,5 1,6 1,2.7 1,0.9 1.1,0.3 0.9,-1.2 1,-3.1 1,-4.6 1,-8.2 1,-8.8 1,-8.5 1,-8.7 1,-6.8 1,-5.3 1,-3.6 1,-0.5 1,-0.1 0.7,0 1.3,3.2 1,4.9 1,6 1,8.7 1,8.6 1,6.8 1,6.2 1,5.6 1,4.6 1,4.1 1,3.5 1,3 1,2.7 1,2.3 1,2 1,1.8 1,1.6 1,1.3 1,1.1 1,1.1 1,1 1,1.2 1,1.1 1,1.2 1,1.2 1,1.4 1,1.8 1,1.9 1.3,1.1 0.7,-0.6 1,-1.8 1,-1.3 1,-0.1 1,0 1,0 1,0.6 1,2.6 1,3.3 1,2.6 1,2.5 1,2.5 1,2.4 1,2.4 1,2.3 1,2.1 1,1.6 1,1.4 1,1.3 1,0.8 1,0.4 1,0.3 1,0.2 1,0 1,-0.6 1,-1.2 1,-1.3 1,-1.4 1,-1.5 1,-1.8 1,-2 1,-2.1 1,-2.4 1,-2.7 1,-2.9 1,-2.8 1,-2.9 1,-3.3 1,-2.8 1,-1.2 1,-0.4 1,-0.3 1,0 1,0.8 1,1 1,0.5 1,-0.2 1,-0.5 1,-0.7 1,-0.9 1,-1.3 1,-1.6 1,-1.7 1,-1.5 1,-1.6 1,-1.6 1,-1.4 1,-0.7 1,-0.4 1,-0.4 1.2,-0.1 0.8,0.4 1,1.4 1,1.9 1,1.8 1,2.3 1,2.5 1,2.4 1,2.1 1,2.2 1,1.5 0.4,0.2 0.6,-0.1 1,-0.6 1,-0.9 1,-2 1,-4.6 1,-5.5 1,-5.9 1,-6.9 1,-5.5 1,-3.3 1,-2.4 0.6,-0.4 0.4,0.4 1,2.6 1,4.3 1,8.2 1,8.9 1,7.6 1,5.5 1,0.9 1,0.4 1,-2.5 1,-5.1 1,-6 1,-7.5 1,-7.2 1,-7.1 1,-6.9 1,-6.5 1,-6.4 1,-5.8 1,-4.3 1,-3.8 1,-2 1,-0.7 1,-0.4 1,0.1 1,0.7 1,1.1 1,2.1 1,4.2 1,6.2 1,11 1,9.5 1,8.3 1,7.1 1,6.8 1,4.9 1,1.6 1,1 1,0.4 1,-0.2 1,-0.6 1,-0.8 1,-0.8 1,-0.9 1,-1.1 1,-1.1 1,-0.9 1,-0.8 1,-0.8 1,-0.6 1,-0.2 1,0 1,0.2 1,0.2 1,0.5 1,1.3 1,1.7 1,1.7 1,2.1 1,2.5 1,2.5 1,2.4 1,2.6 1,2.4 1,1.9 1,1.7 1,1.4 1,0.5 1,-0.3 1,-0.7 1,-2.8 1,-6.1 1,-6.8 1,-5.9 1,-2.5 1,-1.5 1,-0.2 1,0 1,0 1,0 1,0 1,0.5 1,0.8 1,2.4 1,2.5 1,0.2 1,0 1,-0.2 1,-3.3 1,-3.5 1,-1.4 1,-1 1,0.1 1,1.2 1,1.7 1,2.6 1,2.4 1,0.6 1,0.3 0.7,0.1 1.3,-2.5 1,-2.9 1,-2.7 1,-2.7 1,-2 1,-1.7 1,-1.1 1,-0.2 1,0 1,0.1 1,0.1 1,0.7 1,1.1 1,1.1 1,1 1,1 1,0.7 1,0.1 1,-0.6 1,-1 1,-1 1,-1 1,-1.1 1,-1 1,-0.9 1,-0.7 1,-0.6 1,-0.6 1,-0.7 1,-0.7 1,-0.8 1,-1.1 1,-2.1 1,-4.7 1,-8.5 1,-13.8 1,-18.7 1,-22.7 1,-15.4 1,-10.4 1,-6.9 1,-4.4 1,-3.6 1,-4.5 1,-5.2 1,-6.6 1,-10 1,-10.5 1,-10.4 1,-9.1 1,-8 1,-5.3 1,-2.8 1,2.7 1,8.1 1,14.9 1,13.4 1,11.4 1,9.3 1,4.4 1,2.8 1,2.9 1,2.9 1,2.9 1,3.4 1,4.4 1,5.2 1,5.6 1,6.5 1,7 1,6.6 1,6.4 1,6.2 1,5.7 1,5.5 1,5.1 1,4.1 1,3.5 1,3 1,2.3 1,1.8 1,1.5 1,1.1 1,0.8 1,0.4 1,0.4 1,0.2 1,0.2 1,-0.7 1,-1.7 1,-1.5 1,-0.5 1,-0.4 1,-0.1 1,0.2 1,0.5 1,0.9 1,0.9 1,1.3 1,1.9 1,2.1 1,2.2 1,2.9 1,2.9 1,2.7 1,2.4 1,2.1 1,2 1,1.8 1,1.7 1,1.4 1,1.4 1,1.4 1,1.4 1,1.5 1,1.6 1,1.5 1,1.6 1,1.2 1,1 1,1.1 1,1 1,0.4 1,0.4 1,0.3 1,0.3 1,0.1 1,0 1,-0.7 1,-1 1,-1.1 1,-0.9 1,-1 1,-0.6 1,0.1 1,0.4 1,0.5 1,0.4 1,0.1 1,-0.2 1,-0.2 1,-0.4 1,-0.1 1,0.6 1,1 1,1.2 1,1.3 1,1.3 1,1.3 1,1.2 1,1.2 1,1.2 1,1.1 1,0.9 1,0.8 1,0.5 1,0.4 1,0.7 1,0.8 1,0.8 1,0.3 1,-0.1 1,-0.3 1,-0.6 1,-0.7 1,-0.8 1,-0.9 1,-1 1,-0.8 1,-0.8 1,-1 1,-1.3 1,-1.6 1,-2.1 1,-3 1,-5.4 1,-7.8 1,-10 1,-11.8 1,-12.5 1,-8.6 1.2,-4.3 0.8,1.4 1,4.8 1,10.1 1,6.9 1,5.6 1,4.3 1,3.6 1,2.8 1,2.2 1,1.9 1,1.6 1,1.6 1,1.2 1,1.3 1,1.6 1,1.9 1,2.2 1,2.4 1,3 0.2,0.6"/></g>
<path d="M195,3081.7l1,0.2 1,-0.1 1,-0.1 1,-0.2 1,-0.2 1,-0.1 1,0.1 1,0.2 1,0.2 1,0.2 1,0.1 1,0 1,0.1 1,0 1,-0.1 1,0 1,0.1 1,0 1,-0.1 1,-0.1 1,0 1,-0.1 1,0 1,0 1,-0.1 1,-0.1 1,-0.2 1,-0.3 1,0 1,-0.1 1,0 1,0.2 1,0.1 1,0 1,0.2 1,0.2 1,0.2 1,0.2 1,0 1,0 1,0 1,-0.2 1,-0.2 1,0 1,-0.2 1,-0.2 1,0 1,-0.1 1,-0.2 1,0.1 1,0 1,-0.1 1,0 1,0 1,0.1 1,-0.1 1,0.1 1,0.1 1,0.1 1,-0.1 1,0.1 1,0.1 1,0 1,0.2 1,0 1,0 1,-0.1 1,0.1 1,0 1,0.1 1,0.1 1,0.3 1,0 1,0.1 1,-0.1 1,-0.2 1,-0.3 1,-0.2 1,-0.2 1,0 1,0 1,0 1,0 1,0 1,0 1,0 1,0.1 1,0.2 1,0.2 1,0.1 1,0.1 1,0 1,-0.1 1,-0.1 1,0 1,-0.1 1,0.2 1,0.2 1,0.3 1,0.2 1,0.1 1,-0.1 1,-0.3 1,-0.5 1,-0.3 1,-0.1 1,-0.1 1,0 1,0.1 1,0 1,-0.1 1,0.1 1,0.2 1,0.2 1,0.3 1,0.3 1,0.1 1,0.1 1,0 1,0 1,-0.2 1,-0.1 1,-0.3 1,-0.1 1,-0.1 1,0.1 1,0 1,-0.1 1,-0.1 1,0 1,0 1,0.1 1,0.1 1,0 1,-0.2 1,-0.1 1,-0.1 1,-0.1 1,0.2 1,0.2 1,0 1,0 1,-0.1 1,-0.2 1,-0.2 1,-0.1 1,-0.1 1,0 1,0.1 1,0.1 1,0.2 1,0.2 1,0.2 1,0.1 1,0.1 1,0 1,-0.1 1,-0.1 1,0 1,0.1 1,0.1 1,0.2 1,0.2 1,0 1,0 1,-0.1 1,-0.1 1,0 1,0.1 1,0.1 1,0.2 1,0.1 1,-0.1 1,-0.3 1,-0.2 1,-0.2 1,0 1,-0.1 1,0.1 1,0.1 1,-0.1 1,-0.1 1,-0.2 1,-0.3 1,-0.1 1,-0.1 1,0.2 1,0.3 1,0.3 1,0.2 1,0.2 1,-0.1 1,-0.2 1,-0.3 1,-0.2 1,-0.2 1,0 1,0 1,0.2 1,0.1 1,0.1 1,-0.1 1,0 1,-0.1 1,-0.1 1,0 1,0 1,-0.1 1,-0.2 1,-0.2 1,0 1,0 1,0.1 1,0.1 1,0.3 1,0 1,0 1,0 1,-0.1 1,-0.2 1,0 1,0 1,-0.2 1,0.1 1,0.2 1,0 1,0.1 1,0.1 1,0 1,-0.1 1,0.1 1,0.1 1,0 1,0.1 1,0.1 1,0 1,0 1,0.2 1,0.1 1,0.1 1,0.1 1,0.1 1,0 1,0 1,-0.2 1,0 1,0 1,-0.1 1,-0.2 1,0 1,-0.1 1,-0.1 1,0 1,0.1 1,0.2 1,0.3 1,0.1 1,0.2 1,-0.1 1,-0.1 1,0 1,0 1,-0.1 1,0 1,0.1 1,-0.1 1,0 1,0 1,0 1,-0.2 1,-0.1 1,-0.1 1,-0.1 1,-0.1 1,0.2 1,0.1 1,0 1,0 1,-0.1 1,-0.2 1,-0.1 1,0 1,0.1 1,0.3 1,0.1 1,0 1,-0.1 1,-0.2 1,-0.3 1,-0.3 1,-0.2 1,0 1,-0.2 1,0 1,0.2 1,0 1,0 1,0.4 1,0.3 1,0.1 1,0.2 1,0 1,-0.2 1,-0.2 1,0 1,0 1,0.1 1,0.1 1,0 1,-0.2 1,-0.3 1,-0.3 1,-0.3 1,-0.3 1,-0.1 1,0.1 1,0.2 1,0.4 1,0.4 1,0.3 1,0.5 1,0.6 1,0.6 1,0.6 1,0.2 1,-0.1 1,-0.2 1,-0.2 1,-0.2 1,0.1 1,0.1 1,0 1,0 1,0 1,0 1,0 1,-0.1 1,0.1 1,-0.1 1,-0.1 1,0 1,0 1,-0.1 1,0.1 1,0 1,0 1,-0.3 1,-0.2 1,0 1,-0.2 1,0 1,-0.1 1,-0.2 1,-0.3 1,-0.2 1,-0.2 1,-0.1 1,0.1 1,0 1,0 1,0.1 1,0.1 1,0 1,0.1 1,0.3 1,0.1 1,0.1 1,0 1,0 1,-0.1 1,-0.1 1,-0.1 1,0.1 1,0.1 1,0.1 1,0.2 1,0 1,-0.1 1,-0.2 1,-0.2 1,-0.2 1,0 1,0 1,0 1,0 1,0 1,-0.1 1,-0.1 1,0 1,0 1,0 1,0 1,0.2 1,0.2 1,0.2 1,0.2 1,0.2 1,0.2 1,0 1,-0.1 1,0 1,-0.2 1,-0.1 1,-0.1 1,0 1,-0.1 1,-0.1 1,-0.2 1,0.1 1,0 1,0 1,-0.1 1,0.1 1,0 1,0 1,0 1,0.1 1,0 1,0 1,-0.2 1,-0.2 1,-0.2 1,-0.3 1,-0.2 1,0 1,0 1,0.1 1,0.1 1,0.1 1,-0.1 1,-0.1 1,-0.2 1,0 1,-0.1 1,0 1,0.2 1,0.1 1,0 1,0.2 1,0.2 1,0 1,0 1,0.1 1,-0.1 1,0.1 1,0.2 1,0.1 1,0.2 1,0 1,-0.1 1,0 1,-0.1 1,-0.1 1,-0.1 1,0 1,0.1 1,0.1 1,0.2 1,0.1 1,-0.1 1,-0.2 1,-0.4 1,-0.3 1,-0.2 1,-0.1 1,0 1,0.1 1,0 1,0.1 1,0 1,0 1,0.1 1,0.1 1,-0.2 1,-0.1 1,0 1,0 1,0 1,0.2 1,0.2 1,0.3 1,0.3 1,0.3 1,0.3 1,0.1 1,-0.1 1,-0.1 1,-0.2 1,-0.2 1,-0.2 1,0.1 1,-0.1 1,0.2 1,0 1,0.1 1,-0.1 1,-0.1 1,-0.2 1,-0.1 1,-0.1 1,0 1,0 1,0.1 1,0.1 1,0.1 1,-0.2 1,-0.1 1,-0.2 1,-0.1 1,-0.2 1,0 1,0.1 1,0 1,0.1 1,0.1 1,0.1 1,0.2 1,0.1 1,-0.1 1,-0.1 1,-0.1 1,-0.2 1,-0.1 1,0 1,0.1 1,0.1 1,0.2 1,0.2 1,0.1 1,-0.1 1,0.1 1,-0.1 1,-0.1 1,-0.1 1,0.2 1,-0.1 1,0 1,-0.1 1,0 1,-0.2 1,-0.1 1,-0.2 1,0 1,0 1,0.1 1,0.2 1,0.2 1,0.1 1,0.1 1,-0.1 1,-0.2 1,-0.2 1,-0.3 1,-0.4 1,-0.2 1,0.1 1,0.2 1,0.2 1,0.3 1,0.3 1,0 1,0.1 1,0.1 1,0 1,0 1,0.1 1,0.1 1,-0.1 1,0 1,0 1,-0.3 1,-0.1 1,0 1,0 1,0.1 1,0.1 1,0 1,-0.1 1,0.1 1,-0.1 1,0.2 1,0.2 1,0 1,0 1,0 1,-0.1 1,-0.1 1,0 1,-0.1 1,0 1,-0.1 1,-0.1 1,-0.2 1,0 1,0.1 1,0.1 1,0 1,0.1 1,0 1,-0.2 1,-0.1 1,0.1 1,0.1 1,0.1 1,0.4 1,0.4 1,0.1 1,0 1,0.1 1,-0.3 1,-0.5 1,-0.3 1,-0.3 1,-0.2 1,-0.1 1,0.2 1,0.1 1,0.1 1,0.1 1,0.2 1,0 1,0.1 1,0.2 1,0.1 1,0 1,0.1 1,-0.1 1,-0.1 1,0 1,-0.2 1,-0.1 1,-0.2 1,0 1,-0.1 1,0 1,0.1 1,0 1,-0.1 1,-0.1 1,-0.1 1,-0.3 1,-0.1 1,0.1 1,0 1,0.2 1,0.3 1,0.3 1,0.2 1,0.3 1,0 1,-0.2 1,-0.4 1,-0.4 1,-0.3 1,-0.1 1,0.1 1,0.3 1,0.4 1,0.2 1,0.1 1,-0.1 1,0 1,0 1,0.2 1,0.2 1,0.3 1,0.2 1,0.1 1,0 1,-0.2 1,-0.2 1,-0.2 1,-0.3 1,-0.2 1,-0.2 1,-0.1 1,-0.1 1,0 1,0 1,0 1,0.1 1,0.1 1,0.1 1,0 1,0.1 1,0 1,0 1,-0.2 1,-0.1 1,-0.1 1,-0.1 1,0.1 1,0.1 1,0.1 1,0 1,0 1,-0.2 1,-0.2 1,0 1,-0.1 1,0 1,0 1,0.1 1,0 1,0 1,0 1,0.1 1,-0.1 1,0.1 1,0.2 1,0 1,0 1,0 1,0 1,-0.2 1,0 1,0 1,-0.1 1,-0.1 1,0 1,0.1 1,0.1 1,0.1 1,0 1,0.1 1,-0.1 1,-0.1 1,0 1,0.1 1,0 1,0 1,0 1,0 1,0 1,0 1,-0.1 1,0 1,0 1,-0.2 1,-0.2 1,-0.1 1,-0.1 1,0 1,0.2 1,0.3 1,0.2 1,0.2 1,0 1,-0.1 1,-0.2 1,-0.1 1,-0.1 1,0 1,0.2 1,0.2 1,0 1,0 1,0 1,-0.3 1,-0.2 1,0 1,0 1,0.1 1,0.1 1,-0.1 1,-0.1 1,-0.1 1,0 1,0 1,0.1 1,0.1 1,0.1 1,0 1,-0.1 1,0 1,0 1,0.1 1,0 1,0.1 1,0 1,0 1,0 1,-0.1 1,-0.2 1,-0.2 1,-0.3 1,-0.3 1,-0.1 1,0.1 1,0.2 1,0.3 1,0.4 1,0.2 1,0 1,0.2 1,0 1,0 1,0.1 1,0.1 1,-0.1 1,0 1,-0.2 1,-0.2 1,-0.2 1,-0.1 1,-0.1 1,0 1,0.1 1,0.2 1,0.2 1,0.4 1,0.2 1,0.2 1,0 1,0 1,-0.2 1,-0.3 1,-0.2 1,-0.2 1,-0.2 1,-0.3 1,0 1,0 1,0.1 1,0 1,0.1 1,-0.1 1,-0.2 1,-0.1 1,0 1,-0.1 1,0.1 1,0.3 1,0.2 1,0.3 1,0.3 1,0.1 1,0.1 1,-0.1 1,-0.1 1,-0.3 1,-0.2 1,-0.2 1,-0.1 1,-0.2 1,-0.1 1,-0.1 1,-0.1 1,-0.2 1,-0.1 1,-0.1 1,-0.1 1,-0.1 1,-0.1 1,-0.2 1,-0.3 1,-0.5 1,-0.6 1,-0.6 1,-0.4 1,-0.6 1,-0.5 1,-0.5 1,-0.5 1,-0.6 1,-0.4 1,-0.6 1,-0.4 1,-0.6 1,-0.4 1,-0.6 1,-0.6 1,-0.7 1,-0.6 1,-0.3 1,0.1 1,0.5 1,0.7 1,0.8 1,0.8 1,0.9 1,0.9 1,1.2 1,1.1 1,1 1,0.6 1,0.8 1,0.6 1,0.5 1,0.3 1,0.4 1,0.1 1,0 1,-0.1 1,0 1,-0.1 1,0 1,0.2 1,0.2 1,0.1 1,0.2 1,0.2 1,0 1,0.1 1,0.1 1,0.2 1,0.1 1,0.1 1,0.1 1,-0.1 1,-0.3 1,-0.3 1,-0.4 1,-0.2 1,-0.1 1,0.1 1,0.1 1,0.3 1,0.1 1,-0.1 1,0 1,0 1,-0.1 1,0.1 1,0.1 1,0.2 1,0.1 1,0.2 1,0.2 1,0 1,-0.1 1,0.1 1,-0.1 1,-0.2 1,-0.2 1,-0.3 1,-0.5 1,-0.4 1,-0.5 1,-0.5 1,-0.8 1,-0.9 1,-0.8 1,-0.4 1,-0.2 1,0.1 1,0.2 1,0.1 1,0.4 1,0.6 1,0.5 1,0.1 1,0.1 1,-0.1 1,-0.2 1,-0.3 1,-0.3 1,-0.4 1,-0.3 1,-0.4 1,-0.5 1,-0.5 1,-0.6 1,-0.7 1,-0.7 1,-0.7 1,-0.7 1,-0.6 1,-0.8 1,-0.7 1,-0.6 1,-0.8 1,-0.6 1,-0.4 1,-0.4 1,-0.5 1,-0.4 1,-0.5 1,-0.5 1,-0.5 1,-0.3 1,-0.3 1,-0.1 1,-0.2 1,0 1,-0.4 1,-0.7 1,-1.3 1,-2.7 1,-3.6 1,-5.9 1,-6.7 1,-2.1 1,-1.1 1,-0.7 1,-0.5 1,-0.1 1,0 1,0 1,0.1 1,0.1 1,0.1 1,0.2 1,0.3 1,0.2 1,0.1 1,-0.1 1,-0.1 1,-0.1 1,-0.1 1,0 1,0.1 1,0 1,0.1 1,0 1,-0.3 1,-1.1 1,-1.4 1,-1 1,-0.7 1,-0.6 1,-0.5 1,-0.2 1,-0.3 1,-0.1 1,-0.2 1,-0.3 1,-0.2 1,0 1,0.3 1,0.7 1,0.9 1,1.1 1,1.1 1,1.5 1,1.7 1,1.8 1,1.9 1,2.1 1,2.5 1,2.6 1,2.5 1,2.3 1,1.8 1,1.7 1,1.6 1,1.5 1,1.4 1,1.4 1,1.1 1,0.8 1,0.8 1,0.6 1,0.4 1,0.4 1,0.3 1,0.5 1,0.5 1,0.6 1,0.5 1,0.4 1,-0.1 1,-0.6 1,-2.2 1,-8.4 1,-4.5 1,-1.5 0.4,-0.2 0.6,1.4 1,5.8 1,4.5 1,3.8 1,1.8 1,1.2 1,0.7 1,0.6 1,0.5 1,0.3 1,0.2 1,0.2 1,0.3 1,0.1 1,0.3 1,0.3 1,0.2 1,0.3 1,0.4 1,0.1 1,0.1 1,0.1 1,0 1,-0.1 1,0 1,0.1 1,-0.1 1,0 1,0.2 1,0.2 1,0.1 1,0.3 1,0.4 1,0.2 1,0.2 1,0.3 1,0.3 1,0.1 1,0.2 1,-0.1 1,-0.1 1,-0.1 1,-0.1 1,0.1 1,0.2 1,0.1 1,0.1 1,0 1,-0.2 1,-0.2 1,-0.3 1,-0.1 1,-0.2 1,-0.2 1,-0.2 1,-0.2 1,-0.2 1,-0.3 1,-0.2 1,-0.3 1,-0.9 1,-1.7 1,-2.5 1,-3.5 1,-7.1 1,-9.7 1,-11.4 1,-16.4 1,-5.8 1,-0.7 0.4,-0.3 0.6,3 1,13.1 1,10.9 1,9.7 1,6.7 1,4.2 1,3.4 1,2.3 1,1.5 1,1.3 1,1.1 1,1.1 1,0.9 1,0.6 1,0.6 1,0.4 1,0.4 1,0.2 1,0.3 1,0.3 1,0.4 1,0.3 1,0.1 1,0.1 1,0.1 1,-0.1 1,-0.1 1,0.1 1,0 1,0 1,0.1 1,0 1,0 1,-0.1 1,-0.1 1,0 1,0 1,0 1,0 1,0 1,-0.1 1,-0.2 1,-0.2 1,-0.3 1,-0.2 1,-0.1 1,0 1,0.2 1,0.2 1,0.3 1,0.1 1,0.2 1,-0.1 1,-0.1 1,-0.1 1,-0.2 1,-0.2 1,-0.1 1,-0.1 1,-0.1 1,-0.1 1,-0.1 1,-0.1 1,-0.2 1,-0.2 1,0 1,0 1,0 1,0.1 1,0.1 1,0.1 1,-0.1 1,0 1,-0.1 1,-0.1 1,0.1 1,0.1 1,0.1 1,0 1,0.1 1,0 1,-0.1 1,0.1 1,0.1 1,-0.1 1,-0.1 1,0.1 1,-0.1 1,0 1,0 1,0.1 1,0.2 1,0 1,0.1 1,0.1 1,0 1,0 1,0 1,0 1,-0.2 1,-0.2 1,-0.3 1,-0.3 1,-0.2 1,-0.2 1,-0.1 1,-0.1 1,-0.2 1,-0.3 1,-0.4 1,-0.4 1,-0.6 1,-0.4 1,-0.4 1,-0.8 1,-1.2 1,-1.5 1,-2 1,-3.8 1,-5.2 1,-5.7 1,-7.6 1,-6.2 1,-3.3 1.1,-1.6 0.9,2.1 1,4.8 1,6.3 1,7.6 1,5.2 1,4.1 1,3.5 1,2.4 1,1.7 1,1.4 1,1 1,0.6 1,0.2 1,0 1,0 1,0 1,0.2 1,0.1 1,0.1 1,0 1,-0.3 1,-0.6 1,-0.9 1,-1.1 1,-1.3 1,-2.6 1,-5.2 1,-8.9 1,-35.3 1,-53.5 1,-60.1 0.7,-27.1 1.3,2.7 1,80.2 1,44.7 1,25.9 1,13.9 1,7.3 1,4.6 1,3.5 1,2.7 1,2.2 1,1.6 1,1.4 1,1.3 1,1 1,0.6 1,0.6 1,0.6 1,0.3 1,0.4 1,0.2 1,0 1,0 1,0 1,0 1,0 1,0.1 1,0 1,0.2 1,0.1 1,0.1 1,0.2 1,0.1 1,0.1 1,0 1,0 1,0 1,-0.2 1,0 1,-0.1 1,0 1,0 1,0 1,-0.1 1,-0.1 1,-0.2 1,-0.2 1,-0.2 1,-0.4 1,-0.7 1,-1.1 1,-1.1 1,-1.5 1,-1.4 1,0.2 1,1.1 1,0.9 1,0.5 1,0.5 1,0.1 1,-0.1 1,-0.4 1,-0.4 1,-0.5 1,-0.5 1,-0.4 1,-0.2 1,-0.2 1,-0.2 1,-0.2 1,-0.2 1,-0.2 1,-0.1 1,-0.1 1,-0.1 1,-0.2 1,-0.3 1,-0.2 1,-0.3 1,-0.2 1,-0.2 1,-0.1 1,0 1,0.1 1,0.1 1,0.1 1,0.1 1,0 1,0.1 1,0.1 1,0 1,0 1,0 1,0 1,0.1 1,0 1,0 1,0.1 1,0 1,-0.1 1,0 1,0 1,0.1 1,0.1 1,0.5 1,0.7 1,0.8 1,0.6 1,0.5 1,0 1,0 1,0 1,0.1 1,0 1,-0.1 1,-0.3 1,-0.3 1,0 1,0.1 1,0.2 1,0.3 1,0.3 1,0.2 1,0.1 1,0 1,-0.2 1,-0.2 1,-0.3 1,-0.2 1,-0.3 1,-0.4 1,-1 1,-1.4 1,-1.8 1,-1.9 1,-2.2 1,-2.8 1,-3.2 1,-4.5 1,-6 1,-5.6 1,-5 1,-4.8 1,-2.8 1,-1.2 1.3,-0.8 0.7,0.4 1,1.7 1,2.5 1,5.2 1,6.4 1,5 1,4.8 1,4.3 1,3.6 1,2.7 1,2.3 1,1.9 1,1.5 1,1.2 1,1 1,1 1,1 1,0.9 1,0.7 1,0.4 1,0.4 1,0.3 1,0.2 1,0.3 1,0.4 1,0.4 1,0.3 1,0.4 1,0.2 1,0.2 1,0.1 1,0.2 1,-0.1 1,-0.7 1,-1.4 1,-1.8 1,-3.6 1,-4.4 1,-1.8 0.8,-0.6 1.2,4.4 1,4.5 1,4.2 1,2.7 1,0.6 1,0.3 1,0.4 1,0.2 1,0.2 1,0.2 1,0 1,0.1 1,0.1 1,0 1,0 1,0 1,0 1,-0.1 1,0.2 1,0.2 1,0.1 1,0 1,0.1 1,0 1,0 1,0.1 1,0.1 1,0.1 1,0 1,0.1 1,0 1,-0.1 1,0 1,0.1 1,-0.1 1,-0.1 1,-0.1 1,-0.2 1,-0.1 1,0 1,0 1,0.1 1,0.1 1,0 1,-0.1 1,-0.1 1,-0.1 1,-0.2 1,-0.1 1,0.1 1,-0.1 1,-0.2 1,-0.3 1,-0.2 1,-0.3 1,-0.1 1,0 1,0.2 1,0.2 1,0.3 1,0.1 1,0.1 1,-0.2 1,-0.1 1,-0.1 1,-0.1 1,0.1 1,0 1,0 1,0.1 1,0 1,0 1,0.1 1,0.2 1,0 1,0.2 1,0.2 1,0.1 1,0.2 1,0.1 1,0 1,-0.2 1,-0.3 1,-0.2 1,-0.1 1,0 1,0.2 1,0.3 1,0.1 1,0 1,-0.1 1,-0.2 1,-0.1 1,-0.1 1,0 1,0.1 1,0.1 1,0 1,0 1,-0.1 1,-0.1 1,-0.2 1,-0.1 1,0 1,0 1,-0.1 1,-0.4 1,-0.4 1,-0.5 1,-0.3 1,0 1,0.4 1,0.5 1,0.5 1,0.2 1,0.1 1,0.1 1,0 1,0.2 1,0.1 1,0 1,0.1 1,-0.1 1,0 1,0.2 1,0.1 1,0.2 1,0.2 1,0.1 1,0.1 1,0.2 1,0.1 1,0.2 1,0.1 1,0.1 1,0 1,-0.1 1,-0.1 1,-0.1 1,0 1,0.1 1,0.1 1,0 1,0 1,-0.1 1,-0.2 1,-0.2 1,-0.2 1,-0.3 1,-0.3 1,-0.2 1,-0.2 1,0 1,0 1,0.1 1,0 1,0 1,-0.1 1,-0.2 1,-0.1 1,0 1,0 1,0 1,-0.1 1,-0.3 1,-0.3 1,-0.3 1,-0.2 1,-0.3 1,-0.3 1,-0.1 1,-0.2 1,-0.3 1,-0.4 1,-0.9 1,-1.1 1,-1.4 1,-2.2 1,-3.5 1,-4.8 1,-8.5 1,-13.6 1,-23.5 1,-25.3 1,-18.8 0.6,-4.5 0.4,2.3 1,16.8 1,22.3 1,18.7 1,10.1 1,4.3 1,2.7 1,2.3 1,2.9 1,3.1 1,3.2 1,2.8 1,2.5 1,2.3 1,2.2 1,1.9 1,1.6 1,1.5 1,1.3 1,0.9 1,0.8 1,0.8 1,0.5 1,0.6 1,0.6 1,0.5 1,0.5 1,0.5 1,0.4 1,0.1 1,0 1,0 1,-0.1 1,-0.1 1,-0.1 1,0 1,0.1 1,0 1,0.2 1,0.1 1,0.1 1,0 1,0.1 1,-0.1 1,0 1,-0.1 1,0 1,-0.1 1,0 1,0 1,0.1 1,-0.1 1,0 1,-0.5 1,-0.7 1,-1.1 1,-1.4 1,-2.4 1,-4.8 1,-7.4 1,-21.1 1,-15.3 1.3,-9.5 0.7,6.1 1,18 1,20.3 1,9 1,2.8 1,-7.5 1,-12.1 1,-11.9 1,-2.3 0.6,-0.5 0.4,1.8 1,11.6 1,12.5 1,7.1 1,2.9 1,1.9 1,1.2 1,0.5 1,0.1 1,0.1 1,0.1 1,0.2 1,0.2 1,1.1 1,4 1,2.7 0.7,0.9 1.3,-4.6 1,-0.7 1,-0.5 1,-0.3 1,-0.4 1,-0.3 1,-0.2 1,0 1,0.1 1,0.1 1,0.3 1,0.2 1,0.1 1,-0.1 1,0 1,-0.2 1,-0.2 1,0 1,0.2 1,0.1 1,0.3 1,0.3 1,0.2 1,0 1,-0.1 1,-0.1 1,-0.3 1,-0.3 1,-0.3 1,0 1,-0.2 1,0 1,0 1,-0.1 1,-0.2 1,-0.1 1,-0.1 1,-0.1 1,-0.1 1,-0.1 1,-0.2 1,-0.3 1,-0.3 1,-0.2 1,0 1,0 1,0.1 1,0.2 1,0.3 1,0.3 1,0.3 1,0.4 1,0.3 1,0.2 1,0.1 1,0.1 1,-0.1 1,0 1,0 1,-0.1 1,0.1 1,0.1 1,0.1 1,0.1 1,0 1,0 1,-0.1 1,-0.1 1,0.1 1,0.2 1,0.2 1,0.3 1,0.3 1,0.2 1,0.1 1,0 1,0 1,-0.2 1,-0.3 1,-0.3 1,-0.2 1,-0.1 1,-0.1 1,0 1,0.1 1,0 1,0 1,0 1,0 1,0 1,-0.2 1,-0.1 1,0 1,0 1,-0.1 1,0.1 1,0.2 1,0.1 1,0.1 1,0.2 1,0 1,-0.2 1,-0.2 1,-0.2 1,-0.1 1,0 1,0.1 1,0.2 1,0 1,-0.1 1,0 1,-0.1 1,-0.1 1,-0.1 1,0 1,0 1,0.1 1,0.1 1,0.3 1,0.1 1,0.1 1,-0.1 1,-0.2 1,-0.1 1,-0.1 1,-0.1 1,0 1,0.1 1,0 1,-0.1 1,-0.1 1,0 1,-0.1 1,-0.1 1,0 1,0 1,-0.2 1,0 1,-0.1 1,-0.1 1,-0.1 1,0 1,0 1,-0.1 1,0 1,0 1,-0.3 1,-0.3 1,-0.2 1,-0.2 1,-0.1 1,0 1,0.3 1,0.3 1,0.3 1,0.3 1,0.4 1,0.2 1,0.1 1,0 1,0 1,-0.2 1,-0.3 1,-0.1 1,0 1,0 1,0.1 1,0.2 1,0.1 1,-0.1 1,0 1,-0.1 1,0 1,0 1,0.2 1,0.1 1,0.2 1,0.2 1,0.2 1,0.1 1,0.1 1,0 1,0 1,0.1 1,-0.2 1,-0.1 1,-0.2 1,-0.2 1,-0.4 1,-0.1 1,-0.2 1,-0.1 1,-0.2 1,0 1,-0.1 1,0 1,0.1 1,0.1 1,0 1,0 1,-0.1 1,-0.3 1,-0.5 1,-0.4 1,-0.5 1,-0.4 1,-0.3 1,-0.4 1,-0.2 1,-0.3 1,-0.5 1,-0.3 1,-0.6 1,-0.6 1,-0.5 1,-0.6 1,-0.6 1,-0.6 1,-0.7 1,-1.2 1,-1.4 1,-1.9 1,-2.3 1,-2.7 1,-3 1,-4 1,-5.3 1,-7.8 1,-12.4 1,-16.4 1,-25 1,-33.9 1,-46.1 1,-44.3 1,-33 1.3,-21.2 0.7,9 1,30.1 1,59.1 1,50.1 1,39.2 1,24.6 1,17.8 1,11.3 1,8.4 1,4.3 1,1.9 1,1.1 1,0.9 1,1.1 1,1.1 1,1.3 1,2.2 1.2,9.1 0.8,-1.9 0.2,-1.1" stroke="#ff00ff" stroke-width="3"/><g class="m"><path d="M195,3081.7l1,0.2 1,-0.1 1,-0.1 1,-0.2 1,-0.2 1,-0.1 1,0.1 1,0.2 1,0.2 1,0.2 1,0.1 1,0 1,0.1 1,0 1,-0.1 1,0 1,0.1 1,0 1,-0.1 1,-0.1 1,0 1,-0.1 1,0 1,0 1,-0.1 1,-0.1 1,-0.2 1,-0.3 1,0 1,-0.1 1,0 1,0.2 1,0.1 1,0 1,0.2 1,0.2 1,0.2 1,0.2 1,0 1,0 1,0 1,-0.2 1,-0.2 1,0 1,-0.2 1,-0.2 1,0 1,-0.1 1,-0.2 1,0.1 1,0 1,-0.1 1,0 1,0 1,0.1 1,-0.1 1,0.1 1,0.1 1,0.1 1,-0.1 1,0.1 1,0.1 1,0 1,0.2 1,0 1,0 1,-0.1 1,0.1 1,0 1,0.1 1,0.1 1,0.3 1,0 1,0.1 1,-0.1 1,-0.2 1,-0.3 1,-0.2 1,-0.2 1,0 1,0 1,0 1,0 1,0 1,0 1,0 1,0.1 1,0.2 1,0.2 1,0.1 1,0.1 1,0 1,-0.1 1,-0.1 1,0 1,-0.1 1,0.2 1,0.2 1,0.3 1,0.2 1,0.1 1,-0.1 1,-0.3 1,-0.5 1,-0.3 1,-0.1 1,-0.1 1,0 1,0.1 1,0 1,-0.1 1,0.1 1,0.2 1,0.2 1,0.3 1,0.3 1,0.1 1,0.1 1,0 1,0 1,-0.2 1,-0.1 1,-0.3 1,-0.1 1,-0.1 1,0.1 1,0 1,-0.1 1,-0.1 1,0 1,0 1,0.1 1,0.1 1,0 1,-0.2 1,-0.1 1,-0.1 1,-0.1 1,0.2 1,0.2 1,0 1,0 1,-0.1 1,-0.2 1,-0.2 1,-0.1 1,-0.1 1,0 1,0.1 1,0.1 1,0.2 1,0.2 1,0.2 1,0.1 1,0.1 1,0 1,-0.1 1,-0.1 1,0 1,0.1 1,0.1 1,0.2 1,0.2 1,0 1,0 1,-0.1 1,-0.1 1,0 1,0.1 1,0.1 1,0.2 1,0.1 1,-0.1 1,-0.3 1,-0.2 1,-0.2 1,0 1,-0.1 1,0.1 1,0.1 1,-0.1 1,-0.1 1,-0.2 1,-0.3 1,-0.1 1,-0.1 1,0.2 1,0.3 1,0.3 1,0.2 1,0.2 1,-0.1 1,-0.2 1,-0.3 1,-0.2 1,-0.2 1,0 1,0 1,0.2 1,0.1 1,0.1 1,-0.1 1,0 1,-0.1 1,-0.1 1,0 1,0 1,-0.1 1,-0.2 1,-0.2 1,0 1,0 1,0.1 1,0.1 1,0.3 1,0 1,0 1,0 1,-0.1 1,-0.2 1,0 1,0 1,-0.2 1,0.1 1,0.2 1,0 1,0.1 1,0.1 1,0 1,-0.1 1,0.1 1,0.1 1,0 1,0.1 1,0.1 1,0 1,0 1,0.2 1,0.1 1,0.1 1,0.1 1,0.1 1,0 1,0 1,-0.2 1,0 1,0 1,-0.1 1,-0.2 1,0 1,-0.1 1,-0.1 1,0 1,0.1 1,0.2 1,0.3 1,0.1 1,0.2 1,-0.1 1,-0.1 1,0 1,0 1,-0.1 1,0 1,0.1 1,-0.1 1,0 1,0 1,0 1,-0.2 1,-0.1 1,-0.1 1,-0.1 1,-0.1 1,0.2 1,0.1 1,0 1,0 1,-0.1 1,-0.2 1,-0.1 1,0 1,0.1 1,0.3 1,0.1 1,0 1,-0.1 1,-0.2 1,-0.3 1,-0.3 1,-0.2 1,0 1,-0.2 1,0 1,0.2 1,0 1,0 1,0.4 1,0.3 1,0.1 1,0.2 1,0 1,-0.2 1,-0.2 1,0 1,0 1,0.1 1,0.1 1,0 1,-0.2 1,-0.3 1,-0.3 1,-0.3 1,-0.3 1,-0.1 1,0.1 1,0.2 1,0.4 1,0.4 1,0.3 1,0.5 1,0.6 1,0.6 1,0.6 1,0.2 1,-0.1 1,-0.2 1,-0.2 1,-0.2 1,0.1 1,0.1 1,0 1,0 1,0 1,0 1,0 1,-0.1 1,0.1 1,-0.1 1,-0.1 1,0 1,0 1,-0.1 1,0.1 1,0 1,0 1,-0.3 1,-0.2 1,0 1,-0.2 1,0 1,-0.1 1,-0.2 1,-0.3 1,-0.2 1,-0.2 1,-0.1 1,0.1 1,0 1,0 1,0.1 1,0.1 1,0 1,0.1 1,0.3 1,0.1 1,0.1 1,0 1,0 1,-0.1 1,-0.1 1,-0.1 1,0.1 1,0.1 1,0.1 1,0.2 1,0 1,-0.1 1,-0.2 1,-0.2 1,-0.2 1,0 1,0 1,0 1,0 1,0 1,-0.1 1,-0.1 1,0 1,0 1,0 1,0 1,0.2 1,0.2 1,0.2 1,0.2 1,0.2 1,0.2 1,0 1,-0.1 1,0 1,-0.2 1,-0.1 1,-0.1 1,0 1,-0.1 1,-0.1 1,-0.2 1,0.1 1,0 1,0 1,-0.1 1,0.1 1,0 1,0 1,0 1,0.1 1,0 1,0 1,-0.2 1,-0.2 1,-0.2 1,-0.3 1,-0.2 1,0 1,0 1,0.1 1,0.1 1,0.1 1,-0.1 1,-0.1 1,-0.2 1,0 1,-0.1 1,0 1,0.2 1,0.1 1,0 1,0.2 1,0.2 1,0 1,0 1,0.1 1,-0.1 1,0.1 1,0.2 1,0.1 1,0.2 1,0 1,-0.1 1,0 1,-0.1 1,-0.1 1,-0.1 1,0 1,0.1 1,0.1 1,0.2 1,0.1 1,-0.1 1,-0.2 1,-0.4 1,-0.3 1,-0.2 1,-0.1 1,0 1,0.1 1,0 1,0.1 1,0 1,0 1,0.1 1,0.1 1,-0.2 1,-0.1 1,0 1,0 1,0 1,0.2 1,0.2 1,0.3 1,0.3 1,0.3 1,0.3 1,0.1 1,-0.1 1,-0.1 1,-0.2 1,-0.2 1,-0.2 1,0.1 1,-0.1 1,0.2 1,0 1,0.1 1,-0.1 1,-0.1 1,-0.2 1,-0.1 1,-0.1 1,0 1,0 1,0.1 1,0.1 1,0.1 1,-0.2 1,-0.1 1,-0.2 1,-0.1 1,-0.2 1,0 1,0.1 1,0 1,0.1 1,0.1 1,0.1 1,0.2 1,0.1 1,-0.1 1,-0.1 1,-0.1 1,-0.2 1,-0.1 1,0 1,0.1 1,0.1 1,0.2 1,0.2 1,0.1 1,-0.1 1,0.1 1,-0.1 1,-0.1 1,-0.1 1,0.2 1,-0.1 1,0 1,-0.1 1,0 1,-0.2 1,-0.1 1,-0.2 1,0 1,0 1,0.1 1,0.2 1,0.2 1,0.1 1,0.1 1,-0.1 1,-0.2 1,-0.2 1,-0.3 1,-0.4 1,-0.2 1,0.1 1,0.2 1,0.2 1,0.3 1,0.3 1,0 1,0.1 1,0.1 1,0 1,0 1,0.1 1,0.1 1,-0.1 1,0 1,0 1,-0.3 1,-0.1 1,0 1,0 1,0.1 1,0.1 1,0 1,-0.1 1,0.1 1,-0.1 1,0.2 1,0.2 1,0 1,0 1,0 1,-0.1 1,-0.1 1,0 1,-0.1 1,0 1,-0.1 1,-0.1 1,-0.2 1,0 1,0.1 1,0.1 1,0 1,0.1 1,0 1,-0.2 1,-0.1 1,0.1 1,0.1 1,0.1 1,0.4 1,0.4 1,0.1 1,0 1,0.1 1,-0.3 1,-0.5 1,-0.3 1,-0.3 1,-0.2 1,-0.1 1,0.2 1,0.1 1,0.1 1,0.1 1,0.2 1,0 1,0.1 1,0.2 1,0.1 1,0 1,0.1 1,-0.1 1,-0.1 1,0 1,-0.2 1,-0.1 1,-0.2 1,0 1,-0.1 1,0 1,0.1 1,0 1,-0.1 1,-0.1 1,-0.1 1,-0.3 1,-0.1 1,0.1 1,0 1,0.2 1,0.3 1,0.3 1,0.2 1,0.3 1,0 1,-0.2 1,-0.4 1,-0.4 1,-0.3 1,-0.1 1,0.1 1,0.3 1,0.4 1,0.2 1,0.1 1,-0.1 1,0 1,0 1,0.2 1,0.2 1,0.3 1,0.2 1,0.1 1,0 1,-0.2 1,-0.2 1,-0.2 1,-0.3 1,-0.2 1,-0.2 1,-0.1 1,-0.1 1,0 1,0 1,0 1,0.1 1,0.1 1,0.1 1,0 1,0.1 1,0 1,0 1,-0.2 1,-0.1 1,-0.1 1,-0.1 1,0.1 1,0.1 1,0.1 1,0 1,0 1,-0.2 1,-0.2 1,0 1,-0.1 1,0 1,0 1,0.1 1,0 1,0 1,0 1,0.1 1,-0.1 1,0.1 1,0.2 1,0 1,0 1,0 1,0 1,-0.2 1,0 1,0 1,-0.1 1,-0.1 1,0 1,0.1 1,0.1 1,0.1 1,0 1,0.1 1,-0.1 1,-0.1 1,0 1,0.1 1,0 1,0 1,0 1,0 1,0 1,0 1,-0.1 1,0 1,0 1,-0.2 1,-0.2 1,-0.1 1,-0.1 1,0 1,0.2 1,0.3 1,0.2 1,0.2 1,0 1,-0.1 1,-0.2 1,-0.1 1,-0.1 1,0 1,0.2 1,0.2 1,0 1,0 1,0 1,-0.3 1,-0.2 1,0 1,0 1,0.1 1,0.1 1,-0.1 1,-0.1 1,-0.1 1,0 1,0 1,0.1 1,0.1 1,0.1 1,0 1,-0.1 1,0 1,0 1,0.1 1,0 1,0.1 1,0 1,0 1,0 1,-0.1 1,-0.2 1,-0.2 1,-0.3 1,-0.3 1,-0.1 1,0.1 1,0.2 1,0.3 1,0.4 1,0.2 1,0 1,0.2 1,0 1,0 1,0.1 1,0.1 1,-0.1 1,0 1,-0.2 1,-0.2 1,-0.2 1,-0.1 1,-0.1 1,0 1,0.1 1,0.2 1,0.2 1,0.4 1,0.2 1,0.2 1,0 1,0 1,-0.2 1,-0.3 1,-0.2 1,-0.2 1,-0.2 1,-0.3 1,0 1,0 1,0.1 1,0 1,0.1 1,-0.1 1,-0.2 1,-0.1 1,0 1,-0.1 1,0.1 1,0.3 1,0.2 1,0.3 1,0.3 1,0.1 1,0.1 1,-0.1 1,-0.1 1,-0.3 1,-0.2 1,-0.2 1,-0.1 1,-0.2 1,-0.1 1,-0.1 1,-0.1 1,-0.2 1,-0.1 1,-0.1 1,-0.1 1,-0.1 1,-0.1 1,-0.2 1,-0.3 1,-0.5 1,-0.6 1,-0.6 1,-0.4 1,-0.6 1,-0.5 1,-0.5 1,-0.5 1,-0.6 1,-0.4 1,-0.6 1,-0.4 1,-0.6 1,-0.4 1,-0.6 1,-0.6 1,-0.7 1,-0.6 1,-0.3 1,0.1 1,0.5 1,0.7 1,0.8 1,0.8 1,0.9 1,0.9 1,1.2 1,1.1 1,1 1,0.6 1,0.8 1,0.6 1,0.5 1,0.3 1,0.4 1,0.1 1,0 1,-0.1 1,0 1,-0.1 1,0 1,0.2 1,0.2 1,0.1 1,0.2 1,0.2 1,0 1,0.1 1,0.1 1,0.2 1,0.1 1,0.1 1,0.1 1,-0.1 1,-0.3 1,-0.3 1,-0.4 1,-0.2 1,-0.1 1,0.1 1,0.1 1,0.3 1,0.1 1,-0.1 1,0 1,0 1,-0.1 1,0.1 1,0.1 1,0.2 1,0.1 1,0.2 1,0.2 1,0 1,-0.1 1,0.1 1,-0.1 1,-0.2 1,-0.2 1,-0.3 1,-0.5 1,-0.4 1,-0.5 1,-0.5 1,-0.8 1,-0.9 1,-0.8 1,-0.4 1,-0.2 1,0.1 1,0.2 1,0.1 1,0.4 1,0.6 1,0.5 1,0.1 1,0.1 1,-0.1 1,-0.2 1,-0.3 1,-0.3 1,-0.4 1,-0.3 1,-0.4 1,-0.5 1,-0.5 1,-0.6 1,-0.7 1,-0.7 1,-0.7 1,-0.7 1,-0.6 1,-0.8 1,-0.7 1,-0.6 1,-0.8 1,-0.6 1,-0.4 1,-0.4 1,-0.5 1,-0.4 1,-0.5 1,-0.5 1,-0.5 1,-0.3 1,-0.3 1,-0.1 1,-0.2 1,0 1,-0.4 1,-0.7 1,-1.3 1,-2.7 1,-3.6 1,-5.9 1,-6.7 1,-2.1 1,-1.1 1,-0.7 1,-0.5 1,-0.1 1,0 1,0 1,0.1 1,0.1 1,0.1 1,0.2 1,0.3 1,0.2 1,0.1 1,-0.1 1,-0.1 1,-0.1 1,-0.1 1,0 1,0.1 1,0 1,0.1 1,0 1,-0.3 1,-1.1 1,-1.4 1,-1 1,-0.7 1,-0.6 1,-0.5 1,-0.2 1,-0.3 1,-0.1 1,-0.2 1,-0.3 1,-0.2 1,0 1,0.3 1,0.7 1,0.9 1,1.1 1,1.1 1,1.5 1,1.7 1,1.8 1,1.9 1,2.1 1,2.5 1,2.6 1,2.5 1,2.3 1,1.8 1,1.7 1,1.6 1,1.5 1,1.4 1,1.4 1,1.1 1,0.8 1,0.8 1,0.6 1,0.4 1,0.4 1,0.3 1,0.5 1,0.5 1,0.6 1,0.5 1,0.4 1,-0.1 1,-0.6 1,-2.2 1,-8.4 1,-4.5 1,-1.5 0.4,-0.2 0.6,1.4 1,5.8 1,4.5 1,3.8 1,1.8 1,1.2 1,0.7 1,0.6 1,0.5 1,0.3 1,0.2 1,0.2 1,0.3 1,0.1 1,0.3 1,0.3 1,0.2 1,0.3 1,0.4 1,0.1 1,0.1 1,0.1 1,0 1,-0.1 1,0 1,0.1 1,-0.1 1,0 1,0.2 1,0.2 1,0.1 1,0.3 1,0.4 1,0.2 1,0.2 1,0.3 1,0.3 1,0.1 1,0.2 1,-0.1 1,-0.1 1,-0.1 1,-0.1 1,0.1 1,0.2 1,0.1 1,0.1 1,0 1,-0.2 1,-0.2 1,-0.3 1,-0.1 1,-0.2 1,-0.2 1,-0.2 1,-0.2 1,-0.2 1,-0.3 1,-0.2 1,-0.3 1,-0.9 1,-1.7 1,-2.5 1,-3.5 1,-7.1 1,-9.7 1,-11.4 1,-16.4 1,-5.8 1,-0.7 0.4,-0.3 0.6,3 1,13.1 1,10.9 1,9.7 1,6.7 1,4.2 1,3.4 1,2.3 1,1.5 1,1.3 1,1.1 1,1.1 1,0.9 1,0.6 1,0.6 1,0.4 1,0.4 1,0.2 1,0.3 1,0.3 1,0.4 1,0.3 1,0.1 1,0.1 1,0.1 1,-0.1 1,-0.1 1,0.1 1,0 1,0 1,0.1 1,0 1,0 1,-0.1 1,-0.1 1,0 1,0 1,0 1,0 1,0 1,-0.1 1,-0.2 1,-0.2 1,-0.3 1,-0.2 1,-0.1 1,0 1,0.2 1,0.2 1,0.3 1,0.1 1,0.2 1,-0.1 1,-0.1 1,-0.1 1,-0.2 1,-0.2 1,-0.1 1,-0.1 1,-0.1 1,-0.1 1,-0.1 1,-0.1 1,-0.2 1,-0.2 1,0 1,0 1,0 1,0.1 1,0.1 1,0.1 1,-0.1 1,0 1,-0.1 1,-0.1 1,0.1 1,0.1 1,0.1 1,0 1,0.1 1,0 1,-0.1 1,0.1 1,0.1 1,-0.1 1,-0.1 1,0.1 1,-0.1 1,0 1,0 1,0.1 1,0.2 1,0 1,0.1 1,0.1 1,0 1,0 1,0 1,0 1,-0.2 1,-0.2 1,-0.3 1,-0.3 1,-0.2 1,-0.2 1,-0.1 1,-0.1 1,-0.2 1,-0.3 1,-0.4 1,-0.4 1,-0.6 1,-0.4 1,-0.4 1,-0.8 1,-1.2 1,-1.5 1,-2 1,-3.8 1,-5.2 1,-5.7 1,-7.6 1,-6.2 1,-3.3 1.1,-1.6 0.9,2.1 1,4.8 1,6.3 1,7.6 1,5.2 1,4.1 1,3.5 1,2.4 1,1.7 1,1.4 1,1 1,0.6 1,0.2 1,0 1,0 1,0 1,0.2 1,0.1 1,0.1 1,0 1,-0.3 1,-0.6 1,-0.9 1,-1.1 1,-1.3 1,-2.6 1,-5.2 1,-8.9 1,-35.3 1,-53.5 1,-60.1 0.7,-27.1 1.3,2.7 1,80.2 1,44.7 1,25.9 1,13.9 1,7.3 1,4.6 1,3.5 1,2.7 1,2.2 1,1.6 1,1.4 1,1.3 1,1 1,0.6 1,0.6 1,0.6 1,0.3 1,0.4 1,0.2 1,0 1,0 1,0 1,0 1,0 1,0.1 1,0 1,0.2 1,0.1 1,0.1 1,0.2 1,0.1 1,0.1 1,0 1,0 1,0 1,-0.2 1,0 1,-0.1 1,0 1,0 1,0 1,-0.1 1,-0.1 1,-0.2 1,-0.2 1,-0.2 1,-0.4 1,-0.7 1,-1.1 1,-1.1 1,-1.5 1,-1.4 1,0.2 1,1.1 1,0.9 1,0.5 1,0.5 1,0.1 1,-0.1 1,-0.4 1,-0.4 1,-0.5 1,-0.5 1,-0.4 1,-0.2 1,-0.2 1,-0.2 1,-0.2 1,-0.2 1,-0.2 1,-0.1 1,-0.1 1,-0.1 1,-0.2 1,-0.3 1,-0.2 1,-0.3 1,-0.2 1,-0.2 1,-0.1 1,0 1,0.1 1,0.1 1,0.1 1,0.1 1,0 1,0.1 1,0.1 1,0 1,0 1,0 1,0 1,0.1 1,0 1,0 1,0.1 1,0 1,-0.1 1,0 1,0 1,0.1 1,0.1 1,0.5 1,0.7 1,0.8 1,0.6 1,0.5 1,0 1,0 1,0 1,0.1 1,0 1,-0.1 1,-0.3 1,-0.3 1,0 1,0.1 1,0.2 1,0.3 1,0.3 1,0.2 1,0.1 1,0 1,-0.2 1,-0.2 1,-0.3 1,-0.2 1,-0.3 1,-0.4 1,-1 1,-1.4 1,-1.8 1,-1.9 1,-2.2 1,-2.8 1,-3.2 1,-4.5 1,-6 1,-5.6 1,-5 1,-4.8 1,-2.8 1,-1.2 1.3,-0.8 0.7,0.4 1,1.7 1,2.5 1,5.2 1,6.4 1,5 1,4.8 1,4.3 1,3.6 1,2.7 1,2.3 1,1.9 1,1.5 1,1.2 1,1 1,1 1,1 1,0.9 1,0.7 1,0.4 1,0.4 1,0.3 1,0.2 1,0.3 1,0.4 1,0.4 1,0.3 1,0.4 1,0.2 1,0.2 1,0.1 1,0.2 1,-0.1 1,-0.7 1,-1.4 1,-1.8 1,-3.6 1,-4.4 1,-1.8 0.8,-0.6 1.2,4.4 1,4.5 1,4.2 1,2.7 1,0.6 1,0.3 1,0.4 1,0.2 1,0.2 1,0.2 1,0 1,0.1 1,0.1 1,0 1,0 1,0 1,0 1,-0.1 1,0.2 1,0.2 1,0.1 1,0 1,0.1 1,0 1,0 1,0.1 1,0.1 1,0.1 1,0 1,0.1 1,0 1,-0.1 1,0 1,0.1 1,-0.1 1,-0.1 1,-0.1 1,-0.2 1,-0.1 1,0 1,0 1,0.1 1,0.1 1,0 1,-0.1 1,-0.1 1,-0.1 1,-0.2 1,-0.1 1,0.1 1,-0.1 1,-0.2 1,-0.3 1,-0.2 1,-0.3 1,-0.1 1,0 1,0.2 1,0.2 1,0.3 1,0.1 1,0.1 1,-0.2 1,-0.1 1,-0.1 1,-0.1 1,0.1 1,0 1,0 1,0.1 1,0 1,0 1,0.1 1,0.2 1,0 1,0.2 1,0.2 1,0.1 1,0.2 1,0.1 1,0 1,-0.2 1,-0.3 1,-0.2 1,-0.1 1,0 1,0.2 1,0.3 1,0.1 1,0 1,-0.1 1,-0.2 1,-0.1 1,-0.1 1,0 1,0.1 1,0.1 1,0 1,0 1,-0.1 1,-0.1 1,-0.2 1,-0.1 1,0 1,0 1,-0.1 1,-0.4 1,-0.4 1,-0.5 1,-0.3 1,0 1,0.4 1,0.5 1,0.5 1,0.2 1,0.1 1,0.1 1,0 1,0.2 1,0.1 1,0 1,0.1 1,-0.1 1,0 1,0.2 1,0.1 1,0.2 1,0.2 1,0.1 1,0.1 1,0.2 1,0.1 1,0.2 1,0.1 1,0.1 1,0 1,-0.1 1,-0.1 1,-0.1 1,0 1,0.1 1,0.1 1,0 1,0 1,-0.1 1,-0.2 1,-0.2 1,-0.2 1,-0.3 1,-0.3 1,-0.2 1,-0.2 1,0 1,0 1,0.1 1,0 1,0 1,-0.1 1,-0.2 1,-0.1 1,0 1,0 1,0 1,-0.1 1,-0.3 1,-0.3 1,-0.3 1,-0.2 1,-0.3 1,-0.3 1,-0.1 1,-0.2 1,-0.3 1,-0.4 1,-0.9 1,-1.1 1,-1.4 1,-2.2 1,-3.5 1,-4.8 1,-8.5 1,-13.6 1,-23.5 1,-25.3 1,-18.8 0.6,-4.5 0.4,2.3 1,16.8 1,22.3 1,18.7 1,10.1 1,4.3 1,2.7 1,2.3 1,2.9 1,3.1 1,3.2 1,2.8 1,2.5 1,2.3 1,2.2 1,1.9 1,1.6 1,1.5 1,1.3 1,0.9 1,0.8 1,0.8 1,0.5 1,0.6 1,0.6 1,0.5 1,0.5 1,0.5 1,0.4 1,0.1 1,0 1,0 1,-0.1 1,-0.1 1,-0.1 1,0 1,0.1 1,0 1,0.2 1,0.1 1,0.1 1,0 1,0.1 1,-0.1 1,0 1,-0.1 1,0 1,-0.1 1,0 1,0 1,0.1 1,-0.1 1,0 1,-0.5 1,-0.7 1,-1.1 1,-1.4 1,-2.4 1,-4.8 1,-7.4 1,-21.1 1,-15.3 1.3,-9.5 0.7,6.1 1,18 1,20.3 1,9 1,2.8 1,-7.5 1,-12.1 1,-11.9 1,-2.3 0.6,-0.5 0.4,1.8 1,11.6 1,12.5 1,7.1 1,2.9 1,1.9 1,1.2 1,0.5 1,0.1 1,0.1 1,0.1 1,0.2 1,0.2 1,1.1 1,4 1,2.7 0.7,0.9 1.3,-4.6 1,-0.7 1,-0.5 1,-0.3 1,-0.4 1,-0.3 1,-0.2 1,0 1,0.1 1,0.1 1,0.3 1,0.2 1,0.1 1,-0.1 1,0 1,-0.2 1,-0.2 1,0 1,0.2 1,0.1 1,0.3 1,0.3 1,0.2 1,0 1,-0.1 1,-0.1 1,-0.3 1,-0.3 1,-0.3 1,0 1,-0.2 1,0 1,0 1,-0.1 1,-0.2 1,-0.1 1,-0.1 1,-0.1 1,-0.1 1,-0.1 1,-0.2 1,-0.3 1,-0.3 1,-0.2 1,0 1,0 1,0.1 1,0.2 1,0.3 1,0.3 1,0.3 1,0.4 1,0.3 1,0.2 1,0.1 1,0.1 1,-0.1 1,0 1,0 1,-0.1 1,0.1 1,0.1 1,0.1 1,0.1 1,0 1,0 1,-0.1 1,-0.1 1,0.1 1,0.2 1,0.2 1,0.3 1,0.3 1,0.2 1,0.1 1,0 1,0 1,-0.2 1,-0.3 1,-0.3 1,-0.2 1,-0.1 1,-0.1 1,0 1,0.1 1,0 1,0 1,0 1,0 1,0 1,-0.2 1,-0.1 1,0 1,0 1,-0.1 1,0.1 1,0.2 1,0.1 1,0.1 1,0.2 1,0 1,-0.2 1,-0.2 1,-0.2 1,-0.1 1,0 1,0.1 1,0.2 1,0 1,-0.1 1,0 1,-0.1 1,-0.1 1,-0.1 1,0 1,0 1,0.1 1,0.1 1,0.3 1,0.1 1,0.1 1,-0.1 1,-0.2 1,-0.1 1,-0.1 1,-0.1 1,0 1,0.1 1,0 1,-0.1 1,-0.1 1,0 1,-0.1 1,-0.1 1,0 1,0 1,-0.2 1,0 1,-0.1 1,-0.1 1,-0.1 1,0 1,0 1,-0.1 1,0 1,0 1,-0.3 1,-0.3 1,-0.2 1,-0.2 1,-0.1 1,0 1,0.3 1,0.3 1,0.3 1,0.3 1,0.4 1,0.2 1,0.1 1,0 1,0 1,-0.2 1,-0.3 1,-0.1 1,0 1,0 1,0.1 1,0.2 1,0.1 1,-0.1 1,0 1,-0.1 1,0 1,0 1,0.2 1,0.1 1,0.2 1,0.2 1,0.2 1,0.1 1,0.1 1,0 1,0 1,0.1 1,-0.2 1,-0.1 1,-0.2 1,-0.2 1,-0.4 1,-0.1 1,-0.2 1,-0.1 1,-0.2 1,0 1,-0.1 1,0 1,0.1 1,0.1 1,0 1,0 1,-0.1 1,-0.3 1,-0.5 1,-0.4 1,-0.5 1,-0.4 1,-0.3 1,-0.4 1,-0.2 1,-0.3 1,-0.5 1,-0.3 1,-0.6 1,-0.6 1,-0.5 1,-0.6 1,-0.6 1,-0.6 1,-0.7 1,-1.2 1,-1.4 1,-1.9 1,-2.3 1,-2.7 1,-3 1,-4 1,-5.3 1,-7.8 1,-12.4 1,-16.4 1,-25 1,-33.9 1,-46.1 1,-44.3 1,-33 1.3,-21.2 0.7,9 1,30.1 1,59.1 1,50.1 1,39.2 1,24.6 1,17.8 1,11.3 1,8.4 1,4.3 1,1.9 1,1.1 1,0.9 1,1.1 1,1.1 1,1.3 1,2.2 1.2,9.1 0.8,-1.9 0.2,-1.1"/></g>
<path d="M195,3376.3l1,0 1,0.1 1,-0.1 1,-0.1 1,-0.1 1,-0.1 1,-0.2 1,-0.3 1,-0.2 1,-0.2 1,-0.1 1,0.1 1,0.2 1,0.1 1,0.2 1,0.1 1,0 1,-0.2 1,0.1 1,-0.1 1,0 1,0 1,0.2 1,0 1,0.1 1,0.2 1,0.1 1,0.1 1,0.1 1,-0.1 1,0 1,0 1,-0.1 1,0 1,0.1 1,0.1 1,0 1,0.2 1,0.1 1,0 1,0.1 1,-0.1 1,-0.1 1,0 1,0 1,0 1,0.1 1,0.1 1,0 1,0 1,-0.2 1,-0.2 1,-0.2 1,-0.1 1,0 1,0.1 1,0 1,0.2 1,-0.1 1,-0.2 1,-0.1 1,0 1,-0.1 1,0.2 1,0.2 1,0.2 1,0.1 1,0 1,0 1,0 1,0 1,-0.1 1,-0.1 1,-0.1 1,-0.1 1,-0.1 1,0.1 1,0.1 1,0.2 1,0.1 1,0.2 1,0 1,0 1,-0.1 1,0 1,-0.2 1,-0.3 1,-0.3 1,-0.2 1,-0.2 1,0 1,0.2 1,0.2 1,0.3 1,0.3 1,0 1,0 1,0 1,0 1,-0.1 1,0.1 1,0 1,-0.1 1,-0.2 1,0 1,-0.1 1,0 1,0.1 1,0.1 1,0.1 1,-0.1 1,-0.1 1,-0.2 1,-0.2 1,-0.3 1,0 1,0.1 1,0 1,0.2 1,0.2 1,0.1 1,0.1 1,0.2 1,0.1 1,0.1 1,0.1 1,0 1,-0.1 1,-0.1 1,0 1,-0.2 1,0 1,-0.1 1,-0.1 1,0 1,0.1 1,0 1,0.3 1,0 1,0.1 1,-0.1 1,-0.1 1,-0.1 1,-0.1 1,-0.1 1,0 1,0 1,0 1,0.1 1,0.2 1,0 1,0 1,0.1 1,-0.1 1,-0.2 1,0 1,0 1,-0.1 1,0.2 1,0.1 1,0 1,0 1,0 1,-0.1 1,0 1,0 1,0.1 1,0.1 1,0 1,0.1 1,0.1 1,-0.1 1,0 1,0.1 1,0.1 1,0.1 1,0.2 1,0 1,-0.1 1,0 1,-0.1 1,0 1,0.1 1,0.1 1,0.2 1,0.1 1,0.1 1,0 1,-0.1 1,-0.1 1,0 1,0 1,0.2 1,0.1 1,0 1,0 1,-0.2 1,-0.4 1,-0.3 1,-0.1 1,-0.2 1,-0.1 1,0.1 1,-0.1 1,-0.1 1,0.2 1,0 1,0 1,0 1,-0.2 1,-0.1 1,0 1,0.1 1,0 1,0.2 1,0.1 1,0 1,-0.1 1,0 1,-0.1 1,0.1 1,0.2 1,0.2 1,0.2 1,0.2 1,0.1 1,-0.2 1,0 1,-0.2 1,-0.1 1,-0.1 1,0.1 1,0.1 1,0.1 1,0 1,-0.1 1,-0.1 1,-0.5 1,-0.4 1,-0.2 1,-0.1 1,0 1,0.3 1,0.5 1,0.2 1,0.1 1,0.2 1,0.1 1,0.1 1,0.1 1,0.1 1,0 1,0 1,-0.1 1,0 1,-0.2 1,0 1,-0.1 1,-0.1 1,0 1,0.1 1,0.1 1,0.2 1,0.2 1,0.1 1,-0.2 1,-0.1 1,-0.2 1,-0.3 1,-0.1 1,0 1,0.1 1,0.1 1,0.2 1,0.2 1,0.2 1,0 1,0 1,-0.1 1,-0.1 1,-0.1 1,0.1 1,0.3 1,0.1 1,0.1 1,-0.1 1,-0.1 1,-0.1 1,-0.1 1,0 1,0.1 1,0 1,0 1,0 1,-0.1 1,0 1,0 1,-0.1 1,0 1,-0.1 1,-0.1 1,-0.1 1,0.1 1,-0.1 1,0 1,-0.1 1,-0.1 1,-0.2 1,0.1 1,0.2 1,0.2 1,0 1,0.2 1,0 1,-0.1 1,-0.2 1,0.1 1,0 1,0 1,0.1 1,0.2 1,0.2 1,0.2 1,0.5 1,0.3 1,0.3 1,0.3 1,0.3 1,0.2 1,0.3 1,0.2 1,0 1,-0.2 1,-0.2 1,-0.3 1,-0.2 1,-0.2 1,0 1,0 1,-0.1 1,-0.2 1,-0.1 1,-0.1 1,0 1,0 1,0 1,0.1 1,-0.1 1,0.1 1,0.1 1,0.1 1,0 1,0 1,-0.3 1,-0.4 1,-0.3 1,-0.2 1,-0.2 1,0 1,0.2 1,0 1,-0.1 1,0.1 1,0.1 1,0.1 1,0.1 1,0.1 1,-0.1 1,-0.3 1,-0.2 1,-0.2 1,-0.1 1,0.1 1,0.2 1,0.2 1,0.3 1,0.1 1,0 1,-0.1 1,-0.2 1,-0.3 1,-0.3 1,-0.1 1,-0.1 1,0.1 1,0.2 1,0 1,0.1 1,0 1,-0.1 1,0 1,0.1 1,0 1,0 1,0.1 1,-0.1 1,-0.2 1,0 1,0.1 1,0.1 1,0.1 1,0.2 1,0 1,0 1,0 1,0 1,0 1,0.2 1,-0.2 1,-0.1 1,-0.2 1,-0.2 1,-0.2 1,0.1 1,0 1,0 1,0.1 1,0 1,-0.2 1,-0.1 1,-0.1 1,-0.1 1,-0.1 1,0 1,0 1,-0.1 1,0.1 1,0.1 1,0 1,0 1,0.1 1,0.1 1,0.1 1,0.1 1,0.1 1,0.1 1,0 1,0 1,-0.1 1,0 1,0 1,0 1,-0.1 1,0 1,0 1,0 1,0.1 1,0.1 1,0.1 1,0.1 1,0 1,0.3 1,0 1,0.1 1,0.1 1,0.1 1,-0.2 1,0 1,0 1,0 1,0.1 1,0.1 1,0 1,0.1 1,-0.2 1,-0.1 1,0 1,-0.1 1,0.1 1,0.2 1,0.1 1,0.2 1,0.1 1,-0.1 1,-0.1 1,-0.2 1,-0.3 1,-0.2 1,0 1,-0.1 1,0.1 1,0.2 1,-0.1 1,-0.1 1,0 1,0 1,-0.1 1,0.1 1,0 1,0 1,-0.1 1,0.1 1,0 1,0.1 1,0.1 1,0 1,-0.1 1,-0.2 1,-0.1 1,0 1,0 1,0.1 1,0.2 1,0.2 1,0.2 1,0.2 1,0.1 1,0 1,-0.2 1,-0.2 1,-0.2 1,-0.2 1,-0.1 1,0.1 1,0.1 1,0.1 1,0 1,0 1,-0.2 1,0 1,-0.1 1,0 1,0 1,0 1,-0.1 1,-0.1 1,-0.1 1,-0.1 1,0 1,0 1,0.1 1,0.1 1,0.1 1,0.1 1,-0.1 1,0.1 1,-0.2 1,0 1,0.1 1,0 1,0.1 1,0.1 1,0 1,0 1,0 1,0 1,0 1,0.1 1,0 1,0.1 1,0 1,0 1,0 1,0 1,0 1,0 1,0 1,0 1,0 1,-0.1 1,-0.3 1,-0.3 1,-0.3 1,-0.4 1,-0.4 1,0 1,0 1,0 1,0.3 1,0.5 1,0.2 1,0.3 1,0.1 1,-0.1 1,-0.3 1,-0.2 1,-0.2 1,0 1,0.1 1,0.1 1,0.2 1,0.1 1,0 1,0.1 1,0.1 1,0.1 1,0 1,-0.2 1,-0.2 1,-0.2 1,-0.1 1,-0.1 1,0 1,0 1,0 1,-0.2 1,-0.1 1,0 1,0 1,0.1 1,0.3 1,0.2 1,0.1 1,0 1,0 1,-0.1 1,0 1,0.2 1,0.4 1,0.2 1,0.3 1,0.1 1,-0.2 1,-0.1 1,-0.1 1,-0.1 1,0.1 1,0 1,0.1 1,-0.1 1,0.1 1,0 1,-0.1 1,-0.2 1,0 1,-0.1 1,-0.1 1,-0.1 1,0 1,-0.2 1,-0.2 1,-0.1 1,0.1 1,0 1,0 1,0.4 1,0.1 1,0.1 1,0 1,0 1,-0.1 1,-0.2 1,-0.1 1,-0.1 1,0 1,0 1,0 1,0.1 1,0 1,0 1,0 1,0.2 1,0.2 1,0.2 1,0.3 1,0.3 1,0 1,-0.2 1,-0.2 1,-0.2 1,-0.4 1,-0.3 1,-0.2 1,-0.1 1,-0.2 1,-0.1 1,0 1,0.2 1,0.1 1,0.2 1,0.1 1,0.1 1,-0.2 1,0 1,-0.1 1,0 1,0 1,0 1,0 1,0 1,-0.1 1,0 1,0 1,0 1,0.2 1,0.2 1,0.3 1,0.1 1,0 1,0.1 1,-0.1 1,-0.1 1,-0.1 1,0 1,0.1 1,0 1,0.1 1,0 1,-0.1 1,-0.1 1,-0.2 1,-0.2 1,0 1,-0.1 1,0 1,-0.1 1,-0.1 1,-0.1 1,0 1,-0.1 1,-0.1 1,0.1 1,0.1 1,0.1 1,0.2 1,0.1 1,0.1 1,-0.1 1,-0.2 1,-0.2 1,-0.2 1,-0.1 1,0 1,0 1,0 1,0.1 1,0 1,0.1 1,0 1,0 1,0 1,0 1,0 1,0.1 1,0.2 1,0.2 1,0.1 1,0 1,-0.1 1,-0.1 1,-0.1 1,-0.1 1,-0.1 1,-0.1 1,0 1,0 1,0 1,0 1,0.1 1,0 1,0 1,0 1,0 1,-0.1 1,0 1,0 1,0 1,0 1,0 1,0 1,0 1,-0.1 1,-0.1 1,0 1,-0.1 1,0.1 1,0 1,0 1,0 1,0 1,0 1,0 1,-0.1 1,-0.1 1,0 1,-0.1 1,0 1,0 1,0 1,0.1 1,0 1,0 1,0 1,0 1,-0.1 1,0 1,-0.1 1,0 1,0 1,0 1,0 1,0 1,0 1,0 1,0 1,0 1,0 1,0 1,-0.1 1,0 1,0 1,-0.1 1,0 1,0 1,-0.1 1,0 1,0 1,-0.1 1,0 1,-0.1 1,0 1,-0.1 1,0 1,-0.1 1,0 1,-0.1 1,0 1,-0.1 1,0 1,-0.1 1,-0.1 1,0 1,-0.1 1,0 1,-0.1 1,-0.1 1,0 1,-0.1 1,0 1,-0.1 1,-0.1 1,-0.1 1,0 1,-0.1 1,-0.1 1,-0.1 1,-0.1 1,-0.1 1,-0.2 1,-0.1 1,-0.2 1,-0.2 1,-0.2 1,-0.4 1,-0.3 1,-0.4 1,-0.4 1,-0.4 1,-0.4 1,-0.5 1,-0.4 1,-0.4 1,-0.4 1,-0.4 1,-0.4 1,-0.5 1,-0.6 1,-0.7 1,-0.8 1,-1.2 1,-1.7 1,-2.3 1,-2.7 1,-3.1 1,-4.6 1,-5.4 1,-5.7 1,-5.8 1,-6.3 1,-5.9 1,-4.7 1,-4.5 1,-3.2 1,-1.1 1,-0.4 1.2,-0.2 0.8,0.8 1,2.4 1,3.2 1,4.5 1,6.1 1,5.9 1,5.8 1,5.6 1,4.6 1,4 1,3.6 1,3 1,2.4 1,2.1 1,1.9 1,1.6 1,1.2 1,1.1 1,0.9 1,0.9 1,0.7 1,0.6 1,0.5 1,0.4 1,0.5 1,0.3 1,0.4 1,0.3 1,0.3 1,0.1 1,0.2 1,0 1,0.1 1,0 1,0.1 1,0 1,0 1,0 1,0.1 1,0 1,0 1,0 1,0 1,0 1,0 1,0 1,-0.1 1,0 1,-0.1 1,-0.1 1,0 1,-0.1 1,-0.1 1,-0.2 1,-0.2 1,-0.3 1,-0.4 1,-0.4 1,-0.6 1,-0.6 1,-0.8 1,-1.1 1,-1.5 1,-1.9 1,-2.2 1,-2.4 1,-3.1 1,-3.7 1,-4.4 1,-6.5 1,-8.3 1,-7.7 1,-7.6 1,-5.8 1,-1.7 1,-0.9 0.6,-0.2 0.4,0.4 1,3.3 1,4.4 1,5.7 1,5.2 1,1.3 1,0.7 0.6,0.1 0.4,-0.4 1,-4.9 1,-7.8 1,-14.8 1,-15.3 1,-15 1,-8.6 1,-3.7 0.8,-1.2 1.2,1.6 1,3.2 1,9.8 1,12.3 1,10.7 1,10.3 1,8.7 1,7.5 1,6.6 1,5.3 1,3.7 1,3.1 1,2.5 1,1.7 1,1.1 1,0.9 1,0.7 1,0.4 1,0 1,-0.2 1,-0.5 1,-0.5 1,-0.5 1,-0.5 1,-0.5 1,-0.2 1,0.5 1,1 1,1.1 1,0.8 1,0.3 1,0.2 1,0.1 1,0.1 1,0.1 1,0.2 1,0.3 1,0.6 1,0.7 1,0.7 1,0.7 1,0.5 1,0.5 1,0.6 1,0.5 1,0.4 1,0.3 1,0.1 1,0 1,0 1,0 1,0 1,0 1,0 1,0 1,0 1,0 1,0 1,0 1,0 1,0 1,0 1,-0.1 1,-0.3 1,-0.7 1,-0.7 1,-0.6 1,-0.7 1,-0.8 1,-0.6 1,-0.2 1,0.2 1,0.2 1,0.4 1,0.5 1,0.9 1,1.2 1,1.2 1,1.1 1,1.1 1,1.2 1,1.2 1,1 1,1.1 1,1 1,1 1,0.6 1,0.3 1,0.2 1,0.2 1,0 1,-0.2 1,-0.8 1,-1 1,-0.7 1,-0.6 1,-0.5 1,-0.2 1,0.4 1,1.3 1,1.5 1,1.3 1,1.3 1,1 1,0.5 1,0 1,0 1,0 1,0 1,-0.2 1,-1.1 1,-1.4 1,-1.2 1,-1.3 1,-1.3 1,-0.9 1,-0.2 1,0.1 1,0.3 1,0.3 1,0.2 1,0.3 1,0.1 1,0.1 1,-0.1 1,-0.4 1,-0.4 1,-0.2 1,0 1,0.2 1,0.4 1,0.5 1,0.4 1,0.5 1,0.6 1,0.6 1,0.3 1,-0.1 1,-0.4 1,-0.5 1,-0.6 1,-0.8 1,-1.4 1,-1.9 1,-2.2 1,-2.4 1,-3 1,-3.6 1,-3.8 1,-3.4 1,-3.4 1,-3.3 1,-2.4 1,-1.4 1,-1.1 1,-0.7 1,-0.2 1,0.5 1,1.1 1,1.2 1,1.7 1,1.9 1,0.9 1,-0.3 1,-0.5 1,-0.8 1,-1.8 1,-2.1 1,-0.3 1,0.6 1,0.9 1,1.8 1,2.2 1,1.3 1,0.5 1,0.4 0.7,0.1 1.3,-1.7 1,-2.8 1,-2.8 1,-3.6 1,-3.2 1,-1.5 1,-0.8 0.9,-0.3 1.1,1.4 1,2.8 1,2.9 1,3.5 1,3.8 1,3.5 1,2.8 1,2.7 1,2.4 1,2.1 1,1.8 1,1.7 1,1.5 1,1.3 1,0.9 1,0.5 1,0.5 1,0.3 1,0.2 1,0 1,-0.3 1,-0.7 1,-0.9 1,-1 1,-1.6 1,-2.4 1,-3 1,-3.4 1,-3.9 1,-4.9 1,-5.8 1,-6.2 1,-6.7 1,-7.5 1,-7.9 1,-7.7 1,-7.5 1,-7.6 1,-7.4 1,-7.3 1,-7.4 1,-6.9 1,-6.2 1,-5.3 1,-5 1,-4.3 1,-3.6 1,-3.2 1,-2.8 1,-1.8 1,-0.8 1,-0.6 1,-0.3 0.8,-0.1 1.2,0.8 1,1.8 1,2.4 1,3 1,4.9 1,5.8 1,5.5 1,5.5 1,6 1,7.4 1,8.6 1,8.9 1,8.1 1,8 1,7.6 1,6.9 1,6.4 1,6.1 1,5.3 1,3.9 1,3 1,2.7 1,1.9 1,0.5 1,0 1,0 1,0 1,-0.3 1,-0.7 1,-1 1,-0.8 1,-0.2 1,0.2 1,0.3 1,0.3 1,0.4 1,0.3 1,0.3 1,0.3 1,0.3 1,0.3 1,0.3 1,0.2 1,0.3 1,0.2 1,0.3 1,0.1 1,0 1,-0.3 1,-0.8 1,-1 1,-1.2 1,-1.6 1,-2.4 1,-3.1 1,-3.4 1,-3.8 1,-4.4 1,-5.1 1,-5.8 1,-7.5 1,-7.3 1,-5.9 1,-5.3 0.8,-1.7 1.2,0.4 1,0.9 1,3.5 1,7.1 1,9.7 1,10.6 1,5.7 1,3.9 0.6,0.7 0.4,-0.4 1,-2.8 1,-5.3 1,-11.8 1,-13.6 1,-15.5 1,-15 1,-12.8 1,-11.9 1,-11.2 1,-11.6 1,-9.5 1,-4.9 1,-3.4 0.6,-0.7 0.4,0.3 1,2.7 1,5.1 1,12.3 1,14.2 1,15.4 1,15 1,13.2 1,12.2 1,10.7 1,9.6 1,8.8 1,7.6 1,6.1 1,5.3 1,4.5 1,3.4 1,2.6 1,2.3 1,1.7 1,0.9 1,0.6 1,0.4 1,0.3 0.6,0.1 0.4,-0.1 1,-1.4 1,-2.4 1,-3 1,-4 1,-6 1,-7.4 1,-9.1 1,-11.3 1,-12.3 1,-14.1 1,-14.2 1,-10.8 1,-9 1,-3.9 1,-1.7 1,-0.6 1,1.5 1,4 1,6.2 1,10.9 1,10.9 1,10.3 1,10.1 1,9.2 1,8.9 1,7.8 1,5.9 1,5 1,3.6 1,1.3 1,0.6 1,0.4 0.4,0 0.6,-0.9 1,-4.5 1,-4 1,-3.4 1,-2.6 0.7,-0.7 1.3,0.4 1,0.6 1,0.7 1,1 1,1.2 1,1.2 1,1.1 1,1 1,1.4 1,3.2 1,4.7 1,4 1,2.6 1,2.3 1,1 1,0.2 1,0.1 1,0.1 1,0.1 1,0.2 1,0.3 1,0.4 1,0.5 1,0.6 1,0.9 1,1.2 1,1.3 1,1.2 1,1.2 1,1.2 1,1.2 1,1.1 1,0.9 1,0.9 1,0.9 1,0.8 1,0.8 1,0.6 1,0.6 1,0.5 1,0.5 1,0.4 1,0.4 1,0.4 1,0.4 1,0.4 1,0.4 1,0.3 1,0.2 1,0.1 1,0 1,-0.3 1,-0.3 1,-0.5 1,-0.8 1,-1.9 1,-2.9 1,-4.7 1,-8.9 1,-9 1,-9.6 1,-7 1,-2.6 1,-1.2 1,0.4 1,1.3 1,3.7 1,6.8 1,6.2 1,6 1,3.7 1,2.7 1,1.7 1,0.3 1,0 1,0 1,-0.5 1,-2.3 1,-2.5 1,-1.3 1,-1 1,-0.6 1,0.1 1,0.8 1,1.1 1,1.7 1,2.8 1,2.7 1,2.2 1,2 1,1.9 1,1.7 1,1.4 1,1.4 1,1.2 1,1 1,0.8 1,0.7 1,0.7 1,0.5 1,0.5 1,0.3 1,0.3 1,0.1 1,0.2 1,0.1 1,0.1 1,0.1 1,0.1 1,0.1 1,0 1,0 1,0 1,-0.2 1,-0.1 1,-0.2 1,-0.2 1,-0.5 1,-1.1 1,-1.4 1,-1.2 0.8,-0.4 1.2,1.2 1,2 1,1.5 1,1.2 1,1 1,0.6 1,0.3 1,0.3 1,0.3 1,0.1 1,0.2 1,0.2 1,0.2 1,0.1 1,0.1 1,0.1 1,0.2 1,0.3 1,0.4 1,0.5 1,0.6 1,0.4 1,0.2 1,0 1,0 1,-0.1 1,-0.1 1,-0.1 1,-0.3 1,-0.5 1,-0.4 1,-0.2 1,0.1 1,0.1 1,0.3 1,0.3 1,0.2 1,0.4 1,0.4 1,0.4 1,0.3 1,0.1 1,0 1,0 1,0 1,-0.1 1,0 1,-0.1 1,0 1,-0.1 1,-0.1 1,0 1,-0.1 1,-0.2 1,-0.1 1,-0.2 1,-0.1 1,-0.3 1,-0.4 1,-0.6 1,-0.7 1,-0.8 1,-0.9 1,-1.5 1,-2 1,-2.6 1,-3.3 1,-5.3 1,-6.8 1,-7.9 1,-10.5 1,-10.4 1,-8.7 1,-7.9 1,-4.6 1,-2.7 1,-1.6 0.5,-0.2 0.5,0.7 1,4.3 1,5.5 1,8.3 1,8.6 1,4.7 1,3.5 1.1,1.6 0.9,-0.6 1,-1.6 1,-2.2 1,-3.9 1,-5.8 1,-5.2 1,-4.8 1,-4.4 1,-2.5 1,-1.2 1,-0.8 0.5,-0.1 0.5,0.5 1,3 1,3.9 1,5.8 1,5.6 1,1.4 1,0.5 0.8,0.1 1.2,-2.1 1,-4 1,-5 1,-8.4 1,-10.3 1,-8.8 1,-8.2 1,-6.9 1,-4.1 1,-3 1,-1.9 0.5,-0.3 0.5,0.4 1,2.6 1,4 1,7.7 1,10.3 1,9.1 1,8.8 1,8.2 1,6.8 1,5.8 1,5.1 1,4.2 1,3.1 1,2.8 1,2.4 1,1.9 1,1.3 1,1 1,0.8 1,0.7 1,0.6 1,0.5 1,0.7 1,0.7 1,1 1,1.5 1,1.9 1,1.9 1,1.6 1.2,0.7 0.8,-0.4 1,-1.4 1,-1.4 1,-0.8 1,0 1,0.2 1,0.4 1,0.4 1,1.3 1,2.2 1,2.4 1,1.9 1,1.5 1,1.5 1,1.3 1,1.2 1,1 1,1 1,0.9 1,0.7 1,0.6 1,0.3 1,0.4 1,0.2 1,0.1 1,-0.4 1,-0.7 1,-1 1,-1.1 1,-1 1,-1 1,-1 1,-1.2 1,-1.6 1,-2.8 1,-4.6 1,-7.7 1,-15.2 1,-10.5 1.3,-7.4 0.7,0.5 1,2.1 1,7.9 1,10.5 1,7.6 1,1.9 1,1.1 1,0.6 1,0.2 1,-0.3 1,-0.7 1,-1.1 1,-1.2 1,-1.2 1,-2 1,-2.2 1,-1.9 1,-1.2 1,-0.9 1,-0.7 1,-0.4 1,0.1 1,0.7 1,1 1,1.2 1,1.6 1,2.1 1,2.2 1,1.8 1,1.4 1,1.4 1,1 0.8,0.3 1.2,-0.8 1,-1.6 1,-2 1,-4.3 1,-5.8 1,-5.5 1,-6.2 1,-4 1,-1 1,-0.6 0.6,0 0.4,0.5 1,4.5 1,6 1,8.8 1,6.9 1,4.2 1.1,2.1 0.9,-0.3 1,-0.7 1,-2.5 1,-5.4 1,-5.9 1,-6.2 1,-7 1,-7.7 1,-8.8 1,-9.2 1,-11.1 1,-9.4 1,-5.1 1,-2.2 1,0.7 1,2 1,6.7 1,3.2 1,0.5 1,0.4 1,0.3 1,0.3 1,2.4 1,13.1 1,13.5 1,13.1 1,10.5 1,7.4 1,2.7 1,1.6 0.6,0.3 0.4,0 1,-0.6 1,-0.9 1,-0.8 1,-0.1 1,0 1,0 1,0 1,0 1,0 1,0 1,0 1,0 1,0 1,0 1,0 1,0 1,0.7 1,1.8 1,1.9 1,1.8 1,2 1,2.1 1,1.8 1,1.9 1,1.9 1,1.5 1,0.5 1,0 1,0 1,0 1,-1.9 1,-3.7 1,-4.7 1,-6.6 1,-4.6 1,-2.5 1,-1.6 1,0 1,0.1 1,0.2 1,0.2 1,0.4 1,0.7 1,0.9 1,1.9 1,4.1 1.2,3.2 0.8,-0.4 1,-1.2 1,-0.8 1,-0.1 1,0.2 1,0.3 1,0.8 1,2.4 1,2.1 1,0.4 1,0 1,0 1,0 1,-1.1 1,-3 1,-3.2 1,-3.7 1,-3.4 1,-2.1 1,-1.7 1,-1.1 1,-0.2 1,0.2 1,0.3 1,0.3 1,0.1 1,0 1,0 1,0 1,0 1,0 1,0 1,-0.3 1,-1.3 1,-1.9 1,-1.6 1,-1.4 1,-1.3 1,-1.4 1,-1.2 1,-1.3 1,-1.2 1,-1 1,-1.2 1,-1.3 1,-1.8 1,-2.2 1,-3.8 1,-8.9 1,-15.4 1,-22.3 1,-25.2 1,-19.5 1,-14.7 1,-7.8 1,-5.2 1,-4.8 1,-4.7 1,-4.4 1,-5.6 1,-9.2 1,-12.5 1,-11.4 1,-11.4 1,-6.9 1,-3.7 0.6,-0.9 0.4,0.4 1,3.6 1,6.4 1,16.3 1,20.4 1,23 1,16.6 1,11.3 1,4.6 1,2.9 1,3.1 1,4 1,4.3 1,4.9 1,6 1,7.1 1,7.5 1,7.1 1,7.3 1,6.9 1,6.2 1,6 1,5.2 1,4.1 1,3.5 1,3 1,2.7 1,2.3 1,2.1 1,1.9 1,1.6 1,1.2 1,1 1,0.8 1,0.7 1,0.5 1,0.1 1,0 1,0 1,0 1,0 1,0 1,0.2 1,0.6 1,0.8 1,0.9 1,0.8 1,1.2 1,1.3 1,1.5 1,1.5 1,1.4 1,1.6 1,1.7 1,1.6 1,1.4 1,1.2 1,1.2 1,1.1 1,1.2 1,1.1 1,1.4 1,1.3 1,1.1 1,1.1 1,0.8 1,0.9 1,0.9 1,0.9 1,0.7 1,0.6 1,0.3 1,0.2 1,0.2 1,0.1 1,0.1 1,0.3 1,0 1,-0.2 1,-0.3 1,-0.4 1,-0.6 1,-0.6 1,-0.6 1,-0.7 1,-0.8 1,-0.3 1,-0.2 1,-0.2 1,0 1,0.2 1,0.2 1,0.2 1,0.5 1,0.3 1,0.8 1,1 1,1.1 1,1.2 1,1.4 1,1.8 1,1.5 1,0.5 1,0.5 1,0.6 1,0.4 1,0.1 1,-0.3 1,-0.9 1,-1.3 1,-1.1 1,-1.1 1,-1 1,-1.1 1,-1.1 1,-1.8 1,-2.1 1,-2.7 1,-3 1,-3.4 1,-4 1,-5 1,-6.9 1,-10.2 1,-14.2 1,-20.8 1,-26.6 1,-31.4 1,-32.5 1,-21.6 1,-11 1,8.2 1,14.8 1,21.3 1,23 1,24.1 1,18.7 1,15.4 1,10.9 1,8.6 1,5.9 1,4.3 1,3.5 1,3 1,2.8 1,2.6 1,2.1 1,2.1 1,2 1,1.9 0.2,0.3" stroke="#ff00ff" stroke-width="3"/><g class="m"><path d="M195,3376.3l1,0 1,0.1 1,-0.1 1,-0.1 1,-0.1 1,-0.1 1,-0.2 1,-0.3 1,-0.2 1,-0.2 1,-0.1 1,0.1 1,0.2 1,0.1 1,0.2 1,0.1 1,0 1,-0.2 1,0.1 1,-0.1 1,0 1,0 1,0.2 1,0 1,0.1 1,0.2 1,0.1 1,0.1 1,0.1 1,-0.1 1,0 1,0 1,-0.1 1,0 1,0.1 1,0.1 1,0 1,0.2 1,0.1 1,0 1,0.1 1,-0.1 1,-0.1 1,0 1,0 1,0 1,0.1 1,0.1 1,0 1,0 1,-0.2 1,-0.2 1,-0.2 1,-0.1 1,0 1,0.1 1,0 1,0.2 1,-0.1 1,-0.2 1,-0.1 1,0 1,-0.1 1,0.2 1,0.2 1,0.2 1,0.1 1,0 1,0 1,0 1,0 1,-0.1 1,-0.1 1,-0.1 1,-0.1 1,-0.1 1,0.1 1,0.1 1,0.2 1,0.1 1,0.2 1,0 1,0 1,-0.1 1,0 1,-0.2 1,-0.3 1,-0.3 1,-0.2 1,-0.2 1,0 1,0.2 1,0.2 1,0.3 1,0.3 1,0 1,0 1,0 1,0 1,-0.1 1,0.1 1,0 1,-0.1 1,-0.2 1,0 1,-0.1 1,0 1,0.1 1,0.1 1,0.1 1,-0.1 1,-0.1 1,-0.2 1,-0.2 1,-0.3 1,0 1,0.1 1,0 1,0.2 1,0.2 1,0.1 1,0.1 1,0.2 1,0.1 1,0.1 1,0.1 1,0 1,-0.1 1,-0.1 1,0 1,-0.2 1,0 1,-0.1 1,-0.1 1,0 1,0.1 1,0 1,0.3 1,0 1,0.1 1,-0.1 1,-0.1 1,-0.1 1,-0.1 1,-0.1 1,0 1,0 1,0 1,0.1 1,0.2 1,0 1,0 1,0.1 1,-0.1 1,-0.2 1,0 1,0 1,-0.1 1,0.2 1,0.1 1,0 1,0 1,0 1,-0.1 1,0 1,0 1,0.1 1,0.1 1,0 1,0.1 1,0.1 1,-0.1 1,0 1,0.1 1,0.1 1,0.1 1,0.2 1,0 1,-0.1 1,0 1,-0.1 1,0 1,0.1 1,0.1 1,0.2 1,0.1 1,0.1 1,0 1,-0.1 1,-0.1 1,0 1,0 1,0.2 1,0.1 1,0 1,0 1,-0.2 1,-0.4 1,-0.3 1,-0.1 1,-0.2 1,-0.1 1,0.1 1,-0.1 1,-0.1 1,0.2 1,0 1,0 1,0 1,-0.2 1,-0.1 1,0 1,0.1 1,0 1,0.2 1,0.1 1,0 1,-0.1 1,0 1,-0.1 1,0.1 1,0.2 1,0.2 1,0.2 1,0.2 1,0.1 1,-0.2 1,0 1,-0.2 1,-0.1 1,-0.1 1,0.1 1,0.1 1,0.1 1,0 1,-0.1 1,-0.1 1,-0.5 1,-0.4 1,-0.2 1,-0.1 1,0 1,0.3 1,0.5 1,0.2 1,0.1 1,0.2 1,0.1 1,0.1 1,0.1 1,0.1 1,0 1,0 1,-0.1 1,0 1,-0.2 1,0 1,-0.1 1,-0.1 1,0 1,0.1 1,0.1 1,0.2 1,0.2 1,0.1 1,-0.2 1,-0.1 1,-0.2 1,-0.3 1,-0.1 1,0 1,0.1 1,0.1 1,0.2 1,0.2 1,0.2 1,0 1,0 1,-0.1 1,-0.1 1,-0.1 1,0.1 1,0.3 1,0.1 1,0.1 1,-0.1 1,-0.1 1,-0.1 1,-0.1 1,0 1,0.1 1,0 1,0 1,0 1,-0.1 1,0 1,0 1,-0.1 1,0 1,-0.1 1,-0.1 1,-0.1 1,0.1 1,-0.1 1,0 1,-0.1 1,-0.1 1,-0.2 1,0.1 1,0.2 1,0.2 1,0 1,0.2 1,0 1,-0.1 1,-0.2 1,0.1 1,0 1,0 1,0.1 1,0.2 1,0.2 1,0.2 1,0.5 1,0.3 1,0.3 1,0.3 1,0.3 1,0.2 1,0.3 1,0.2 1,0 1,-0.2 1,-0.2 1,-0.3 1,-0.2 1,-0.2 1,0 1,0 1,-0.1 1,-0.2 1,-0.1 1,-0.1 1,0 1,0 1,0 1,0.1 1,-0.1 1,0.1 1,0.1 1,0.1 1,0 1,0 1,-0.3 1,-0.4 1,-0.3 1,-0.2 1,-0.2 1,0 1,0.2 1,0 1,-0.1 1,0.1 1,0.1 1,0.1 1,0.1 1,0.1 1,-0.1 1,-0.3 1,-0.2 1,-0.2 1,-0.1 1,0.1 1,0.2 1,0.2 1,0.3 1,0.1 1,0 1,-0.1 1,-0.2 1,-0.3 1,-0.3 1,-0.1 1,-0.1 1,0.1 1,0.2 1,0 1,0.1 1,0 1,-0.1 1,0 1,0.1 1,0 1,0 1,0.1 1,-0.1 1,-0.2 1,0 1,0.1 1,0.1 1,0.1 1,0.2 1,0 1,0 1,0 1,0 1,0 1,0.2 1,-0.2 1,-0.1 1,-0.2 1,-0.2 1,-0.2 1,0.1 1,0 1,0 1,0.1 1,0 1,-0.2 1,-0.1 1,-0.1 1,-0.1 1,-0.1 1,0 1,0 1,-0.1 1,0.1 1,0.1 1,0 1,0 1,0.1 1,0.1 1,0.1 1,0.1 1,0.1 1,0.1 1,0 1,0 1,-0.1 1,0 1,0 1,0 1,-0.1 1,0 1,0 1,0 1,0.1 1,0.1 1,0.1 1,0.1 1,0 1,0.3 1,0 1,0.1 1,0.1 1,0.1 1,-0.2 1,0 1,0 1,0 1,0.1 1,0.1 1,0 1,0.1 1,-0.2 1,-0.1 1,0 1,-0.1 1,0.1 1,0.2 1,0.1 1,0.2 1,0.1 1,-0.1 1,-0.1 1,-0.2 1,-0.3 1,-0.2 1,0 1,-0.1 1,0.1 1,0.2 1,-0.1 1,-0.1 1,0 1,0 1,-0.1 1,0.1 1,0 1,0 1,-0.1 1,0.1 1,0 1,0.1 1,0.1 1,0 1,-0.1 1,-0.2 1,-0.1 1,0 1,0 1,0.1 1,0.2 1,0.2 1,0.2 1,0.2 1,0.1 1,0 1,-0.2 1,-0.2 1,-0.2 1,-0.2 1,-0.1 1,0.1 1,0.1 1,0.1 1,0 1,0 1,-0.2 1,0 1,-0.1 1,0 1,0 1,0 1,-0.1 1,-0.1 1,-0.1 1,-0.1 1,0 1,0 1,0.1 1,0.1 1,0.1 1,0.1 1,-0.1 1,0.1 1,-0.2 1,0 1,0.1 1,0 1,0.1 1,0.1 1,0 1,0 1,0 1,0 1,0 1,0.1 1,0 1,0.1 1,0 1,0 1,0 1,0 1,0 1,0 1,0 1,0 1,0 1,-0.1 1,-0.3 1,-0.3 1,-0.3 1,-0.4 1,-0.4 1,0 1,0 1,0 1,0.3 1,0.5 1,0.2 1,0.3 1,0.1 1,-0.1 1,-0.3 1,-0.2 1,-0.2 1,0 1,0.1 1,0.1 1,0.2 1,0.1 1,0 1,0.1 1,0.1 1,0.1 1,0 1,-0.2 1,-0.2 1,-0.2 1,-0.1 1,-0.1 1,0 1,0 1,0 1,-0.2 1,-0.1 1,0 1,0 1,0.1 1,0.3 1,0.2 1,0.1 1,0 1,0 1,-0.1 1,0 1,0.2 1,0.4 1,0.2 1,0.3 1,0.1 1,-0.2 1,-0.1 1,-0.1 1,-0.1 1,0.1 1,0 1,0.1 1,-0.1 1,0.1 1,0 1,-0.1 1,-0.2 1,0 1,-0.1 1,-0.1 1,-0.1 1,0 1,-0.2 1,-0.2 1,-0.1 1,0.1 1,0 1,0 1,0.4 1,0.1 1,0.1 1,0 1,0 1,-0.1 1,-0.2 1,-0.1 1,-0.1 1,0 1,0 1,0 1,0.1 1,0 1,0 1,0 1,0.2 1,0.2 1,0.2 1,0.3 1,0.3 1,0 1,-0.2 1,-0.2 1,-0.2 1,-0.4 1,-0.3 1,-0.2 1,-0.1 1,-0.2 1,-0.1 1,0 1,0.2 1,0.1 1,0.2 1,0.1 1,0.1 1,-0.2 1,0 1,-0.1 1,0 1,0 1,0 1,0 1,0 1,-0.1 1,0 1,0 1,0 1,0.2 1,0.2 1,0.3 1,0.1 1,0 1,0.1 1,-0.1 1,-0.1 1,-0.1 1,0 1,0.1 1,0 1,0.1 1,0 1,-0.1 1,-0.1 1,-0.2 1,-0.2 1,0 1,-0.1 1,0 1,-0.1 1,-0.1 1,-0.1 1,0 1,-0.1 1,-0.1 1,0.1 1,0.1 1,0.1 1,0.2 1,0.1 1,0.1 1,-0.1 1,-0.2 1,-0.2 1,-0.2 1,-0.1 1,0 1,0 1,0 1,0.1 1,0 1,0.1 1,0 1,0 1,0 1,0 1,0 1,0.1 1,0.2 1,0.2 1,0.1 1,0 1,-0.1 1,-0.1 1,-0.1 1,-0.1 1,-0.1 1,-0.1 1,0 1,0 1,0 1,0 1,0.1 1,0 1,0 1,0 1,0 1,-0.1 1,0 1,0 1,0 1,0 1,0 1,0 1,0 1,-0.1 1,-0.1 1,0 1,-0.1 1,0.1 1,0 1,0 1,0 1,0 1,0 1,0 1,-0.1 1,-0.1 1,0 1,-0.1 1,0 1,0 1,0 1,0.1 1,0 1,0 1,0 1,0 1,-0.1 1,0 1,-0.1 1,0 1,0 1,0 1,0 1,0 1,0 1,0 1,0 1,0 1,0 1,0 1,-0.1 1,0 1,0 1,-0.1 1,0 1,0 1,-0.1 1,0 1,0 1,-0.1 1,0 1,-0.1 1,0 1,-0.1 1,0 1,-0.1 1,0 1,-0.1 1,0 1,-0.1 1,0 1,-0.1 1,-0.1 1,0 1,-0.1 1,0 1,-0.1 1,-0.1 1,0 1,-0.1 1,0 1,-0.1 1,-0.1 1,-0.1 1,0 1,-0.1 1,-0.1 1,-0.1 1,-0.1 1,-0.1 1,-0.2 1,-0.1 1,-0.2 1,-0.2 1,-0.2 1,-0.4 1,-0.3 1,-0.4 1,-0.4 1,-0.4 1,-0.4 1,-0.5 1,-0.4 1,-0.4 1,-0.4 1,-0.4 1,-0.4 1,-0.5 1,-0.6 1,-0.7 1,-0.8 1,-1.2 1,-1.7 1,-2.3 1,-2.7 1,-3.1 1,-4.6 1,-5.4 1,-5.7 1,-5.8 1,-6.3 1,-5.9 1,-4.7 1,-4.5 1,-3.2 1,-1.1 1,-0.4 1.2,-0.2 0.8,0.8 1,2.4 1,3.2 1,4.5 1,6.1 1,5.9 1,5.8 1,5.6 1,4.6 1,4 1,3.6 1,3 1,2.4 1,2.1 1,1.9 1,1.6 1,1.2 1,1.1 1,0.9 1,0.9 1,0.7 1,0.6 1,0.5 1,0.4 1,0.5 1,0.3 1,0.4 1,0.3 1,0.3 1,0.1 1,0.2 1,0 1,0.1 1,0 1,0.1 1,0 1,0 1,0 1,0.1 1,0 1,0 1,0 1,0 1,0 1,0 1,0 1,-0.1 1,0 1,-0.1 1,-0.1 1,0 1,-0.1 1,-0.1 1,-0.2 1,-0.2 1,-0.3 1,-0.4 1,-0.4 1,-0.6 1,-0.6 1,-0.8 1,-1.1 1,-1.5 1,-1.9 1,-2.2 1,-2.4 1,-3.1 1,-3.7 1,-4.4 1,-6.5 1,-8.3 1,-7.7 1,-7.6 1,-5.8 1,-1.7 1,-0.9 0.6,-0.2 0.4,0.4 1,3.3 1,4.4 1,5.7 1,5.2 1,1.3 1,0.7 0.6,0.1 0.4,-0.4 1,-4.9 1,-7.8 1,-14.8 1,-15.3 1,-15 1,-8.6 1,-3.7 0.8,-1.2 1.2,1.6 1,3.2 1,9.8 1,12.3 1,10.7 1,10.3 1,8.7 1,7.5 1,6.6 1,5.3 1,3.7 1,3.1 1,2.5 1,1.7 1,1.1 1,0.9 1,0.7 1,0.4 1,0 1,-0.2 1,-0.5 1,-0.5 1,-0.5 1,-0.5 1,-0.5 1,-0.2 1,0.5 1,1 1,1.1 1,0.8 1,0.3 1,0.2 1,0.1 1,0.1 1,0.1 1,0.2 1,0.3 1,0.6 1,0.7 1,0.7 1,0.7 1,0.5 1,0.5 1,0.6 1,0.5 1,0.4 1,0.3 1,0.1 1,0 1,0 1,0 1,0 1,0 1,0 1,0 1,0 1,0 1,0 1,0 1,0 1,0 1,0 1,-0.1 1,-0.3 1,-0.7 1,-0.7 1,-0.6 1,-0.7 1,-0.8 1,-0.6 1,-0.2 1,0.2 1,0.2 1,0.4 1,0.5 1,0.9 1,1.2 1,1.2 1,1.1 1,1.1 1,1.2 1,1.2 1,1 1,1.1 1,1 1,1 1,0.6 1,0.3 1,0.2 1,0.2 1,0 1,-0.2 1,-0.8 1,-1 1,-0.7 1,-0.6 1,-0.5 1,-0.2 1,0.4 1,1.3 1,1.5 1,1.3 1,1.3 1,1 1,0.5 1,0 1,0 1,0 1,0 1,-0.2 1,-1.1 1,-1.4 1,-1.2 1,-1.3 1,-1.3 1,-0.9 1,-0.2 1,0.1 1,0.3 1,0.3 1,0.2 1,0.3 1,0.1 1,0.1 1,-0.1 1,-0.4 1,-0.4 1,-0.2 1,0 1,0.2 1,0.4 1,0.5 1,0.4 1,0.5 1,0.6 1,0.6 1,0.3 1,-0.1 1,-0.4 1,-0.5 1,-0.6 1,-0.8 1,-1.4 1,-1.9 1,-2.2 1,-2.4 1,-3 1,-3.6 1,-3.8 1,-3.4 1,-3.4 1,-3.3 1,-2.4 1,-1.4 1,-1.1 1,-0.7 1,-0.2 1,0.5 1,1.1 1,1.2 1,1.7 1,1.9 1,0.9 1,-0.3 1,-0.5 1,-0.8 1,-1.8 1,-2.1 1,-0.3 1,0.6 1,0.9 1,1.8 1,2.2 1,1.3 1,0.5 1,0.4 0.7,0.1 1.3,-1.7 1,-2.8 1,-2.8 1,-3.6 1,-3.2 1,-1.5 1,-0.8 0.9,-0.3 1.1,1.4 1,2.8 1,2.9 1,3.5 1,3.8 1,3.5 1,2.8 1,2.7 1,2.4 1,2.1 1,1.8 1,1.7 1,1.5 1,1.3 1,0.9 1,0.5 1,0.5 1,0.3 1,0.2 1,0 1,-0.3 1,-0.7 1,-0.9 1,-1 1,-1.6 1,-2.4 1,-3 1,-3.4 1,-3.9 1,-4.9 1,-5.8 1,-6.2 1,-6.7 1,-7.5 1,-7.9 1,-7.7 1,-7.5 1,-7.6 1,-7.4 1,-7.3 1,-7.4 1,-6.9 1,-6.2 1,-5.3 1,-5 1,-4.3 1,-3.6 1,-3.2 1,-2.8 1,-1.8 1,-0.8 1,-0.6 1,-0.3 0.8,-0.1 1.2,0.8 1,1.8 1,2.4 1,3 1,4.9 1,5.8 1,5.5 1,5.5 1,6 1,7.4 1,8.6 1,8.9 1,8.1 1,8 1,7.6 1,6.9 1,6.4 1,6.1 1,5.3 1,3.9 1,3 1,2.7 1,1.9 1,0.5 1,0 1,0 1,0 1,-0.3 1,-0.7 1,-1 1,-0.8 1,-0.2 1,0.2 1,0.3 1,0.3 1,0.4 1,0.3 1,0.3 1,0.3 1,0.3 1,0.3 1,0.3 1,0.2 1,0.3 1,0.2 1,0.3 1,0.1 1,0 1,-0.3 1,-0.8 1,-1 1,-1.2 1,-1.6 1,-2.4 1,-3.1 1,-3.4 1,-3.8 1,-4.4 1,-5.1 1,-5.8 1,-7.5 1,-7.3 1,-5.9 1,-5.3 0.8,-1.7 1.2,0.4 1,0.9 1,3.5 1,7.1 1,9.7 1,10.6 1,5.7 1,3.9 0.6,0.7 0.4,-0.4 1,-2.8 1,-5.3 1,-11.8 1,-13.6 1,-15.5 1,-15 1,-12.8 1,-11.9 1,-11.2 1,-11.6 1,-9.5 1,-4.9 1,-3.4 0.6,-0.7 0.4,0.3 1,2.7 1,5.1 1,12.3 1,14.2 1,15.4 1,15 1,13.2 1,12.2 1,10.7 1,9.6 1,8.8 1,7.6 1,6.1 1,5.3 1,4.5 1,3.4 1,2.6 1,2.3 1,1.7 1,0.9 1,0.6 1,0.4 1,0.3 0.6,0.1 0.4,-0.1 1,-1.4 1,-2.4 1,-3 1,-4 1,-6 1,-7.4 1,-9.1 1,-11.3 1,-12.3 1,-14.1 1,-14.2 1,-10.8 1,-9 1,-3.9 1,-1.7 1,-0.6 1,1.5 1,4 1,6.2 1,10.9 1,10.9 1,10.3 1,10.1 1,9.2 1,8.9 1,7.8 1,5.9 1,5 1,3.6 1,1.3 1,0.6 1,0.4 0.4,0 0.6,-0.9 1,-4.5 1,-4 1,-3.4 1,-2.6 0.7,-0.7 1.3,0.4 1,0.6 1,0.7 1,1 1,1.2 1,1.2 1,1.1 1,1 1,1.4 1,3.2 1,4.7 1,4 1,2.6 1,2.3 1,1 1,0.2 1,0.1 1,0.1 1,0.1 1,0.2 1,0.3 1,0.4 1,0.5 1,0.6 1,0.9 1,1.2 1,1.3 1,1.2 1,1.2 1,1.2 1,1.2 1,1.1 1,0.9 1,0.9 1,0.9 1,0.8 1,0.8 1,0.6 1,0.6 1,0.5 1,0.5 1,0.4 1,0.4 1,0.4 1,0.4 1,0.4 1,0.4 1,0.3 1,0.2 1,0.1 1,0 1,-0.3 1,-0.3 1,-0.5 1,-0.8 1,-1.9 1,-2.9 1,-4.7 1,-8.9 1,-9 1,-9.6 1,-7 1,-2.6 1,-1.2 1,0.4 1,1.3 1,3.7 1,6.8 1,6.2 1,6 1,3.7 1,2.7 1,1.7 1,0.3 1,0 1,0 1,-0.5 1,-2.3 1,-2.5 1,-1.3 1,-1 1,-0.6 1,0.1 1,0.8 1,1.1 1,1.7 1,2.8 1,2.7 1,2.2 1,2 1,1.9 1,1.7 1,1.4 1,1.4 1,1.2 1,1 1,0.8 1,0.7 1,0.7 1,0.5 1,0.5 1,0.3 1,0.3 1,0.1 1,0.2 1,0.1 1,0.1 1,0.1 1,0.1 1,0.1 1,0 1,0 1,0 1,-0.2 1,-0.1 1,-0.2 1,-0.2 1,-0.5 1,-1.1 1,-1.4 1,-1.2 0.8,-0.4 1.2,1.2 1,2 1,1.5 1,1.2 1,1 1,0.6 1,0.3 1,0.3 1,0.3 1,0.1 1,0.2 1,0.2 1,0.2 1,0.1 1,0.1 1,0.1 1,0.2 1,0.3 1,0.4 1,0.5 1,0.6 1,0.4 1,0.2 1,0 1,0 1,-0.1 1,-0.1 1,-0.1 1,-0.3 1,-0.5 1,-0.4 1,-0.2 1,0.1 1,0.1 1,0.3 1,0.3 1,0.2 1,0.4 1,0.4 1,0.4 1,0.3 1,0.1 1,0 1,0 1,0 1,-0.1 1,0 1,-0.1 1,0 1,-0.1 1,-0.1 1,0 1,-0.1 1,-0.2 1,-0.1 1,-0.2 1,-0.1 1,-0.3 1,-0.4 1,-0.6 1,-0.7 1,-0.8 1,-0.9 1,-1.5 1,-2 1,-2.6 1,-3.3 1,-5.3 1,-6.8 1,-7.9 1,-10.5 1,-10.4 1,-8.7 1,-7.9 1,-4.6 1,-2.7 1,-1.6 0.5,-0.2 0.5,0.7 1,4.3 1,5.5 1,8.3 1,8.6 1,4.7 1,3.5 1.1,1.6 0.9,-0.6 1,-1.6 1,-2.2 1,-3.9 1,-5.8 1,-5.2 1,-4.8 1,-4.4 1,-2.5 1,-1.2 1,-0.8 0.5,-0.1 0.5,0.5 1,3 1,3.9 1,5.8 1,5.6 1,1.4 1,0.5 0.8,0.1 1.2,-2.1 1,-4 1,-5 1,-8.4 1,-10.3 1,-8.8 1,-8.2 1,-6.9 1,-4.1 1,-3 1,-1.9 0.5,-0.3 0.5,0.4 1,2.6 1,4 1,7.7 1,10.3 1,9.1 1,8.8 1,8.2 1,6.8 1,5.8 1,5.1 1,4.2 1,3.1 1,2.8 1,2.4 1,1.9 1,1.3 1,1 1,0.8 1,0.7 1,0.6 1,0.5 1,0.7 1,0.7 1,1 1,1.5 1,1.9 1,1.9 1,1.6 1.2,0.7 0.8,-0.4 1,-1.4 1,-1.4 1,-0.8 1,0 1,0.2 1,0.4 1,0.4 1,1.3 1,2.2 1,2.4 1,1.9 1,1.5 1,1.5 1,1.3 1,1.2 1,1 1,1 1,0.9 1,0.7 1,0.6 1,0.3 1,0.4 1,0.2 1,0.1 1,-0.4 1,-0.7 1,-1 1,-1.1 1,-1 1,-1 1,-1 1,-1.2 1,-1.6 1,-2.8 1,-4.6 1,-7.7 1,-15.2 1,-10.5 1.3,-7.4 0.7,0.5 1,2.1 1,7.9 1,10.5 1,7.6 1,1.9 1,1.1 1,0.6 1,0.2 1,-0.3 1,-0.7 1,-1.1 1,-1.2 1,-1.2 1,-2 1,-2.2 1,-1.9 1,-1.2 1,-0.9 1,-0.7 1,-0.4 1,0.1 1,0.7 1,1 1,1.2 1,1.6 1,2.1 1,2.2 1,1.8 1,1.4 1,1.4 1,1 0.8,0.3 1.2,-0.8 1,-1.6 1,-2 1,-4.3 1,-5.8 1,-5.5 1,-6.2 1,-4 1,-1 1,-0.6 0.6,0 0.4,0.5 1,4.5 1,6 1,8.8 1,6.9 1,4.2 1.1,2.1 0.9,-0.3 1,-0.7 1,-2.5 1,-5.4 1,-5.9 1,-6.2 1,-7 1,-7.7 1,-8.8 1,-9.2 1,-11.1 1,-9.4 1,-5.1 1,-2.2 1,0.7 1,2 1,6.7 1,3.2 1,0.5 1,0.4 1,0.3 1,0.3 1,2.4 1,13.1 1,13.5 1,13.1 1,10.5 1,7.4 1,2.7 1,1.6 0.6,0.3 0.4,0 1,-0.6 1,-0.9 1,-0.8 1,-0.1 1,0 1,0 1,0 1,0 1,0 1,0 1,0 1,0 1,0 1,0 1,0 1,0 1,0.7 1,1.8 1,1.9 1,1.8 1,2 1,2.1 1,1.8 1,1.9 1,1.9 1,1.5 1,0.5 1,0 1,0 1,0 1,-1.9 1,-3.7 1,-4.7 1,-6.6 1,-4.6 1,-2.5 1,-1.6 1,0 1,0.1 1,0.2 1,0.2 1,0.4 1,0.7 1,0.9 1,1.9 1,4.1 1.2,3.2 0.8,-0.4 1,-1.2 1,-0.8 1,-0.1 1,0.2 1,0.3 1,0.8 1,2.4 1,2.1 1,0.4 1,0 1,0 1,0 1,-1.1 1,-3 1,-3.2 1,-3.7 1,-3.4 1,-2.1 1,-1.7 1,-1.1 1,-0.2 1,0.2 1,0.3 1,0.3 1,0.1 1,0 1,0 1,0 1,0 1,0 1,0 1,-0.3 1,-1.3 1,-1.9 1,-1.6 1,-1.4 1,-1.3 1,-1.4 1,-1.2 1,-1.3 1,-1.2 1,-1 1,-1.2 1,-1.3 1,-1.8 1,-2.2 1,-3.8 1,-8.9 1,-15.4 1,-22.3 1,-25.2 1,-19.5 1,-14.7 1,-7.8 1,-5.2 1,-4.8 1,-4.7 1,-4.4 1,-5.6 1,-9.2 1,-12.5 1,-11.4 1,-11.4 1,-6.9 1,-3.7 0.6,-0.9 0.4,0.4 1,3.6 1,6.4 1,16.3 1,20.4 1,23 1,16.6 1,11.3 1,4.6 1,2.9 1,3.1 1,4 1,4.3 1,4.9 1,6 1,7.1 1,7.5 1,7.1 1,7.3 1,6.9 1,6.2 1,6 1,5.2 1,4.1 1,3.5 1,3 1,2.7 1,2.3 1,2.1 1,1.9 1,1.6 1,1.2 1,1 1,0.8 1,0.7 1,0.5 1,0.1 1,0 1,0 1,0 1,0 1,0 1,0.2 1,0.6 1,0.8 1,0.9 1,0.8 1,1.2 1,1.3 1,1.5 1,1.5 1,1.4 1,1.6 1,1.7 1,1.6 1,1.4 1,1.2 1,1.2 1,1.1 1,1.2 1,1.1 1,1.4 1,1.3 1,1.1 1,1.1 1,0.8 1,0.9 1,0.9 1,0.9 1,0.7 1,0.6 1,0.3 1,0.2 1,0.2 1,0.1 1,0.1 1,0.3 1,0 1,-0.2 1,-0.3 1,-0.4 1,-0.6 1,-0.6 1,-0.6 1,-0.7 1,-0.8 1,-0.3 1,-0.2 1,-0.2 1,0 1,0.2 1,0.2 1,0.2 1,0.5 1,0.3 1,0.8 1,1 1,1.1 1,1.2 1,1.4 1,1.8 1,1.5 1,0.5 1,0.5 1,0.6 1,0.4 1,0.1 1,-0.3 1,-0.9 1,-1.3 1,-1.1 1,-1.1 1,-1 1,-1.1 1,-1.1 1,-1.8 1,-2.1 1,-2.7 1,-3 1,-3.4 1,-4 1,-5 1,-6.9 1,-10.2 1,-14.2 1,-20.8 1,-26.6 1,-31.4 1,-32.5 1,-21.6 1,-11 1,8.2 1,14.8 1,21.3 1,23 1,24.1 1,18.7 1,15.4 1,10.9 1,8.6 1,5.9 1,4.3 1,3.5 1,3 1,2.8 1,2.6 1,2.1 1,2.1 1,2 1,1.9 0.2,0.3"/></g>
<path d="M195,3667.5l1,0.1 1,-0.1 1,-0.2 1,-0.1 1,0 1,-0.3 1,-0.2 1,0 1,-0.1 1,0 1,0.1 1,0.2 1,0.2 1,0.1 1,0 1,0 1,-0.1 1,-0.3 1,-0.1 1,0 1,-0.1 1,0 1,0.2 1,-0.1 1,0 1,-0.1 1,-0.1 1,0 1,0.1 1,0.2 1,0.1 1,0.1 1,0.1 1,-0.2 1,-0.1 1,-0.1 1,0 1,0 1,0 1,0.1 1,0.2 1,0 1,0 1,0.1 1,0 1,0.2 1,0.2 1,0.5 1,0.2 1,0.3 1,-0.1 1,-0.1 1,-0.3 1,-0.2 1,-0.2 1,0.1 1,-0.2 1,0 1,0 1,0 1,-0.2 1,0 1,0 1,-0.2 1,-0.2 1,0 1,-0.2 1,-0.1 1,0 1,0.1 1,0 1,-0.1 1,0.1 1,0 1,-0.1 1,0 1,0.1 1,0.1 1,0.1 1,0.2 1,0 1,0 1,0 1,-0.3 1,-0.1 1,-0.1 1,0 1,0.1 1,0.1 1,0 1,0.1 1,0 1,0.1 1,0.2 1,0.2 1,0.2 1,0.2 1,-0.1 1,-0.1 1,0.1 1,-0.1 1,-0.2 1,-0.1 1,-0.1 1,-0.2 1,0 1,0.1 1,0.2 1,0.2 1,0.2 1,0.2 1,0 1,-0.2 1,0 1,-0.1 1,0 1,0.1 1,0.3 1,0.2 1,0.3 1,0.3 1,0.2 1,0.2 1,0.2 1,0.1 1,0 1,0 1,-0.2 1,-0.2 1,-0.2 1,-0.1 1,0 1,0.1 1,0.1 1,0 1,0 1,-0.1 1,0.1 1,-0.2 1,-0.3 1,-0.1 1,-0.2 1,-0.3 1,0 1,0.1 1,0 1,-0.1 1,0 1,0 1,0 1,0 1,0 1,0.1 1,-0.1 1,-0.3 1,-0.2 1,-0.1 1,0 1,0 1,0.2 1,0.4 1,0 1,-0.1 1,-0.1 1,-0.1 1,-0.4 1,0 1,0 1,0.2 1,0.2 1,0.3 1,0.1 1,0.3 1,0 1,-0.2 1,-0.2 1,0 1,-0.3 1,0 1,0 1,0.1 1,-0.1 1,0.1 1,0 1,0 1,0 1,-0.1 1,-0.2 1,-0.2 1,-0.3 1,0 1,-0.2 1,0 1,0.1 1,0.3 1,0.1 1,0.1 1,0.2 1,0.1 1,0.1 1,0.2 1,0.3 1,0.1 1,-0.1 1,-0.1 1,-0.3 1,-0.3 1,-0.1 1,0 1,0.1 1,0.3 1,0.3 1,0.1 1,0 1,-0.2 1,-0.3 1,-0.3 1,-0.4 1,-0.1 1,-0.1 1,-0.1 1,0 1,0.2 1,0.1 1,0.1 1,0.2 1,0.1 1,0.1 1,0.2 1,0.1 1,0.2 1,0.1 1,0.1 1,0 1,-0.1 1,-0.1 1,-0.1 1,-0.1 1,0 1,0 1,-0.1 1,0 1,0.2 1,0.1 1,0.2 1,0.3 1,0.3 1,0.3 1,0.3 1,0.1 1,0 1,-0.1 1,-0.1 1,-0.1 1,0 1,-0.1 1,0 1,0 1,-0.1 1,-0.1 1,0.3 1,0.1 1,0.1 1,0.1 1,0.2 1,0 1,-0.1 1,-0.1 1,-0.1 1,0 1,0 1,0.1 1,0.1 1,-0.1 1,0 1,-0.1 1,-0.1 1,0 1,0.1 1,0.1 1,0 1,0.1 1,0 1,-0.1 1,0 1,0 1,0.2 1,0 1,0 1,0.1 1,0.1 1,-0.1 1,0.1 1,0.1 1,0 1,0 1,0.2 1,0.2 1,0 1,0.1 1,-0.2 1,-0.5 1,-0.4 1,-0.4 1,-0.2 1,-0.2 1,-0.1 1,0.1 1,0.2 1,0.1 1,0.3 1,0.6 1,0.3 1,0.2 1,0 1,-0.1 1,-0.3 1,-0.4 1,-0.3 1,-0.2 1,-0.1 1,0.1 1,0.3 1,1.3 1,1.5 1,0.9 1,0.1 1,0.1 1,0.2 1,0.1 1,-0.1 1,-0.2 1,-0.4 1,-0.6 1,-0.5 1,-0.4 1,-0.5 1,-0.3 1,-0.1 1,-0.1 1,-0.1 1,0.1 1,0 1,-0.1 1,0 1,-0.1 1,0 1,0.1 1,0.1 1,0 1,0 1,0 1,-0.2 1,-0.1 1,-0.2 1,-0.4 1,-0.3 1,-0.2 1,-0.2 1,0.1 1,0.3 1,0.4 1,0.2 1,0.2 1,-0.1 1,-0.2 1,-0.2 1,0 1,0 1,0.1 1,0.1 1,0 1,-0.2 1,0 1,-0.1 1,0 1,0.2 1,0.2 1,0.2 1,0.1 1,0.1 1,-0.1 1,-0.1 1,-0.2 1,-0.1 1,0 1,-0.3 1,0 1,-0.1 1,0 1,0 1,0.2 1,0 1,0.2 1,0.2 1,0 1,0 1,0 1,0 1,-0.1 1,0 1,0 1,0 1,0 1,0 1,-0.1 1,0.1 1,0 1,-0.1 1,-0.1 1,-0.1 1,-0.3 1,-0.3 1,-0.3 1,-0.2 1,-0.2 1,-0.1 1,0 1,0.1 1,0 1,-0.2 1,-0.2 1,0 1,-0.1 1,-0.2 1,0.1 1,0 1,0 1,0.1 1,0.2 1,0.1 1,0.2 1,0.1 1,0.1 1,0 1,0 1,0 1,0.2 1,0.2 1,0.3 1,0.2 1,0.3 1,0.1 1,0.1 1,0.2 1,0.4 1,0.3 1,0.3 1,0.3 1,0.2 1,0 1,0.2 1,0.1 1,0.1 1,0.2 1,0.1 1,0.1 1,0 1,0 1,-0.2 1,-0.2 1,-0.1 1,-0.2 1,0.1 1,0.2 1,0.1 1,0 1,0 1,-0.2 1,-0.2 1,-0.2 1,0 1,0 1,0.1 1,0.1 1,0.1 1,0 1,-0.1 1,-0.2 1,-0.1 1,-0.2 1,-0.1 1,0.2 1,0.1 1,0.1 1,0 1,-0.3 1,-0.4 1,-0.3 1,-0.4 1,-0.4 1,-0.3 1,-0.1 1,-0.1 1,-0.1 1,0.2 1,0.2 1,0.1 1,0.2 1,0.1 1,-0.1 1,0.1 1,0.1 1,-0.1 1,0.1 1,0.1 1,-0.1 1,0.1 1,0.2 1,0.3 1,-0.1 1,0.1 1,0 1,0 1,-0.2 1,0.1 1,0.1 1,0.1 1,0.2 1,0.4 1,0.3 1,0.5 1,0.3 1,0.1 1,0 1,-0.2 1,-0.3 1,-0.2 1,-0.3 1,-0.3 1,-0.2 1,-0.2 1,-0.1 1,0 1,0 1,0.1 1,0.1 1,0.1 1,0.1 1,0.1 1,0 1,0 1,-0.1 1,-0.1 1,0 1,-0.2 1,-0.3 1,-0.3 1,-0.3 1,-0.4 1,-0.4 1,-0.2 1,-0.2 1,-0.2 1,-0.1 1,0 1,0.1 1,0 1,0 1,-0.2 1,-0.1 1,-0.3 1,-0.1 1,0 1,-0.1 1,0 1,-0.2 1,-0.3 1,-0.2 1,-0.3 1,-0.2 1,-0.1 1,0.2 1,0.2 1,0.2 1,0.3 1,0.3 1,0.2 1,0.4 1,0.3 1,0.2 1,0.1 1,0.1 1,0.1 1,0 1,0.2 1,0.1 1,0.2 1,0.3 1,0.3 1,0.1 1,0.1 1,-0.1 1,-0.2 1,-0.1 1,-0.2 1,0 1,0.3 1,0.2 1,0.3 1,0.3 1,0.2 1,0.1 1,0.4 1,0.2 1,0.2 1,0.1 1,0 1,-0.3 1,-0.2 1,-0.3 1,0.1 1,0.1 1,0.4 1,0.4 1,0.3 1,0.2 1,0.1 1,-0.2 1,-0.1 1,-0.2 1,-0.2 1,-0.2 1,0.2 1,0 1,0 1,0.3 1,0.2 1,-0.2 1,0 1,0.1 1,-0.3 1,-0.1 1,0.2 1,0.3 1,0 1,0 1,0 1,-0.3 1,-0.4 1,-0.1 1,0 1,0.1 1,0.2 1,0.3 1,0.1 1,0 1,0 1,-0.1 1,0 1,-0.1 1,0.1 1,-0.1 1,-0.3 1,-0.3 1,-0.1 1,-0.2 1,0.1 1,0.1 1,0 1,0 1,0 1,-0.1 1,0 1,0.1 1,0.1 1,0.1 1,0 1,-0.2 1,-0.1 1,-0.1 1,-0.3 1,-0.1 1,0 1,0 1,-0.2 1,-0.1 1,-0.1 1,-0.2 1,-0.1 1,0 1,0.3 1,0.2 1,0.3 1,0.2 1,0 1,-0.1 1,-0.1 1,-0.1 1,0 1,0.1 1,0.2 1,0.1 1,0.1 1,0 1,0 1,-0.2 1,-0.1 1,-0.2 1,-0.1 1,0 1,0 1,0.1 1,0.2 1,0 1,0.1 1,0.1 1,0 1,0 1,0 1,0.1 1,0 1,0 1,0 1,0 1,-0.1 1,0 1,0.1 1,-0.1 1,0.1 1,0.1 1,0 1,0 1,0 1,0 1,0 1,0.1 1,0.1 1,0.1 1,0.2 1,0.1 1,-0.1 1,0 1,0 1,-0.1 1,0 1,0 1,0 1,0 1,0.1 1,0.1 1,0.1 1,0.1 1,0.1 1,0 1,0 1,0 1,0 1,-0.1 1,0 1,0 1,0 1,0 1,0 1,0 1,0 1,-0.1 1,0 1,-0.1 1,-0.1 1,0 1,0 1,-0.1 1,-0.1 1,-0.1 1,-0.2 1,-0.2 1,-0.2 1,0 1,-0.1 1,0 1,0 1,0 1,0 1,0 1,0 1,0 1,-0.1 1,-0.1 1,0 1,-0.1 1,0 1,0.1 1,0 1,-0.1 1,0 1,0 1,0 1,-0.1 1,0 1,0 1,0 1,0 1,0.1 1,0 1,-0.1 1,0 1,0 1,0 1,0 1,0 1,-0.1 1,0 1,0 1,0 1,0 1,0 1,-0.1 1,0 1,0 1,0 1,0 1,0 1,-0.1 1,0 1,0 1,0 1,-0.1 1,0 1,0 1,0 1,-0.1 1,0 1,0 1,0 1,-0.1 1,0 1,-0.1 1,0 1,0 1,-0.1 1,0 1,-0.1 1,-0.1 1,0 1,-0.1 1,-0.2 1,-0.1 1,-0.2 1,-0.2 1,-0.3 1,-0.2 1,-0.3 1,-0.3 1,-0.3 1,-0.5 1,-0.6 1,-0.8 1,-0.7 1,-0.8 1,-0.6 1,-0.6 1,-0.4 1,-0.4 1,-0.3 1,-0.3 1,-0.3 1,-0.5 1,-0.5 1,-0.8 1,-1.1 1,-1.5 1,-1.9 1,-2.7 1,-5.5 1,-7.1 1,-7.2 1,-8.2 1,-8.4 1,-7.4 1,-7.3 1,-6 1,-4 1,-3.5 1.3,-2 0.7,0 1,0.2 1,0.3 1,0.9 1,2.4 1,3.7 1,5.2 1,12.2 1,8.3 1,5.1 1,4.4 1,4.5 1,4.7 1,4.2 1,3.3 1,2.4 1,2.1 1,1.9 1,1.6 1,1.7 1,1.7 1,1.6 1,1.4 1,1.3 1,1 1,0.7 1,0.6 1,0.5 1,0.5 1,0.4 1,0.4 1,0.3 1,0.4 1,0.3 1,0.4 1,0.3 1,0.3 1,0.2 1,0.3 1,0.2 1,0.1 1,0.1 1,0.1 1,0.1 1,0.1 1,0.1 1,0.1 1,0 1,0 1,0 1,0 1,0 1,-0.1 1,-0.2 1,-0.2 1,-0.2 1,-0.2 1,-0.3 1,-0.3 1,-0.4 1,-0.6 1,-0.8 1,-1 1,-1.2 1,-1.3 1,-1.7 1,-2.3 1,-2.8 1,-3.5 1,-5.1 1,-7.4 1,-8.1 1,-8.9 1,-9.8 1,-8.2 1,-6.7 1,-4.9 1,-1 1,-0.4 0.4,0 0.6,1.5 1,6 1,7 1,8.1 1,3.7 1,1.8 0.5,0.3 0.5,-0.7 1,-4.8 1,-8 1,-15.3 1,-15.7 1,-16 1,-9.8 1,-6 1,-2.8 1,-0.4 1.1,-0.2 0.9,3.5 1,7.4 1,8.2 1,9.4 1,7.4 1,6 1,6.4 1,7.9 1,7.4 1,5.6 1,4.9 1,3.4 1,2.1 1,1.6 1,1.3 1,1.2 1,1.2 1,1.3 1,1.2 1,1.2 1,1.2 1,1.3 1,1.3 1,1.7 1,1.9 1,1.9 1,1.4 1,0.9 1,0.7 1,0.6 1,0.6 1,0.5 1,0.7 1,0.9 1,1.1 1,1.1 1,1.2 1,1.2 1,1.1 1,1 1,1 1,1 1,1 1,0.9 1,0.8 1,0.8 1,0.7 1,0.7 1,0.7 1,0.6 1,0.6 1,0.5 1,0.3 1,0.3 1,0.3 1,0.2 1,0.2 1,0.1 1,0 1,-0.4 1,-1.1 1,-1.3 1,-1.5 1,-1.9 1,-2.4 1,-2.4 1,-1.8 1,-1.6 1,-1.4 1,-1 1,-0.2 1,0 1,0 1,0 1,0 1,0.6 1,1.2 1,1.3 1,1.3 1,1.6 1,1.8 1,1.8 1,1.6 1,1.6 1,1.6 1,1 1,0.1 1,-0.3 1,-0.4 1,-0.6 1,-0.7 1,-1 1,-0.7 1,0.2 1,0.9 1,1.1 1,1.1 1,1.6 1,1.4 1,1 1,0.7 1,0.6 1,0.6 1,0.3 1,0.1 1,-0.1 1,-0.2 1,-0.4 1,-0.6 1,-1 1,-2.4 1,-2.2 1,-1.5 1,-1.2 1.2,-0.6 0.8,0.6 1,1.7 1,1.9 1,1.8 1,1.9 1,1.7 1,0.9 1,0.7 1,0.5 1,0.5 1,0.3 1,0.1 1,0 1,0 1,0 1,0 1,0 1,0 1,0 1,-0.2 1,-0.4 1,-0.8 1,-0.9 1,-1.1 1,-1.2 1,-1.6 1,-2.2 1,-2.7 1,-3 1,-3.4 1,-4.4 1,-5 1,-4.9 1,-5.5 1,-5.6 1,-4.4 1,-2.5 1,-2 1.1,-1 0.9,0.1 1,0.4 1,0.6 1,1.5 1,2.7 1,2.8 1,2.1 1,2 1,1.8 1,1.1 1,0.3 1,0.2 1,0.1 1,0.1 1,0 1,0 1,-0.1 1,-0.3 1,-0.4 1,-0.5 1,-1.6 1,-2.6 1,-3 1,-3.9 1,-5.4 1,-4.3 1,-1.9 1,-1.3 0.5,-0.2 0.5,0.3 1,1.9 1,2.6 1,3.6 1,4.6 1,4.5 1,3.8 1,3.7 1,3.5 1,3.1 1,2.7 1,2.4 1,2.3 1,1.9 1,1.4 1,1.1 1,0.9 1,0.8 1,0.6 1,0.3 0.5,0 0.5,0 1,-0.6 1,-1 1,-1.2 1,-1.5 1,-1.6 1,-2.4 1,-3.1 1,-3.5 1,-4 1,-4.9 1,-6.1 1,-6.6 1,-6.6 1,-6.5 1,-6.7 1,-6.9 1,-6.7 1,-6.4 1,-6.2 1,-6.1 1,-5.9 1,-5.7 1,-5.5 1,-5.4 1,-5 1,-4.5 1,-3.8 1,-3.6 1,-3.2 1,-2.7 1,-1.8 1,-1.4 1,-1.3 1,-0.9 1,-0.4 1,0 1,0.3 1,0.5 1,0.6 1,1.2 1,1.9 1,2.4 1,3.1 1,4.1 1,4.7 1,4.9 1,5 1,5.2 1,5.6 1,5.7 1,6.1 1,6.6 1,6.3 1,5.4 1,5 1,4.5 1,3.5 1,2.2 1,1.7 1,1.1 1,0.7 1,0.4 1,0.3 1,0.4 1,0.9 1,2.4 1,3.3 1,3.5 1,3.8 1,4.2 1,4.3 1,3.9 1,3.7 1,3.7 1,3.4 1,2.9 1,2.3 1,2.2 1,1.7 1,1.1 1,0.4 1,0.4 1,0.2 0.7,0 1.3,-1 1,-1.8 1,-2.4 1,-3.9 1,-6.9 1,-8.2 1,-8.1 1,-9.2 1,-9.4 1,-8.8 1,-9 1,-7.4 1,-4.6 1,-3.7 0.9,-1.5 1.1,0.9 1,2.2 1,4 1,7.7 1,8.4 1,10.4 1,6.9 1,2.4 1,1.1 1,-3.6 1,-8 1,-12.5 1,-16.9 1,-14.8 1,-14 1,-12.2 1,-10.8 1,-8.5 1,-3.6 1,-2.1 0.7,-0.6 1.3,1.2 1,2.2 1,4.4 1,9.7 1,10.1 1,10.1 1,10.3 1,9.4 1,8.9 1,8.4 1,7.7 1,7 1,6.7 1,6 1,5 1,4.3 1,3.9 1,3.3 1,2.4 1,1.6 1,1.4 1,1.1 1,0.8 0.8,0.2 1.2,-0.4 1,-0.8 1,-1 1,-1.6 1,-3.8 1,-5.5 1,-6.7 1,-9.7 1,-11.2 1,-11.5 1,-12.7 1,-12.1 1,-9.9 1,-9.3 1,-6.7 1,-3.6 1,-2.5 0.9,-1 1.1,1 1,2 1,3 1,5.9 1,7.3 1,7.4 1,8.4 1,8.1 1,7.6 1,7.5 1,6.1 1,5.1 1,4.4 1,1.9 1,-0.2 1,-0.5 1,-1.7 1,-4.5 1,-4.4 1,-4 1,-3 1,-0.2 1,0 1,0 1,0 1,0 1,0.1 1,0.3 1,0.4 1,0.6 1,2.8 1,5.9 1,5.9 1,5.1 1,5.1 1,4.3 1,3 1,2.3 1,2 1,1.8 1,1.6 1,1.6 1,1.6 1,1.6 1,1.4 1,1.4 1,1.2 1,1 1,1 1,0.9 1,0.9 1,0.8 1,0.8 1,0.7 1,0.7 1,0.6 1,0.7 1,0.6 1,0.5 1,0.5 1,0.5 1,0.5 1,0.5 1,0.5 1,0.6 1,0.6 1,0.8 1,0.7 1,0.8 1,0.8 1,0.7 1,0.5 1,0.4 1,0.3 1,0.2 1,0.2 0.4,0 0.6,-0.5 1,-2.5 1,-3.9 1,-7 1,-12.7 1,-12.4 1,-13.2 1,-8.9 1,-4.1 1.3,-2.5 0.7,0.8 1,3.3 1,4.1 1,5.7 1,6.7 1,6.2 1,6.5 1,6.2 1,4.9 1,3.5 1,3 1,2.6 1,2.2 1,1.8 1,1.5 1,1.4 1,1.3 1,1.1 1,1 1,0.8 1,0.7 1,0.7 1,0.6 1,0.6 1,0.5 1,0.5 1,0.4 1,0.3 1,0.2 1,0.2 1,0.2 1,0.1 1,0.1 1,0.1 1,0.1 1,0.1 1,0 1,0 1,-0.1 1,-0.1 1,-0.3 1,-0.3 1,-0.3 1,-0.3 1,-0.2 1,-0.1 1,0 1,0.2 1,0.3 1,0.4 1,0.4 1,0.5 1,0.5 1,0.3 1,0.3 1,0.1 1,0 1,0.1 1,0 1,0.1 1,0 1,0 1,0 1,0.1 1,0 1,0.1 1,0.1 1,0.1 1,0.3 1,0.3 1,0.4 1,0.5 1,0.5 1,0.6 1,0.6 1,0.9 1,0.9 1,1 1,0.8 1,0.7 1,0.7 1,0.5 1,0.3 1,-0.2 1,-0.7 1,-0.8 1,-0.6 1,-0.1 1,0 1,0 1,0 1,0.3 1,0.7 1,1 1,1.1 1,1 1,0.8 1,0.7 1,0.7 1,0.7 1,0.6 1,0.6 1,0.4 1,0.3 1,0.3 1,0.2 1,0.2 1,0.2 1,0.2 1,0.1 1,0.1 1,0.1 1,0 1,-0.1 1,-0.2 1,-0.3 1,-0.3 1,-0.4 1,-0.6 1,-1.2 1,-1.7 1,-2.2 1,-2.5 1,-3.8 1,-5.2 1,-6.1 1,-7.8 1,-10.3 1,-11 1,-11.3 1,-12 1,-8.8 1,-4.8 1,-3.7 1.1,-1.5 0.9,1.7 1,4.3 1,5.6 1,8.6 1,8 1,4.6 1,3.7 1.3,2.1 0.7,-0.4 1,-1.4 1,-2.1 1,-3.4 1,-5.4 1,-5.7 1,-6 1,-6.3 1,-4.3 1,-2.4 1,-1.4 0.4,-0.1 0.6,0.7 1,3.2 1,4 1,6.2 1,5.9 1,3.1 1,2.1 0.7,0.5 1.3,-2.2 1,-3.7 1,-5.3 1,-8.9 1,-9.7 1,-8.8 1,-9 1,-8.1 1,-7.2 1,-6.2 1,-2.5 1,-1.2 0.9,-0.4 1.1,2.7 1,5 1,5.6 1,7.3 1,7.3 1,6 1,5.4 1,5 1,4.5 1,3.9 1,3.8 1,3.4 1,2.9 1,2.5 1,2 1,1.8 1,1.6 1,1.6 1,1.5 1,1.6 1,1.7 1,1.8 1,1.8 1,2 1,2.1 1,3.2 1,3.6 1.1,1.9 0.9,-0.4 1,-0.8 1,-1.1 1,-1.6 1,-1.8 0.6,-0.5 0.4,0.1 1,1.6 1,2.5 1,2.6 1,3.6 1,4 1,3.5 1,2.6 1,2.4 1,2.1 1,1.8 1,1.5 1,1.4 1,1.4 1,1.2 1,1 1,0.6 0.6,0.1 0.4,0 1,-0.2 1,-0.3 1,-0.4 1,-0.5 1,-0.5 1,-0.9 1,-1.3 1,-1.2 1,-0.8 1,-0.1 1,0 1,0 1,0 1,0.1 1,0.7 1,1.1 1,1.3 1,1.3 1,0.9 1,0.9 1,0.9 1,0.7 1,0.4 0.4,0 0.6,-0.1 1,-1.1 1,-1.8 1,-2.2 1,-2.5 1,-3.7 1,-4.2 1,-4 1,-3.4 1,-3.5 1,-3.3 1,-2.7 1,-1.8 1,-1.4 1,-1.3 1,-0.8 0.8,-0.2 1.2,0.3 1,0.7 1,1 1,1.4 1,3.1 1,3.4 1,1.9 1,1.3 1,0.9 0.7,0.2 1.3,-1.6 1,-2.8 1,-3.6 1,-6.6 1,-7.8 1,-7.4 1,-7.2 1,-2.8 1,-0.8 1,-0.4 0.5,-0.1 0.5,0.9 1,5.5 1,7.3 1,11.6 1,9.7 1,4.1 1,2.8 0.6,0.5 0.4,-0.4 1,-3.1 1,-4.6 1,-5.8 1,-7.8 1,-7.9 1,-8.3 1,-8.4 1,-7.3 1,-6.5 1,-5.8 1,-4.2 1,-3.1 1,-2.8 1,-2 1,-0.9 1,0 1,0 1,0 1,0.2 1,2.6 1,4.7 1,7.9 1,12.2 1,11.3 1,11.6 1,6.6 1,3.2 1,2 1,0.6 1,0.2 1,0.1 1,0.1 1,0.1 1,0 1,-0.2 1,-0.5 1,-0.7 1,-0.6 1,-0.1 1,0 1,0 1,0 1,0 1,0.2 1,1.2 1,2.1 1,2.3 1,2.6 1,3.6 1,3.8 1,3.7 1,3.1 1,3.3 1,3 1,2.6 1,1.8 1,1.5 1,1.3 1,0.8 0.5,0.2 0.5,-0.5 1,-2.9 1,-4.4 1,-8.2 1,-10.2 1,-5.9 1,-4.3 0.9,-1.7 1.1,0.2 1,0.2 1,0.4 1,0.2 1,0.2 1,0.3 1,0.9 1,6.5 1,6.4 1,4.2 1.1,2.2 0.9,-0.2 1,-0.3 1.2,-0.1 0.8,1.1 1,3 1,3.4 1,4.6 1,4.5 1,2.3 1,1.4 1.2,0.7 0.8,-1.7 1,-4.8 1,-5.4 1,-6.2 1,-6.3 1,-3.3 1,-1.8 1,-1.1 0.8,-0.3 1.2,0.5 1,0.9 1,0.8 1,0.5 1,0 1,-0.1 1,-0.1 1,-0.2 1,-0.2 1,-0.7 1,-1.2 1,-1.4 1,-1.4 1,-1.3 1,-1.6 1,-1.6 1,-1.6 1,-1.4 1,-1.1 1,-0.7 1,-0.5 1,-0.5 1,-0.5 1,-0.7 1,-0.7 1,-0.9 1,-1.6 1,-6.1 1,-15.3 1,-22.8 1,-20.2 1,-16.6 1,-9.6 1,-6.6 1,-5.1 1,-3.7 1,-3.7 1,-4.6 1,-5.2 1,-6.3 1,-8.6 1,-13.5 1,-13.2 1,-12.9 1,-7.7 1,-2.6 1.1,-1.2 0.9,3.8 1,8.3 1,12.3 1,11.4 1,4.4 1,2.9 1,1.6 1,0.8 1,0.6 1,0.8 1,1.5 1,2.4 1,2.9 1,3.7 1,5.1 1,5.5 1,5.1 1,5.1 1,5 1,4.8 1,4.9 1,4.6 1,4 1,3.5 1,3.3 1,2.9 1,2.7 1,2.2 1,1.9 1,1.8 1,1.6 1,1.6 1,1.8 1,2 1,2.1 1,2.2 1,2.1 1,1.8 1,1.6 1,1.5 1,1.4 1,1.3 1,1.3 1,1.2 1,1.2 1,0.9 1,1.1 1,1 1,1 1,1 1,1.2 1,1.1 1,1.3 1,1.2 1,1.3 1,1.1 1,1.1 1,1.1 1,1 1,1 1,0.9 1,1 1,1.1 1,1.4 1,1.5 1,1.7 1,1.6 1,1.1 1,1 1,0.9 1,0.7 1,0.6 1,0.4 1,0.2 1,0.1 1,0 1,-0.2 1,-0.5 1,-0.9 1,-0.9 1,-1.1 1,-1 1,-0.7 1,-0.9 1,-0.8 1,-0.6 0.9,0.1 1.1,0.5 1,0.6 1,0.8 1,0.8 1,0.3 1,0.2 1,0.4 1,0.5 1,0.6 1,1.2 1,1.6 1,1.7 1,1.5 1,1.3 1,1.3 1,1.3 1,1.4 1,1.1 1,0.3 1,0.2 1,0.2 1,0 1,-0.1 1,-0.3 1,-0.9 1,-0.9 1,-0.9 1,-1.3 1,-1.8 1,-1.7 1,-1.1 1,-0.7 1,-0.6 1,-0.2 1,0.4 1,0.8 1,0.3 1,-0.1 1,-0.6 1,-0.9 1,-0.9 1,-0.5 1,-0.5 1,-0.4 1,-0.5 1,-0.6 1,-0.9 1,-1.3 1,-1.2 1,-0.8 1,-0.3 1,0.5 1,1 1,1.2 1,1.1 1,1.9 1,2.6 1,6.3 0.9,4.6 1.1,-7.3 0.2,-2.5" stroke="#ff8000" stroke-width="3"/><g class="o"><path d="M195,3667.5l1,0.1 1,-0.1 1,-0.2 1,-0.1 1,0 1,-0.3 1,-0.2 1,0 1,-0.1 1,0 1,0.1 1,0.2 1,0.2 1,0.1 1,0 1,0 1,-0.1 1,-0.3 1,-0.1 1,0 1,-0.1 1,0 1,0.2 1,-0.1 1,0 1,-0.1 1,-0.1 1,0 1,0.1 1,0.2 1,0.1 1,0.1 1,0.1 1,-0.2 1,-0.1 1,-0.1 1,0 1,0 1,0 1,0.1 1,0.2 1,0 1,0 1,0.1 1,0 1,0.2 1,0.2 1,0.5 1,0.2 1,0.3 1,-0.1 1,-0.1 1,-0.3 1,-0.2 1,-0.2 1,0.1 1,-0.2 1,0 1,0 1,0 1,-0.2 1,0 1,0 1,-0.2 1,-0.2 1,0 1,-0.2 1,-0.1 1,0 1,0.1 1,0 1,-0.1 1,0.1 1,0 1,-0.1 1,0 1,0.1 1,0.1 1,0.1 1,0.2 1,0 1,0 1,0 1,-0.3 1,-0.1 1,-0.1 1,0 1,0.1 1,0.1 1,0 1,0.1 1,0 1,0.1 1,0.2 1,0.2 1,0.2 1,0.2 1,-0.1 1,-0.1 1,0.1 1,-0.1 1,-0.2 1,-0.1 1,-0.1 1,-0.2 1,0 1,0.1 1,0.2 1,0.2 1,0.2 1,0.2 1,0 1,-0.2 1,0 1,-0.1 1,0 1,0.1 1,0.3 1,0.2 1,0.3 1,0.3 1,0.2 1,0.2 1,0.2 1,0.1 1,0 1,0 1,-0.2 1,-0.2 1,-0.2 1,-0.1 1,0 1,0.1 1,0.1 1,0 1,0 1,-0.1 1,0.1 1,-0.2 1,-0.3 1,-0.1 1,-0.2 1,-0.3 1,0 1,0.1 1,0 1,-0.1 1,0 1,0 1,0 1,0 1,0 1,0.1 1,-0.1 1,-0.3 1,-0.2 1,-0.1 1,0 1,0 1,0.2 1,0.4 1,0 1,-0.1 1,-0.1 1,-0.1 1,-0.4 1,0 1,0 1,0.2 1,0.2 1,0.3 1,0.1 1,0.3 1,0 1,-0.2 1,-0.2 1,0 1,-0.3 1,0 1,0 1,0.1 1,-0.1 1,0.1 1,0 1,0 1,0 1,-0.1 1,-0.2 1,-0.2 1,-0.3 1,0 1,-0.2 1,0 1,0.1 1,0.3 1,0.1 1,0.1 1,0.2 1,0.1 1,0.1 1,0.2 1,0.3 1,0.1 1,-0.1 1,-0.1 1,-0.3 1,-0.3 1,-0.1 1,0 1,0.1 1,0.3 1,0.3 1,0.1 1,0 1,-0.2 1,-0.3 1,-0.3 1,-0.4 1,-0.1 1,-0.1 1,-0.1 1,0 1,0.2 1,0.1 1,0.1 1,0.2 1,0.1 1,0.1 1,0.2 1,0.1 1,0.2 1,0.1 1,0.1 1,0 1,-0.1 1,-0.1 1,-0.1 1,-0.1 1,0 1,0 1,-0.1 1,0 1,0.2 1,0.1 1,0.2 1,0.3 1,0.3 1,0.3 1,0.3 1,0.1 1,0 1,-0.1 1,-0.1 1,-0.1 1,0 1,-0.1 1,0 1,0 1,-0.1 1,-0.1 1,0.3 1,0.1 1,0.1 1,0.1 1,0.2 1,0 1,-0.1 1,-0.1 1,-0.1 1,0 1,0 1,0.1 1,0.1 1,-0.1 1,0 1,-0.1 1,-0.1 1,0 1,0.1 1,0.1 1,0 1,0.1 1,0 1,-0.1 1,0 1,0 1,0.2 1,0 1,0 1,0.1 1,0.1 1,-0.1 1,0.1 1,0.1 1,0 1,0 1,0.2 1,0.2 1,0 1,0.1 1,-0.2 1,-0.5 1,-0.4 1,-0.4 1,-0.2 1,-0.2 1,-0.1 1,0.1 1,0.2 1,0.1 1,0.3 1,0.6 1,0.3 1,0.2 1,0 1,-0.1 1,-0.3 1,-0.4 1,-0.3 1,-0.2 1,-0.1 1,0.1 1,0.3 1,1.3 1,1.5 1,0.9 1,0.1 1,0.1 1,0.2 1,0.1 1,-0.1 1,-0.2 1,-0.4 1,-0.6 1,-0.5 1,-0.4 1,-0.5 1,-0.3 1,-0.1 1,-0.1 1,-0.1 1,0.1 1,0 1,-0.1 1,0 1,-0.1 1,0 1,0.1 1,0.1 1,0 1,0 1,0 1,-0.2 1,-0.1 1,-0.2 1,-0.4 1,-0.3 1,-0.2 1,-0.2 1,0.1 1,0.3 1,0.4 1,0.2 1,0.2 1,-0.1 1,-0.2 1,-0.2 1,0 1,0 1,0.1 1,0.1 1,0 1,-0.2 1,0 1,-0.1 1,0 1,0.2 1,0.2 1,0.2 1,0.1 1,0.1 1,-0.1 1,-0.1 1,-0.2 1,-0.1 1,0 1,-0.3 1,0 1,-0.1 1,0 1,0 1,0.2 1,0 1,0.2 1,0.2 1,0 1,0 1,0 1,0 1,-0.1 1,0 1,0 1,0 1,0 1,0 1,-0.1 1,0.1 1,0 1,-0.1 1,-0.1 1,-0.1 1,-0.3 1,-0.3 1,-0.3 1,-0.2 1,-0.2 1,-0.1 1,0 1,0.1 1,0 1,-0.2 1,-0.2 1,0 1,-0.1 1,-0.2 1,0.1 1,0 1,0 1,0.1 1,0.2 1,0.1 1,0.2 1,0.1 1,0.1 1,0 1,0 1,0 1,0.2 1,0.2 1,0.3 1,0.2 1,0.3 1,0.1 1,0.1 1,0.2 1,0.4 1,0.3 1,0.3 1,0.3 1,0.2 1,0 1,0.2 1,0.1 1,0.1 1,0.2 1,0.1 1,0.1 1,0 1,0 1,-0.2 1,-0.2 1,-0.1 1,-0.2 1,0.1 1,0.2 1,0.1 1,0 1,0 1,-0.2 1,-0.2 1,-0.2 1,0 1,0 1,0.1 1,0.1 1,0.1 1,0 1,-0.1 1,-0.2 1,-0.1 1,-0.2 1,-0.1 1,0.2 1,0.1 1,0.1 1,0 1,-0.3 1,-0.4 1,-0.3 1,-0.4 1,-0.4 1,-0.3 1,-0.1 1,-0.1 1,-0.1 1,0.2 1,0.2 1,0.1 1,0.2 1,0.1 1,-0.1 1,0.1 1,0.1 1,-0.1 1,0.1 1,0.1 1,-0.1 1,0.1 1,0.2 1,0.3 1,-0.1 1,0.1 1,0 1,0 1,-0.2 1,0.1 1,0.1 1,0.1 1,0.2 1,0.4 1,0.3 1,0.5 1,0.3 1,0.1 1,0 1,-0.2 1,-0.3 1,-0.2 1,-0.3 1,-0.3 1,-0.2 1,-0.2 1,-0.1 1,0 1,0 1,0.1 1,0.1 1,0.1 1,0.1 1,0.1 1,0 1,0 1,-0.1 1,-0.1 1,0 1,-0.2 1,-0.3 1,-0.3 1,-0.3 1,-0.4 1,-0.4 1,-0.2 1,-0.2 1,-0.2 1,-0.1 1,0 1,0.1 1,0 1,0 1,-0.2 1,-0.1 1,-0.3 1,-0.1 1,0 1,-0.1 1,0 1,-0.2 1,-0.3 1,-0.2 1,-0.3 1,-0.2 1,-0.1 1,0.2 1,0.2 1,0.2 1,0.3 1,0.3 1,0.2 1,0.4 1,0.3 1,0.2 1,0.1 1,0.1 1,0.1 1,0 1,0.2 1,0.1 1,0.2 1,0.3 1,0.3 1,0.1 1,0.1 1,-0.1 1,-0.2 1,-0.1 1,-0.2 1,0 1,0.3 1,0.2 1,0.3 1,0.3 1,0.2 1,0.1 1,0.4 1,0.2 1,0.2 1,0.1 1,0 1,-0.3 1,-0.2 1,-0.3 1,0.1 1,0.1 1,0.4 1,0.4 1,0.3 1,0.2 1,0.1 1,-0.2 1,-0.1 1,-0.2 1,-0.2 1,-0.2 1,0.2 1,0 1,0 1,0.3 1,0.2 1,-0.2 1,0 1,0.1 1,-0.3 1,-0.1 1,0.2 1,0.3 1,0 1,0 1,0 1,-0.3 1,-0.4 1,-0.1 1,0 1,0.1 1,0.2 1,0.3 1,0.1 1,0 1,0 1,-0.1 1,0 1,-0.1 1,0.1 1,-0.1 1,-0.3 1,-0.3 1,-0.1 1,-0.2 1,0.1 1,0.1 1,0 1,0 1,0 1,-0.1 1,0 1,0.1 1,0.1 1,0.1 1,0 1,-0.2 1,-0.1 1,-0.1 1,-0.3 1,-0.1 1,0 1,0 1,-0.2 1,-0.1 1,-0.1 1,-0.2 1,-0.1 1,0 1,0.3 1,0.2 1,0.3 1,0.2 1,0 1,-0.1 1,-0.1 1,-0.1 1,0 1,0.1 1,0.2 1,0.1 1,0.1 1,0 1,0 1,-0.2 1,-0.1 1,-0.2 1,-0.1 1,0 1,0 1,0.1 1,0.2 1,0 1,0.1 1,0.1 1,0 1,0 1,0 1,0.1 1,0 1,0 1,0 1,0 1,-0.1 1,0 1,0.1 1,-0.1 1,0.1 1,0.1 1,0 1,0 1,0 1,0 1,0 1,0.1 1,0.1 1,0.1 1,0.2 1,0.1 1,-0.1 1,0 1,0 1,-0.1 1,0 1,0 1,0 1,0 1,0.1 1,0.1 1,0.1 1,0.1 1,0.1 1,0 1,0 1,0 1,0 1,-0.1 1,0 1,0 1,0 1,0 1,0 1,0 1,0 1,-0.1 1,0 1,-0.1 1,-0.1 1,0 1,0 1,-0.1 1,-0.1 1,-0.1 1,-0.2 1,-0.2 1,-0.2 1,0 1,-0.1 1,0 1,0 1,0 1,0 1,0 1,0 1,0 1,-0.1 1,-0.1 1,0 1,-0.1 1,0 1,0.1 1,0 1,-0.1 1,0 1,0 1,0 1,-0.1 1,0 1,0 1,0 1,0 1,0.1 1,0 1,-0.1 1,0 1,0 1,0 1,0 1,0 1,-0.1 1,0 1,0 1,0 1,0 1,0 1,-0.1 1,0 1,0 1,0 1,0 1,0 1,-0.1 1,0 1,0 1,0 1,-0.1 1,0 1,0 1,0 1,-0.1 1,0 1,0 1,0 1,-0.1 1,0 1,-0.1 1,0 1,0 1,-0.1 1,0 1,-0.1 1,-0.1 1,0 1,-0.1 1,-0.2 1,-0.1 1,-0.2 1,-0.2 1,-0.3 1,-0.2 1,-0.3 1,-0.3 1,-0.3 1,-0.5 1,-0.6 1,-0.8 1,-0.7 1,-0.8 1,-0.6 1,-0.6 1,-0.4 1,-0.4 1,-0.3 1,-0.3 1,-0.3 1,-0.5 1,-0.5 1,-0.8 1,-1.1 1,-1.5 1,-1.9 1,-2.7 1,-5.5 1,-7.1 1,-7.2 1,-8.2 1,-8.4 1,-7.4 1,-7.3 1,-6 1,-4 1,-3.5 1.3,-2 0.7,0 1,0.2 1,0.3 1,0.9 1,2.4 1,3.7 1,5.2 1,12.2 1,8.3 1,5.1 1,4.4 1,4.5 1,4.7 1,4.2 1,3.3 1,2.4 1,2.1 1,1.9 1,1.6 1,1.7 1,1.7 1,1.6 1,1.4 1,1.3 1,1 1,0.7 1,0.6 1,0.5 1,0.5 1,0.4 1,0.4 1,0.3 1,0.4 1,0.3 1,0.4 1,0.3 1,0.3 1,0.2 1,0.3 1,0.2 1,0.1 1,0.1 1,0.1 1,0.1 1,0.1 1,0.1 1,0.1 1,0 1,0 1,0 1,0 1,0 1,-0.1 1,-0.2 1,-0.2 1,-0.2 1,-0.2 1,-0.3 1,-0.3 1,-0.4 1,-0.6 1,-0.8 1,-1 1,-1.2 1,-1.3 1,-1.7 1,-2.3 1,-2.8 1,-3.5 1,-5.1 1,-7.4 1,-8.1 1,-8.9 1,-9.8 1,-8.2 1,-6.7 1,-4.9 1,-1 1,-0.4 0.4,0 0.6,1.5 1,6 1,7 1,8.1 1,3.7 1,1.8 0.5,0.3 0.5,-0.7 1,-4.8 1,-8 1,-15.3 1,-15.7 1,-16 1,-9.8 1,-6 1,-2.8 1,-0.4 1.1,-0.2 0.9,3.5 1,7.4 1,8.2 1,9.4 1,7.4 1,6 1,6.4 1,7.9 1,7.4 1,5.6 1,4.9 1,3.4 1,2.1 1,1.6 1,1.3 1,1.2 1,1.2 1,1.3 1,1.2 1,1.2 1,1.2 1,1.3 1,1.3 1,1.7 1,1.9 1,1.9 1,1.4 1,0.9 1,0.7 1,0.6 1,0.6 1,0.5 1,0.7 1,0.9 1,1.1 1,1.1 1,1.2 1,1.2 1,1.1 1,1 1,1 1,1 1,1 1,0.9 1,0.8 1,0.8 1,0.7 1,0.7 1,0.7 1,0.6 1,0.6 1,0.5 1,0.3 1,0.3 1,0.3 1,0.2 1,0.2 1,0.1 1,0 1,-0.4 1,-1.1 1,-1.3 1,-1.5 1,-1.9 1,-2.4 1,-2.4 1,-1.8 1,-1.6 1,-1.4 1,-1 1,-0.2 1,0 1,0 1,0 1,0 1,0.6 1,1.2 1,1.3 1,1.3 1,1.6 1,1.8 1,1.8 1,1.6 1,1.6 1,1.6 1,1 1,0.1 1,-0.3 1,-0.4 1,-0.6 1,-0.7 1,-1 1,-0.7 1,0.2 1,0.9 1,1.1 1,1.1 1,1.6 1,1.4 1,1 1,0.7 1,0.6 1,0.6 1,0.3 1,0.1 1,-0.1 1,-0.2 1,-0.4 1,-0.6 1,-1 1,-2.4 1,-2.2 1,-1.5 1,-1.2 1.2,-0.6 0.8,0.6 1,1.7 1,1.9 1,1.8 1,1.9 1,1.7 1,0.9 1,0.7 1,0.5 1,0.5 1,0.3 1,0.1 1,0 1,0 1,0 1,0 1,0 1,0 1,0 1,-0.2 1,-0.4 1,-0.8 1,-0.9 1,-1.1 1,-1.2 1,-1.6 1,-2.2 1,-2.7 1,-3 1,-3.4 1,-4.4 1,-5 1,-4.9 1,-5.5 1,-5.6 1,-4.4 1,-2.5 1,-2 1.1,-1 0.9,0.1 1,0.4 1,0.6 1,1.5 1,2.7 1,2.8 1,2.1 1,2 1,1.8 1,1.1 1,0.3 1,0.2 1,0.1 1,0.1 1,0 1,0 1,-0.1 1,-0.3 1,-0.4 1,-0.5 1,-1.6 1,-2.6 1,-3 1,-3.9 1,-5.4 1,-4.3 1,-1.9 1,-1.3 0.5,-0.2 0.5,0.3 1,1.9 1,2.6 1,3.6 1,4.6 1,4.5 1,3.8 1,3.7 1,3.5 1,3.1 1,2.7 1,2.4 1,2.3 1,1.9 1,1.4 1,1.1 1,0.9 1,0.8 1,0.6 1,0.3 0.5,0 0.5,0 1,-0.6 1,-1 1,-1.2 1,-1.5 1,-1.6 1,-2.4 1,-3.1 1,-3.5 1,-4 1,-4.9 1,-6.1 1,-6.6 1,-6.6 1,-6.5 1,-6.7 1,-6.9 1,-6.7 1,-6.4 1,-6.2 1,-6.1 1,-5.9 1,-5.7 1,-5.5 1,-5.4 1,-5 1,-4.5 1,-3.8 1,-3.6 1,-3.2 1,-2.7 1,-1.8 1,-1.4 1,-1.3 1,-0.9 1,-0.4 1,0 1,0.3 1,0.5 1,0.6 1,1.2 1,1.9 1,2.4 1,3.1 1,4.1 1,4.7 1,4.9 1,5 1,5.2 1,5.6 1,5.7 1,6.1 1,6.6 1,6.3 1,5.4 1,5 1,4.5 1,3.5 1,2.2 1,1.7 1,1.1 1,0.7 1,0.4 1,0.3 1,0.4 1,0.9 1,2.4 1,3.3 1,3.5 1,3.8 1,4.2 1,4.3 1,3.9 1,3.7 1,3.7 1,3.4 1,2.9 1,2.3 1,2.2 1,1.7 1,1.1 1,0.4 1,0.4 1,0.2 0.7,0 1.3,-1 1,-1.8 1,-2.4 1,-3.9 1,-6.9 1,-8.2 1,-8.1 1,-9.2 1,-9.4 1,-8.8 1,-9 1,-7.4 1,-4.6 1,-3.7 0.9,-1.5 1.1,0.9 1,2.2 1,4 1,7.7 1,8.4 1,10.4 1,6.9 1,2.4 1,1.1 1,-3.6 1,-8 1,-12.5 1,-16.9 1,-14.8 1,-14 1,-12.2 1,-10.8 1,-8.5 1,-3.6 1,-2.1 0.7,-0.6 1.3,1.2 1,2.2 1,4.4 1,9.7 1,10.1 1,10.1 1,10.3 1,9.4 1,8.9 1,8.4 1,7.7 1,7 1,6.7 1,6 1,5 1,4.3 1,3.9 1,3.3 1,2.4 1,1.6 1,1.4 1,1.1 1,0.8 0.8,0.2 1.2,-0.4 1,-0.8 1,-1 1,-1.6 1,-3.8 1,-5.5 1,-6.7 1,-9.7 1,-11.2 1,-11.5 1,-12.7 1,-12.1 1,-9.9 1,-9.3 1,-6.7 1,-3.6 1,-2.5 0.9,-1 1.1,1 1,2 1,3 1,5.9 1,7.3 1,7.4 1,8.4 1,8.1 1,7.6 1,7.5 1,6.1 1,5.1 1,4.4 1,1.9 1,-0.2 1,-0.5 1,-1.7 1,-4.5 1,-4.4 1,-4 1,-3 1,-0.2 1,0 1,0 1,0 1,0 1,0.1 1,0.3 1,0.4 1,0.6 1,2.8 1,5.9 1,5.9 1,5.1 1,5.1 1,4.3 1,3 1,2.3 1,2 1,1.8 1,1.6 1,1.6 1,1.6 1,1.6 1,1.4 1,1.4 1,1.2 1,1 1,1 1,0.9 1,0.9 1,0.8 1,0.8 1,0.7 1,0.7 1,0.6 1,0.7 1,0.6 1,0.5 1,0.5 1,0.5 1,0.5 1,0.5 1,0.5 1,0.6 1,0.6 1,0.8 1,0.7 1,0.8 1,0.8 1,0.7 1,0.5 1,0.4 1,0.3 1,0.2 1,0.2 0.4,0 0.6,-0.5 1,-2.5 1,-3.9 1,-7 1,-12.7 1,-12.4 1,-13.2 1,-8.9 1,-4.1 1.3,-2.5 0.7,0.8 1,3.3 1,4.1 1,5.7 1,6.7 1,6.2 1,6.5 1,6.2 1,4.9 1,3.5 1,3 1,2.6 1,2.2 1,1.8 1,1.5 1,1.4 1,1.3 1,1.1 1,1 1,0.8 1,0.7 1,0.7 1,0.6 1,0.6 1,0.5 1,0.5 1,0.4 1,0.3 1,0.2 1,0.2 1,0.2 1,0.1 1,0.1 1,0.1 1,0.1 1,0.1 1,0 1,0 1,-0.1 1,-0.1 1,-0.3 1,-0.3 1,-0.3 1,-0.3 1,-0.2 1,-0.1 1,0 1,0.2 1,0.3 1,0.4 1,0.4 1,0.5 1,0.5 1,0.3 1,0.3 1,0.1 1,0 1,0.1 1,0 1,0.1 1,0 1,0 1,0 1,0.1 1,0 1,0.1 1,0.1 1,0.1 1,0.3 1,0.3 1,0.4 1,0.5 1,0.5 1,0.6 1,0.6 1,0.9 1,0.9 1,1 1,0.8 1,0.7 1,0.7 1,0.5 1,0.3 1,-0.2 1,-0.7 1,-0.8 1,-0.6 1,-0.1 1,0 1,0 1,0 1,0.3 1,0.7 1,1 1,1.1 1,1 1,0.8 1,0.7 1,0.7 1,0.7 1,0.6 1,0.6 1,0.4 1,0.3 1,0.3 1,0.2 1,0.2 1,0.2 1,0.2 1,0.1 1,0.1 1,0.1 1,0 1,-0.1 1,-0.2 1,-0.3 1,-0.3 1,-0.4 1,-0.6 1,-1.2 1,-1.7 1,-2.2 1,-2.5 1,-3.8 1,-5.2 1,-6.1 1,-7.8 1,-10.3 1,-11 1,-11.3 1,-12 1,-8.8 1,-4.8 1,-3.7 1.1,-1.5 0.9,1.7 1,4.3 1,5.6 1,8.6 1,8 1,4.6 1,3.7 1.3,2.1 0.7,-0.4 1,-1.4 1,-2.1 1,-3.4 1,-5.4 1,-5.7 1,-6 1,-6.3 1,-4.3 1,-2.4 1,-1.4 0.4,-0.1 0.6,0.7 1,3.2 1,4 1,6.2 1,5.9 1,3.1 1,2.1 0.7,0.5 1.3,-2.2 1,-3.7 1,-5.3 1,-8.9 1,-9.7 1,-8.8 1,-9 1,-8.1 1,-7.2 1,-6.2 1,-2.5 1,-1.2 0.9,-0.4 1.1,2.7 1,5 1,5.6 1,7.3 1,7.3 1,6 1,5.4 1,5 1,4.5 1,3.9 1,3.8 1,3.4 1,2.9 1,2.5 1,2 1,1.8 1,1.6 1,1.6 1,1.5 1,1.6 1,1.7 1,1.8 1,1.8 1,2 1,2.1 1,3.2 1,3.6 1.1,1.9 0.9,-0.4 1,-0.8 1,-1.1 1,-1.6 1,-1.8 0.6,-0.5 0.4,0.1 1,1.6 1,2.5 1,2.6 1,3.6 1,4 1,3.5 1,2.6 1,2.4 1,2.1 1,1.8 1,1.5 1,1.4 1,1.4 1,1.2 1,1 1,0.6 0.6,0.1 0.4,0 1,-0.2 1,-0.3 1,-0.4 1,-0.5 1,-0.5 1,-0.9 1,-1.3 1,-1.2 1,-0.8 1,-0.1 1,0 1,0 1,0 1,0.1 1,0.7 1,1.1 1,1.3 1,1.3 1,0.9 1,0.9 1,0.9 1,0.7 1,0.4 0.4,0 0.6,-0.1 1,-1.1 1,-1.8 1,-2.2 1,-2.5 1,-3.7 1,-4.2 1,-4 1,-3.4 1,-3.5 1,-3.3 1,-2.7 1,-1.8 1,-1.4 1,-1.3 1,-0.8 0.8,-0.2 1.2,0.3 1,0.7 1,1 1,1.4 1,3.1 1,3.4 1,1.9 1,1.3 1,0.9 0.7,0.2 1.3,-1.6 1,-2.8 1,-3.6 1,-6.6 1,-7.8 1,-7.4 1,-7.2 1,-2.8 1,-0.8 1,-0.4 0.5,-0.1 0.5,0.9 1,5.5 1,7.3 1,11.6 1,9.7 1,4.1 1,2.8 0.6,0.5 0.4,-0.4 1,-3.1 1,-4.6 1,-5.8 1,-7.8 1,-7.9 1,-8.3 1,-8.4 1,-7.3 1,-6.5 1,-5.8 1,-4.2 1,-3.1 1,-2.8 1,-2 1,-0.9 1,0 1,0 1,0 1,0.2 1,2.6 1,4.7 1,7.9 1,12.2 1,11.3 1,11.6 1,6.6 1,3.2 1,2 1,0.6 1,0.2 1,0.1 1,0.1 1,0.1 1,0 1,-0.2 1,-0.5 1,-0.7 1,-0.6 1,-0.1 1,0 1,0 1,0 1,0 1,0.2 1,1.2 1,2.1 1,2.3 1,2.6 1,3.6 1,3.8 1,3.7 1,3.1 1,3.3 1,3 1,2.6 1,1.8 1,1.5 1,1.3 1,0.8 0.5,0.2 0.5,-0.5 1,-2.9 1,-4.4 1,-8.2 1,-10.2 1,-5.9 1,-4.3 0.9,-1.7 1.1,0.2 1,0.2 1,0.4 1,0.2 1,0.2 1,0.3 1,0.9 1,6.5 1,6.4 1,4.2 1.1,2.2 0.9,-0.2 1,-0.3 1.2,-0.1 0.8,1.1 1,3 1,3.4 1,4.6 1,4.5 1,2.3 1,1.4 1.2,0.7 0.8,-1.7 1,-4.8 1,-5.4 1,-6.2 1,-6.3 1,-3.3 1,-1.8 1,-1.1 0.8,-0.3 1.2,0.5 1,0.9 1,0.8 1,0.5 1,0 1,-0.1 1,-0.1 1,-0.2 1,-0.2 1,-0.7 1,-1.2 1,-1.4 1,-1.4 1,-1.3 1,-1.6 1,-1.6 1,-1.6 1,-1.4 1,-1.1 1,-0.7 1,-0.5 1,-0.5 1,-0.5 1,-0.7 1,-0.7 1,-0.9 1,-1.6 1,-6.1 1,-15.3 1,-22.8 1,-20.2 1,-16.6 1,-9.6 1,-6.6 1,-5.1 1,-3.7 1,-3.7 1,-4.6 1,-5.2 1,-6.3 1,-8.6 1,-13.5 1,-13.2 1,-12.9 1,-7.7 1,-2.6 1.1,-1.2 0.9,3.8 1,8.3 1,12.3 1,11.4 1,4.4 1,2.9 1,1.6 1,0.8 1,0.6 1,0.8 1,1.5 1,2.4 1,2.9 1,3.7 1,5.1 1,5.5 1,5.1 1,5.1 1,5 1,4.8 1,4.9 1,4.6 1,4 1,3.5 1,3.3 1,2.9 1,2.7 1,2.2 1,1.9 1,1.8 1,1.6 1,1.6 1,1.8 1,2 1,2.1 1,2.2 1,2.1 1,1.8 1,1.6 1,1.5 1,1.4 1,1.3 1,1.3 1,1.2 1,1.2 1,0.9 1,1.1 1,1 1,1 1,1 1,1.2 1,1.1 1,1.3 1,1.2 1,1.3 1,1.1 1,1.1 1,1.1 1,1 1,1 1,0.9 1,1 1,1.1 1,1.4 1,1.5 1,1.7 1,1.6 1,1.1 1,1 1,0.9 1,0.7 1,0.6 1,0.4 1,0.2 1,0.1 1,0 1,-0.2 1,-0.5 1,-0.9 1,-0.9 1,-1.1 1,-1 1,-0.7 1,-0.9 1,-0.8 1,-0.6 0.9,0.1 1.1,0.5 1,0.6 1,0.8 1,0.8 1,0.3 1,0.2 1,0.4 1,0.5 1,0.6 1,1.2 1,1.6 1,1.7 1,1.5 1,1.3 1,1.3 1,1.3 1,1.4 1,1.1 1,0.3 1,0.2 1,0.2 1,0 1,-0.1 1,-0.3 1,-0.9 1,-0.9 1,-0.9 1,-1.3 1,-1.8 1,-1.7 1,-1.1 1,-0.7 1,-0.6 1,-0.2 1,0.4 1,0.8 1,0.3 1,-0.1 1,-0.6 1,-0.9 1,-0.9 1,-0.5 1,-0.5 1,-0.4 1,-0.5 1,-0.6 1,-0.9 1,-1.3 1,-1.2 1,-0.8 1,-0.3 1,0.5 1,1 1,1.2 1,1.1 1,1.9 1,2.6 1,6.3 0.9,4.6 1.1,-7.3 0.2,-2.5"/></g>
</g>
<g fill="#000" shape-rendering="crispEdges"><rect x="191" y="1487" width="2016" height="6"/><rect x="191" y="1487" width="6" height="35"/><rect x="430" y="1487" width="7" height="21"/><rect x="669" y="1487" width="7" height="35"/><rect x="908" y="1487" width="7" height="21"/><rect x="1148" y="1487" width="6" height="35"/><rect x="1387" y="1487" width="7" height="21"/><rect x="1626" y="1487" width="7" height="35"/><rect x="1865" y="1487" width="7" height="21"/><rect x="2105" y="1487" width="6" height="35"/></g>
<g fill="#000" shape-rendering="crispEdges"><rect x="191" y="3677" width="2016" height="7"/><rect x="191" y="3677" width="6" height="36"/><rect x="430" y="3677" width="7" height="22"/><rect x="669" y="3677" width="7" height="36"/><rect x="908" y="3677" width="7" height="22"/><rect x="1148" y="3677" width="6" height="36"/><rect x="1387" y="3677" width="7" height="22"/><rect x="1626" y="3677" width="7" height="36"/><rect x="1865" y="3677" width="7" height="22"/><rect x="2105" y="3677" width="6" height="36"/></g>
<text x="218" y="217" font-size="77" >[EMIM][Tf<tspan font-size="46" dy="27">2</tspan><tspan dy="-27">N]@ZIF-8 High</tspan></text>
<text x="218" y="526" font-size="77" >10wt.% IL@ZIF-8 High (PSf)</text>
<text x="218" y="811" font-size="77" >[EMIM][Tf<tspan font-size="46" dy="27">2</tspan><tspan dy="-27">N]@ZIF-8 Low</tspan></text>
<text x="218" y="1120" font-size="77" >10wt.% IL@ZIF-8 Low(PSf)</text>
<text x="216" y="1405" font-size="77" >PSf</text>
<text x="198" y="2374" font-size="77" >[EMIM][Tf<tspan font-size="46" dy="27">2</tspan><tspan dy="-27">N]@ZIF-8 High</tspan></text>
<text x="198" y="2682" font-size="77" >30wt.% IL@ZIF-8 High (PSf)</text>
<text x="198" y="2968" font-size="77" >[EMIM][Tf<tspan font-size="46" dy="27">2</tspan><tspan dy="-27">N]@ZIF-8 Low</tspan></text>
<text x="198" y="3276" font-size="77" >30wt.% IL@ZIF-8 Low(PSf)</text>
<text x="196" y="3562" font-size="77" >PSf</text>
<text x="33.4" y="262" font-size="108" font-weight="bold"><tspan font-size="111">(</tspan><tspan dx="-1.3">d</tspan><tspan font-size="111" dx="1.3">)</tspan></text>
<text x="19.1" y="2456" font-size="108" font-weight="bold"><tspan font-size="111">(</tspan><tspan dx="0">e</tspan><tspan font-size="111" dx="0.3">)</tspan></text>
<text x="194.0" y="1636.0" font-size="92.5" text-anchor="middle">2500</text>
<text x="672.5" y="1636.0" font-size="92.5" text-anchor="middle">2000</text>
<text x="1151.0" y="1636.0" font-size="92.5" text-anchor="middle">1500</text>
<text x="1629.5" y="1636.0" font-size="92.5" text-anchor="middle">1000</text>
<text x="2108.0" y="1636.0" font-size="92.5" text-anchor="middle">500</text>
<text x="194.0" y="3827.0" font-size="92.5" text-anchor="middle">2500</text>
<text x="672.5" y="3827.0" font-size="92.5" text-anchor="middle">2000</text>
<text x="1151.0" y="3827.0" font-size="92.5" text-anchor="middle">1500</text>
<text x="1629.5" y="3827.0" font-size="92.5" text-anchor="middle">1000</text>
<text x="2108.0" y="3827.0" font-size="92.5" text-anchor="middle">500</text>
<text x="757.5" y="1800.0" font-size="108.5">Wavenumber (cm<tspan font-size="72.4" dx="-1.8" dy="-46.4">−</tspan><tspan font-size="65" dx="-3" dy="-6.6">1</tspan><tspan dx="0.7" dy="53">)</tspan></text>
<text x="757.5" y="3992.0" font-size="108.5">Wavenumber (cm<tspan font-size="72.4" dx="-1.8" dy="-46.4">−</tspan><tspan font-size="65" dx="-3" dy="-6.6">1</tspan><tspan dx="0.7" dy="53">)</tspan></text>
</svg>
</body></html>
